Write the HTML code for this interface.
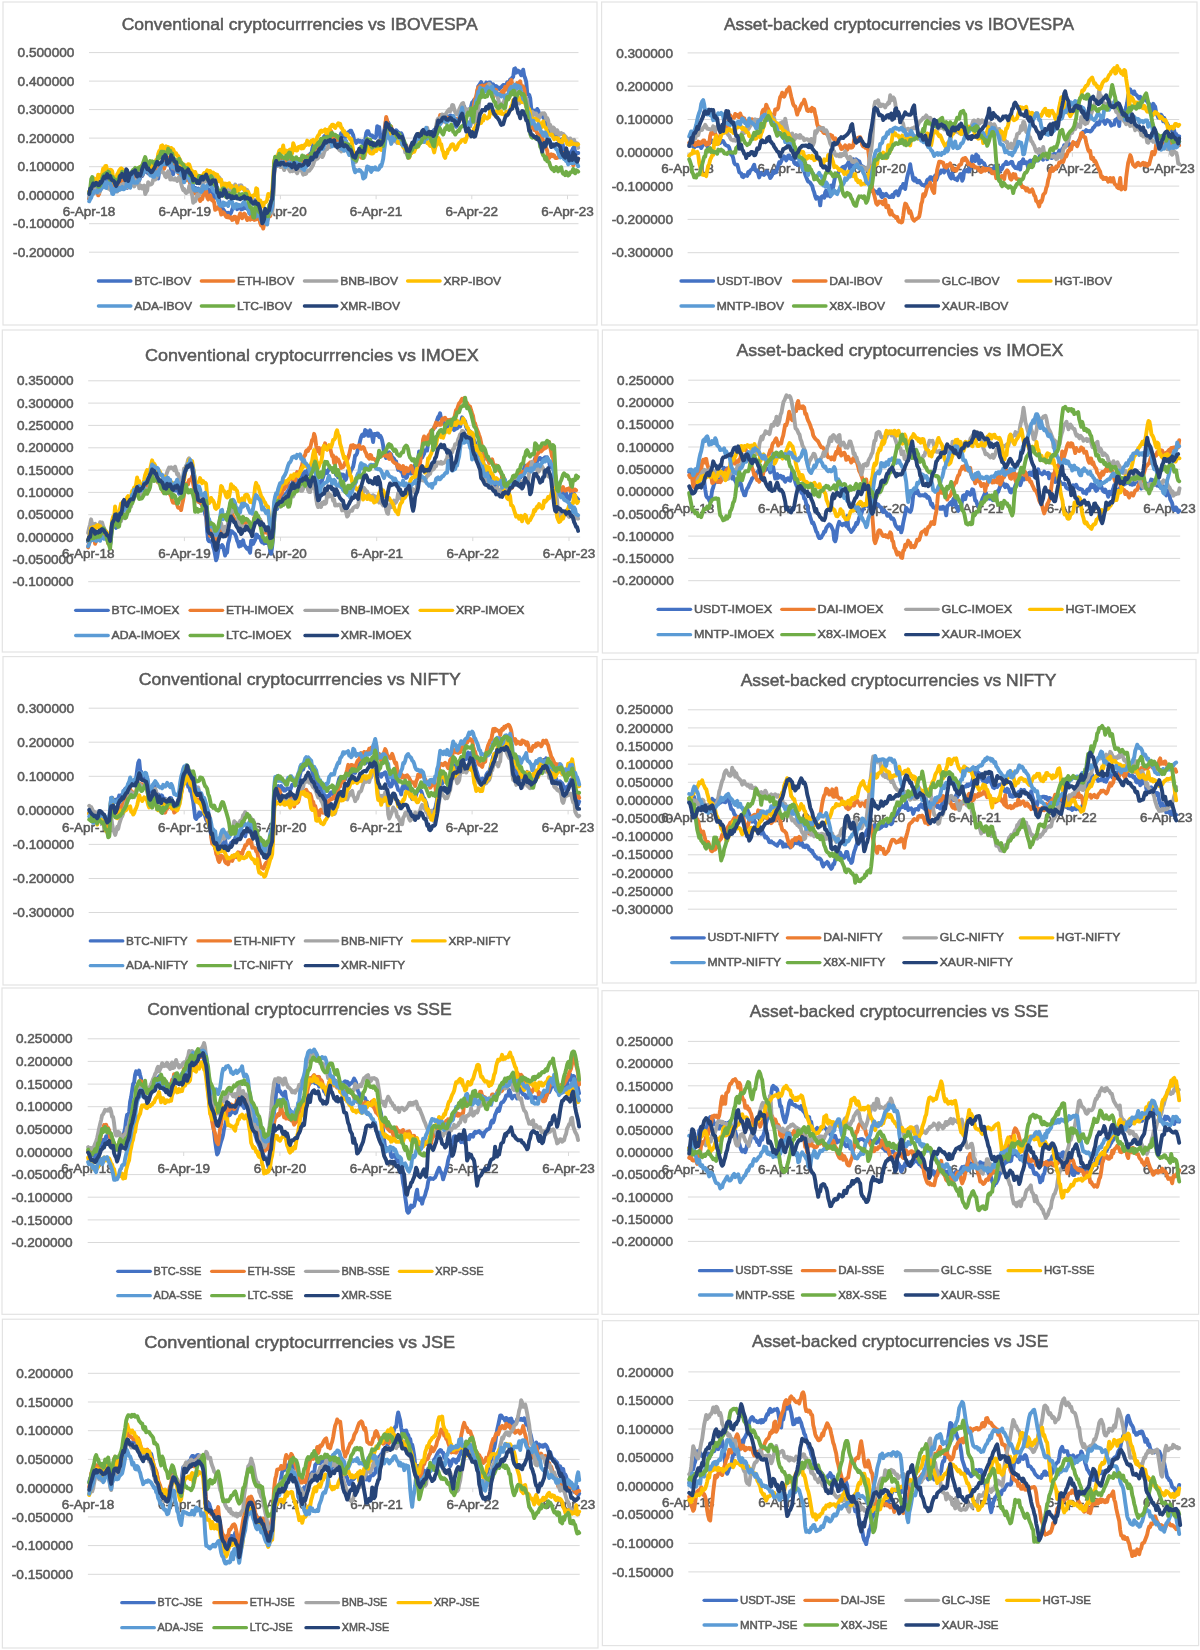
<!DOCTYPE html><html><head><meta charset="utf-8"><style>html,body{margin:0;padding:0;background:#fff;}svg{display:block;filter:blur(0.45px);}text{font-family:"Liberation Sans",sans-serif;fill:#595959;stroke:#595959;stroke-width:0.5px;}</style></head><body>
<svg width="1200" height="1650" viewBox="0 0 1200 1650">
<rect x="0" y="0" width="1200" height="1650" fill="#fff"/>
<g><rect x="3.0" y="2.0" width="594.0" height="323.0" fill="#fff" stroke="#e3e3e3" stroke-width="1.2"/><text x="121.7" y="30.0" font-size="17.0" textLength="356.0" lengthAdjust="spacingAndGlyphs">Conventional cryptocurrrencies vs IBOVESPA</text><line x1="89.0" y1="52.6" x2="578.5" y2="52.6" stroke="#d9d9d9" stroke-width="1"/><text x="74.4" y="57.2" font-size="12.8" text-anchor="end" textLength="56.8" lengthAdjust="spacingAndGlyphs">0.500000</text><line x1="89.0" y1="81.1" x2="578.5" y2="81.1" stroke="#d9d9d9" stroke-width="1"/><text x="74.4" y="85.7" font-size="12.8" text-anchor="end" textLength="56.8" lengthAdjust="spacingAndGlyphs">0.400000</text><line x1="89.0" y1="109.6" x2="578.5" y2="109.6" stroke="#d9d9d9" stroke-width="1"/><text x="74.4" y="114.2" font-size="12.8" text-anchor="end" textLength="56.8" lengthAdjust="spacingAndGlyphs">0.300000</text><line x1="89.0" y1="138.1" x2="578.5" y2="138.1" stroke="#d9d9d9" stroke-width="1"/><text x="74.4" y="142.8" font-size="12.8" text-anchor="end" textLength="56.8" lengthAdjust="spacingAndGlyphs">0.200000</text><line x1="89.0" y1="166.7" x2="578.5" y2="166.7" stroke="#d9d9d9" stroke-width="1"/><text x="74.4" y="171.3" font-size="12.8" text-anchor="end" textLength="56.8" lengthAdjust="spacingAndGlyphs">0.100000</text><line x1="89.0" y1="195.2" x2="578.5" y2="195.2" stroke="#d9d9d9" stroke-width="1"/><text x="74.4" y="199.8" font-size="12.8" text-anchor="end" textLength="56.8" lengthAdjust="spacingAndGlyphs">0.000000</text><line x1="89.0" y1="223.7" x2="578.5" y2="223.7" stroke="#d9d9d9" stroke-width="1"/><text x="74.4" y="228.3" font-size="12.8" text-anchor="end" textLength="61.3" lengthAdjust="spacingAndGlyphs">-0.100000</text><line x1="89.0" y1="252.2" x2="578.5" y2="252.2" stroke="#d9d9d9" stroke-width="1"/><text x="74.4" y="256.8" font-size="12.8" text-anchor="end" textLength="61.3" lengthAdjust="spacingAndGlyphs">-0.200000</text><line x1="89.0" y1="195.2" x2="89.0" y2="199.2" stroke="#d9d9d9" stroke-width="1"/><line x1="184.7" y1="195.2" x2="184.7" y2="199.2" stroke="#d9d9d9" stroke-width="1"/><line x1="280.4" y1="195.2" x2="280.4" y2="199.2" stroke="#d9d9d9" stroke-width="1"/><line x1="376.1" y1="195.2" x2="376.1" y2="199.2" stroke="#d9d9d9" stroke-width="1"/><line x1="471.8" y1="195.2" x2="471.8" y2="199.2" stroke="#d9d9d9" stroke-width="1"/><line x1="567.5" y1="195.2" x2="567.5" y2="199.2" stroke="#d9d9d9" stroke-width="1"/><text x="89.0" y="215.5" font-size="12.8" text-anchor="middle" textLength="52.5" lengthAdjust="spacingAndGlyphs">6-Apr-18</text><text x="184.7" y="215.5" font-size="12.8" text-anchor="middle" textLength="52.5" lengthAdjust="spacingAndGlyphs">6-Apr-19</text><text x="280.4" y="215.5" font-size="12.8" text-anchor="middle" textLength="52.5" lengthAdjust="spacingAndGlyphs">6-Apr-20</text><text x="376.1" y="215.5" font-size="12.8" text-anchor="middle" textLength="52.5" lengthAdjust="spacingAndGlyphs">6-Apr-21</text><text x="471.8" y="215.5" font-size="12.8" text-anchor="middle" textLength="52.5" lengthAdjust="spacingAndGlyphs">6-Apr-22</text><text x="567.5" y="215.5" font-size="12.8" text-anchor="middle" textLength="52.5" lengthAdjust="spacingAndGlyphs">6-Apr-23</text><path d="M89.2 198.9 l1 -5.7 1 -3.8 1 -1.8 1 -2 1 1.4 1 -0.2 1 3.2 1 3.1 1 -4.9 1 -1.4 1 2.5 1 -3.2 1 -2.7 1 1 1 -5.4 1 0 1 2.7 1 -2.6 1 -1.2 1 0.6 1 0.7 1 6.7 1 -2 1 0.5 1 1.5 1 1.9 1 0.4 1 -3.9 1 -0.9 1 -1.9 1 -1.1 1 -1.5 1 1.8 1 1.3 1 2.8 1 2.1 1 0.8 1 0.3 1 -5.7 1 -2.9 1 1.6 1 1 1 -4.9 1 -1.7 1 0 1 0.3 1 1.1 1 0.4 1 3.1 1 0.3 1 -3 1 -3.4 1 1.8 1 -2.3 1 -2.2 1 -4.9 1 2.3 1 3.5 1 1.1 1 0.1 1 -1.1 1 -0.3 1 -1.6 1 2.7 1 0.1 1 0 1 -0.4 1 -2.4 1 7.9 1 -7.1 1 -1 1 -3 1 -1.4 1 -1.6 1 0.4 1 0.3 1 -1.1 1 -3.4 1 0.8 1 1.4 1 1.3 1 5.7 1 3.5 1 1 1 -6.1 1 -0.1 1 -1.7 1 -0.5 1 2 1 0.8 1 3 1 1.8 1 3.2 1 2.4 1 -8.5 1 -2.4 1 0 1 5.1 1 1.9 1 1.6 1 1.8 1 3.1 1 1.2 1 3.3 1 3.6 1 -2.1 1 0.9 1 0.7 1 -0.8 1 2.7 1 -0.1 1 -0.3 1 0.5 1 0.1 1 -1.5 1 4.6 1 -2.2 1 0.1 1 0.8 1 -3.4 1 0.5 1 0.2 1 2 1 1.1 1 4.6 1 -0.8 1 -1 1 0.4 1 3.5 1 -0.3 1 5.1 1 1.5 1 2.3 1 0.4 1 1.5 1 1.8 1 0.2 1 1.9 1 -2 1 2.7 1 -1.6 1 -1.3 1 -3 1 -2.4 1 0 1 0.2 1 -2.5 1 4.4 1 -2.4 1 -1.6 1 0.8 1 3.5 1 -0.3 1 -1.3 1 0.3 1 -4.2 1 4.2 1 0.6 1 0.6 1 1.9 1 2.8 1 -0.3 1 1.2 1 -1.6 1 -0.1 1 0.8 1 -0.5 1 -1.9 1 0.8 1 1.5 1 0.1 1 1.7 1 1.2 1 3.8 1 -0.7 1 -1.9 1 1.1 1 -0.7 1 -0.5 1 -6.4 1 -1.4 1 -1.6 1 -2.5 1 -19 1 -18.9 1 -9.8 1 1.1 1 1 1 0 1 -0.8 1 -0.3 1 -0.7 1 4 1 1.5 1 -5.2 1 1 1 0.2 1 -0.2 1 2.7 1 -0.5 1 3.1 1 -1.9 1 0.3 1 -0.7 1 -1.6 1 2.8 1 0.2 1 -4.3 1 0.4 1 0.4 1 2.1 1 0.8 1 0.4 1 0.1 1 1.7 1 0.6 1 -1.5 1 -5.2 1 -4.6 1 2.9 1 -4.6 1 0.1 1 -4.5 1 -4.4 1 -4.1 1 9.5 1 -2.3 1 -3.5 1 0.5 1 -2.7 1 0 1 -3.2 1 0.1 1 1 1 -4 1 -0.8 1 3 1 -4.2 1 4.2 1 -0.2 1 -1.9 1 1.9 1 1.1 1 -0.5 1 -1.9 1 0 1 0.1 1 2.2 1 -2.5 1 0.9 1 -1.3 1 -3.1 1 1.8 1 1.5 1 -2.5 1 3.1 1 -2.3 1 -1.3 1 -1.3 1 0.4 1 -1.8 1 -0.1 1 2.5 1 2 1 5.4 1 0.3 1 2.1 1 -2.2 1 -0.6 1 1.6 1 -0.9 1 0.9 1 -0.7 1 2.8 1 0.3 1 -4.9 1 -6.1 1 -2 1 -0.1 1 3 1 1 1 0.5 1 -0.1 1 1.8 1 0 1 0.7 1 -1.9 1 -9.9 1 0.5 1 0.4 1 8.3 1 8.8 1 -2.9 1 -2.2 1 -8.6 1 -3.9 1 -8 1 3.5 1 0.2 1 2.2 1 5.8 1 -0.3 1 2.5 1 -2 1 0.5 1 1.4 1 -2.2 1 1.2 1 1 1 0.6 1 0.8 1 -0.6 1 1.9 1 6.2 1 3.9 1 -1.1 1 1.6 1 3.8 1 4.8 1 2.2 1 -2.3 1 -7.9 1 -1.3 1 0.3 1 -4.2 1 -1.2 1 -2.4 1 -1.1 1 0.3 1 -2.9 1 0.1 1 1.4 1 1.6 1 -3.9 1 2 1 0.6 1 0.9 1 0.7 1 -3.2 1 2.3 1 -0.8 1 0.6 1 0.4 1 -5.3 1 -1.3 1 2 1 -3.4 1 -4.9 1 -3.6 1 0.6 1 0.3 1 -1.2 1 -1 1 -3.6 1 0.2 1 1.8 1 0.8 1 -1.6 1 0.8 1 -0.2 1 -1.5 1 0.3 1 1.1 1 -0.2 1 4.8 1 3.7 1 1.7 1 -4.1 1 -0.1 1 -2.7 1 -2.1 1 -3.2 1 -4.4 1 -1.7 1 -2.1 1 4.5 1 0.7 1 -1.6 1 2.9 1 1 1 -2.8 1 -5 1 -3.8 1 -0.7 1 -1.9 1 0.8 1 -2.5 1 -5.4 1 -6.1 1 -1.4 1 -1.3 1 -1.7 1 2.7 1 0.3 1 2.8 1 -2.8 1 -2.5 1 0.8 1 1.5 1 -2.4 1 -0.1 1 2.5 1 1.7 1 -2.2 1 2.8 1 2.3 1 -3.4 1 0.8 1 1 1 1.1 1 -1.5 1 -0.3 1 -1.1 1 -1.1 1 -0.1 1 4.5 1 -2.8 1 -4.4 1 0.4 1 -0.7 1 -2.5 1 0.4 1 -2.1 1 -0.9 1 -7.8 1 -0.6 1 4.3 1 -2.5 1 0.6 1 0.3 1 2.3 1 1.8 1 -2.8 1 -2.7 1 6 1 2.6 1 3.5 1 10.9 1 1.8 1 0.3 1 3.4 1 9.9 1 6.1 1 -0.7 1 -3 1 1.7 1 0.7 1 -3.9 1 1.5 1 3.3 1 0.6 1 0.5 1 0 1 2.6 1 1.1 1 5 1 2 1 3.2 1 1 1 2.3 1 0.7 1 1.9 1 0.8 1 -0.4 1 -1 1 2.5 1 -1.2 1 3.3 1 0.7 1 3.3 1 -2.6 1 -0.7 1 2.7 1 4.7 1 4.1 1 1.2 1 0.6 1 -0.6 1 1.1 1 0 1 0.9 1 -2.4 1 -1.4 1 -2.2 1 -1.2 1 5.3 1 1.6 1 -1 1 0.2" fill="none" stroke="#4472C4" stroke-width="3.90" stroke-linejoin="round" stroke-linecap="round"/><path d="M89.2 198.5 l1 -1.1 1 -6 1 -2.8 1 -0.3 1 -0.2 1 -0.4 1 -0.5 1 0.3 1 7.9 1 -1.7 1 -7.4 1 -5.8 1 -0.7 1 -5.7 1 -0.7 1 -0.5 1 -0.9 1 4.7 1 -0.6 1 0.2 1 6.2 1 -2.3 1 -1.9 1 2.8 1 4.2 1 0.6 1 2.3 1 -2.9 1 -1.6 1 -2 1 -0.3 1 -1.4 1 1.2 1 2.6 1 -2 1 0.9 1 -1.7 1 -0.5 1 1 1 -0.8 1 -2.3 1 0.4 1 1 1 -2.9 1 -2.6 1 3.1 1 -1.4 1 0 1 1.8 1 -1.4 1 0.3 1 -2.5 1 0.7 1 -2.1 1 -4.2 1 -2.3 1 1.6 1 1.7 1 0.9 1 2.8 1 -0.8 1 -1.6 1 1.3 1 0.5 1 -0.2 1 -1.1 1 1.9 1 -2.7 1 -1.7 1 -1.3 1 -0.7 1 -0.4 1 3.2 1 -1.6 1 0.5 1 -4 1 -3.9 1 1.8 1 -1.2 1 -3.6 1 -0.9 1 2.2 1 4.5 1 4.8 1 -1.2 1 -1.3 1 4.5 1 -0.9 1 3.7 1 -3.3 1 0.6 1 1.5 1 -1.1 1 6.3 1 1.7 1 0.5 1 0.8 1 -1.6 1 0.6 1 1.6 1 2.9 1 3.2 1 1.3 1 5.6 1 -2.5 1 1.5 1 0.4 1 2.3 1 1.4 1 1.5 1 2.7 1 -2.4 1 0.6 1 -4.2 1 -1.9 1 0 1 -2 1 6.3 1 2.1 1 -3 1 -1.3 1 3.5 1 1.7 1 -0.2 1 2.5 1 7.2 1 -2.2 1 0.9 1 -1.5 1 1.6 1 1.3 1 4.6 1 -0.5 1 -1.8 1 1 1 1.7 1 1.9 1 0.4 1 -1.5 1 1.8 1 0.3 1 -0.5 1 2.6 1 -0.3 1 -2.9 1 0 1 0.9 1 5 1 -3.7 1 -2.8 1 -2.8 1 2.3 1 2.5 1 -3.4 1 -1.2 1 0.8 1 3.2 1 2.5 1 -2.1 1 0.9 1 0.7 1 -2.6 1 2 1 -1 1 1.9 1 -0.3 1 -0.2 1 -2 1 -2.9 1 3.9 1 4.6 1 2.6 1 -1.1 1 4.1 1 -4.3 1 -1.8 1 -1 1 -0.5 1 -3.7 1 -1.7 1 0.5 1 -4.1 1 -1.5 1 -16.4 1 -20.5 1 -9 1 -1.2 1 2.5 1 -4.3 1 -2.2 1 3.4 1 3.7 1 -4.1 1 -1.6 1 2.7 1 -2 1 2.1 1 0.5 1 -1.1 1 -1.3 1 -1 1 1.1 1 1.5 1 0.9 1 4.9 1 0.2 1 -2.4 1 -4.4 1 0.4 1 -0.4 1 -3.6 1 0.2 1 3.2 1 -1 1 0 1 0 1 -1 1 -3.9 1 -0.8 1 0.1 1 2.6 1 -2.6 1 -2.9 1 0.8 1 -2.8 1 0.6 1 -1.3 1 0.7 1 -4.7 1 -0.6 1 0.5 1 0 1 -0.3 1 -1.2 1 -4.4 1 0.8 1 -1.2 1 0.5 1 0 1 -6.4 1 -0.5 1 -2.3 1 10.6 1 -1.2 1 -2.2 1 1 1 2.8 1 0.7 1 -4.1 1 0 1 4 1 1.8 1 -1 1 -1.3 1 -0.8 1 3 1 4.6 1 1.9 1 -2.1 1 -2.3 1 2.1 1 -0.2 1 1.8 1 1.2 1 2.2 1 6.4 1 0.2 1 -2.6 1 -1.8 1 -1.7 1 -2.6 1 6.3 1 0.3 1 -4.5 1 -0.7 1 -1.7 1 -5.9 1 -5.1 1 2.4 1 1 1 0.7 1 0.5 1 -0.3 1 1.1 1 1.1 1 2.2 1 -0.2 1 -4.5 1 -0.3 1 -0.7 1 -2.2 1 2 1 3.3 1 0.4 1 -7.7 1 -13.3 1 -8.7 1 4.3 1 9 1 -0.5 1 -2.2 1 -0.9 1 5.3 1 0.5 1 0.8 1 3.4 1 2.6 1 0 1 2.7 1 0.4 1 0.6 1 -0.2 1 2.3 1 0.1 1 -1.4 1 2.1 1 -0.4 1 4.5 1 3.7 1 1.1 1 -2.3 1 -6.6 1 -1.7 1 -0.6 1 -1.5 1 -0.3 1 -0.8 1 -2.1 1 0.6 1 -4.6 1 1.6 1 -1.4 1 -0.8 1 1.4 1 -0.2 1 -5.2 1 4.3 1 -0.6 1 -1.1 1 1 1 -0.3 1 3.5 1 -1.5 1 1 1 -0.7 1 -1.8 1 -7.1 1 -2.2 1 -2.1 1 -2.4 1 -5.3 1 0.9 1 -0.5 1 1.1 1 5.2 1 -5.1 1 5.1 1 -3.9 1 0.5 1 0.1 1 -0.1 1 1.7 1 0 1 -0.4 1 0.1 1 -0.7 1 2.5 1 -2.3 1 1.9 1 0.4 1 -2 1 -7.1 1 -2.2 1 2.3 1 6.6 1 1.9 1 2.6 1 -0.7 1 0.1 1 0.8 1 2.6 1 -5.1 1 -6.3 1 -3.9 1 -7.9 1 -4.6 1 -2.2 1 -5.8 1 -3 1 1.4 1 -2.9 1 0.4 1 -0.8 1 3.5 1 -0.9 1 -2.8 1 4.1 1 -5.1 1 2.7 1 2.5 1 2.2 1 0.1 1 4.8 1 0.6 1 -6.8 1 -0.8 1 0.3 1 5.6 1 0.1 1 -1.1 1 -1.2 1 -0.8 1 -1.6 1 2.8 1 -3.4 1 -3.5 1 -0.2 1 3 1 -6.5 1 1.2 1 -2.5 1 -1.9 1 3.5 1 3.6 1 -0.3 1 3.3 1 -4.6 1 -2.5 1 0.9 1 -1.3 1 -1.3 1 5.1 1 -0.5 1 0.6 1 2.3 1 7.8 1 7 1 7.1 1 8.3 1 6.3 1 0.7 1 2.1 1 -1.1 1 -0.9 1 3.8 1 -0.3 1 1.3 1 2.2 1 1.4 1 0.2 1 1.2 1 -0.7 1 2.8 1 3 1 0.3 1 4.4 1 2.6 1 2.3 1 7.8 1 -0.2 1 -2.8 1 -1.2 1 1.9 1 -1.3 1 0.7 1 2.3 1 0.3 1 -0.3 1 -0.4 1 -0.4 1 -4.6 1 2.2 1 1.5 1 -3.3 1 1.8 1 2.9 1 1.6 1 -2.2 1 0.2 1 -0.1 1 2.3 1 0 1 2.2 1 3.8 1 -2 1 0 1 -1.3 1 0 1 -3.3" fill="none" stroke="#ED7D31" stroke-width="3.90" stroke-linejoin="round" stroke-linecap="round"/><path d="M89.2 197.0 l1 -2.2 1 -2.2 1 -0.7 1 0.5 1 1 1 -5.4 1 2 1 -2.1 1 3.9 1 0.9 1 -2.1 1 -2.7 1 -1.4 1 -1.1 1 -3 1 1.1 1 2.9 1 0.2 1 1.9 1 -0.6 1 2 1 -0.9 1 1.1 1 -1.3 1 0.1 1 2.5 1 -1.6 1 1.8 1 -2.3 1 -0.9 1 0.8 1 -4.3 1 0.2 1 -1.4 1 2.8 1 -1.1 1 -0.9 1 2.9 1 -1.9 1 -3.3 1 4 1 -0.8 1 -1.5 1 -0.5 1 3.1 1 -1.8 1 -5.1 1 -0.1 1 -0.5 1 9.3 1 -1.9 1 -0.7 1 2.9 1 -1.8 1 -1.2 1 8.5 1 -2.2 1 -1.3 1 -8.5 1 2.9 1 -0.5 1 -0.2 1 -1 1 -3.9 1 -1 1 1.1 1 -1.4 1 -2.3 1 -1.4 1 -5.2 1 1.7 1 -1.1 1 2.2 1 0.9 1 0.1 1 3.4 1 0.9 1 -4.1 1 -1.8 1 1.4 1 6.7 1 -2.3 1 2.3 1 -0.3 1 0.5 1 -1.3 1 0.8 1 1.8 1 -2.4 1 -1.8 1 -0.9 1 7.9 1 3.6 1 2.8 1 -1.2 1 3 1 1 1 -1.8 1 0.6 1 -5.8 1 2.1 1 3.5 1 3.7 1 7.4 1 -1.1 1 -0.2 1 -2.7 1 -4 1 1.5 1 -1.2 1 -3.2 1 -3 1 -2.5 1 -3.8 1 -0.8 1 -2.8 1 2.2 1 -2.2 1 -1.1 1 0.6 1 -3.3 1 1.1 1 -0.3 1 -1.5 1 3.5 1 0.2 1 2.3 1 0.9 1 0 1 -3.9 1 1.7 1 2 1 1.8 1 0.8 1 1.5 1 5 1 -4.6 1 4.7 1 3.4 1 -2.9 1 2 1 -4 1 0.1 1 -0.5 1 -1.9 1 -2 1 3.3 1 -1.1 1 0.7 1 -1.8 1 3.3 1 -3.6 1 1.8 1 1.6 1 1.4 1 -1.2 1 0.9 1 0.1 1 3.6 1 3.2 1 -0.6 1 3.7 1 -0.1 1 1.1 1 2 1 -3.1 1 3.4 1 1.4 1 0.8 1 -1 1 5 1 2.4 1 2.7 1 2.1 1 0 1 0 1 -0.5 1 -0.1 1 -0.4 1 -0.6 1 -1.7 1 -1 1 0.4 1 -17.2 1 -23.7 1 -8.2 1 2.1 1 -1.4 1 -1.2 1 1.4 1 2.5 1 -1.6 1 -2 1 4 1 2.8 1 -3 1 -0.9 1 -0.8 1 2.6 1 2 1 1.5 1 -1 1 0.8 1 -0.3 1 -3.3 1 2.4 1 1.8 1 1.3 1 -2.7 1 -0.6 1 0.1 1 -1.1 1 3 1 2.8 1 -1.5 1 0.9 1 -0.6 1 -2.4 1 -0.5 1 0.2 1 -1.4 1 -1.1 1 -1.8 1 -1.8 1 -3.2 1 -1.9 1 -1.2 1 0.3 1 -0.9 1 -2.9 1 0.1 1 -0.5 1 2.6 1 -1.5 1 -3.4 1 -2 1 -1 1 -0.2 1 -2.7 1 -4.9 1 5.7 1 -1.3 1 -0.6 1 -1.1 1 0 1 2.2 1 -1.2 1 1.6 1 0.5 1 2.7 1 -3.6 1 5.2 1 -3.5 1 -0.5 1 1.8 1 0.3 1 0.4 1 -1.2 1 1.9 1 2.1 1 1 1 -2.2 1 3.8 1 3 1 4.1 1 -0.1 1 -0.9 1 -4.2 1 -3.1 1 -3.9 1 1.7 1 3 1 -1.1 1 1.3 1 2.3 1 -3.2 1 -7.3 1 -3.6 1 4.6 1 -0.5 1 -4 1 3.8 1 3 1 -0.5 1 -1.6 1 -3.5 1 2.5 1 0.5 1 -1.2 1 0.1 1 2.4 1 -1.1 1 1.8 1 -2.9 1 -6.8 1 -5.5 1 -7.4 1 2.8 1 1.4 1 5.6 1 -1.4 1 0.9 1 2 1 3.3 1 -2.3 1 1.3 1 0.5 1 1.7 1 -2 1 1.4 1 -2.1 1 -0.5 1 0.1 1 0.4 1 4.8 1 7.4 1 0.2 1 2.8 1 2.7 1 -0.5 1 -3.1 1 -2.5 1 0.3 1 -2.3 1 -5.3 1 -1.2 1 -0.5 1 -1.4 1 0.6 1 -2.2 1 0.1 1 -4.2 1 -1.9 1 -1.2 1 -0.1 1 0 1 -2.9 1 -2.1 1 4.8 1 2.4 1 0.2 1 -0.7 1 -0.3 1 0.1 1 0.9 1 -4 1 -4.9 1 -5.9 1 -1.7 1 -0.4 1 0.6 1 -0.9 1 -3.5 1 5.9 1 -2.1 1 -2.2 1 -2.7 1 -1.5 1 -1.3 1 -1.1 1 1.9 1 -1.9 1 -4.4 1 0.1 1 4.1 1 2.8 1 2.1 1 0.6 1 -1.4 1 -3.9 1 -2.1 1 -2.1 1 -1.7 1 -0.5 1 5.3 1 3.7 1 -2.8 1 3 1 0.7 1 -3.8 1 0.7 1 2.8 1 0.5 1 3 1 -0.2 1 7.3 1 -2 1 -3.2 1 -8.8 1 -7.8 1 -6.6 1 -0.2 1 -0.4 1 -0.5 1 -3.7 1 0.3 1 -1.1 1 -0.3 1 -2.8 1 -2.3 1 1.3 1 2.6 1 4 1 -0.6 1 3.6 1 -1.9 1 -0.5 1 3.4 1 3.2 1 4.3 1 3.3 1 0.4 1 -2 1 -2.3 1 -1.5 1 -5.4 1 1 1 0.9 1 -2.8 1 -0.2 1 -2.2 1 -1.3 1 -2.2 1 -0.6 1 -3.6 1 2.4 1 6.3 1 4.2 1 3.7 1 2.2 1 -2.5 1 -2.5 1 1.4 1 0.1 1 0.1 1 0 1 -2.1 1 2.8 1 7.1 1 6.2 1 -1 1 -0.6 1 -0.8 1 3.6 1 -2.2 1 0.3 1 0.1 1 3.2 1 -1.1 1 2.4 1 -2.7 1 -1.1 1 -1 1 0.4 1 -0.4 1 1.6 1 4.4 1 -1.2 1 2.3 1 7.3 1 -2.8 1 5.1 1 2.3 1 -4.7 1 1 1 2.2 1 2.8 1 -3.3 1 2.3 1 2.5 1 -1.6 1 -0.4 1 1.2 1 -0.3 1 1.5 1 0.9 1 1.1 1 1.2 1 1.2 1 0.9 1 -2.3 1 1.4 1 0.5 1 1.1 1 -1.5 1 3.6 1 -0.5 1 0.4 1 4.5" fill="none" stroke="#A5A5A5" stroke-width="3.90" stroke-linejoin="round" stroke-linecap="round"/><path d="M89.2 191.4 l1 -1 1 -5.3 1 -3.5 1 1.2 1 -4.3 1 0.9 1 1.1 1 1 1 -6.9 1 1.7 1 -1.2 1 2.9 1 -4.7 1 -4.8 1 1.4 1 -3.7 1 -0.3 1 4 1 1.1 1 1.4 1 -2.6 1 0.1 1 1.3 1 6.8 1 4.9 1 -6 1 3.6 1 -6.1 1 -1.5 1 -2.5 1 -1.3 1 -0.8 1 0.8 1 1.8 1 0.5 1 4.2 1 0.8 1 -1.7 1 -1 1 1.9 1 1.2 1 -2.4 1 -2.1 1 0.3 1 -1.2 1 0.5 1 -2.1 1 1.6 1 -2.7 1 0.7 1 -2.4 1 1 1 -2.2 1 -2.7 1 2 1 -3.4 1 2 1 -0.9 1 1.7 1 -0.5 1 2.1 1 1.1 1 -1.1 1 -2.3 1 -1.5 1 0.2 1 -2.5 1 0.4 1 -6.4 1 -2.9 1 0.3 1 -5.5 1 -0.6 1 1.3 1 4.5 1 -2.9 1 -1.8 1 1.9 1 -1.3 1 1.6 1 1.8 1 -2.5 1 2.8 1 -1.3 1 2.6 1 2 1 -0.6 1 2.4 1 0.2 1 2.6 1 1.1 1 6.5 1 -0.6 1 2.2 1 -3.3 1 1.5 1 1 1 -0.5 1 -2.4 1 0.2 1 3.1 1 3.1 1 0.6 1 0.4 1 4.5 1 -4.1 1 3.2 1 0 1 3.6 1 -2.5 1 -0.3 1 0.1 1 1 1 -2.2 1 -1.8 1 0.1 1 -0.7 1 -2.2 1 3 1 -2.3 1 0 1 1.7 1 1.3 1 -1.3 1 1.3 1 0.1 1 2.2 1 -1.5 1 2.8 1 3.8 1 0.2 1 -1.7 1 7.4 1 -2.4 1 1.6 1 -2.9 1 3.4 1 -3.1 1 1 1 -1.6 1 3.8 1 -1.5 1 1.7 1 1.9 1 1.1 1 -0.9 1 -3.3 1 5.2 1 -2.9 1 1.6 1 -1.5 1 -1.3 1 1 1 0.2 1 0 1 3.8 1 1.8 1 1.7 1 -3.7 1 2.5 1 1.1 1 2.1 1 -0.5 1 -1.5 1 -0.7 1 0.3 1 -6.9 1 0.6 1 13 1 -1.9 1 0.3 1 2.7 1 1.2 1 2.4 1 -3.9 1 -0.3 1 -0.6 1 -2.4 1 -5.4 1 0.9 1 1.4 1 -2.2 1 -3.2 1 -13.3 1 -16.6 1 -3.4 1 -1.1 1 0.7 1 -2.7 1 -3.7 1 -1.1 1 2.5 1 -0.9 1 -5.8 1 7.5 1 -2.7 1 0.3 1 0.7 1 2.6 1 -3.8 1 -0.6 1 5.3 1 -1.8 1 -9.7 1 2.7 1 4.1 1 0.4 1 0 1 -3.4 1 -0.2 1 -0.5 1 2 1 -2.6 1 2.5 1 -1.8 1 -2.3 1 0.7 1 -4.3 1 2.9 1 1.3 1 -1.7 1 -2.2 1 -0.4 1 -0.8 1 2.8 1 1.3 1 -2.8 1 -3.8 1 -1.8 1 -0.9 1 -3.2 1 -0.7 1 1.2 1 -1.2 1 -0.1 1 -1.1 1 3.9 1 -3.4 1 -0.2 1 3.2 1 -5.9 1 -0.8 1 -1.6 1 0 1 2.3 1 1.1 1 -2.2 1 -1 1 -1.6 1 2.2 1 -1.5 1 4 1 0.4 1 3.4 1 -0.6 1 3.4 1 0.6 1 -1 1 2.1 1 1.3 1 1.8 1 -0.4 1 5.8 1 6.4 1 4.1 1 1.5 1 -0.5 1 -1.9 1 -2 1 -1.9 1 0.9 1 1.1 1 1.2 1 1.7 1 0.3 1 -2.2 1 -2.5 1 -6.5 1 4.8 1 1.8 1 2.1 1 0.4 1 0 1 -0.2 1 -2.5 1 0.4 1 -0.1 1 -2 1 -1.6 1 -0.6 1 1.4 1 1.6 1 0.1 1 -0.3 1 -6.2 1 -6.5 1 -6.7 1 4.9 1 -1.8 1 -0.1 1 3.1 1 4.1 1 -0.7 1 -2.1 1 1.3 1 -4.3 1 3.4 1 1.1 1 3.5 1 0.4 1 0 1 0.9 1 -0.4 1 3.5 1 1.2 1 0 1 1.5 1 2 1 0.9 1 4.8 1 -3.5 1 -0.6 1 -3.5 1 1.9 1 0.1 1 -2.5 1 -2.8 1 0.2 1 -0.1 1 -3.2 1 -10 1 7.8 1 0.1 1 0.3 1 0 1 -1.5 1 -1.3 1 4.1 1 -1 1 2.8 1 1.1 1 -1.3 1 1.3 1 2.8 1 3.7 1 -4.9 1 -2.2 1 -2.3 1 -5.1 1 1.8 1 5 1 -0.5 1 5.5 1 2 1 4.6 1 1.6 1 -5.3 1 0.9 1 -4 1 0 1 -2.1 1 -2.4 1 -0.8 1 0.2 1 2.6 1 2.8 1 -0.8 1 -1.5 1 -2.9 1 -1.5 1 -0.5 1 -1.7 1 -1 1 0.4 1 -0.9 1 2.6 1 -2.7 1 -4.2 1 -0.6 1 -0.4 1 -0.4 1 0.7 1 1.3 1 -5.1 1 -2.1 1 -1.4 1 -1.7 1 -1.2 1 -0.3 1 -0.1 1 -1.2 1 0.3 1 -4 1 1.6 1 -5.1 1 2.1 1 0 1 1 1 -1.3 1 0.1 1 -6.7 1 1 1 1.2 1 -0.3 1 2.1 1 -2.2 1 -1.1 1 2 1 -1.9 1 -0.1 1 2.1 1 -2.1 1 2.7 1 -0.4 1 0.6 1 1.1 1 -3.6 1 0.6 1 0.1 1 -1.6 1 -0.6 1 -3.9 1 -1.4 1 -4.7 1 -0.7 1 1.1 1 -1.9 1 0 1 1.1 1 -1.7 1 -0.1 1 2.6 1 1.6 1 -7.3 1 0.8 1 8 1 2.8 1 -0.1 1 4 1 -1.4 1 4.8 1 6.4 1 1.1 1 -2.6 1 1.1 1 -1.2 1 0.6 1 0.8 1 0.6 1 2.3 1 1.8 1 3.1 1 -3.4 1 -3 1 5.2 1 0.6 1 1.6 1 3 1 2.8 1 -0.2 1 0.5 1 -0.4 1 0.1 1 2.8 1 1.8 1 -0.4 1 -1 1 0.8 1 -0.2 1 3.6 1 0.1 1 -1.4 1 1.6 1 -3.5 1 -2.8 1 4.4 1 0.2 1 3.5 1 -0.3 1 0.9 1 -0.1 1 -3 1 2.3 1 -0.4 1 0.3 1 0.4 1 0 1 0.6 1 -0.5" fill="none" stroke="#FFC000" stroke-width="3.90" stroke-linejoin="round" stroke-linecap="round"/><path d="M89.2 201.3 l1 -2.1 1 -1.6 1 -3 1 -1.3 1 -2.1 1 0.2 1 0.2 1 0.8 1 -3.9 1 -0.6 1 2.5 1 -1.5 1 -3.4 1 -3.6 1 5.5 1 -0.7 1 1.2 1 -5.8 1 0.6 1 0.1 1 0.6 1 2.8 1 7.5 1 0.4 1 -5.5 1 0.3 1 2.4 1 -1.3 1 0.3 1 -2.6 1 1.9 1 -1.7 1 -1 1 2.3 1 0 1 -1.4 1 -1.6 1 -8.1 1 -0.7 1 9.2 1 1.1 1 -10.1 1 -3 1 6.9 1 1.3 1 -0.1 1 -0.7 1 0.7 1 -2.2 1 -1.1 1 -3.2 1 -2.4 1 1 1 -1.3 1 -2.3 1 -1.3 1 -0.2 1 1.4 1 0 1 1.5 1 2.8 1 -0.4 1 1.2 1 0.6 1 0.1 1 -3.7 1 -1.2 1 2.1 1 0.8 1 -5.4 1 -0.5 1 -3.3 1 -1.2 1 -1.7 1 1.6 1 -0.1 1 -0.3 1 -0.5 1 1.3 1 0.4 1 -1 1 -0.7 1 4.2 1 -0.5 1 0 1 1.7 1 0.6 1 2.2 1 0.3 1 -4 1 2.3 1 4.5 1 0.9 1 0.2 1 6.5 1 -6.6 1 -0.3 1 1.1 1 0.4 1 2.1 1 2.3 1 -3.3 1 3.8 1 6.6 1 1.7 1 0.6 1 -1.7 1 1.4 1 -0.3 1 -1 1 2 1 0.7 1 -1.2 1 -5.2 1 2.3 1 0.8 1 -0.2 1 -3.2 1 0.9 1 -1.9 1 1 1 1.1 1 1 1 3.5 1 0.5 1 0.9 1 0.2 1 3.9 1 4.9 1 2.9 1 1.5 1 -1 1 1.2 1 -3.4 1 3.1 1 -2.3 1 0.7 1 0.8 1 1.3 1 -4.2 1 0.6 1 -1.1 1 0.5 1 5 1 1.3 1 -3 1 -1.1 1 2.6 1 -1.9 1 1.2 1 -0.4 1 0.1 1 -0.9 1 -1.9 1 -1.1 1 3 1 -0.5 1 2.5 1 2.1 1 4.2 1 -1.8 1 1 1 1.8 1 -0.1 1 -3.2 1 0.4 1 5.4 1 -3.4 1 2 1 -0.5 1 2.8 1 3 1 1.3 1 -0.4 1 -1.6 1 -0.4 1 4.6 1 0.6 1 -8.8 1 -2.3 1 -1.8 1 -1.5 1 -2.9 1 -12.4 1 -21.8 1 -10.3 1 -0.2 1 3.1 1 -5.8 1 3 1 -0.3 1 -0.4 1 0.1 1 -0.4 1 3.2 1 1.9 1 -0.5 1 -1.6 1 -1.3 1 -1.2 1 3.8 1 1.5 1 -2.7 1 -4.9 1 0.3 1 -0.4 1 3 1 -2.3 1 -0.1 1 3.5 1 -0.1 1 3.5 1 1.2 1 -2.4 1 3.8 1 -4.9 1 1.9 1 -1.9 1 -1.8 1 -3 1 -1.7 1 -1.5 1 1.8 1 -0.6 1 -1.9 1 -0.2 1 -1.4 1 0.2 1 -4.1 1 2.1 1 -4.8 1 0.9 1 0.1 1 -0.8 1 -3.1 1 -2.6 1 0.4 1 -2.9 1 0.3 1 1.4 1 0 1 0.1 1 4.3 1 -1 1 -0.2 1 -0.2 1 -0.9 1 -0.2 1 -0.3 1 0.9 1 1.3 1 3.1 1 -0.4 1 1 1 1.4 1 -10.5 1 0.8 1 8.2 1 3.3 1 2.3 1 -0.9 1 1.4 1 1.1 1 7.8 1 5.2 1 2.8 1 -2.2 1 0.6 1 0.1 1 -1 1 0.6 1 1.5 1 0.9 1 5.7 1 -0.6 1 -0.8 1 -5.3 1 -5.4 1 1.6 1 -0.8 1 2.8 1 1.9 1 -4.1 1 1.9 1 -1.5 1 -1 1 2.4 1 -0.3 1 0.4 1 -1.1 1 -3 1 0.8 1 -3.4 1 -4.3 1 -8.7 1 -7.3 1 -11.9 1 3.1 1 2.9 1 1.9 1 0.8 1 4.4 1 -7.5 1 3.6 1 0.2 1 -1.7 1 -0.9 1 -1.1 1 -1 1 2.6 1 -1.4 1 2.4 1 5.6 1 1.1 1 -0.8 1 1.3 1 1 1 1.7 1 6.7 1 -4.1 1 1.1 1 -3.8 1 -2.7 1 1 1 -3.5 1 -0.9 1 -2.6 1 -1.3 1 0.3 1 -0.8 1 -0.7 1 -3.5 1 -0.6 1 2.5 1 6 1 -11.6 1 -2.7 1 10.9 1 -1.5 1 -1.4 1 1.2 1 -0.1 1 1.9 1 -0.5 1 1.5 1 -2.2 1 -7 1 -2.9 1 4.2 1 -7.4 1 -0.3 1 -1.6 1 -1.3 1 -1.3 1 -1.6 1 2.9 1 1.3 1 -0.6 1 -1.7 1 0.3 1 -1.8 1 0.9 1 -0.1 1 -3.6 1 2.3 1 0.9 1 1.9 1 2.4 1 0.3 1 -3.1 1 -5.6 1 -3.2 1 -4.3 1 7.5 1 6 1 4.1 1 -2.7 1 1.8 1 -2 1 3 1 0.7 1 -5.5 1 -7.4 1 -3.5 1 0.2 1 -3.5 1 -6.4 1 -2.5 1 -5.7 1 -0.3 1 -3.8 1 1.2 1 3.9 1 -3.8 1 1.4 1 1.1 1 -3 1 -1.6 1 4.3 1 0.2 1 -1.3 1 -2.7 1 -0.7 1 2.9 1 2.6 1 0.5 1 -0.4 1 2.4 1 -0.2 1 -0.1 1 0.6 1 1.6 1 -0.7 1 -0.2 1 0.3 1 2.3 1 -2.9 1 0 1 -0.4 1 -4.5 1 -2.2 1 -1.4 1 2.9 1 -2.9 1 0.8 1 -2.9 1 0.9 1 2.7 1 -2.5 1 0.7 1 0.5 1 4.4 1 3.7 1 4 1 0.7 1 1.9 1 2.9 1 5.1 1 2.8 1 1.9 1 7 1 2.4 1 -3 1 -0.1 1 3.1 1 2.1 1 3 1 -0.1 1 -4.7 1 2.6 1 2.8 1 3 1 -0.5 1 3.5 1 0.3 1 -3.2 1 1.9 1 2.8 1 4.7 1 -3 1 4.6 1 2.7 1 -2 1 0 1 2.6 1 0.4 1 1.8 1 0.7 1 2.9 1 2.8 1 2 1 -0.9 1 -0.7 1 1.7 1 1.5 1 0.4 1 1.7 1 0.2 1 3 1 -2.8 1 1.4 1 0.2 1 -1.2 1 1.1 1 -2.6 1 1.8 1 0.8 1 0.7 1 2.5" fill="none" stroke="#5B9BD5" stroke-width="3.90" stroke-linejoin="round" stroke-linecap="round"/><path d="M89.2 193.2 l1 -4.1 1 -10 1 -2 1 8.1 1 -0.3 1 0.4 1 -0.3 1 0.2 1 1.6 1 -0.2 1 -1.5 1 -3.2 1 -3.7 1 -2.7 1 -1.2 1 1.2 1 -2.6 1 1.7 1 -3 1 0.9 1 7.4 1 -1.6 1 -1.7 1 1.3 1 2.3 1 -0.4 1 1.4 1 0.6 1 -2.3 1 -2.8 1 0.1 1 -1.9 1 -3.2 1 1.2 1 4.5 1 0.8 1 -1 1 -0.2 1 -2.9 1 0.5 1 -1.4 1 -0.3 1 -1.6 1 -1.6 1 -0.4 1 -1.5 1 2.4 1 0.2 1 -2.5 1 -0.6 1 1.4 1 -1.1 1 -2.2 1 -2.5 1 -3.2 1 -2.7 1 3.4 1 3 1 2.7 1 -1.6 1 -3.5 1 0.9 1 -0.6 1 0.6 1 1.9 1 -1.8 1 0 1 -1.3 1 -3.9 1 1.2 1 -3.4 1 -2.9 1 0.1 1 2.1 1 -2 1 3.5 1 0.1 1 -2.1 1 -4.8 1 2.4 1 -0.2 1 3.8 1 -1.1 1 3.9 1 4.1 1 -2.1 1 1.3 1 2.2 1 -2.2 1 -1.9 1 3.3 1 0.3 1 1.3 1 0.9 1 2.4 1 0.6 1 0.6 1 -0.2 1 1.5 1 2.5 1 3.4 1 -1.3 1 3.9 1 4.1 1 -0.5 1 -1 1 2.1 1 0 1 -1.6 1 -5.1 1 1.6 1 -0.1 1 1 1 -2.1 1 -0.1 1 -0.8 1 3.2 1 -1.4 1 1 1 1.8 1 -2.6 1 -1.5 1 2 1 2.6 1 3.9 1 -0.7 1 3.1 1 0.4 1 3.1 1 0.4 1 2.8 1 1.8 1 -6.1 1 -1.1 1 0.4 1 7.1 1 1.3 1 0.3 1 -1.3 1 -2.9 1 1.2 1 1.8 1 0.3 1 -5.7 1 -1.1 1 7.1 1 1.5 1 0 1 -1.4 1 -2.7 1 2 1 -0.9 1 -1.2 1 1.1 1 -0.7 1 -0.6 1 0 1 4.5 1 2.3 1 3.2 1 3.5 1 0.2 1 2.8 1 7.1 1 0.3 1 -10 1 -5.2 1 4.4 1 1.2 1 4.3 1 0.1 1 2.6 1 0.8 1 4.3 1 -7.2 1 -3 1 1.4 1 4.8 1 0.1 1 -11.1 1 -1.3 1 -2.4 1 -2 1 -14.9 1 -21.4 1 -6.6 1 3.3 1 -0.7 1 1 1 -6.5 1 2.8 1 -0.9 1 1.8 1 -0.1 1 1 1 -0.3 1 -2.3 1 3.2 1 -4.9 1 -1.5 1 0.4 1 5.4 1 -1.3 1 3.2 1 -1.6 1 0 1 -1.4 1 1.6 1 0.1 1 0.9 1 0.6 1 -0.4 1 -4.5 1 1.5 1 -0.7 1 1.5 1 -1 1 1.3 1 1.7 1 -0.9 1 -3.2 1 -1.8 1 -1.4 1 -1.6 1 -4.1 1 1 1 -2.5 1 -1 1 -1.6 1 2.4 1 -4.2 1 -2.1 1 0 1 3 1 -3.9 1 -0.1 1 0 1 -1.1 1 1.2 1 -0.9 1 0.1 1 -3.9 1 -0.2 1 1.8 1 0.2 1 -0.3 1 1.5 1 -0.2 1 2 1 -0.6 1 1.8 1 2.4 1 1.1 1 0.4 1 1.8 1 -1.7 1 2.6 1 0 1 -1.6 1 2.8 1 -0.3 1 2.5 1 6 1 3.3 1 -0.6 1 2 1 0.7 1 -4.4 1 -3.2 1 -1.2 1 -2.6 1 -2.6 1 5.9 1 5.6 1 -5.2 1 -2.8 1 -4.8 1 -6.7 1 2.5 1 1.7 1 -3.2 1 6.8 1 1.1 1 -3.2 1 -1.3 1 1.2 1 1.9 1 -1.1 1 0.6 1 0 1 -4.6 1 2.5 1 -1.2 1 3.7 1 -9.7 1 -4.4 1 -3.9 1 -0.8 1 0.3 1 -2 1 0.2 1 4.1 1 2.2 1 -0.7 1 0.7 1 0.6 1 2.4 1 2.1 1 -1.7 1 -1.6 1 1.8 1 3.2 1 1.2 1 -0.9 1 2.2 1 2.8 1 4.6 1 3.9 1 5 1 -0.8 1 -4.6 1 -1.3 1 -0.8 1 -3.7 1 0.2 1 -1 1 1.7 1 -1.9 1 0.9 1 -2.3 1 -0.7 1 -0.9 1 -3.4 1 -2 1 -2.8 1 3.6 1 -1.6 1 -2.1 1 2.2 1 -0.5 1 0 1 5.2 1 1.5 1 2.9 1 1 1 -7.6 1 -2.9 1 -2.3 1 -3.3 1 -2.8 1 1.4 1 2.1 1 2.2 1 1.3 1 -2.9 1 -3.4 1 0.8 1 -3.4 1 1.8 1 2.7 1 -1.8 1 -3.9 1 2.8 1 4.7 1 0.3 1 2.4 1 -1.6 1 -1.3 1 -1.2 1 0.5 1 -3.2 1 -0.7 1 -1.2 1 0.1 1 -1.3 1 -1.3 1 -4.6 1 -3.7 1 -2.6 1 2.2 1 0.3 1 -6.9 1 1.6 1 12.2 1 -10.2 1 -4.9 1 1.5 1 -5.8 1 0.2 1 -4.1 1 -2.7 1 1.4 1 -7 1 4.7 1 1.8 1 0.2 1 -1.4 1 0.6 1 -3 1 -2 1 1.3 1 0.1 1 4.4 1 2.2 1 2.5 1 0.3 1 4.2 1 1.2 1 1.1 1 -0.7 1 -2.5 1 -0.7 1 1.1 1 0.4 1 2.3 1 -0.7 1 -5.9 1 -4.8 1 2.5 1 -1.8 1 -2.3 1 -2.9 1 1.8 1 -3.6 1 0.1 1 5.1 1 2.2 1 -3 1 -1.6 1 -1.7 1 0.6 1 2.1 1 -0.2 1 -0.4 1 1.7 1 4.1 1 5.1 1 6.9 1 8.7 1 8.4 1 5.1 1 2.8 1 0.9 1 -1.4 1 0.6 1 1.3 1 0.7 1 -1.5 1 0.6 1 1.7 1 7.2 1 1 1 4.7 1 2.9 1 0.6 1 3.4 1 -2 1 3.9 1 0.2 1 0.8 1 3.4 1 2.3 1 1.4 1 -1.3 1 3.1 1 -1.9 1 -2.3 1 2.8 1 1.6 1 -3.1 1 -0.6 1 -0.5 1 4.6 1 2 1 -0.2 1 1.6 1 -3.4 1 2.7 1 1 1 -0.8 1 -2.3 1 -0.1 1 -0.9 1 -2.5 1 3.6 1 0.8 1 -3.1 1 0.5 1 1" fill="none" stroke="#70AD47" stroke-width="3.90" stroke-linejoin="round" stroke-linecap="round"/><path d="M89.2 194.0 l1 -5.5 1 0.3 1 -3 1 -2.4 1 2 1 -0.7 1 -1.9 1 0.9 1 1.5 1 -0.2 1 -2.9 1 0.8 1 -1.8 1 -2.7 1 -1.9 1 1.4 1 -1.5 1 -2.4 1 3.6 1 -1 1 -0.6 1 3.1 1 1.1 1 0.4 1 0.8 1 2.8 1 1.9 1 -2.6 1 -1.3 1 -1.5 1 -5.2 1 1.6 1 -3.3 1 2.8 1 0.5 1 3.1 1 -11 1 1.3 1 10.6 1 -3.6 1 -3.7 1 0.4 1 -2.2 1 -0.4 1 0.9 1 -2.3 1 4.5 1 1.8 1 -3 1 1.1 1 1.2 1 -3.3 1 -3.8 1 -2.3 1 -2.7 1 0 1 2.5 1 3 1 -1 1 1.9 1 0.7 1 1.5 1 -0.7 1 -1.8 1 -1.6 1 -1.7 1 -3 1 -1.6 1 2.7 1 -1.1 1 -0.4 1 -0.5 1 -1.4 1 -4.3 1 0.6 1 -2.5 1 2 1 6.9 1 -1.5 1 0.1 1 -2.3 1 -5.1 1 3.7 1 -0.6 1 2.9 1 0.8 1 0.3 1 8.1 1 0.2 1 -2.8 1 0.9 1 0.1 1 0.6 1 3.2 1 5.7 1 -6.4 1 -0.7 1 0.3 1 -2 1 3.5 1 -0.2 1 2.1 1 1.5 1 4.2 1 -1.7 1 1.1 1 0.3 1 2.8 1 -1.7 1 2 1 -2.9 1 -3.1 1 -0.6 1 3 1 -2 1 -1.2 1 -2 1 3 1 2.7 1 2 1 1.7 1 -0.3 1 -3.3 1 -0.2 1 0.9 1 -0.4 1 3.8 1 8 1 0.8 1 3.8 1 -3.8 1 0.9 1 1.8 1 -1.6 1 -4.7 1 0.9 1 2.2 1 4.8 1 -1.8 1 -0.5 1 0.9 1 2.5 1 -2.3 1 1.5 1 0.2 1 -0.9 1 -0.8 1 2 1 0.3 1 0.2 1 0.4 1 -1.3 1 0.3 1 -1.1 1 -0.9 1 2.6 1 -0.8 1 -0.4 1 0.6 1 0.9 1 -0.6 1 3.3 1 0.6 1 1.4 1 -1 1 -1.6 1 2.6 1 0.4 1 -0.4 1 2.4 1 3.3 1 3.9 1 10 1 -1.6 1 -3 1 -10 1 4.1 1 0.1 1 -2 1 -0.8 1 -4.9 1 -4.2 1 -2.1 1 -12.4 1 -16.3 1 -6.7 1 -2.7 1 3.7 1 0 1 -1.3 1 1.3 1 -1.9 1 0.6 1 -0.6 1 1.8 1 -0.1 1 0.3 1 -0.5 1 0 1 1.1 1 -0.9 1 1.6 1 1.3 1 -1.2 1 -3.1 1 3.2 1 2.9 1 -0.9 1 -1.5 1 -2 1 0.4 1 0.7 1 -0.7 1 -0.1 1 -1.5 1 -2.5 1 -0.2 1 0.2 1 3.9 1 -1.5 1 -3.7 1 -2.2 1 2.1 1 -2.2 1 -0.5 1 -3.5 1 3.2 1 -4.2 1 -0.2 1 -2.8 1 -1.1 1 0.2 1 -1.9 1 -1.6 1 -2.3 1 -1.6 1 1.6 1 -1.2 1 -0.9 1 0.7 1 -1.5 1 1.1 1 0.7 1 -0.7 1 -0.7 1 5.3 1 0.6 1 1.3 1 -2.7 1 1.3 1 -0.2 1 -7.9 1 6.1 1 2 1 0.4 1 -1.3 1 0.6 1 0.6 1 1.9 1 1.4 1 0.1 1 1.3 1 2.8 1 3.1 1 0 1 0.8 1 -3.1 1 -2.5 1 0 1 -3.4 1 1.6 1 1.6 1 -0.7 1 1.2 1 -1.3 1 -5.3 1 -3.7 1 -1.8 1 2.1 1 -0.3 1 2 1 -0.3 1 -1.3 1 3 1 -1.5 1 1.4 1 -0.6 1 -1.7 1 -1.9 1 0.3 1 3.4 1 -0.6 1 -1.8 1 -1.9 1 -6.6 1 -5.2 1 -6 1 1.2 1 0.3 1 3.6 1 1.9 1 -1.1 1 1 1 3.5 1 -1.2 1 -0.4 1 0.9 1 2 1 0.8 1 1.7 1 0.1 1 0.5 1 -0.8 1 2.7 1 4.8 1 0.7 1 2.6 1 3.2 1 0.1 1 0.3 1 -2.3 1 -3 1 -3.1 1 1.6 1 -2.7 1 -3.9 1 -2.3 1 -1.6 1 0.1 1 2.6 1 -2.4 1 0.8 1 -4.2 1 -1 1 2 1 1.7 1 -0.1 1 0.9 1 -2 1 -0.6 1 2.7 1 -2.5 1 1.7 1 2.5 1 -1.1 1 -3.7 1 -3.6 1 -2.2 1 -5.1 1 1.8 1 -1.5 1 0.2 1 -2.4 1 -1.1 1 0 1 0.1 1 2 1 0.3 1 0 1 -1.2 1 -0.8 1 0.5 1 1.7 1 -0.1 1 0.6 1 0.8 1 3.2 1 0.5 1 -1.9 1 -2.4 1 -3.1 1 -2.3 1 -1.7 1 4.6 1 4.6 1 4.4 1 4.4 1 -2.2 1 -1 1 2 1 4.5 1 1.5 1 -4.5 1 2.3 1 2.5 1 -0.5 1 -4.1 1 -3.4 1 -4.9 1 -5.8 1 -4.6 1 -0.8 1 -2.5 1 0.3 1 -0.6 1 0.6 1 -3.6 1 -0.2 1 1.9 1 -4.1 1 0 1 0.2 1 3.6 1 3.3 1 2.5 1 0.9 1 2.1 1 0.4 1 1.4 1 1.5 1 2.6 1 2 1 -0.4 1 -0.2 1 -3.6 1 -3.2 1 -2.3 1 0 1 -0.9 1 -2.3 1 -2 1 -0.7 1 -0.5 1 -4 1 -4.9 1 -1.4 1 7.5 1 2.8 1 4.5 1 1.3 1 3.7 1 -5.7 1 -1.6 1 0.4 1 2.9 1 1.9 1 4 1 0.3 1 4.3 1 6.2 1 -0.1 1 3.7 1 0.2 1 0.9 1 1.4 1 0.3 1 -0.5 1 2.4 1 -0.9 1 2.5 1 1.8 1 2.7 1 6.2 1 -6.8 1 -1.8 1 3.6 1 -2.4 1 -4.6 1 1.7 1 -1 1 2.1 1 4.7 1 -0.6 1 -1.7 1 1 1 -1.2 1 -0.7 1 0.7 1 0.3 1 0.6 1 1.6 1 4.6 1 1.9 1 2 1 1 1 1.2 1 -9.7 1 4.1 1 0.6 1 7.8 1 -2.4 1 -1.8 1 3.6 1 -7.5 1 3.1 1 -0.5 1 5.7 1 0.9 1 -3" fill="none" stroke="#264478" stroke-width="3.90" stroke-linejoin="round" stroke-linecap="round"/><line x1="98.4" y1="281.0" x2="130.9" y2="281.0" stroke="#4472C4" stroke-width="3.3" stroke-linecap="round"/><text x="134.2" y="284.6" font-size="11.4" textLength="57.1" lengthAdjust="spacingAndGlyphs">BTC-IBOV</text><line x1="201.3" y1="281.0" x2="233.8" y2="281.0" stroke="#ED7D31" stroke-width="3.3" stroke-linecap="round"/><text x="237.1" y="284.6" font-size="11.4" textLength="57.1" lengthAdjust="spacingAndGlyphs">ETH-IBOV</text><line x1="304.4" y1="281.0" x2="336.9" y2="281.0" stroke="#A5A5A5" stroke-width="3.3" stroke-linecap="round"/><text x="340.2" y="284.6" font-size="11.4" textLength="57.8" lengthAdjust="spacingAndGlyphs">BNB-IBOV</text><line x1="407.6" y1="281.0" x2="440.1" y2="281.0" stroke="#FFC000" stroke-width="3.3" stroke-linecap="round"/><text x="443.4" y="284.6" font-size="11.4" textLength="57.8" lengthAdjust="spacingAndGlyphs">XRP-IBOV</text><line x1="98.4" y1="306.0" x2="130.9" y2="306.0" stroke="#5B9BD5" stroke-width="3.3" stroke-linecap="round"/><text x="134.2" y="309.6" font-size="11.4" textLength="57.8" lengthAdjust="spacingAndGlyphs">ADA-IBOV</text><line x1="201.3" y1="306.0" x2="233.8" y2="306.0" stroke="#70AD47" stroke-width="3.3" stroke-linecap="round"/><text x="237.1" y="309.6" font-size="11.4" textLength="54.9" lengthAdjust="spacingAndGlyphs">LTC-IBOV</text><line x1="304.4" y1="306.0" x2="336.9" y2="306.0" stroke="#264478" stroke-width="3.3" stroke-linecap="round"/><text x="340.2" y="309.6" font-size="11.4" textLength="59.8" lengthAdjust="spacingAndGlyphs">XMR-IBOV</text></g>
<g><rect x="601.6" y="2.0" width="595.4" height="323.0" fill="#fff" stroke="#e3e3e3" stroke-width="1.2"/><text x="724.0" y="30.0" font-size="17.0" textLength="350.0" lengthAdjust="spacingAndGlyphs">Asset-backed cryptocurrencies vs IBOVESPA</text><line x1="687.6" y1="52.9" x2="1179.2" y2="52.9" stroke="#d9d9d9" stroke-width="1"/><text x="673.0" y="57.5" font-size="12.8" text-anchor="end" textLength="56.8" lengthAdjust="spacingAndGlyphs">0.300000</text><line x1="687.6" y1="86.2" x2="1179.2" y2="86.2" stroke="#d9d9d9" stroke-width="1"/><text x="673.0" y="90.8" font-size="12.8" text-anchor="end" textLength="56.8" lengthAdjust="spacingAndGlyphs">0.200000</text><line x1="687.6" y1="119.5" x2="1179.2" y2="119.5" stroke="#d9d9d9" stroke-width="1"/><text x="673.0" y="124.1" font-size="12.8" text-anchor="end" textLength="56.8" lengthAdjust="spacingAndGlyphs">0.100000</text><line x1="687.6" y1="152.8" x2="1179.2" y2="152.8" stroke="#d9d9d9" stroke-width="1"/><text x="673.0" y="157.4" font-size="12.8" text-anchor="end" textLength="56.8" lengthAdjust="spacingAndGlyphs">0.000000</text><line x1="687.6" y1="186.1" x2="1179.2" y2="186.1" stroke="#d9d9d9" stroke-width="1"/><text x="673.0" y="190.7" font-size="12.8" text-anchor="end" textLength="61.3" lengthAdjust="spacingAndGlyphs">-0.100000</text><line x1="687.6" y1="219.4" x2="1179.2" y2="219.4" stroke="#d9d9d9" stroke-width="1"/><text x="673.0" y="224.0" font-size="12.8" text-anchor="end" textLength="61.3" lengthAdjust="spacingAndGlyphs">-0.200000</text><line x1="687.6" y1="252.7" x2="1179.2" y2="252.7" stroke="#d9d9d9" stroke-width="1"/><text x="673.0" y="257.3" font-size="12.8" text-anchor="end" textLength="61.3" lengthAdjust="spacingAndGlyphs">-0.300000</text><line x1="687.5" y1="152.8" x2="687.5" y2="156.8" stroke="#d9d9d9" stroke-width="1"/><line x1="783.7" y1="152.8" x2="783.7" y2="156.8" stroke="#d9d9d9" stroke-width="1"/><line x1="879.9" y1="152.8" x2="879.9" y2="156.8" stroke="#d9d9d9" stroke-width="1"/><line x1="976.2" y1="152.8" x2="976.2" y2="156.8" stroke="#d9d9d9" stroke-width="1"/><line x1="1072.4" y1="152.8" x2="1072.4" y2="156.8" stroke="#d9d9d9" stroke-width="1"/><line x1="1168.6" y1="152.8" x2="1168.6" y2="156.8" stroke="#d9d9d9" stroke-width="1"/><text x="687.5" y="173.3" font-size="12.8" text-anchor="middle" textLength="52.5" lengthAdjust="spacingAndGlyphs">6-Apr-18</text><text x="783.7" y="173.3" font-size="12.8" text-anchor="middle" textLength="52.5" lengthAdjust="spacingAndGlyphs">6-Apr-19</text><text x="879.9" y="173.3" font-size="12.8" text-anchor="middle" textLength="52.5" lengthAdjust="spacingAndGlyphs">6-Apr-20</text><text x="976.2" y="173.3" font-size="12.8" text-anchor="middle" textLength="52.5" lengthAdjust="spacingAndGlyphs">6-Apr-21</text><text x="1072.4" y="173.3" font-size="12.8" text-anchor="middle" textLength="52.5" lengthAdjust="spacingAndGlyphs">6-Apr-22</text><text x="1168.6" y="173.3" font-size="12.8" text-anchor="middle" textLength="52.5" lengthAdjust="spacingAndGlyphs">6-Apr-23</text><path d="M689.2 144.8 l1 0.9 1 -0.9 1 -2.1 1 3.8 1 1 1 -1.2 1 -3.1 1 2.7 1 -0.5 1 0.4 1 -0.3 1 2.6 1 -2 1 -2.5 1 0.8 1 -1.1 1 0.5 1 2.3 1 -3.3 1 0.9 1 -3.9 1 0.3 1 2 1 -0.8 1 0 1 1.4 1 -1.5 1 2.2 1 0.4 1 -0.6 1 -0.2 1 -2.3 1 0.2 1 0.3 1 1.7 1 1.8 1 0.6 1 0.6 1 0.3 1 1.5 1 3.6 1 3.5 1 0.1 1 3.2 1 4.8 1 1.4 1 0.3 1 0 1 3.3 1 4.2 1 0.7 1 0.6 1 3.2 1 0.6 1 -2.2 1 0.8 1 -0.5 1 0.7 1 -3.9 1 1.3 1 -2.8 1 -0.9 1 -0.4 1 -2.7 1 -1.9 1 5.4 1 0.9 1 -0.6 1 3.3 1 3.7 1 -3.3 1 -1.2 1 1.2 1 0.3 1 0.5 1 -1.3 1 -2.1 1 0 1 2.6 1 1.2 1 2.7 1 -1.3 1 -1.7 1 -3.7 1 1.7 1 -0.6 1 -0.1 1 -3.6 1 -3.2 1 -3.3 1 1.2 1 -2 1 -2.5 1 -0.4 1 -2.1 1 1.5 1 2.5 1 -1.8 1 -2.9 1 -0.3 1 3.1 1 0.4 1 -1.1 1 0.8 1 4.2 1 1.1 1 0.4 1 -1.3 1 2.1 1 -0.6 1 -0.8 1 -1.2 1 2.5 1 5.3 1 0.8 1 3.4 1 2.6 1 2.5 1 2.1 1 0.2 1 0.9 1 1.6 1 1.4 1 4.1 1 2.5 1 3.8 1 2.6 1 -1.8 1 1.1 1 0.2 1 7.1 1 -8.4 1 -0.7 1 -0.1 1 1.6 1 -5.4 1 -1.9 1 5.2 1 -0.9 1 0.2 1 1.4 1 -11 1 5.5 1 -3.8 1 -5.9 1 -4.5 1 -2.5 1 1.6 1 -3.1 1 -2 1 -1.2 1 0.3 1 -2.3 1 -0.8 1 3.4 1 -3.1 1 -1.6 1 -0.6 1 -1.7 1 -2.3 1 12.7 1 -1.2 1 -0.9 1 -12.2 1 2.3 1 -0.4 1 -1.7 1 0.8 1 2.3 1 -1.3 1 2.9 1 1.8 1 0.3 1 1 1 0 1 1.1 1 1.3 1 -0.9 1 0.9 1 4.6 1 5.4 1 5.4 1 6.1 1 -1.2 1 1.5 1 -0.1 1 0.6 1 0.7 1 0.9 1 -4.1 1 2 1 5 1 0.9 1 -3.2 1 1.7 1 -0.8 1 -1.1 1 1.8 1 0.4 1 1 1 -0.3 1 0.2 1 -2 1 1.9 1 -3 1 -1.9 1 -0.7 1 0.1 1 3.9 1 -2.3 1 -4.3 1 -1.8 1 0.9 1 -3.8 1 1.3 1 3.7 1 -6.5 1 -5.4 1 -4.1 1 -2.9 1 -5.9 1 6.4 1 3.4 1 5.7 1 1 1 -2.5 1 1.6 1 2.5 1 -0.1 1 -1.3 1 1.6 1 1.4 1 1.2 1 -0.1 1 0.7 1 -0.5 1 -1.8 1 -3.2 1 -1 1 0.6 1 -2.5 1 -0.1 1 1.4 1 1.4 1 -2.1 1 -2.4 1 4.4 1 -2.4 1 -3 1 -0.9 1 -0.2 1 -2.9 1 1 1 -1.3 1 2.2 1 -4.1 1 0.8 1 -0.2 1 2.4 1 3.4 1 2.4 1 1.3 1 -4.9 1 3.1 1 1.8 1 0.8 1 -0.2 1 1.2 1 -3.1 1 -0.4 1 -2.6 1 -0.1 1 6.8 1 -2.4 1 -7.6 1 0 1 0.5 1 -1.5 1 1.8 1 -0.4 1 -3 1 -3.7 1 -8.2 1 3.7 1 -2.4 1 3.5 1 -6.7 1 2.6 1 -0.6 1 7.1 1 -1.3 1 -1.6 1 1.7 1 0.4 1 0.8 1 2.5 1 2.7 1 -1 1 1.7 1 -0.1 1 -0.5 1 3.6 1 -3.4 1 0 1 -0.5 1 -2.4 1 4.2 1 1.3 1 2.2 1 -2.5 1 -3.5 1 2 1 -1.3 1 -3.4 1 -0.4 1 -1.4 1 -1.5 1 2.3 1 -0.3 1 -0.2 1 -0.8 1 -1 1 0.2 1 3.6 1 0.9 1 1.4 1 -0.4 1 0.9 1 -2.5 1 -2.8 1 6.5 1 -7.8 1 -0.1 1 -2.4 1 3.9 1 -1.2 1 0.1 1 1.9 1 3.9 1 -6.3 1 -1.1 1 2.1 1 0 1 -2.5 1 2.3 1 -2.3 1 0.5 1 -0.8 1 0.7 1 -3 1 -2.6 1 3.3 1 0.6 1 0.9 1 -2.9 1 0.7 1 -2.2 1 3.9 1 -3.8 1 0.9 1 -1.7 1 3.4 1 0 1 -2.2 1 -2.2 1 0.6 1 -0.1 1 0 1 -0.9 1 -2.6 1 3.3 1 -0.6 1 -4.3 1 -0.6 1 -3.2 1 0.3 1 0.4 1 -0.6 1 0 1 -1.4 1 0.9 1 1.5 1 -2.1 1 -0.9 1 0.6 1 0.3 1 -0.1 1 -0.5 1 -2.1 1 -1.2 1 -2.3 1 -1.4 1 -1.8 1 -3.1 1 0.6 1 -0.6 1 -1.6 1 1 1 0 1 -0.1 1 0.6 1 -0.7 1 -1.1 1 -2.2 1 -0.4 1 -1.9 1 -1 1 -1.8 1 2.1 1 -0.4 1 -3.4 1 -1.2 1 -3.4 1 4.7 1 1.3 1 1.7 1 -2.7 1 -1.1 1 0.8 1 0.4 1 1.3 1 3.1 1 -0.6 1 -0.7 1 0.1 1 -4.6 1 0.3 1 -1.8 1 -0.1 1 7.8 1 -11.7 1 -0.6 1 -0.8 1 -1.7 1 -0.6 1 0 1 -3.6 1 -4.6 1 -7.2 1 -3.2 1 -2.8 1 2.2 1 0.3 1 2 1 -2.4 1 2.9 1 0.5 1 1 1 1.5 1 1.4 1 -2 1 2.4 1 -0.3 1 0.5 1 -0.3 1 0.9 1 0.9 1 0.2 1 1.7 1 1.3 1 3.9 1 6.5 1 -8.3 1 -2.3 1 1.6 1 1.3 1 6.4 1 2 1 2.5 1 -0.7 1 -2.1 1 0 1 1.5 1 5.1 1 -3.5 1 3.1 1 2.4 1 0.1 1 2.2 1 1.4 1 1.8 1 1.2 1 -0.9 1 -1.3 1 2.7 1 4.1 1 -0.6 1 1.8 1 0.1 1 0.3" fill="none" stroke="#4472C4" stroke-width="3.90" stroke-linejoin="round" stroke-linecap="round"/><path d="M689.2 142.8 l1 -0.4 1 -2.3 1 1.6 1 -0.4 1 2.9 1 1 1 -2.3 1 1.2 1 -2.5 1 2.5 1 -1.9 1 1 1 -1.1 1 -1.7 1 0 1 2.7 1 1.6 1 -2 1 1.5 1 -0.7 1 -7.7 1 -3.1 1 -0.5 1 1.6 1 -3.2 1 2.6 1 3.3 1 0.7 1 2 1 -0.5 1 -2.1 1 -5.6 1 0.2 1 -3 1 -1.9 1 0.5 1 -1.7 1 2 1 -2.1 1 -8.3 1 -1.4 1 1.7 1 0.6 1 -0.4 1 0.5 1 -3.8 1 0.9 1 0.2 1 1.9 1 0.4 1 -3.9 1 3.1 1 0.6 1 3.2 1 -2.1 1 4.3 1 -1.5 1 0.3 1 0.1 1 0.7 1 0.6 1 -1.2 1 -2.2 1 1.6 1 2.2 1 -1 1 1 1 2 1 -2.2 1 -2.8 1 0.4 1 -1.1 1 -7.1 1 -2.6 1 -0.4 1 1.7 1 -6.4 1 2.4 1 2 1 2.6 1 2.1 1 0.7 1 1.5 1 0 1 -0.8 1 -5.7 1 -0.1 1 0.2 1 -1.6 1 -5.9 1 -5.1 1 -1.2 1 -3 1 3.5 1 0.5 1 -2.4 1 -2.3 1 -2.5 1 -0.1 1 -2.1 1 4.6 1 4.5 1 3.8 1 4.1 1 1.7 1 0.3 1 4.1 1 4.2 1 -3.5 1 -1 1 -2.7 1 -2.5 1 -1.8 1 0.1 1 -3.5 1 2.7 1 4.1 1 4 1 0.5 1 -1 1 -0.8 1 2 1 -3.4 1 2.3 1 -1 1 5.1 1 3.9 1 6.1 1 2.6 1 1.8 1 -1.3 1 2.8 1 -1.4 1 3.7 1 0.7 1 -0.6 1 0.1 1 2 1 1.2 1 0.5 1 -1.6 1 1.4 1 -0.3 1 2.9 1 0.5 1 -1 1 2.3 1 1.1 1 0.1 1 2.8 1 1 1 3.6 1 -0.2 1 -1.6 1 -0.5 1 -1.4 1 2.1 1 2.3 1 -1.7 1 -2.9 1 0.3 1 2.2 1 -0.3 1 -1.5 1 -6.1 1 0.9 1 -2.3 1 0.4 1 -1 1 -0.5 1 -0.2 1 2.5 1 5.2 1 1.5 1 -0.2 1 1.6 1 -0.9 1 1.9 1 1 1 8.6 1 14.3 1 7.9 1 7.6 1 4 1 2.8 1 4 1 4.4 1 1.3 1 -1 1 -2 1 0.3 1 -0.1 1 1.6 1 0.8 1 -3.2 1 -1.3 1 7.5 1 -1 1 -0.4 1 6.3 1 2.3 1 -3.8 1 3.7 1 0.8 1 1 1 0.5 1 1.4 1 -1 1 3.9 1 0.9 1 -0.6 1 1.2 1 -0.5 1 -5.8 1 -7.7 1 -4.8 1 0.6 1 2.5 1 1.6 1 4.4 1 -1.7 1 2.6 1 4.1 1 1.9 1 1.1 1 -1 1 -0.6 1 -0.9 1 -0.4 1 -1.3 1 -4.8 1 -7.5 1 -2.9 1 -7.1 1 2.3 1 -1.7 1 -4 1 -3.9 1 -1.1 1 -0.2 1 -2.9 1 3.3 1 3.5 1 2.1 1 1.4 1 -15.2 1 -0.1 1 -8.1 1 -4 1 -3.9 1 0 1 0.2 1 0.6 1 0.2 1 3.7 1 0.7 1 0.6 1 -2.6 1 1 1 -1.5 1 -1.2 1 2.5 1 1 1 3 1 0.1 1 -0.8 1 1.5 1 -1.8 1 -1.3 1 -2.5 1 -0.3 1 -0.7 1 -4.5 1 -1 1 1.6 1 -2.3 1 1.3 1 1.8 1 3.1 1 -0.8 1 1.3 1 1.2 1 0.2 1 -1.3 1 1.8 1 1 1 -0.2 1 0.3 1 0.1 1 2.9 1 -0.8 1 2.2 1 -0.7 1 -3.2 1 1.4 1 1.1 1 -1.8 1 1.1 1 -1.1 1 0.8 1 -0.2 1 2 1 1.9 1 0.1 1 -1.4 1 0.1 1 6.1 1 -0.3 1 -0.1 1 -1.1 1 1.3 1 -1.7 1 -0.4 1 1.3 1 2 1 -6.4 1 -1.3 1 -1.3 1 1.5 1 2.2 1 4.7 1 1 1 -1.4 1 -4.2 1 2.9 1 -2.5 1 4.5 1 0.1 1 0.2 1 0.2 1 4.3 1 1 1 2.4 1 -0.4 1 1.1 1 0.2 1 2.4 1 -2 1 1.5 1 1.8 1 0.1 1 -1.3 1 -1.1 1 2.6 1 3.3 1 1 1 4.7 1 0.7 1 2 1 2.8 1 -5.2 1 0.8 1 -2.2 1 -4.9 1 -1.4 1 -0.9 1 -4.6 1 -2.4 1 -5.8 1 -2.9 1 -6.4 1 -1.3 1 -1.7 1 3.3 1 -1.9 1 0.1 1 -2.7 1 0.7 1 -1 1 -3.6 1 0 1 -0.5 1 -2.1 1 2 1 -3.1 1 -4.1 1 1.9 1 -2.7 1 -3.1 1 0.2 1 -3.3 1 1.6 1 -4.7 1 -2.6 1 2.1 1 -1.1 1 1.5 1 1.7 1 -2.9 1 -3.1 1 -2.3 1 -4.6 1 -0.4 1 2.4 1 1.9 1 0 1 5.2 1 3.8 1 3.9 1 1.5 1 -0.9 1 7.7 1 0.7 1 -1.3 1 3.8 1 -0.7 1 2 1 2.6 1 2.4 1 2.2 1 1.7 1 5.1 1 -0.3 1 2.3 1 -1.1 1 1.2 1 -1.3 1 1.4 1 2.6 1 -1.7 1 -1.9 1 3.5 1 -3.3 1 -0.2 1 4.7 1 1.9 1 0.3 1 2.3 1 0.8 1 -3.3 1 -6.8 1 11.5 1 -1.3 1 -0.9 1 -0.4 1 2.3 1 -12 1 -7.6 1 -7.1 1 -3.1 1 -4.3 1 2.3 1 4.6 1 2.9 1 0.9 1 1 1 -0.9 1 -2.6 1 -0.5 1 2 1 0.7 1 -0.8 1 -1.4 1 -0.6 1 2.4 1 -1.9 1 1.9 1 0.7 1 -2 1 0.6 1 -4.1 1 -3.4 1 -4.9 1 1.5 1 0.8 1 -2.6 1 -7.8 1 0.2 1 2.7 1 -2.3 1 2.8 1 -2 1 -2.2 1 1.6 1 -1.1 1 -0.4 1 -0.6 1 2.1 1 -6.4 1 0.8 1 2.4 1 3.7 1 -1.7 1 0.2 1 -0.5 1 -2.3 1 -1.5 1 4.7 1 1.2 1 0" fill="none" stroke="#ED7D31" stroke-width="3.90" stroke-linejoin="round" stroke-linecap="round"/><path d="M689.2 145.0 l1 0 1 -3.5 1 -2.4 1 0.9 1 -1.3 1 0 1 -4.1 1 0.7 1 0 1 -4.2 1 -0.7 1 -0.3 1 -0.3 1 -2.4 1 -0.3 1 -2.2 1 1.4 1 2.3 1 0.4 1 0 1 0.4 1 0.2 1 -0.9 1 -2.5 1 2.7 1 2.3 1 -2.3 1 -2.6 1 -1 1 3 1 -0.6 1 -0.1 1 0.3 1 -0.9 1 1.9 1 3.6 1 -1.9 1 2.2 1 2.2 1 0.5 1 2.5 1 1.6 1 0.3 1 0.5 1 -0.8 1 1.1 1 -1 1 -0.1 1 -3 1 -0.5 1 3.3 1 -3.4 1 -3.6 1 0.6 1 0.1 1 -4.6 1 1.9 1 -0.3 1 -0.7 1 -1.5 1 -1.8 1 -1.3 1 -2.5 1 0 1 -1.2 1 -1.7 1 1.8 1 -1.4 1 1.7 1 -1.2 1 0.5 1 -1.6 1 -3 1 2.2 1 -0.1 1 -1.7 1 0.3 1 -1.3 1 -4 1 2.2 1 0.7 1 0.5 1 2.4 1 -0.1 1 1 1 4.8 1 2 1 2.6 1 -1.2 1 -0.3 1 -3.1 1 -0.2 1 -0.8 1 7.3 1 2.4 1 -13.2 1 5.3 1 4.6 1 4.2 1 1 1 0.6 1 0.8 1 -1.6 1 3.8 1 2.8 1 -1.7 1 -3.4 1 2.2 1 -1.5 1 2 1 -2.7 1 2.7 1 -0.3 1 0.4 1 2.4 1 -0.5 1 -0.5 1 -0.1 1 0.7 1 1.3 1 0.5 1 -2.7 1 7.3 1 -1.6 1 -2.7 1 -10.8 1 2.1 1 -1.9 1 -2.6 1 -0.9 1 1 1 -0.1 1 -0.8 1 0 1 3.3 1 -0.8 1 -0.1 1 1.8 1 4.4 1 2.8 1 4.1 1 1.5 1 2.8 1 2.7 1 1.2 1 3 1 1.1 1 -1 1 0.6 1 1 1 -2.2 1 2.1 1 -2.3 1 1.1 1 -0.2 1 -3.5 1 4.2 1 1.7 1 1.9 1 -0.2 1 -2 1 2.3 1 2.6 1 0.4 1 -0.8 1 -1.2 1 1.5 1 2.1 1 1.7 1 1.9 1 0.9 1 -1.8 1 0.1 1 0.9 1 1.8 1 -1 1 1.1 1 -1.8 1 2.7 1 -8.6 1 -7.7 1 -3.4 1 -9 1 -15.1 1 -20.3 1 -4.5 1 -0.1 1 1 1 -2.3 1 5.7 1 -2 1 2.1 1 -1.5 1 0.1 1 1.3 1 1.5 1 -2.6 1 -0.2 1 -2.2 1 0.7 1 -7.9 1 5 1 -0.6 1 -2.3 1 1.3 1 4.4 1 7.9 1 0.4 1 1.6 1 3.3 1 3.8 1 -1 1 2.7 1 2.1 1 5.5 1 0.8 1 -0.5 1 -0.8 1 -0.1 1 1.2 1 1.4 1 -2.7 1 -0.5 1 0.1 1 -1 1 0.9 1 -0.7 1 -0.9 1 -2.3 1 -2.1 1 -0.9 1 -0.9 1 -1.1 1 -1.5 1 0.1 1 -0.7 1 -1.8 1 1.5 1 1.7 1 1.8 1 -2.6 1 1.6 1 2.9 1 1.4 1 -0.6 1 2.7 1 0.9 1 0.8 1 1.5 1 -1.8 1 0.7 1 -0.1 1 -0.9 1 1.1 1 1.5 1 -1.5 1 0.5 1 0.3 1 0.2 1 -2.1 1 0.7 1 -0.3 1 5.6 1 -2.2 1 -0.3 1 0.8 1 0.5 1 0.3 1 -0.7 1 1.9 1 -0.5 1 0 1 1.1 1 0.3 1 -0.7 1 -0.8 1 0.4 1 1.4 1 -2.9 1 -2 1 -1.5 1 -1.2 1 -3 1 -3 1 -0.4 1 1.7 1 1 1 -0.3 1 -3 1 4.1 1 -1 1 -2.4 1 -0.3 1 1.1 1 1.8 1 1 1 -1.4 1 0.2 1 2 1 -1.2 1 -0.6 1 1.6 1 1.8 1 -1.6 1 -0.7 1 1.9 1 3.1 1 0 1 2.4 1 -2.7 1 4.3 1 3.8 1 1.4 1 1.5 1 0.6 1 0.2 1 1.5 1 -0.2 1 6.1 1 -1.3 1 0.7 1 -3.9 1 4.7 1 -2.6 1 0.3 1 -6.4 1 -1 1 -4.6 1 -0.4 1 -0.6 1 -2 1 -5 1 3.9 1 -8 1 0.3 1 4 1 5.7 1 0.9 1 -0.3 1 5.1 1 -0.2 1 3.9 1 0.4 1 2.5 1 1.4 1 3.4 1 2.5 1 -1.6 1 3.1 1 -4 1 0.7 1 0.9 1 4.1 1 -7.8 1 6.4 1 4.2 1 -2.4 1 0.4 1 0.2 1 1.5 1 -0.9 1 -0.6 1 0.9 1 0.3 1 -0.9 1 0.9 1 2.3 1 -0.4 1 -4.4 1 2.3 1 -2.1 1 3 1 -1.9 1 -5.7 1 -2.8 1 0.1 1 -2.6 1 -4.5 1 0.7 1 -3.9 1 -4.7 1 1 1 -0.4 1 -4.2 1 -1 1 1.5 1 -6.1 1 3.5 1 -0.4 1 -1.3 1 2.4 1 -10.3 1 0.2 1 -2.3 1 8 1 1.2 1 -0.7 1 -0.3 1 -2.3 1 -1.6 1 -1.6 1 -3.8 1 -3 1 -1.9 1 -4.1 1 -1.9 1 -2.1 1 0.4 1 -3.9 1 -7 1 6.4 1 -0.6 1 2.1 1 4.6 1 1.4 1 -0.5 1 0.1 1 2.9 1 -1 1 0.3 1 -2.4 1 -1.1 1 2.2 1 0.9 1 2.8 1 0 1 3.6 1 -1 1 2.7 1 3.9 1 1.1 1 -0.7 1 -0.5 1 2 1 1.8 1 1.1 1 1.9 1 -4.4 1 1.2 1 2 1 2.9 1 -1 1 0.5 1 -1 1 1.9 1 3.9 1 -3.3 1 0 1 2.5 1 0.7 1 0.2 1 4.6 1 -1 1 2.6 1 -1.5 1 -4.1 1 5.7 1 5.6 1 0.5 1 -2.5 1 0 1 -0.9 1 0.9 1 1.6 1 0 1 -0.6 1 0.2 1 1.7 1 -0.3 1 0.5 1 3.5 1 1.8 1 0.4 1 -2.7 1 0.9 1 -2.1 1 1.4 1 2.6 1 0.2 1 -0.3 1 -1.4 1 6.2 1 0.9 1 -4.9 1 1.6 1 1.3 1 0 1 3.2 1 7.6 1 0.5" fill="none" stroke="#A5A5A5" stroke-width="3.90" stroke-linejoin="round" stroke-linecap="round"/><path d="M689.2 155.9 l1 -1.4 1 -0.7 1 -0.1 1 -3.4 1 2.5 1 0 1 -0.4 1 -0.6 1 2.7 1 8.3 1 4.3 1 4.6 1 2.9 1 0.3 1 0.2 1 -0.8 1 1.9 1 -5.7 1 -4.5 1 -2.2 1 -4.1 1 -2 1 -2.4 1 -0.3 1 -13.4 1 -2.8 1 -2.9 1 8.3 1 -0.4 1 -2.5 1 -2.7 1 -3.5 1 -1.4 1 -2.1 1 1.1 1 -2.1 1 1.4 1 -2.1 1 0.1 1 -1.4 1 2.2 1 0.5 1 -1 1 2.6 1 -1 1 -0.9 1 -4.6 1 -0.4 1 1.2 1 -2.2 1 1.9 1 -0.2 1 2.4 1 -1.2 1 1.7 1 -1.2 1 3.4 1 0.5 1 0.4 1 3.5 1 0.3 1 0.1 1 0 1 1 1 0.9 1 0.3 1 -0.2 1 -2.6 1 -2.8 1 0.8 1 3.5 1 -4.2 1 -2 1 -3.7 1 -2.2 1 -5.4 1 -0.8 1 0 1 -3.8 1 -3.8 1 2 1 4.2 1 2.5 1 -0.6 1 1.3 1 2.8 1 -0.6 1 0 1 1.8 1 0.1 1 2.7 1 -0.8 1 1.7 1 2.2 1 1.3 1 -0.9 1 4.9 1 -3.4 1 0.8 1 2.2 1 2 1 4.1 1 0.7 1 3.7 1 0.4 1 1.4 1 2.5 1 0.5 1 1.6 1 0.6 1 -0.4 1 -1.6 1 1.4 1 -0.7 1 4.5 1 -0.2 1 2.5 1 -0.2 1 -2.4 1 -0.2 1 1.5 1 0.6 1 -2.2 1 0.8 1 3.5 1 -0.5 1 -1 1 -1.3 1 0.1 1 2 1 1.3 1 0.8 1 1.4 1 1.1 1 -4.8 1 1.3 1 -0.5 1 -0.1 1 -5 1 0.1 1 3.1 1 -2.7 1 3.9 1 2.9 1 4.9 1 -0.5 1 -0.3 1 1.2 1 0.9 1 1.8 1 -0.5 1 0.5 1 0.8 1 0.6 1 2.3 1 -1.8 1 1.1 1 1.1 1 -2.9 1 2.2 1 -1.6 1 0.6 1 1.7 1 1.9 1 -1.6 1 -0.6 1 5.9 1 -0.5 1 2.9 1 0 1 -1.3 1 3.6 1 -0.6 1 -0.5 1 0.3 1 0 1 -1.5 1 -4.9 1 -3.4 1 0.5 1 -4.1 1 -0.4 1 -3.6 1 -0.2 1 -3.1 1 2.2 1 -3 1 1.4 1 -7.6 1 -1.2 1 1.5 1 -2.6 1 0.1 1 -1.4 1 2 1 1.9 1 1.6 1 -3.2 1 -9.7 1 7 1 -0.9 1 -7 1 -6.4 1 -6.4 1 1.7 1 0 1 2.3 1 -0.3 1 0.4 1 1.9 1 0.9 1 -0.7 1 -2.2 1 2.8 1 2.2 1 1 1 -3.3 1 2.2 1 -2.4 1 6 1 1.4 1 -8.6 1 -1.6 1 0.8 1 1 1 0.9 1 -1 1 -0.3 1 2.1 1 -0.5 1 -0.7 1 1.3 1 1.2 1 -1.1 1 -0.7 1 0 1 -2.4 1 -2.4 1 0.6 1 0.9 1 9.9 1 0.4 1 -5.2 1 -8.8 1 1 1 -1.1 1 1.5 1 -0.4 1 2.4 1 1.7 1 -0.9 1 2.1 1 2.8 1 2 1 2.1 1 2 1 -1.7 1 -1 1 -1.4 1 -0.3 1 -3.3 1 -1.9 1 -4.9 1 1.9 1 -1.7 1 -3.3 1 0.7 1 0.7 1 -0.6 1 0.5 1 2.5 1 1.6 1 -1.2 1 -4.7 1 1.4 1 0.6 1 0.3 1 -2.2 1 1.2 1 -3 1 0.4 1 0 1 0.5 1 1.1 1 2.8 1 5 1 0.8 1 0.4 1 1.1 1 -0.3 1 -1.7 1 1 1 -1.6 1 7 1 -2.5 1 -3.8 1 -3.9 1 -1.8 1 -4.2 1 3.5 1 -0.2 1 2.9 1 -1.9 1 -0.7 1 4.2 1 -2.8 1 0.5 1 0.2 1 1.4 1 -1.2 1 -1.4 1 -0.3 1 1.4 1 2 1 4.4 1 -4.8 1 -5.8 1 -0.2 1 -3.4 1 -5.3 1 -1.6 1 -2.8 1 1.6 1 3 1 0.7 1 -0.8 1 -0.5 1 -1.4 1 -3.2 1 -4.4 1 -2.9 1 1.6 1 -1.2 1 1 1 -0.2 1 -0.6 1 -0.9 1 6.3 1 -1.4 1 1.1 1 0.5 1 2.8 1 -3.3 1 1.8 1 -0.2 1 1.8 1 -2.8 1 1 1 1.5 1 -0.2 1 -0.4 1 0.6 1 -2 1 -2.6 1 -1.2 1 -1.4 1 3.9 1 2.3 1 -3.9 1 4.8 1 -4.7 1 0.3 1 -0.7 1 2.3 1 1.4 1 3.9 1 1.6 1 0.2 1 -6.2 1 -6.8 1 -4.3 1 -5.2 1 -0.5 1 1.1 1 4.2 1 7.3 1 1.4 1 0.3 1 1.5 1 0.8 1 2.5 1 -1.7 1 -1.5 1 -1.6 1 -3.3 1 -2.1 1 0.1 1 0.1 1 -2.2 1 -3.4 1 -2.1 1 -2.2 1 -5.8 1 0 1 -1 1 -2.4 1 -1.5 1 -0.1 1 -1.7 1 -3.1 1 -1 1 -1.3 1 -0.9 1 3.1 1 3.1 1 -0.4 1 1.9 1 1.9 1 -0.6 1 2.6 1 0.1 1 -2 1 -3.5 1 -1.8 1 -1 1 -1.3 1 0.9 1 -1.1 1 -2.5 1 -2.1 1 -0.5 1 -2.5 1 -0.8 1 -1.6 1 -1.3 1 5.4 1 -0.6 1 -6.9 1 3.5 1 -0.3 1 1.7 1 2.2 1 -1.2 1 3 1 -4.9 1 1 1 8.1 1 6.4 1 7.1 1 16.4 1 -12.5 1 2.2 1 -0.9 1 2 1 2.4 1 2.5 1 -2.3 1 0 1 2.1 1 0.1 1 -1.5 1 4 1 0.7 1 0.4 1 -2.5 1 1.6 1 2.5 1 1.9 1 -0.2 1 -0.9 1 2.1 1 1.4 1 1.6 1 -0.9 1 -1.1 1 -1.7 1 0.3 1 1.5 1 0.3 1 2.2 1 2 1 -1.4 1 1.2 1 1.3 1 1 1 -0.4 1 1.6 1 3.6 1 4.8 1 -1.1 1 -1.9 1 0 1 -0.3 1 1.8 1 -1.6 1 -3 1 0 1 1.5 1 0.5 1 -1.2" fill="none" stroke="#FFC000" stroke-width="3.90" stroke-linejoin="round" stroke-linecap="round"/><path d="M689.2 136.4 l1 -2.7 1 -2.3 1 5.5 1 -2.2 1 -3.8 1 -2.4 1 -3.7 1 -4.6 1 -4.4 1 -3.1 1 -2.4 1 -6.3 1 -2.5 1 -1.4 1 4.3 1 8.2 1 -1.7 1 3.7 1 -4.9 1 2.6 1 2.9 1 -1.2 1 2.3 1 3.9 1 -0.5 1 0.2 1 -3.4 1 -1.5 1 -1.7 1 0.8 1 -0.1 1 -1.1 1 0.9 1 2.7 1 5.6 1 0.9 1 -0.3 1 0.7 1 0.9 1 -2.1 1 2.9 1 -1.7 1 0 1 -0.5 1 0.6 1 2 1 -2.2 1 -0.9 1 -0.7 1 2.1 1 0.6 1 -2.9 1 -3.1 1 0.7 1 1.8 1 2.3 1 -0.7 1 3.5 1 -0.3 1 -7.3 1 4.1 1 -0.5 1 1.3 1 0.5 1 0.9 1 1.5 1 2.4 1 -0.2 1 -7.3 1 3.6 1 -4.8 1 -0.9 1 -2.5 1 -0.2 1 -1.5 1 0 1 3.2 1 2.1 1 -2.6 1 1.8 1 0.8 1 1.1 1 1.1 1 0.4 1 3.1 1 -0.9 1 1.4 1 3 1 4 1 -0.7 1 0.3 1 2.6 1 1.3 1 1 1 -0.2 1 4.5 1 -0.7 1 0.5 1 3.4 1 -1.6 1 -0.3 1 2.9 1 0.6 1 2.1 1 1.7 1 2.3 1 4.6 1 0.2 1 0.3 1 1.8 1 2.2 1 0.9 1 5 1 2 1 -0.2 1 -3.2 1 0.4 1 1.1 1 7 1 -6.3 1 1.1 1 2 1 0.6 1 1.2 1 3 1 1.6 1 -1 1 -1.1 1 -1.8 1 -1.5 1 2.2 1 0.7 1 2.1 1 7.6 1 -0.7 1 1.8 1 -4.3 1 1.5 1 2.1 1 3.8 1 1.8 1 3.9 1 -1.3 1 -1.3 1 -2.5 1 1 1 2.1 1 0.7 1 -2.8 1 -1.3 1 -3.1 1 -1.3 1 -0.6 1 -0.8 1 -2.1 1 -3.8 1 1.8 1 -1.1 1 -1.5 1 -2.2 1 1.2 1 -4.4 1 -2.4 1 0.3 1 -3.1 1 -0.5 1 -0.9 1 -1.3 1 3.1 1 1.4 1 -1.1 1 0 1 1.8 1 3.4 1 1.6 1 3 1 4.4 1 1.3 1 0.4 1 1.7 1 0.2 1 -6.7 1 -7.7 1 -5.5 1 -8.6 1 -3.7 1 -2.5 1 -0.6 1 -0.2 1 0.6 1 -6.6 1 -0.2 1 -1.1 1 -4.6 1 -0.8 1 0.7 1 -2.2 1 -3.1 1 1.4 1 -2.8 1 -1.1 1 0.4 1 0.9 1 -2.8 1 -0.4 1 -0.7 1 1.3 1 -0.5 1 0.6 1 0.9 1 -0.4 1 -1.7 1 0.3 1 3 1 -1.3 1 2.8 1 2.8 1 -1.3 1 0.9 1 -0.6 1 0.1 1 -3.6 1 2.3 1 2.2 1 0.3 1 1 1 1.2 1 0.7 1 -1.9 1 -0.9 1 -0.5 1 5.4 1 -2.1 1 3.6 1 0.3 1 -1.1 1 0.6 1 2.4 1 2.7 1 -0.2 1 1.7 1 2 1 0.5 1 2.5 1 2.5 1 -1.9 1 -0.6 1 -0.4 1 1.8 1 -1.6 1 0.3 1 1.3 1 -2.2 1 0.4 1 0.2 1 -3 1 -1.6 1 2.8 1 -1.7 1 -8.2 1 -4.2 1 4.9 1 2.9 1 2.7 1 -4.2 1 -2.1 1 4.9 1 1.7 1 -0.1 1 -0.6 1 -1.8 1 -2.3 1 -0.1 1 -1.5 1 -3.4 1 -2.7 1 -1.9 1 -1.9 1 -2.3 1 1.7 1 -1.9 1 -0.7 1 -2.1 1 -1.2 1 -0.9 1 0.1 1 0.8 1 0.8 1 2.1 1 2.9 1 3.5 1 -2 1 2.6 1 -2.5 1 2.1 1 2.5 1 0.2 1 1.3 1 -0.4 1 -3.1 1 -5.6 1 0.6 1 -2.7 1 0.9 1 -0.4 1 2.9 1 -0.1 1 1.3 1 3.2 1 3.6 1 4.8 1 0.6 1 0 1 1 1 2.9 1 3.9 1 -1.7 1 1.6 1 0.1 1 1.6 1 0.1 1 -1.2 1 2.6 1 -2.9 1 -0.2 1 -2.2 1 -2.6 1 -1 1 -4.8 1 0.2 1 1.3 1 -0.5 1 4.8 1 6.9 1 -0.5 1 -5.4 1 -5.5 1 -3.9 1 -6 1 -4 1 -4.4 1 -4.4 1 1.4 1 -1.7 1 -2.1 1 -2.7 1 -2 1 -0.1 1 3.5 1 3.6 1 -0.2 1 6.1 1 2.7 1 -0.4 1 1.1 1 2.2 1 2.5 1 -1.3 1 2 1 -1 1 -2.4 1 -1.5 1 0.9 1 0.5 1 -1 1 -1.6 1 -3.1 1 -0.5 1 -4.4 1 -4.3 1 1 1 1.4 1 -1 1 -4.1 1 -1.9 1 -1.2 1 1.5 1 -3 1 -4.9 1 -2.1 1 -0.1 1 0.2 1 2.4 1 -1 1 -0.9 1 -1.8 1 0.8 1 -0.3 1 2.9 1 2 1 0.3 1 -0.1 1 1 1 0.2 1 2.3 1 3.9 1 3.7 1 -2.1 1 -0.8 1 2.1 1 -1.4 1 1.5 1 2 1 0 1 1.2 1 -1.5 1 -1.4 1 -2.2 1 -2.7 1 2.7 1 0.3 1 3.1 1 -1.3 1 -0.2 1 -7.6 1 -1.4 1 1.5 1 -2.2 1 -0.7 1 3.2 1 -3.5 1 0.4 1 -0.1 1 0.1 1 -4.5 1 -2.3 1 1.8 1 0.7 1 2 1 1.1 1 0.6 1 2.5 1 4 1 1.3 1 0.9 1 5 1 -2.9 1 0.4 1 -1.8 1 1.8 1 -3 1 5 1 -3.2 1 -0.1 1 0.8 1 1.4 1 0.6 1 0 1 0.2 1 3.4 1 -2 1 1.2 1 -0.5 1 1.3 1 -0.8 1 -1.2 1 0 1 0.1 1 6.2 1 -3.3 1 1.7 1 -2.4 1 4.6 1 6.3 1 0.4 1 3.3 1 1.3 1 2.3 1 4.7 1 2.9 1 -1.4 1 2.6 1 -2.5 1 0.4 1 1 1 -2.4 1 -3.2 1 -2.8 1 1.1 1 7.5 1 -0.8 1 -0.8 1 -0.9 1 1.7 1 -3.1 1 0.2 1 2.4 1 -0.7 1 -2.3 1 -2.8" fill="none" stroke="#5B9BD5" stroke-width="3.90" stroke-linejoin="round" stroke-linecap="round"/><path d="M689.2 159.3 l1 2.7 1 3.2 1 7 1 1.9 1 3.2 1 -0.8 1 1 1 -3 1 0.2 1 -0.1 1 -3.3 1 -4 1 -3 1 -3.8 1 -3.8 1 0 1 -6.1 1 -1.1 1 2 1 -2.1 1 -1.4 1 3.9 1 -1.1 1 1.1 1 0.5 1 -0.3 1 -0.3 1 2 1 -4.2 1 0.8 1 0.3 1 -1.1 1 0.9 1 0.6 1 2.2 1 0.2 1 -0.1 1 0.6 1 -1.5 1 -0.1 1 -0.3 1 0.1 1 0.5 1 0 1 -0.7 1 0.8 1 -4.8 1 -0.9 1 -1.4 1 -1.1 1 -5.6 1 -4.3 1 1.1 1 3.1 1 2.1 1 2.2 1 0.4 1 1.5 1 -0.8 1 -0.3 1 -2 1 -2.4 1 -0.3 1 -3.9 1 -2.7 1 2.6 1 -2.5 1 -1.3 1 1.5 1 -0.4 1 -0.9 1 -7.9 1 1.3 1 2.2 1 -4.9 1 -1.7 1 -1.5 1 -1.9 1 -1.5 1 1.7 1 2 1 3.6 1 2.2 1 0 1 -0.3 1 5.3 1 2.5 1 3 1 -2 1 -1 1 0.5 1 1.1 1 0.6 1 3 1 -4.1 1 2.2 1 1.3 1 3 1 -2.3 1 -0.1 1 1.5 1 -0.4 1 0.9 1 1.1 1 4.2 1 1.9 1 4.1 1 2 1 1.6 1 2 1 0.1 1 0.6 1 0.8 1 1.4 1 0.3 1 2.9 1 6.7 1 -1.3 1 1.6 1 -3.7 1 2.6 1 0.9 1 2.8 1 2 1 4.8 1 -0.2 1 -2.9 1 2.6 1 1.2 1 1 1 1.7 1 0.9 1 0.3 1 -3.6 1 -1 1 -4.3 1 -2.7 1 0.3 1 -1 1 0.8 1 -0.4 1 1.4 1 1.1 1 1.9 1 -0.4 1 -2.8 1 2.6 1 -1.1 1 0.6 1 0.9 1 3.5 1 3.7 1 7 1 3.2 1 1.9 1 0.8 1 -2.4 1 -1.3 1 1.9 1 -0.7 1 1.2 1 3.1 1 1.3 1 3 1 2.2 1 1.1 1 0 1 -4.4 1 -2.9 1 -2.1 1 0.5 1 -0.6 1 0.9 1 1 1 -2 1 3.5 1 3.1 1 -1.7 1 -3.5 1 -5.4 1 -5.4 1 0.4 1 -3.5 1 -7.3 1 -13.4 1 -3.1 1 0 1 -0.4 1 -1.7 1 -3 1 -0.9 1 3.1 1 1 1 -1.7 1 1.6 1 -1.6 1 -1.7 1 3 1 -3.6 1 -0.6 1 -3.7 1 -0.2 1 -2.3 1 -2.5 1 0.4 1 -1.7 1 -0.4 1 0.8 1 0.2 1 -0.7 1 -2.9 1 2.5 1 -3.2 1 2.5 1 2.4 1 -3.4 1 4.1 1 -1.7 1 0.8 1 -1.4 1 -3.1 1 0.9 1 -1.4 1 0.3 1 -0.2 1 -1.4 1 0.3 1 -1.4 1 -2.1 1 -1.3 1 0 1 -0.4 1 -0.5 1 -4 1 2.4 1 -6.4 1 -3 1 -0.8 1 2.5 1 -0.8 1 1.3 1 0.2 1 1.4 1 -0.3 1 -1.3 1 2.3 1 0.3 1 -2 1 -3.7 1 0.7 1 -2.2 1 -0.8 1 -0.8 1 6 1 4.1 1 -5.3 1 -0.5 1 1.5 1 4.5 1 -2.4 1 -3.4 1 1.9 1 0.4 1 -0.4 1 1.3 1 -2.4 1 -2.2 1 -3.1 1 0.7 1 0.4 1 -5.6 1 -1.6 1 -0.1 1 -0.8 1 3.1 1 0.3 1 13.9 1 5.4 1 -4.6 1 -0.2 1 -0.7 1 1 1 0.6 1 0.4 1 -2.1 1 3.1 1 -4.7 1 0.3 1 2 1 5.8 1 1.9 1 -0.6 1 2 1 0.4 1 1.2 1 3.3 1 -2.2 1 5.6 1 -2.6 1 -3 1 -4 1 -0.4 1 -4 1 0.3 1 3.4 1 11.5 1 13.7 1 7.7 1 10.4 1 2.1 1 -0.6 1 4.5 1 1.3 1 -3.5 1 0.7 1 1.4 1 1.4 1 0 1 1.6 1 -1.3 1 -0.2 1 1.2 1 0.3 1 5.3 1 -4.6 1 -1.1 1 -2.3 1 -1.5 1 0.1 1 -3.2 1 3.2 1 -4.3 1 0.2 1 -1.3 1 -3.8 1 -1.6 1 -0.4 1 -1.4 1 -2.6 1 -2.9 1 -0.7 1 2.2 1 0.1 1 -1.4 1 -6.4 1 -2.6 1 1.6 1 2.1 1 -1.5 1 -0.5 1 0 1 -2 1 -1.3 1 -1.1 1 1.5 1 -0.8 1 -1.3 1 0.8 1 3.4 1 -4.7 1 -3.6 1 -0.9 1 -0.1 1 1.9 1 -3.1 1 0.6 1 0 1 -3 1 -3 1 -6.2 1 -4.6 1 0.3 1 -1.5 1 4.1 1 3.3 1 2.2 1 -0.3 1 -1.7 1 -3 1 -1.4 1 -1.5 1 -0.9 1 -0.8 1 -1.6 1 -2 1 -4.5 1 -3.8 1 -8.8 1 -3.1 1 -4.5 1 -3.7 1 -0.6 1 -2 1 0.6 1 2.4 1 -1.7 1 2.2 1 -4.3 1 0.1 1 2.9 1 8.4 1 3.5 1 -0.9 1 -2 1 1.4 1 -0.5 1 2.4 1 1.2 1 0.2 1 -2.1 1 -0.1 1 -0.9 1 0.1 1 -2.2 1 1.9 1 -1 1 2 1 1 1 -2.5 1 -8.2 1 -2.7 1 -5.8 1 -5.7 1 4.4 1 4.6 1 3.3 1 8 1 1 1 2 1 0.2 1 2.7 1 0.7 1 0.3 1 0 1 3.9 1 -2.6 1 0.4 1 -0.6 1 -2.9 1 -2.4 1 3.5 1 -1.8 1 -3.4 1 0.7 1 0.6 1 -0.6 1 1.9 1 -1.7 1 -3.4 1 3.7 1 -0.7 1 -5.5 1 1.1 1 -4 1 -1.4 1 -2.1 1 -1.5 1 4.4 1 4.3 1 6.1 1 3.5 1 4.6 1 5.2 1 4.1 1 4.1 1 2 1 1.2 1 1.8 1 0.5 1 3.3 1 0.4 1 -2.7 1 -0.4 1 1.5 1 0.3 1 1.3 1 2 1 -3 1 -2.7 1 0.2 1 1.5 1 1.7 1 2.1 1 1.6 1 -1.6 1 0.7 1 -0.3 1 -1.6 1 1.8 1 0.3" fill="none" stroke="#70AD47" stroke-width="3.90" stroke-linejoin="round" stroke-linecap="round"/><path d="M689.2 146.1 l1 -3.5 1 -4.5 1 4.5 1 -7 1 -2.7 1 0 1 -2.3 1 -3.5 1 2 1 -3.4 1 -2.7 1 -2.2 1 -2.4 1 -2.3 1 -4.1 1 -0.8 1 2.5 1 -0.9 1 0.6 1 -3.7 1 0.8 1 -0.8 1 0.8 1 -0.4 1 6.9 1 -1.3 1 2.8 1 0 1 7 1 4.1 1 2.5 1 -1.8 1 -5.5 1 6.2 1 -10 1 -3.3 1 -6.7 1 1.2 1 -0.9 1 9.1 1 -1.7 1 3.4 1 0.8 1 -0.5 1 4 1 5.9 1 3.8 1 -0.4 1 2.2 1 10.8 1 -1.4 1 -2.5 1 5.1 1 1 1 2.9 1 0.3 1 4 1 -2.7 1 -1.6 1 1.2 1 -1.1 1 -1.9 1 0 1 0.5 1 2.9 1 -0.2 1 -2.9 1 -4 1 1 1 -0.8 1 -4.6 1 -2.9 1 -0.8 1 2 1 -0.7 1 0.8 1 -0.6 1 -3.6 1 -0.4 1 -1 1 4.8 1 0.4 1 1.5 1 0.8 1 2.5 1 1.4 1 1.4 1 2 1 0.1 1 2 1 3 1 -3.9 1 -0.7 1 -3.1 1 0 1 -0.9 1 -0.1 1 -1.5 1 -0.3 1 0.3 1 1.6 1 2.4 1 0 1 3.1 1 2.5 1 1.8 1 -4.3 1 -0.5 1 -1.1 1 -2.7 1 -1.5 1 -0.7 1 -1.4 1 0.1 1 -0.1 1 0.2 1 -0.4 1 0.9 1 0.8 1 -2.3 1 2.5 1 -1.5 1 2.6 1 1.4 1 1.2 1 1.3 1 0.5 1 5.3 1 0.6 1 -1.1 1 1.9 1 5.8 1 0.5 1 1.8 1 -0.4 1 -0.9 1 2 1 1.8 1 0.3 1 -2.2 1 -12.9 1 -5.4 1 -0.6 1 -5.8 1 -0.6 1 1.5 1 -0.4 1 -0.6 1 -1.8 1 -2.8 1 -0.3 1 -1.4 1 0.6 1 0.4 1 -1.5 1 -0.3 1 -1.1 1 -0.8 1 -1.1 1 -1.6 1 -2.6 1 -3.9 1 -1.1 1 7 1 5.4 1 5.1 1 1.2 1 -2.3 1 0.9 1 -0.7 1 -2.7 1 2.2 1 1.1 1 1.8 1 1.9 1 -0.2 1 1.2 1 0.2 1 0.3 1 -4.1 1 -8.2 1 -4.7 1 -6 1 -6.7 1 -7.6 1 -1.3 1 1.9 1 -0.5 1 3.2 1 2.7 1 -0.6 1 1 1 0.1 1 4.4 1 -2.7 1 0.8 1 -1.6 1 -1.3 1 -0.3 1 2.6 1 -0.3 1 -3.9 1 6.5 1 -1.8 1 0.3 1 -9 1 -1.1 1 7.1 1 -3.5 1 2.3 1 8.2 1 -3.3 1 -0.9 1 -1.8 1 -1.6 1 -2.5 1 1.6 1 0.5 1 0.3 1 0 1 0.2 1 -0.8 1 -4.5 1 -2.6 1 -1.6 1 10.1 1 6.2 1 6.6 1 6.3 1 1.1 1 0.1 1 -0.9 1 1.9 1 3 1 -0.8 1 -3.5 1 3.9 1 5.2 1 -2.3 1 2.4 1 -6 1 -4 1 -6 1 -4.7 1 -4.3 1 1.8 1 -0.5 1 4.4 1 2.2 1 -1.3 1 -1.4 1 -0.6 1 0.5 1 1.8 1 -0.9 1 1.5 1 1.8 1 1.5 1 3.4 1 -1 1 2.7 1 -4.9 1 -2.5 1 -1 1 3.4 1 0 1 -2.8 1 -0.8 1 1.9 1 -3.7 1 1.5 1 -3.1 1 2.7 1 0.8 1 0.5 1 4.2 1 3.4 1 1.7 1 1.7 1 -1.7 1 -0.3 1 2.5 1 -3.2 1 1.3 1 -0.6 1 0.2 1 -1 1 1.1 1 -1.6 1 -3.5 1 -1.4 1 -0.8 1 -0.5 1 -2 1 -1 1 -0.7 1 -5.3 1 -2.6 1 -2.7 1 -6.4 1 8.1 1 2.6 1 -0.7 1 -5.5 1 1.6 1 0.8 1 1.6 1 0.1 1 0.9 1 1.8 1 0.8 1 -0.9 1 -0.5 1 -2.6 1 0.5 1 -0.7 1 -0.2 1 2.1 1 2.1 1 -3 1 -2.3 1 -1.2 1 -4.8 1 -0.5 1 -4.8 1 -1.2 1 1.9 1 1.4 1 2.7 1 1.1 1 3.9 1 1 1 -0.1 1 0.4 1 1.1 1 -0.8 1 -4.2 1 6.3 1 1.7 1 2 1 -3.6 1 2.5 1 1.5 1 4 1 1.2 1 0.7 1 2.4 1 2.1 1 0.5 1 2.8 1 3.5 1 -1.7 1 -5.1 1 2 1 -0.6 1 -4.1 1 1.2 1 -0.7 1 -1.4 1 -2.4 1 -1.3 1 10 1 -2.3 1 -8.6 1 -0.2 1 0.5 1 -1.3 1 6 1 -2.9 1 -7.8 1 -1.1 1 -7 1 -4.3 1 -4.8 1 -7 1 -2.2 1 4.4 1 3 1 1.9 1 6 1 4.5 1 -0.8 1 0.4 1 0.2 1 -3.1 1 -1.6 1 -0.8 1 0.1 1 2.4 1 -1.5 1 0.4 1 3.9 1 1.8 1 -1.2 1 3.5 1 2.2 1 -2.5 1 4.7 1 -6.9 1 -5 1 -7.3 1 -1.8 1 -0.9 1 -0.8 1 3 1 0.2 1 0.7 1 2.7 1 0.9 1 -0.4 1 -2.4 1 0.9 1 -2.7 1 -0.7 1 -1.5 1 -0.2 1 -1.9 1 3.3 1 1.1 1 3.1 1 2.9 1 0.8 1 0.7 1 -1 1 1 1 -0.9 1 -1.9 1 -0.1 1 -0.9 1 0.5 1 2.9 1 3.2 1 2.6 1 2.3 1 -1.5 1 2.6 1 -0.5 1 4.5 1 0.5 1 -1.5 1 2.1 1 1.1 1 -7.8 1 2.9 1 4.5 1 3.1 1 0.4 1 1.3 1 0.2 1 -0.4 1 2.2 1 1.4 1 -1 1 -1.5 1 4.6 1 -0.6 1 3.9 1 0.5 1 0.1 1 0.2 1 1.7 1 -1.4 1 -3.5 1 -0.6 1 -4.1 1 1.7 1 4.3 1 6.1 1 2.9 1 5.4 1 -1.4 1 -3.6 1 -3.6 1 -1.6 1 -4 1 -1.8 1 -0.9 1 -0.2 1 1.5 1 3.4 1 -0.3 1 1.3 1 -3.8 1 2.8 1 0.7 1 0.9 1 1.6 1 0.5 1 3.4 1 -5.1" fill="none" stroke="#264478" stroke-width="3.90" stroke-linejoin="round" stroke-linecap="round"/><line x1="681.0" y1="281.0" x2="713.5" y2="281.0" stroke="#4472C4" stroke-width="3.3" stroke-linecap="round"/><text x="716.8" y="284.6" font-size="11.4" textLength="65.2" lengthAdjust="spacingAndGlyphs">USDT-IBOV</text><line x1="793.5" y1="281.0" x2="826.0" y2="281.0" stroke="#ED7D31" stroke-width="3.3" stroke-linecap="round"/><text x="829.3" y="284.6" font-size="11.4" textLength="53.1" lengthAdjust="spacingAndGlyphs">DAI-IBOV</text><line x1="906.0" y1="281.0" x2="938.5" y2="281.0" stroke="#A5A5A5" stroke-width="3.3" stroke-linecap="round"/><text x="941.8" y="284.6" font-size="11.4" textLength="57.8" lengthAdjust="spacingAndGlyphs">GLC-IBOV</text><line x1="1018.5" y1="281.0" x2="1051.0" y2="281.0" stroke="#FFC000" stroke-width="3.3" stroke-linecap="round"/><text x="1054.3" y="284.6" font-size="11.4" textLength="57.8" lengthAdjust="spacingAndGlyphs">HGT-IBOV</text><line x1="681.0" y1="306.0" x2="713.5" y2="306.0" stroke="#5B9BD5" stroke-width="3.3" stroke-linecap="round"/><text x="716.8" y="309.6" font-size="11.4" textLength="67.2" lengthAdjust="spacingAndGlyphs">MNTP-IBOV</text><line x1="793.5" y1="306.0" x2="826.0" y2="306.0" stroke="#70AD47" stroke-width="3.3" stroke-linecap="round"/><text x="829.3" y="309.6" font-size="11.4" textLength="55.8" lengthAdjust="spacingAndGlyphs">X8X-IBOV</text><line x1="906.0" y1="306.0" x2="938.5" y2="306.0" stroke="#264478" stroke-width="3.3" stroke-linecap="round"/><text x="941.8" y="309.6" font-size="11.4" textLength="66.6" lengthAdjust="spacingAndGlyphs">XAUR-IBOV</text></g>
<g><rect x="2.3" y="330.0" width="595.7" height="322.0" fill="#fff" stroke="#e3e3e3" stroke-width="1.2"/><text x="145.1" y="361.3" font-size="17.0" textLength="333.7" lengthAdjust="spacingAndGlyphs">Conventional cryptocurrrencies vs IMOEX</text><line x1="88.2" y1="380.8" x2="580.2" y2="380.8" stroke="#d9d9d9" stroke-width="1"/><text x="73.7" y="385.4" font-size="12.8" text-anchor="end" textLength="56.8" lengthAdjust="spacingAndGlyphs">0.350000</text><line x1="88.2" y1="403.1" x2="580.2" y2="403.1" stroke="#d9d9d9" stroke-width="1"/><text x="73.7" y="407.7" font-size="12.8" text-anchor="end" textLength="56.8" lengthAdjust="spacingAndGlyphs">0.300000</text><line x1="88.2" y1="425.4" x2="580.2" y2="425.4" stroke="#d9d9d9" stroke-width="1"/><text x="73.7" y="430.1" font-size="12.8" text-anchor="end" textLength="56.8" lengthAdjust="spacingAndGlyphs">0.250000</text><line x1="88.2" y1="447.8" x2="580.2" y2="447.8" stroke="#d9d9d9" stroke-width="1"/><text x="73.7" y="452.4" font-size="12.8" text-anchor="end" textLength="56.8" lengthAdjust="spacingAndGlyphs">0.200000</text><line x1="88.2" y1="470.1" x2="580.2" y2="470.1" stroke="#d9d9d9" stroke-width="1"/><text x="73.7" y="474.7" font-size="12.8" text-anchor="end" textLength="56.8" lengthAdjust="spacingAndGlyphs">0.150000</text><line x1="88.2" y1="492.4" x2="580.2" y2="492.4" stroke="#d9d9d9" stroke-width="1"/><text x="73.7" y="497.0" font-size="12.8" text-anchor="end" textLength="56.8" lengthAdjust="spacingAndGlyphs">0.100000</text><line x1="88.2" y1="514.7" x2="580.2" y2="514.7" stroke="#d9d9d9" stroke-width="1"/><text x="73.7" y="519.3" font-size="12.8" text-anchor="end" textLength="56.8" lengthAdjust="spacingAndGlyphs">0.050000</text><line x1="88.2" y1="537.1" x2="580.2" y2="537.1" stroke="#d9d9d9" stroke-width="1"/><text x="73.7" y="541.7" font-size="12.8" text-anchor="end" textLength="56.8" lengthAdjust="spacingAndGlyphs">0.000000</text><line x1="88.2" y1="559.4" x2="580.2" y2="559.4" stroke="#d9d9d9" stroke-width="1"/><text x="73.7" y="564.0" font-size="12.8" text-anchor="end" textLength="61.3" lengthAdjust="spacingAndGlyphs">-0.050000</text><line x1="88.2" y1="581.7" x2="580.2" y2="581.7" stroke="#d9d9d9" stroke-width="1"/><text x="73.7" y="586.3" font-size="12.8" text-anchor="end" textLength="61.3" lengthAdjust="spacingAndGlyphs">-0.100000</text><line x1="88.2" y1="537.1" x2="88.2" y2="541.1" stroke="#d9d9d9" stroke-width="1"/><line x1="184.4" y1="537.1" x2="184.4" y2="541.1" stroke="#d9d9d9" stroke-width="1"/><line x1="280.5" y1="537.1" x2="280.5" y2="541.1" stroke="#d9d9d9" stroke-width="1"/><line x1="376.7" y1="537.1" x2="376.7" y2="541.1" stroke="#d9d9d9" stroke-width="1"/><line x1="472.8" y1="537.1" x2="472.8" y2="541.1" stroke="#d9d9d9" stroke-width="1"/><line x1="569.0" y1="537.1" x2="569.0" y2="541.1" stroke="#d9d9d9" stroke-width="1"/><text x="88.2" y="558.2" font-size="12.8" text-anchor="middle" textLength="52.5" lengthAdjust="spacingAndGlyphs">6-Apr-18</text><text x="184.4" y="558.2" font-size="12.8" text-anchor="middle" textLength="52.5" lengthAdjust="spacingAndGlyphs">6-Apr-19</text><text x="280.5" y="558.2" font-size="12.8" text-anchor="middle" textLength="52.5" lengthAdjust="spacingAndGlyphs">6-Apr-20</text><text x="376.7" y="558.2" font-size="12.8" text-anchor="middle" textLength="52.5" lengthAdjust="spacingAndGlyphs">6-Apr-21</text><text x="472.8" y="558.2" font-size="12.8" text-anchor="middle" textLength="52.5" lengthAdjust="spacingAndGlyphs">6-Apr-22</text><text x="569.0" y="558.2" font-size="12.8" text-anchor="middle" textLength="52.5" lengthAdjust="spacingAndGlyphs">6-Apr-23</text><path d="M88.1 541.8 l1 -2.7 1 -4.3 1 -3.9 1 -0.5 1 0.4 1 2 1 0.6 1 -0.8 1 0.6 1 3.6 1 -2.5 1 -4.9 1 0.8 1 1.8 1 -2.3 1 0.6 1 3.4 1 2.9 1 -0.5 1 -2.3 1 6.3 1 4.6 1 -8.6 1 -12.8 1 2.1 1 0.9 1 0 1 1.6 1 -1.5 1 -1.1 1 -4 1 -4 1 -3.4 1 -1.6 1 -3.1 1 -2.7 1 0.4 1 -1.7 1 -0.4 1 -3.8 1 2.5 1 -1.5 1 -1.5 1 -3.1 1 0.9 1 -4.6 1 -2.2 1 -0.5 1 -3.2 1 -3.4 1 -0.9 1 1.6 1 4.9 1 6.4 1 -8.8 1 -3.9 1 -1.3 1 1.5 1 -3.2 1 2.1 1 -2 1 -2 1 -5.4 1 -0.6 1 -0.5 1 0.8 1 2.7 1 -0.9 1 5.9 1 -0.6 1 -0.1 1 1.6 1 2.5 1 1 1 0.2 1 -1.6 1 -1.4 1 -0.7 1 3.7 1 -0.9 1 -1 1 2.8 1 3 1 -0.9 1 2 1 -5.2 1 5.3 1 -4.1 1 2 1 2.9 1 2.5 1 -3.5 1 -1.8 1 -0.8 1 -6.2 1 -5.9 1 -5.5 1 -3.9 1 0.8 1 -4.1 1 -2.5 1 2.3 1 -0.6 1 1.9 1 9.6 1 6.1 1 0.3 1 13.2 1 1 1 2.6 1 4.8 1 1.3 1 -0.1 1 2.8 1 1.6 1 2.2 1 4.7 1 2.8 1 13.9 1 9.1 1 1.4 1 0 1 0.7 1 -1.4 1 5.9 1 3.2 1 5.2 1 5.4 1 -2.7 1 -6.3 1 -5.4 1 0.5 1 0.6 1 -1.9 1 1.5 1 4.5 1 4.4 1 -3.7 1 0.8 1 -9.3 1 -3.1 1 -5.9 1 -3.2 1 0.3 1 1.2 1 0.7 1 1 1 2.4 1 3.9 1 2.1 1 3.9 1 -4.8 1 4 1 -2.3 1 -3.2 1 4.6 1 1.1 1 1.5 1 1.3 1 -1 1 2.6 1 2.2 1 -11.9 1 -0.1 1 3.4 1 -2.2 1 -2 1 -5.3 1 0.1 1 2.7 1 -0.5 1 0.3 1 3.7 1 1.5 1 -1.2 1 2.4 1 -1.9 1 1.5 1 -0.2 1 -2 1 3 1 6.9 1 2.9 1 -6.6 1 -9.9 1 -15.2 1 -11 1 -2.3 1 0.3 1 -9 1 -0.7 1 2.7 1 -3.5 1 -1.8 1 2.1 1 -2.5 1 -1.9 1 0.9 1 -3.2 1 -1.3 1 -2.1 1 -3 1 -0.7 1 -1 1 -2.5 1 0.6 1 -2 1 -0.9 1 3.6 1 0.3 1 -0.5 1 -3 1 -3.2 1 -0.1 1 -2.9 1 -1 1 -0.8 1 2.7 1 -2.4 1 -2.7 1 5 1 -0.8 1 -3 1 -2.1 1 -3.8 1 -4.5 1 6.6 1 4.4 1 7.6 1 8.8 1 -0.4 1 -5.2 1 2.7 1 -4.5 1 -2.8 1 -3.2 1 -3.5 1 0.7 1 1.9 1 -2.6 1 -2 1 -0.9 1 2 1 -0.4 1 2.6 1 -1.3 1 1 1 3.5 1 -0.1 1 2.4 1 -1.5 1 -0.3 1 -1.2 1 1.5 1 -1.3 1 2.4 1 3.3 1 -1.1 1 -4.2 1 -4.5 1 1.8 1 1.1 1 -3.1 1 -1.6 1 -1.8 1 -4.8 1 -6.5 1 -0.4 1 -1.9 1 -5.6 1 -2 1 -4.8 1 -3.8 1 -2.2 1 -0.6 1 1.7 1 -5.9 1 0.9 1 0.4 1 4.4 1 0 1 -5.4 1 2.9 1 2.9 1 5.9 1 -8.1 1 0.1 1 1 1 -1.6 1 0.3 1 3.2 1 -1.4 1 1.7 1 3.2 1 4.9 1 9.2 1 0.6 1 2.9 1 -4.9 1 -0.4 1 -0.4 1 1.4 1 0.5 1 3.3 1 0.3 1 1 1 3.3 1 -0.7 1 4.2 1 4.3 1 -0.8 1 -0.8 1 3.5 1 -0.1 1 4.5 1 -0.4 1 0.7 1 1.5 1 -1.1 1 -4.6 1 -0.7 1 -0.6 1 2.6 1 -0.4 1 -1.4 1 -5.8 1 -0.8 1 -0.1 1 -4.1 1 -1.5 1 -8.1 1 6.4 1 0.3 1 -0.5 1 -2 1 -1.8 1 -3.6 1 0.2 1 0.2 1 -7.8 1 -5.2 1 -2.7 1 0.5 1 -5.3 1 -0.3 1 -2.3 1 -0.2 1 -3.4 1 -3.9 1 -2.9 1 -1.2 1 -2.6 1 5.9 1 1.8 1 0.9 1 0.8 1 2.5 1 2.8 1 3.2 1 -4.8 1 -0.2 1 -1.6 1 -1 1 3 1 1.5 1 2 1 -3.3 1 2 1 -0.5 1 -3 1 -0.5 1 1.8 1 -5.2 1 -4.1 1 1.6 1 1.3 1 0.9 1 5.7 1 2.4 1 0.8 1 2.2 1 -0.8 1 2.3 1 2 1 1.7 1 3.3 1 2 1 2.9 1 3 1 1.5 1 4.2 1 -0.2 1 2.1 1 -0.8 1 6 1 6.5 1 -1.7 1 0.2 1 6 1 2.6 1 1 1 1.8 1 2.5 1 3.8 1 -3.2 1 -0.1 1 4.2 1 2.1 1 -1.7 1 -1.6 1 0 1 -1.8 1 1.7 1 -7.1 1 6.8 1 8 1 -2 1 -1.2 1 -2.2 1 -1.7 1 1.4 1 -1.7 1 -1 1 -3.4 1 -0.4 1 1.9 1 -2.7 1 0.3 1 2.1 1 -3.8 1 -1 1 1.9 1 -1.4 1 -2.9 1 -1.7 1 -3.3 1 -3.1 1 2.1 1 0 1 -1.5 1 0 1 0.3 1 -0.1 1 -3.7 1 0.2 1 -0.6 1 -3.6 1 1.5 1 1.6 1 -2.1 1 -1.4 1 -0.2 1 1.6 1 -0.6 1 2.4 1 -3.2 1 -0.9 1 0.1 1 -0.1 1 2.7 1 1.7 1 5.3 1 -2.1 1 0 1 3.7 1 3.2 1 2.8 1 6.7 1 6.7 1 1.8 1 1.9 1 0.5 1 -0.3 1 1 1 1.8 1 1.8 1 -5.6 1 2.6 1 3.9 1 3 1 -0.9 1 -2.7 1 -3.4 1 -2.1 1 2.8 1 -0.4 1 3.7 1 -0.3 1 1.1 1 1.1" fill="none" stroke="#4472C4" stroke-width="3.90" stroke-linejoin="round" stroke-linecap="round"/><path d="M88.1 547.4 l1 -4.5 1 -1.5 1 -4.6 1 -1.1 1 -3 1 3.8 1 7.3 1 -2.8 1 -4.7 1 -0.2 1 -0.7 1 -3.6 1 2.3 1 -0.7 1 0.6 1 -0.9 1 0.8 1 4 1 -0.1 1 5.5 1 -1.4 1 1.3 1 -9.8 1 -8.2 1 1.6 1 -3.3 1 -6.6 1 2.4 1 -1.1 1 4.3 1 -4.3 1 -3 1 -5.1 1 -0.1 1 -2.1 1 -3.9 1 2.9 1 -0.6 1 -2 1 -1.1 1 1.7 1 -5.7 1 -1.7 1 -1 1 -0.5 1 -4 1 -1.2 1 -1.2 1 -3.5 1 -1.5 1 1.5 1 2.4 1 1.6 1 -0.7 1 0.7 1 -0.5 1 0.6 1 0 1 -4.5 1 -1.7 1 -1.8 1 -2.9 1 -3.8 1 -3.4 1 1.8 1 3.7 1 1.7 1 -1.4 1 2.8 1 1.8 1 -0.4 1 1.7 1 4.1 1 0.9 1 3.1 1 -1.2 1 -0.9 1 0.8 1 2.4 1 -4.2 1 1.9 1 3.9 1 1.5 1 4.3 1 2.2 1 0.2 1 -0.1 1 -0.2 1 2.3 1 2.8 1 0.4 1 -0.2 1 2.3 1 -5.5 1 -4.3 1 -6.3 1 -5.5 1 -4.8 1 -0.4 1 1 1 -4.3 1 -0.4 1 0.6 1 -3.8 1 7.3 1 5 1 -3 1 10.9 1 2.7 1 2.5 1 0.1 1 0.6 1 -1 1 3.3 1 1.9 1 -2.3 1 -1.4 1 8.8 1 12.3 1 3.8 1 0.4 1 7.6 1 0.2 1 -7.9 1 5.2 1 3.1 1 2.4 1 3.4 1 -3 1 -5.4 1 -3.3 1 -2.9 1 1 1 3.6 1 -1 1 0.5 1 2 1 1.8 1 -6.9 1 -4.1 1 -5.9 1 -4.8 1 -1.3 1 1.4 1 2.5 1 1.6 1 2.8 1 0.2 1 1.1 1 2.2 1 2.5 1 1.8 1 -1 1 -2.3 1 -3.5 1 -1.6 1 0.9 1 2 1 1.9 1 -2.2 1 3.2 1 0 1 4.1 1 0.6 1 -5.6 1 -6.8 1 -3.2 1 -1.2 1 4.1 1 3.1 1 0.8 1 -2.5 1 3.1 1 2.3 1 2.3 1 5.3 1 -3.1 1 3.2 1 -1.4 1 1 1 6 1 2.5 1 -0.1 1 2.3 1 -12.9 1 -17.5 1 -9 1 -1.5 1 -3.2 1 -1.1 1 -0.1 1 -2.2 1 -1.1 1 -1.7 1 -4.6 1 1.4 1 -2.7 1 0.2 1 -3.7 1 -0.5 1 -3.4 1 -0.9 1 -0.3 1 0.7 1 0.3 1 2 1 -0.5 1 -5.6 1 -2.9 1 1.8 1 -0.5 1 -2 1 -3.5 1 -2.8 1 -5.6 1 -3.5 1 -0.8 1 -4.3 1 -0.8 1 0.9 1 -3.1 1 0.2 1 -4 1 -4.1 1 -0.5 1 -5.7 1 3.3 1 8.2 1 6.1 1 -1.8 1 -1.6 1 5.8 1 -4.1 1 1.2 1 -3.4 1 -0.7 1 -3.5 1 5.2 1 0.9 1 -3.1 1 -0.2 1 1.9 1 4.1 1 3.9 1 -0.5 1 7.4 1 1.2 1 -6.6 1 3.3 1 -1.6 1 2.3 1 2.4 1 4 1 -0.4 1 -0.5 1 -1.8 1 -2.9 1 -0.9 1 -1.5 1 -2.1 1 -3.2 1 -4.5 1 -4.7 1 0.6 1 -0.9 1 2.8 1 -1.9 1 1 1 -0.5 1 -0.5 1 -0.7 1 2.7 1 0.9 1 -1 1 -0.9 1 1.3 1 3.2 1 1.6 1 3.4 1 0.2 1 2 1 -3.8 1 0.4 1 3.6 1 -0.2 1 0.2 1 0.8 1 1.5 1 0 1 -3.6 1 -0.4 1 -1.6 1 -1.5 1 1.8 1 -1.8 1 0.6 1 0.9 1 -1 1 2.1 1 0.3 1 2 1 -5.1 1 3.7 1 2.1 1 1.9 1 0.9 1 0.8 1 0.1 1 1.7 1 2.8 1 -2.6 1 2.3 1 1.4 1 -0.6 1 -2.3 1 7.4 1 -1.4 1 -4.4 1 1 1 2.4 1 -2.6 1 -0.1 1 -2.5 1 2.1 1 3.9 1 1.2 1 2.1 1 3.9 1 0.2 1 -6.8 1 -5.5 1 -3.9 1 -8.5 1 -6.2 1 -9 1 -3 1 4.5 1 1.4 1 0.2 1 -6.3 1 -1.6 1 -0.9 1 -3 1 -0.5 1 -1 1 -1.2 1 -2.8 1 -2.7 1 2.7 1 -0.7 1 -1.1 1 1.5 1 -0.3 1 -5.3 1 -1.1 1 1.4 1 -1.9 1 2.4 1 0.1 1 -0.2 1 0.5 1 -0.7 1 -0.1 1 0.8 1 0.5 1 -2.4 1 -4.2 1 -4.4 1 -0.7 1 -3.1 1 -2.9 1 -0.8 1 -2 1 -1.6 1 1.7 1 -2.2 1 2.4 1 2.8 1 -0.6 1 2.4 1 0.6 1 0.7 1 3.5 1 3.2 1 2.8 1 6 1 1.3 1 3.8 1 2.4 1 2.5 1 3 1 2.7 1 4.8 1 4.9 1 4 1 0 1 5 1 -0.4 1 3.4 1 -0.1 1 3.6 1 -1.1 1 -1.8 1 -0.9 1 3.6 1 3.5 1 2.5 1 -3.5 1 0.4 1 0.5 1 4.4 1 0.7 1 1.8 1 3 1 3.8 1 -2 1 7 1 -0.1 1 1.1 1 3.9 1 0.2 1 -1.2 1 -2.1 1 1.1 1 -4.6 1 -2.4 1 -3.9 1 0.8 1 -0.9 1 -2.4 1 -0.8 1 -0.8 1 -1.3 1 1.2 1 -1.1 1 1.2 1 -2.1 1 -2.5 1 -2.4 1 -1.5 1 0.9 1 -2.9 1 0.5 1 -0.9 1 0.7 1 -1.4 1 -0.8 1 -3.7 1 -2.3 1 -1.1 1 -4.3 1 0.3 1 2.1 1 -1.1 1 -2 1 0.4 1 -3.1 1 2 1 -2.6 1 -1.1 1 -2.1 1 4.9 1 4.8 1 4.9 1 2 1 6.6 1 8.7 1 8 1 8.3 1 3.4 1 -2.3 1 -0.3 1 -0.3 1 -2.1 1 -1.4 1 2.5 1 1.1 1 -0.4 1 -1.4 1 -0.1 1 -0.6 1 2.7 1 -2.9 1 0.9 1 1.9 1 -1.2 1 -0.2 1 0.8" fill="none" stroke="#ED7D31" stroke-width="3.90" stroke-linejoin="round" stroke-linecap="round"/><path d="M88.1 533.0 l1 -5 1 -3.6 1 -5.1 1 4.7 1 1.8 1 -1.7 1 -0.3 1 1.8 1 1.3 1 -0.4 1 -0.7 1 -3.6 1 7.3 1 -7.1 1 3.6 1 2.3 1 1.9 1 2.8 1 2.3 1 2 1 6.7 1 0.5 1 -9.6 1 -12.1 1 0.1 1 -1.2 1 0.1 1 0.3 1 0.2 1 -3.4 1 2.9 1 -0.8 1 0 1 -4.7 1 0.2 1 -1.3 1 3.1 1 -2.2 1 -4.6 1 -3 1 -2.5 1 -0.8 1 1.2 1 -6.5 1 0 1 -3.9 1 -2.2 1 -1.5 1 -1.3 1 -1 1 3.1 1 1 1 0 1 1.2 1 0 1 -4.2 1 0.3 1 -2.6 1 2.8 1 -1.9 1 -0.2 1 -6.6 1 -5.8 1 -3.7 1 1.4 1 1 1 3.4 1 -0.4 1 -1.8 1 3.1 1 2.8 1 0.9 1 -3.3 1 0.6 1 -0.1 1 0.2 1 -0.2 1 -5.8 1 -2.9 1 -2.5 1 -2.3 1 0.7 1 -0.9 1 0.9 1 -0.1 1 2.1 1 -3.5 1 3.5 1 4.2 1 -0.8 1 3.6 1 3.7 1 1.2 1 -0.8 1 -4.9 1 -7.9 1 1 1 -3.6 1 -2 1 -4.3 1 -1.3 1 2.5 1 3.6 1 0.7 1 3.7 1 5.7 1 6.9 1 2.3 1 4.7 1 2.1 1 5 1 0.9 1 0.3 1 4.5 1 -4.8 1 0.8 1 -0.8 1 6 1 13 1 9 1 1.7 1 0.4 1 -3.2 1 1.5 1 3.7 1 3.4 1 1.2 1 2.3 1 -3.7 1 -3 1 -3.7 1 -2.9 1 1.2 1 4.4 1 1.7 1 2.2 1 -4.8 1 1.5 1 -0.5 1 -5.3 1 -2.6 1 -7.6 1 0.7 1 -2 1 -2.2 1 -0.5 1 3.6 1 -0.7 1 2.8 1 7 1 6.3 1 -0.2 1 -1.2 1 2.1 1 -1.8 1 3.6 1 -1.7 1 -1.7 1 0.8 1 -1.7 1 3.3 1 1.6 1 1.6 1 0.1 1 -5.2 1 -6.6 1 -3.6 1 0.8 1 -2.2 1 4.3 1 -0.9 1 0.8 1 3.3 1 0.1 1 2.2 1 5.1 1 -1.2 1 -0.5 1 0.6 1 -1.2 1 3.5 1 6.1 1 1.3 1 -3.1 1 -9.1 1 -11 1 -9.8 1 -2.7 1 2.8 1 -0.7 1 -0.8 1 2.3 1 -2.1 1 -3.2 1 0 1 3.2 1 -7.3 1 1.1 1 -2.8 1 2.2 1 -3.1 1 -2.7 1 -1.3 1 5.4 1 0.4 1 -2.7 1 -2.6 1 -0.1 1 -1.4 1 0.4 1 -0.1 1 -1.5 1 2.4 1 0 1 -2.1 1 -3 1 0.3 1 -0.3 1 -1.3 1 5.8 1 1.6 1 0.1 1 -4.6 1 0.4 1 -1.6 1 -2.3 1 6 1 8.5 1 6 1 2.7 1 -1.5 1 -1.4 1 2.8 1 -4.3 1 1.4 1 -2.3 1 1.9 1 -0.9 1 -8.2 1 -2.1 1 4.1 1 -1.8 1 0.8 1 0.6 1 4.5 1 -1.2 1 6 1 -1.2 1 1.2 1 -0.5 1 -0.5 1 0.5 1 1.7 1 3.7 1 -0.9 1 0.9 1 -2.3 1 4.1 1 4.4 1 -1.1 1 -3.5 1 -0.8 1 -0.9 1 0.5 1 -2.7 1 -0.8 1 -0.7 1 -0.5 1 1 1 -2.1 1 -5.7 1 -3.6 1 -1.9 1 -1.2 1 0 1 -4.6 1 1.5 1 1.5 1 0.3 1 2.8 1 3.9 1 -2.4 1 1.9 1 -1.6 1 -0.7 1 2.6 1 -1.4 1 3.1 1 -2.2 1 3.3 1 2 1 -2.8 1 1.4 1 2.8 1 1.5 1 -1.7 1 -1.1 1 6.8 1 3.6 1 0.7 1 -7.2 1 -2.4 1 3 1 -0.2 1 -3 1 -3.4 1 2.6 1 -1 1 -2.3 1 -6.6 1 2.6 1 1.5 1 1.5 1 0.9 1 -1.9 1 -3.1 1 -1 1 -1 1 -3 1 -0.2 1 1.3 1 0 1 -2.5 1 0.2 1 0.8 1 2.6 1 -1.1 1 0.2 1 -5.9 1 -1.9 1 -5.9 1 0.2 1 -1.8 1 4.5 1 0 1 0.5 1 -1.6 1 -1 1 -2.5 1 -0.1 1 -2.3 1 0.5 1 -4 1 -2 1 1.7 1 -0.9 1 -3.7 1 1.3 1 -3.6 1 -0.2 1 0.3 1 0.8 1 -1.6 1 1.8 1 -0.4 1 -0.5 1 -1.1 1 -1.6 1 -2.5 1 -3.9 1 1 1 -0.8 1 -2.8 1 1.4 1 -3.5 1 -0.6 1 -4.2 1 -0.1 1 -0.4 1 -4 1 -2.6 1 -2.8 1 -0.5 1 -2.9 1 0.2 1 1.4 1 2.1 1 0.3 1 2.5 1 -0.2 1 3.5 1 2.2 1 1.1 1 -3.1 1 3.8 1 7.1 1 2.7 1 -1 1 2.8 1 2.5 1 0.8 1 2.4 1 2.2 1 2.1 1 5.2 1 2.3 1 4.9 1 0.7 1 1.6 1 0.5 1 2.8 1 1.6 1 -1.2 1 3.7 1 -0.9 1 2.3 1 0.4 1 -1.9 1 -0.4 1 0.8 1 3 1 0.2 1 -2.2 1 1.1 1 0.5 1 0.2 1 0.7 1 -2.3 1 -1.6 1 -3.3 1 3.4 1 0.6 1 -3 1 -1 1 0 1 -2.4 1 -1.4 1 -1.2 1 2 1 -4.3 1 2.2 1 1.6 1 2 1 4 1 -1.9 1 -5.5 1 -0.8 1 3.1 1 0.3 1 -1.8 1 -7.8 1 -3.5 1 -3.9 1 -4 1 4.6 1 1.9 1 -0.4 1 -0.7 1 3.3 1 1.5 1 -0.7 1 -6.5 1 1.4 1 0.5 1 1.6 1 4.2 1 -0.6 1 -0.1 1 1.4 1 3.2 1 0.5 1 0.1 1 -1.6 1 2.3 1 0.3 1 8.4 1 -0.5 1 7 1 7.7 1 13 1 1.4 1 3.2 1 -6.8 1 1.2 1 3.6 1 -3 1 1.9 1 -0.3 1 0.1 1 0.9 1 1.2 1 -2.5 1 1 1 1 1 2.1 1 3.1 1 -5.7 1 0.7 1 -1.3 1 3.4" fill="none" stroke="#A5A5A5" stroke-width="3.90" stroke-linejoin="round" stroke-linecap="round"/><path d="M88.1 539.5 l1 -2.1 1 -3.6 1 -5.9 1 -0.2 1 -0.6 1 1.4 1 1.3 1 -3.9 1 -0.6 1 -0.1 1 2.3 1 -1.4 1 2.3 1 1.3 1 0.4 1 0.7 1 1.1 1 -0.6 1 1.5 1 2 1 4.3 1 -0.9 1 -8.3 1 -9.4 1 -3.7 1 1.6 1 -12 1 8.6 1 3.5 1 -2.2 1 -3.6 1 -4.7 1 -4.5 1 3.8 1 -5.6 1 0 1 0.2 1 -2.2 1 -2.2 1 -1.4 1 3.1 1 -2 1 -0.1 1 -6.1 1 0.1 1 -3.5 1 -0.2 1 -3 1 -6.9 1 5.1 1 -1.6 1 4.4 1 1.8 1 -1.2 1 -1.5 1 -4.4 1 -4.9 1 -2.9 1 -2.2 1 3.1 1 -1.5 1 -2.3 1 -4.5 1 -4.6 1 4 1 -0.7 1 1.9 1 6.7 1 -2.1 1 0 1 0.4 1 1.8 1 3 1 0.8 1 1.8 1 1.9 1 -3.1 1 0.9 1 2.2 1 0 1 7.2 1 -0.6 1 -4.2 1 0.3 1 3.6 1 -1.6 1 3.4 1 -1.9 1 -0.3 1 1.2 1 1.3 1 0.6 1 -0.6 1 -3 1 -3.4 1 -1.8 1 -7 1 -4.8 1 -2.4 1 -1.9 1 -4.3 1 1.8 1 0.4 1 -0.7 1 6.4 1 6.4 1 6.8 1 2.3 1 -0.7 1 -0.3 1 -0.4 1 -3.5 1 2.9 1 2.3 1 -2.3 1 1.6 1 0 1 1.2 1 11.3 1 8.1 1 -0.2 1 -1.3 1 -3.7 1 1.7 1 1 1 2.1 1 5.1 1 1 1 -3.4 1 1.8 1 -5.6 1 -6.9 1 -8.8 1 1.1 1 3.5 1 0.4 1 2 1 3.3 1 1.2 1 -5.7 1 4.9 1 -5.1 1 -7.5 1 3.4 1 -1.2 1 2.4 1 -0.7 1 1.8 1 1 1 6.5 1 4.2 1 0.3 1 -2.4 1 -1 1 4.2 1 -1.1 1 -6.3 1 -0.5 1 0 1 1.5 1 3.3 1 2.4 1 -0.6 1 1.2 1 -3 1 -2.8 1 -9.5 1 -4.4 1 3 1 0.3 1 3.6 1 3.1 1 3.1 1 1.7 1 1.7 1 2.3 1 1 1 2.6 1 0.9 1 0.7 1 12 1 6.2 1 3.5 1 3.5 1 -11.7 1 -14.4 1 -7.8 1 -0.6 1 -3.4 1 -1.4 1 -0.6 1 -2.5 1 -2.8 1 -3.7 1 1.2 1 -3 1 0 1 1.5 1 -2.2 1 -0.4 1 -1.3 1 -1 1 -2.4 1 1.5 1 1 1 -3.8 1 1.7 1 -0.7 1 -0.9 1 1.9 1 -1.7 1 -3 1 -0.9 1 -2.7 1 -0.9 1 -4.5 1 1.9 1 1.2 1 1.4 1 0.5 1 0.1 1 -0.6 1 -3.3 1 -2.9 1 -6.3 1 -4.4 1 3.6 1 5.5 1 3.7 1 5.1 1 -2.1 1 -3.2 1 -0.4 1 -5.4 1 -8.2 1 -3 1 3 1 -0.7 1 1.7 1 -3.1 1 -1.5 1 1.6 1 0.5 1 -2.9 1 -4.4 1 -0.3 1 -1.5 1 -5.5 1 -2.4 1 4.4 1 1.3 1 7.8 1 3.1 1 4.3 1 3.5 1 3.8 1 -1.5 1 2.6 1 2.4 1 4.2 1 3.8 1 5.6 1 0.9 1 5.5 1 2.5 1 -2.2 1 5.4 1 0.9 1 1.2 1 -1.1 1 2 1 -3.9 1 4.9 1 2.8 1 5.1 1 -4.1 1 1.1 1 0 1 2.6 1 -2.5 1 -1.3 1 4.3 1 0.1 1 -2.6 1 3.1 1 2.3 1 -0.6 1 -0.3 1 -1.7 1 -2.5 1 -4 1 -2.4 1 -1.9 1 2.7 1 -1.4 1 2.1 1 3.7 1 -0.1 1 3.1 1 -1.7 1 0.3 1 2.3 1 0.8 1 2 1 1.3 1 3.3 1 2.6 1 1.7 1 -0.3 1 2.8 1 -5.3 1 -4.2 1 -1.7 1 -1.2 1 -3.6 1 -0.1 1 -0.9 1 -2 1 -1.5 1 -0.3 1 -5.4 1 -6.4 1 -2.7 1 -1.2 1 -0.6 1 0.2 1 -0.4 1 -4.2 1 -4.2 1 1.1 1 -0.3 1 -0.1 1 -2 1 -0.8 1 1.1 1 -0.1 1 5.2 1 -2.8 1 -3.3 1 -8.3 1 0.2 1 -2.7 1 -1.9 1 -3.1 1 -2.5 1 -3 1 1.7 1 -2.4 1 -5.4 1 -4.9 1 -0.9 1 1.3 1 2.5 1 -0.5 1 1.1 1 -3.4 1 -1.8 1 -1.1 1 0.1 1 -1.6 1 2.6 1 -2.3 1 -4.1 1 -1.5 1 0 1 0.3 1 -2.1 1 2.1 1 -4.4 1 2.4 1 -0.3 1 -0.1 1 0.8 1 -1.4 1 -3.5 1 1.4 1 3 1 1.8 1 2.8 1 0.7 1 4.9 1 0.7 1 -1.7 1 0.6 1 1.5 1 12.2 1 5 1 -5.5 1 2 1 2.3 1 1.9 1 2.3 1 0.9 1 3.5 1 3.4 1 3.3 1 4.5 1 0.5 1 -4.1 1 2.1 1 -1.2 1 3.2 1 3 1 -0.2 1 2.4 1 4.2 1 -1.2 1 -0.7 1 0.8 1 5.1 1 -0.8 1 -2.9 1 5.2 1 0.6 1 2.6 1 1.5 1 3 1 2.2 1 2.9 1 1 1 -5.5 1 2.5 1 9 1 0.3 1 1.4 1 3.3 1 3.1 1 3.4 1 -1.2 1 0.3 1 3 1 -0.2 1 -2.8 1 5.5 1 -3.5 1 -1 1 -1.9 1 1.2 1 5.2 1 1.4 1 -2.2 1 -0.3 1 -2.2 1 -1.9 1 -1.5 1 -4.7 1 1.2 1 -2.4 1 -2.1 1 0.8 1 -3.3 1 1.6 1 0.9 1 1.8 1 -1.2 1 -6.4 1 1.2 1 -0.9 1 -1.3 1 -2.7 1 1.2 1 -2.1 1 -1.4 1 -4.5 1 -2.8 1 5.8 1 9.6 1 6.8 1 7.3 1 2.7 1 2.2 1 -0.4 1 -1.8 1 -2.8 1 1.7 1 -3.1 1 -2.2 1 -2.2 1 -1.1 1 -1.4 1 -3 1 -0.3 1 -1.7 1 -0.1 1 -0.2 1 -8.4 1 0.4 1 5.8 1 2 1 -1.4" fill="none" stroke="#FFC000" stroke-width="3.90" stroke-linejoin="round" stroke-linecap="round"/><path d="M88.1 546.2 l1 -2.2 1 -4.3 1 -2 1 0.5 1 1.9 1 -1.6 1 -1.2 1 3.7 1 -0.7 1 -2.4 1 0.2 1 2.7 1 -5.5 1 1.2 1 1.3 1 1 1 -0.1 1 0.1 1 0 1 2.8 1 1.5 1 1.4 1 -10.7 1 -11.2 1 2.9 1 -1.1 1 -3.7 1 4.6 1 0.4 1 -2.8 1 -6.2 1 -3.5 1 0.1 1 -0.1 1 -2.1 1 -1.1 1 -2.7 1 0.6 1 -3.9 1 -0.4 1 -1.9 1 0 1 -0.1 1 -6.9 1 0.5 1 -5.5 1 1 1 -1.7 1 0.5 1 -1.9 1 -1.5 1 4.8 1 -0.4 1 -1.5 1 1 1 -7.3 1 0.7 1 -0.4 1 -2.5 1 -2.1 1 -1.5 1 -2.1 1 -5.1 1 -5.2 1 1.6 1 0.1 1 2.6 1 -0.9 1 -0.2 1 0.9 1 3.9 1 1.5 1 1.3 1 -0.6 1 3.8 1 1.3 1 3.1 1 -4.3 1 -1.1 1 0.4 1 4.7 1 -3 1 4.5 1 0.2 1 2.2 1 -0.5 1 -3.2 1 -0.4 1 -2.7 1 3.3 1 0.5 1 2.7 1 -0.6 1 -2.3 1 -4.1 1 -5.5 1 -3.3 1 -0.2 1 -4.3 1 -2.1 1 2.8 1 -6.9 1 3.4 1 3.1 1 2.6 1 6.5 1 10.3 1 0 1 0.3 1 1.4 1 -0.7 1 3 1 5.3 1 -0.6 1 1.9 1 -2.3 1 -1.2 1 6.7 1 11.2 1 7.5 1 0.9 1 4.8 1 2.8 1 -1.9 1 1 1 2.1 1 4.6 1 2.5 1 -0.2 1 -4.4 1 -3.2 1 -9.9 1 -6.7 1 -0.6 1 9.3 1 -1.1 1 -0.4 1 0 1 -1.5 1 -4.2 1 -2.1 1 -3.3 1 -4.6 1 0 1 -2.3 1 1.2 1 2.4 1 5.2 1 -0.5 1 2 1 3 1 -0.6 1 -5.9 1 -2.7 1 2.9 1 -3.2 1 0.6 1 1 1 0.4 1 2.8 1 2.2 1 2.3 1 -0.5 1 1.3 1 -5.1 1 -5.8 1 -4.8 1 -2.9 1 1.2 1 1.9 1 1 1 1.2 1 3.3 1 6 1 -2.2 1 1.8 1 1.9 1 2.1 1 -1.9 1 -0.6 1 8.4 1 7.4 1 -0.2 1 3.1 1 -12.7 1 -14.4 1 -5.6 1 -3.5 1 0.9 1 -4.9 1 -3 1 -3.1 1 -0.3 1 -0.7 1 -4.5 1 -1.3 1 -1.7 1 -2.5 1 -3.3 1 -3.4 1 -2.4 1 -0.8 1 -1.8 1 -3.1 1 -0.4 1 -0.6 1 0.9 1 0.9 1 -3.3 1 0.9 1 0.3 1 -1.6 1 4.4 1 -0.6 1 3.4 1 -1.6 1 3 1 0.5 1 1.5 1 0.8 1 3 1 4 1 0 1 -3.7 1 -0.5 1 -3.9 1 3.6 1 6.9 1 3.2 1 8.2 1 2.6 1 3.5 1 -6 1 -1 1 -1.2 1 -1 1 -0.6 1 -0.6 1 -0.4 1 -3.8 1 -2.4 1 4.5 1 -0.7 1 4.5 1 -3.3 1 -0.8 1 1.2 1 3.9 1 0.6 1 0.2 1 0.1 1 -3.4 1 4.8 1 -2.3 1 5.2 1 0.6 1 1.3 1 0 1 1.9 1 1.1 1 -3.1 1 5.4 1 -5.1 1 -0.6 1 -4.2 1 -2.9 1 -1 1 -1.6 1 -6.3 1 -2.6 1 0 1 -7.1 1 -2.8 1 5.2 1 -3.9 1 2.8 1 -2 1 1.4 1 0.7 1 1.7 1 0.7 1 -4.8 1 -0.3 1 0.2 1 0.9 1 -1 1 0.6 1 3.2 1 0.2 1 0.6 1 -0.4 1 0.5 1 1.4 1 2.1 1 3.1 1 2 1 -3.7 1 -0.6 1 -2.1 1 2.3 1 1.9 1 0.5 1 0.9 1 0.2 1 2.1 1 2 1 -3 1 2.7 1 0.9 1 1.9 1 -0.9 1 1.7 1 -1.2 1 1 1 -4.3 1 5.2 1 -1.5 1 -0.6 1 2.3 1 0.9 1 -2.4 1 3.5 1 -2.6 1 -0.8 1 -0.7 1 -1.3 1 -1.4 1 2.1 1 -3.2 1 1 1 -2.3 1 -1.5 1 0.1 1 -0.6 1 0.9 1 0.4 1 1.4 1 2.8 1 1.6 1 0.7 1 1.3 1 -1.1 1 -0.5 1 3.7 1 -4.1 1 0.2 1 -0.2 1 -4.7 1 -1 1 -0.7 1 2 1 -0.1 1 -1.2 1 -1.9 1 0.1 1 -1.3 1 -1.5 1 -0.9 1 0.3 1 -11.1 1 -1 1 7.1 1 0.8 1 2 1 -0.3 1 -0.8 1 -0.3 1 -3.2 1 -0.3 1 -5.5 1 -3.6 1 -8.5 1 -6.7 1 -3.7 1 0.1 1 5 1 -0.5 1 -1.3 1 -0.1 1 1.3 1 1.1 1 4.3 1 1.6 1 10.3 1 -7 1 0.6 1 0.6 1 1.8 1 2.1 1 3 1 2.7 1 0.5 1 2.9 1 -0.5 1 3.5 1 3.8 1 2.8 1 -2.1 1 -0.7 1 3.6 1 4.4 1 -1.2 1 2.7 1 -1.5 1 0.9 1 0.6 1 -0.2 1 -0.5 1 1 1 -0.6 1 1.4 1 -1.4 1 -1.9 1 6.9 1 -7.4 1 -1.4 1 0.8 1 7 1 -0.8 1 -1 1 -1.6 1 1.5 1 -1.3 1 -0.4 1 0.6 1 0.3 1 0.5 1 -2.5 1 -0.2 1 -1 1 -3.7 1 -0.5 1 -0.9 1 -0.2 1 -0.2 1 -1 1 -1.8 1 -3.2 1 -0.4 1 1.3 1 0.3 1 -1.9 1 3 1 -3.3 1 1.6 1 -2.1 1 -2.8 1 0.2 1 0.5 1 -1.4 1 0.3 1 1.8 1 -2.6 1 -0.6 1 -2.8 1 -0.8 1 1.9 1 -2.8 1 -1 1 1.4 1 2.1 1 -0.1 1 3.3 1 0.3 1 2.4 1 8.7 1 2.2 1 1.6 1 4.8 1 3.7 1 4.6 1 3.2 1 1.3 1 -1.1 1 1.2 1 2.5 1 0.6 1 0.3 1 0.8 1 0.6 1 1 1 3.9 1 -1.2 1 1.4 1 5.1 1 -5 1 1.9 1 5.1 1 0.1 1 0.8" fill="none" stroke="#5B9BD5" stroke-width="3.90" stroke-linejoin="round" stroke-linecap="round"/><path d="M88.1 540.3 l1 -0.5 1 -1.8 1 -3.8 1 2.8 1 1.5 1 -0.9 1 -0.8 1 0.8 1 -0.8 1 -0.9 1 0.9 1 -0.5 1 -2.5 1 -1.8 1 -3.8 1 0.7 1 3.7 1 2.5 1 4.6 1 2.8 1 2.4 1 3.7 1 -10.5 1 -10.6 1 -0.4 1 -5.2 1 -2.1 1 4.9 1 -1 1 3.3 1 -0.6 1 -7.1 1 -0.7 1 -1.9 1 -2.7 1 1.5 1 2.5 1 -0.6 1 -3.4 1 -2.9 1 -0.1 1 -5.6 1 -1.4 1 -0.5 1 -2.4 1 -3.7 1 -2.2 1 -3.2 1 -1.4 1 5.1 1 3.3 1 -0.1 1 -0.2 1 -0.5 1 -1.9 1 -1.8 1 -2.7 1 -1.2 1 3.2 1 -2.1 1 -1.8 1 -3 1 -7.8 1 -3.3 1 2.9 1 2.2 1 -0.7 1 -0.1 1 0.6 1 0.8 1 -0.6 1 3.9 1 4.1 1 1 1 -0.5 1 3.9 1 -1.2 1 1.3 1 -1.2 1 0.7 1 -5.6 1 2.6 1 0.3 1 7.1 1 -1.4 1 -0.8 1 1 1 3.9 1 3.6 1 -0.4 1 -3.3 1 -2.2 1 0.6 1 -2.3 1 0.6 1 -3.8 1 -5.3 1 -2.7 1 6.6 1 1.1 1 -2.2 1 2 1 -2.3 1 0.6 1 4.7 1 4 1 12.6 1 -1 1 -2.2 1 3.1 1 -1.9 1 0 1 0.9 1 -1.8 1 -4.2 1 -3.1 1 -0.9 1 0 1 9.3 1 13.5 1 0.1 1 0.4 1 -1.2 1 0.8 1 0.5 1 1.5 1 5.2 1 -0.5 1 -1.7 1 -1.6 1 -4.8 1 -4.5 1 -2 1 -0.5 1 0.5 1 0.2 1 -0.9 1 3.5 1 1.6 1 -6.2 1 -5 1 -6 1 -2.8 1 4.9 1 2 1 -1.9 1 3 1 4.2 1 2.1 1 0.4 1 2.9 1 1.2 1 -1.5 1 4.9 1 -5.6 1 3.5 1 -1.2 1 -0.3 1 0.4 1 1.4 1 1 1 2.1 1 3.9 1 3.5 1 -6.7 1 -5.6 1 -1.7 1 -4.5 1 2.6 1 0.7 1 3.2 1 5.3 1 4.8 1 4.8 1 3.7 1 0.3 1 3.1 1 0.2 1 -3.3 1 2.7 1 3.1 1 3.9 1 -0.1 1 -3 1 -11.1 1 -16.2 1 -7.8 1 -2.3 1 -2.2 1 -4.2 1 0 1 1.3 1 4.3 1 -3.8 1 2.3 1 -0.8 1 -3.6 1 -3.8 1 3.9 1 6.1 1 -0.1 1 -3.3 1 -9.1 1 1.1 1 -2 1 0.3 1 -2.2 1 -2.5 1 2.4 1 -4.8 1 0.1 1 -1.2 1 -2.9 1 -2.2 1 3.5 1 -2.2 1 4.2 1 -4.7 1 -3 1 1 1 3.2 1 -1.2 1 -6.7 1 -2.2 1 -2 1 -4.9 1 -3.7 1 3.3 1 3.9 1 6.6 1 1.8 1 -2.1 1 -2.9 1 4.8 1 -3 1 -9 1 -3.2 1 0.2 1 0 1 2.8 1 0.7 1 2.4 1 1.2 1 -1 1 4 1 -0.9 1 -5.5 1 7.4 1 2.2 1 -5.3 1 3.9 1 4.2 1 3.8 1 3.6 1 -3.8 1 4.6 1 5.2 1 1.1 1 -4.3 1 -2.6 1 -0.1 1 2.8 1 -3 1 0.9 1 -2.8 1 -0.3 1 -1.3 1 -3.7 1 0 1 -0.6 1 -2.1 1 1.9 1 -0.7 1 -1.2 1 -1.7 1 -1.4 1 -4 1 0.2 1 0.4 1 0.8 1 -0.2 1 -0.3 1 -3.2 1 -0.2 1 0.5 1 -0.1 1 -0.5 1 -0.7 1 -3.7 1 -2.2 1 -8.6 1 6.5 1 -2.9 1 -0.4 1 -1.4 1 0 1 -0.2 1 -2.3 1 -2.2 1 -2.4 1 -1.3 1 2.7 1 -1.6 1 2.7 1 1.5 1 1.6 1 -1.4 1 1.3 1 3.3 1 0.8 1 0.9 1 0 1 -2.3 1 -1.2 1 0.1 1 -4.3 1 -1.5 1 -1.1 1 1 1 2.7 1 5.6 1 2.8 1 0.9 1 1.9 1 -1 1 -0.2 1 3.6 1 2.3 1 -4.6 1 -3.1 1 -2.6 1 0.4 1 -2.7 1 -3.5 1 -5.5 1 -0.3 1 0.6 1 -1 1 0.2 1 1.8 1 -2.5 1 0.3 1 -1.7 1 -10.8 1 20 1 -2 1 -4.1 1 -7.1 1 -0.7 1 -2.8 1 -1.6 1 -1.4 1 -0.6 1 0.6 1 2.4 1 -0.3 1 -7.5 1 -0.2 1 -1.7 1 -1.6 1 -0.2 1 1.2 1 2.8 1 -5.9 1 0.3 1 -1.9 1 1 1 -3 1 -3.4 1 -0.4 1 0.3 1 -3.4 1 -2 1 -0.6 1 -1 1 0.4 1 -8 1 5.1 1 5.5 1 -1.2 1 1.7 1 2.4 1 2.9 1 3.9 1 4 1 4.2 1 1.2 1 1.7 1 7.2 1 1.1 1 4.9 1 4.1 1 2.9 1 1 1 -3.7 1 1.3 1 1.8 1 4 1 3.1 1 0 1 2.9 1 1.1 1 0.2 1 2.3 1 2 1 1.4 1 4.6 1 -4.9 1 0.5 1 -0.8 1 1.5 1 3 1 1.4 1 2.8 1 0.6 1 8.9 1 1.5 1 -1.6 1 1.6 1 -2.8 1 -0.9 1 -0.6 1 -0.8 1 -1.3 1 -3.5 1 -0.5 1 1.3 1 -1.3 1 -2.5 1 -2.7 1 0.4 1 -2.5 1 -3.5 1 -1.1 1 0.1 1 -6.4 1 -1.2 1 -4.8 1 -1.1 1 1.9 1 3.5 1 1 1 -1.8 1 -0.8 1 0.6 1 -0.6 1 -10.7 1 1 1 2.1 1 3.2 1 -3 1 0.9 1 -1.4 1 -2.6 1 -0.1 1 -0.2 1 0.7 1 -1.5 1 -1.6 1 1.7 1 -0.1 1 3.3 1 2.3 1 0.9 1 -3.7 1 1.1 1 19 1 15.9 1 8.6 1 1.6 1 -3.7 1 -5.1 1 -2 1 -2.9 1 -3 1 -1.3 1 1 1 1.8 1 -0.8 1 0.9 1 3.3 1 0.1 1 6.1 1 1.1 1 -7.2 1 1 1 -0.6 1 -4.6 1 3 1 -1.5" fill="none" stroke="#70AD47" stroke-width="3.90" stroke-linejoin="round" stroke-linecap="round"/><path d="M88.1 540.0 l1 -3.1 1 0.1 1 -6.4 1 -1.9 1 1.1 1 0.8 1 3.2 1 -2 1 0.6 1 0.3 1 -1.9 1 1.1 1 -2.4 1 -0.4 1 0.6 1 1 1 1.7 1 0.9 1 2.2 1 -0.1 1 1.8 1 3.8 1 -9.5 1 -8 1 -2.1 1 -2.4 1 -4.4 1 -0.4 1 5 1 1.2 1 -2.8 1 -4 1 0.5 1 -4.2 1 -8.2 1 -1.8 1 4.3 1 -0.6 1 2.3 1 -3.1 1 -1.2 1 -1.9 1 -0.5 1 0.1 1 0.1 1 -2.9 1 -3.3 1 -2.3 1 -3.9 1 1.5 1 2.4 1 -0.4 1 -1.7 1 -0.3 1 -1.8 1 -2.6 1 -0.2 1 -0.8 1 -0.9 1 -2.9 1 -2.4 1 -2.3 1 -1.6 1 -3.5 1 2.3 1 -1 1 2.9 1 -0.3 1 3.5 1 1.5 1 2.7 1 -0.9 1 1.5 1 0.7 1 2.2 1 3.3 1 -1.3 1 2.2 1 -5.1 1 0.9 1 1.5 1 -1.8 1 1.8 1 3.1 1 0.7 1 -2.4 1 -1.3 1 1.6 1 -2.4 1 1.5 1 1.8 1 3.8 1 0.5 1 -7.1 1 -4.4 1 -5.6 1 -4.3 1 -2.8 1 -2.6 1 0.9 1 -1.8 1 -0.1 1 -1.6 1 3.5 1 7.5 1 6 1 7.6 1 3.5 1 1.6 1 6.8 1 0.5 1 0.2 1 0.3 1 -1 1 -0.7 1 4.2 1 2.1 1 1.3 1 13.1 1 11.4 1 1.5 1 0.8 1 -0.1 1 1.7 1 5.3 1 1.2 1 5.1 1 2.9 1 -1.6 1 -6.5 1 -3.3 1 -2.7 1 -2.1 1 1.1 1 1.7 1 -0.2 1 0.1 1 -2 1 0.2 1 -4.3 1 -5.5 1 -4.5 1 -3.8 1 2 1 1.3 1 2.3 1 0 1 3.4 1 1.6 1 1.5 1 2.8 1 -2.8 1 5.5 1 -1.3 1 -2.3 1 -1 1 0.7 1 -3.6 1 0.5 1 2.2 1 1.1 1 0.8 1 1.8 1 3.2 1 -6.6 1 -3.1 1 -3.6 1 -0.5 1 0 1 -2 1 2.6 1 2 1 -2.8 1 1.8 1 -0.1 1 2.3 1 1.1 1 3.1 1 -3.1 1 0 1 4.4 1 6.5 1 -0.3 1 -0.6 1 -8 1 -14.2 1 -5.6 1 -3.4 1 -2.2 1 0.4 1 -2 1 -0.4 1 0.2 1 -0.5 1 -2.4 1 -0.6 1 -0.4 1 -1.1 1 -0.9 1 0.4 1 -3.6 1 -2.4 1 -1.4 1 -4.7 1 -1.1 1 4.6 1 -0.1 1 -2.5 1 1 1 0.4 1 -4 1 -2.6 1 0.3 1 0.3 1 -2.3 1 0.4 1 0.5 1 -3 1 3.6 1 0.1 1 4.4 1 1.9 1 -4.3 1 -2.5 1 -2.3 1 0.3 1 4.2 1 4.8 1 8.6 1 5.2 1 -0.5 1 -4.4 1 0.2 1 -1 1 -1.3 1 0.3 1 -5.1 1 1.8 1 -0.4 1 -3.7 1 1.1 1 -0.9 1 0.7 1 2.1 1 -0.5 1 2 1 4.3 1 -5.9 1 1.7 1 2.6 1 2.5 1 2.3 1 0.9 1 1.5 1 0.1 1 5.3 1 2 1 -1.6 1 1.6 1 -2.6 1 -1.6 1 -2.3 1 -1.4 1 -2.6 1 0.7 1 -0.8 1 -2.9 1 2.2 1 0 1 2.1 1 -7 1 -1.8 1 -3.1 1 -3.8 1 -3.5 1 -3.3 1 -0.8 1 -0.4 1 2.4 1 3.8 1 0.9 1 -1.8 1 0.7 1 2 1 0.5 1 -0.9 1 -4.9 1 1.5 1 5 1 -7.5 1 3 1 2.8 1 9.3 1 5.5 1 4.7 1 1.9 1 1.8 1 -2.1 1 -7.5 1 -5.2 1 -4.7 1 -3 1 1.9 1 -0.7 1 -0.1 1 -0.8 1 0.8 1 -0.8 1 2.7 1 1 1 3 1 -1 1 3.6 1 1.9 1 0.2 1 -2.6 1 1 1 -4.3 1 -0.4 1 -0.6 1 -2.5 1 5.4 1 8 1 7.5 1 4.2 1 -4.6 1 -9.2 1 -3.2 1 -1.7 1 -4.2 1 -7.4 1 -9.1 1 -4 1 -1.3 1 2.8 1 2.6 1 -1.8 1 0.2 1 0.7 1 -1.1 1 0.9 1 -2.2 1 -2.4 1 -2.5 1 -1.1 1 -0.2 1 -3.9 1 -1.2 1 -4.6 1 -3.7 1 -1 1 -1.5 1 -1.5 1 2.7 1 -1.1 1 -1.2 1 4 1 0.3 1 3.4 1 -2.3 1 1 1 1.3 1 4 1 13.5 1 -3 1 -3.4 1 -0.8 1 -2.2 1 -5.4 1 -4.8 1 -3.3 1 -5.9 1 -1.4 1 -5.5 1 -0.3 1 -0.6 1 2.1 1 1.9 1 -0.8 1 0.7 1 0.2 1 1 1 0.3 1 6.8 1 5.3 1 3.2 1 1.5 1 4.1 1 2.2 1 2.3 1 3 1 2.5 1 8.1 1 1 1 1.6 1 2.2 1 1.9 1 0 1 0.7 1 0.3 1 2 1 0.2 1 -0.6 1 1.3 1 1.7 1 1 1 -0.2 1 3.3 1 -0.3 1 0.6 1 0.2 1 1.6 1 -0.3 1 0.7 1 -4 1 0.8 1 -1.7 1 0.5 1 0.3 1 0.8 1 -3 1 -2.7 1 -0.1 1 -0.4 1 -1.8 1 -2.6 1 -1.1 1 2.7 1 -1.5 1 2.3 1 0.4 1 0.9 1 -2.8 1 4.6 1 -1.8 1 -3.8 1 -5 1 2.9 1 0.8 1 1.1 1 3.9 1 7.7 1 -1.8 1 -6.1 1 -7 1 -5.4 1 0.6 1 -0.7 1 2.4 1 1.1 1 2.2 1 3.1 1 -1.4 1 0.1 1 -4.4 1 0 1 -6.4 1 -0.6 1 1.5 1 -3.3 1 4.1 1 2.5 1 4.7 1 8.8 1 7.3 1 9.2 1 5.9 1 0.9 1 -4.7 1 0.8 1 1.4 1 -0.3 1 1.5 1 1 1 -0.2 1 0.3 1 0 1 2.5 1 -1.2 1 -0.1 1 -0.9 1 2.6 1 2 1 -0.3 1 2 1 4.1 1 1.9 1 2.8 1 0.1 1 4" fill="none" stroke="#264478" stroke-width="3.90" stroke-linejoin="round" stroke-linecap="round"/><line x1="75.7" y1="610.3" x2="108.2" y2="610.3" stroke="#4472C4" stroke-width="3.3" stroke-linecap="round"/><text x="111.5" y="613.9" font-size="11.4" textLength="67.8" lengthAdjust="spacingAndGlyphs">BTC-IMOEX</text><line x1="190.1" y1="610.3" x2="222.6" y2="610.3" stroke="#ED7D31" stroke-width="3.3" stroke-linecap="round"/><text x="225.9" y="613.9" font-size="11.4" textLength="67.8" lengthAdjust="spacingAndGlyphs">ETH-IMOEX</text><line x1="305.0" y1="610.3" x2="337.5" y2="610.3" stroke="#A5A5A5" stroke-width="3.3" stroke-linecap="round"/><text x="340.8" y="613.9" font-size="11.4" textLength="68.5" lengthAdjust="spacingAndGlyphs">BNB-IMOEX</text><line x1="420.1" y1="610.3" x2="452.6" y2="610.3" stroke="#FFC000" stroke-width="3.3" stroke-linecap="round"/><text x="455.9" y="613.9" font-size="11.4" textLength="68.5" lengthAdjust="spacingAndGlyphs">XRP-IMOEX</text><line x1="75.7" y1="635.5" x2="108.2" y2="635.5" stroke="#5B9BD5" stroke-width="3.3" stroke-linecap="round"/><text x="111.5" y="639.1" font-size="11.4" textLength="68.5" lengthAdjust="spacingAndGlyphs">ADA-IMOEX</text><line x1="190.1" y1="635.5" x2="222.6" y2="635.5" stroke="#70AD47" stroke-width="3.3" stroke-linecap="round"/><text x="225.9" y="639.1" font-size="11.4" textLength="65.6" lengthAdjust="spacingAndGlyphs">LTC-IMOEX</text><line x1="305.0" y1="635.5" x2="337.5" y2="635.5" stroke="#264478" stroke-width="3.3" stroke-linecap="round"/><text x="340.8" y="639.1" font-size="11.4" textLength="70.5" lengthAdjust="spacingAndGlyphs">XMR-IMOEX</text></g>
<g><rect x="602.4" y="330.0" width="595.6" height="323.0" fill="#fff" stroke="#e3e3e3" stroke-width="1.2"/><text x="736.5" y="356.1" font-size="17.0" textLength="326.9" lengthAdjust="spacingAndGlyphs">Asset-backed cryptocurrencies vs IMOEX</text><line x1="688.2" y1="380.2" x2="1180.2" y2="380.2" stroke="#d9d9d9" stroke-width="1"/><text x="673.9" y="384.8" font-size="12.8" text-anchor="end" textLength="56.8" lengthAdjust="spacingAndGlyphs">0.250000</text><line x1="688.2" y1="402.5" x2="1180.2" y2="402.5" stroke="#d9d9d9" stroke-width="1"/><text x="673.9" y="407.1" font-size="12.8" text-anchor="end" textLength="56.8" lengthAdjust="spacingAndGlyphs">0.200000</text><line x1="688.2" y1="424.8" x2="1180.2" y2="424.8" stroke="#d9d9d9" stroke-width="1"/><text x="673.9" y="429.4" font-size="12.8" text-anchor="end" textLength="56.8" lengthAdjust="spacingAndGlyphs">0.150000</text><line x1="688.2" y1="447.0" x2="1180.2" y2="447.0" stroke="#d9d9d9" stroke-width="1"/><text x="673.9" y="451.6" font-size="12.8" text-anchor="end" textLength="56.8" lengthAdjust="spacingAndGlyphs">0.100000</text><line x1="688.2" y1="469.3" x2="1180.2" y2="469.3" stroke="#d9d9d9" stroke-width="1"/><text x="673.9" y="473.9" font-size="12.8" text-anchor="end" textLength="56.8" lengthAdjust="spacingAndGlyphs">0.050000</text><line x1="688.2" y1="491.6" x2="1180.2" y2="491.6" stroke="#d9d9d9" stroke-width="1"/><text x="673.9" y="496.2" font-size="12.8" text-anchor="end" textLength="56.8" lengthAdjust="spacingAndGlyphs">0.000000</text><line x1="688.2" y1="513.9" x2="1180.2" y2="513.9" stroke="#d9d9d9" stroke-width="1"/><text x="673.9" y="518.5" font-size="12.8" text-anchor="end" textLength="61.3" lengthAdjust="spacingAndGlyphs">-0.050000</text><line x1="688.2" y1="536.1" x2="1180.2" y2="536.1" stroke="#d9d9d9" stroke-width="1"/><text x="673.9" y="540.8" font-size="12.8" text-anchor="end" textLength="61.3" lengthAdjust="spacingAndGlyphs">-0.100000</text><line x1="688.2" y1="558.4" x2="1180.2" y2="558.4" stroke="#d9d9d9" stroke-width="1"/><text x="673.9" y="563.0" font-size="12.8" text-anchor="end" textLength="61.3" lengthAdjust="spacingAndGlyphs">-0.150000</text><line x1="688.2" y1="580.7" x2="1180.2" y2="580.7" stroke="#d9d9d9" stroke-width="1"/><text x="673.9" y="585.3" font-size="12.8" text-anchor="end" textLength="61.3" lengthAdjust="spacingAndGlyphs">-0.200000</text><line x1="688.0" y1="491.6" x2="688.0" y2="495.6" stroke="#d9d9d9" stroke-width="1"/><line x1="784.3" y1="491.6" x2="784.3" y2="495.6" stroke="#d9d9d9" stroke-width="1"/><line x1="880.6" y1="491.6" x2="880.6" y2="495.6" stroke="#d9d9d9" stroke-width="1"/><line x1="976.8" y1="491.6" x2="976.8" y2="495.6" stroke="#d9d9d9" stroke-width="1"/><line x1="1073.1" y1="491.6" x2="1073.1" y2="495.6" stroke="#d9d9d9" stroke-width="1"/><line x1="1169.4" y1="491.6" x2="1169.4" y2="495.6" stroke="#d9d9d9" stroke-width="1"/><text x="688.0" y="513.2" font-size="12.8" text-anchor="middle" textLength="52.5" lengthAdjust="spacingAndGlyphs">6-Apr-18</text><text x="784.3" y="513.2" font-size="12.8" text-anchor="middle" textLength="52.5" lengthAdjust="spacingAndGlyphs">6-Apr-19</text><text x="880.6" y="513.2" font-size="12.8" text-anchor="middle" textLength="52.5" lengthAdjust="spacingAndGlyphs">6-Apr-20</text><text x="976.8" y="513.2" font-size="12.8" text-anchor="middle" textLength="52.5" lengthAdjust="spacingAndGlyphs">6-Apr-21</text><text x="1073.1" y="513.2" font-size="12.8" text-anchor="middle" textLength="52.5" lengthAdjust="spacingAndGlyphs">6-Apr-22</text><text x="1169.4" y="513.2" font-size="12.8" text-anchor="middle" textLength="52.5" lengthAdjust="spacingAndGlyphs">6-Apr-23</text><path d="M689.2 472.0 l1 -2.3 1 3.4 1 2.2 1 1.8 1 -1.5 1 -0.9 1 -5.2 1 8 1 3.8 1 1.9 1 -6 1 -1.7 1 -5.6 1 9.2 1 2.2 1 8 1 6.5 1 1.9 1 0.1 1 2.6 1 1.4 1 -4.8 1 -6.8 1 -2.7 1 -4 1 -1 1 -2 1 0.9 1 0.6 1 -1.8 1 -2.7 1 -3.7 1 -2.1 1 -2.1 1 -1.7 1 3.8 1 -2 1 -1.4 1 2.5 1 3.1 1 0.3 1 0.3 1 4.1 1 -2.3 1 3 1 1.4 1 2.1 1 3.1 1 -1.7 1 -1.1 1 -0.7 1 2.4 1 5.1 1 1.8 1 3.6 1 0.1 1 -4.3 1 -2.7 1 -1.2 1 -2.6 1 -1.9 1 -2.1 1 -2.3 1 -0.7 1 -1 1 -1.1 1 -1.4 1 -2.2 1 0.3 1 -3 1 1.5 1 -0.1 1 1 1 -1.8 1 0.2 1 0.3 1 -1.9 1 0.1 1 0.3 1 0.5 1 3.2 1 -2.3 1 -2.8 1 -0.7 1 6 1 5.9 1 -3.9 1 -0.7 1 3.9 1 -1.3 1 -0.9 1 0.3 1 2.6 1 -1.8 1 3.4 1 1.6 1 -2.3 1 -1 1 -0.3 1 2.1 1 0.4 1 -3.3 1 -6.7 1 4 1 0.7 1 6.4 1 3.1 1 2.1 1 2.9 1 -2.9 1 0 1 5.2 1 1.2 1 0.5 1 4.7 1 0.6 1 4.5 1 1.6 1 6.2 1 1.9 1 3.5 1 3.1 1 3.1 1 -0.6 1 2.7 1 2.9 1 3.4 1 1.1 1 3.6 1 1.8 1 0.2 1 -0.6 1 -2.2 1 -1.2 1 -2.8 1 0.3 1 -3.5 1 -1.5 1 -1.3 1 -1.2 1 0.8 1 1.3 1 2.2 1 2.3 1 9.1 1 1.4 1 -3.2 1 -8.9 1 -4.4 1 -3 1 1.9 1 0.4 1 1.1 1 -1.3 1 -0.1 1 0.1 1 1.8 1 -9.7 1 11 1 2.1 1 1.2 1 1.7 1 -1.3 1 -1.1 1 -2.2 1 -1 1 -3.3 1 1 1 -2.6 1 -4 1 -1.5 1 -1.9 1 -3 1 -2.5 1 -1.7 1 -1 1 -2 1 0.4 1 2.1 1 -3.6 1 -3.4 1 2.1 1 -6.7 1 2 1 -0.7 1 7.5 1 -0.1 1 1 1 -0.1 1 1.7 1 0.9 1 0.3 1 4.1 1 0.6 1 -1.8 1 1.9 1 0.4 1 3.2 1 0.1 1 -1.4 1 1.1 1 3.3 1 -0.8 1 0.7 1 1.8 1 3.9 1 2.1 1 0.9 1 1.6 1 -1.8 1 -0.1 1 5.2 1 -3.1 1 -6.4 1 -4.6 1 -4.4 1 -6 1 1.3 1 1.3 1 0.9 1 0.6 1 -1.7 1 -5.3 1 -9.3 1 -4 1 1.4 1 0.2 1 -3.2 1 2.6 1 2.7 1 0.3 1 -0.3 1 -0.2 1 0.3 1 0.4 1 -1.4 1 0.7 1 2.6 1 -1 1 1.2 1 3.4 1 3.4 1 -1 1 3.6 1 0.3 1 0.6 1 -0.4 1 -0.7 1 -0.2 1 0.5 1 1.4 1 -1.4 1 1.4 1 -2 1 1.4 1 1.4 1 5.7 1 -9.1 1 -0.9 1 -1.1 1 -1.5 1 -0.8 1 3.2 1 -5.5 1 -1.7 1 2.1 1 6.5 1 1.9 1 2.5 1 -4.2 1 0.2 1 -0.4 1 -6.3 1 -4.7 1 -0.3 1 4 1 -3.9 1 -3.3 1 0.3 1 1.6 1 1 1 -1.2 1 -4.4 1 0.4 1 5.1 1 5.9 1 0.2 1 3.3 1 1.9 1 -0.4 1 -0.1 1 -3.5 1 -2.7 1 -2.3 1 -2 1 -2.6 1 1 1 2.9 1 1.3 1 1 1 -2.3 1 -0.6 1 4 1 0.5 1 -0.8 1 -3 1 0.4 1 -5.6 1 0.5 1 -2.9 1 -2.7 1 -1.5 1 -2.8 1 1.7 1 2.1 1 1.4 1 -2.5 1 0.6 1 1.8 1 1.8 1 3.1 1 0.5 1 -3.1 1 1.2 1 -1.2 1 -3.6 1 -2.3 1 -2 1 -1.6 1 2.1 1 3.3 1 -2.7 1 -5.1 1 0.8 1 1.2 1 -2.9 1 0.4 1 -3 1 1.1 1 -2.4 1 -0.2 1 2.6 1 0.1 1 -3.4 1 4.7 1 0.6 1 1.1 1 -6.7 1 -2.2 1 3.7 1 0 1 0.5 1 1 1 -0.7 1 -2.1 1 1.1 1 0.8 1 0.6 1 -1.4 1 5.6 1 -4.2 1 1.2 1 0.8 1 3 1 2 1 0.8 1 -2.1 1 -8.1 1 8.1 1 2.8 1 -0.8 1 1.6 1 0.6 1 0.1 1 -0.5 1 1.2 1 2.9 1 0.6 1 0.7 1 -0.4 1 0.2 1 -1.8 1 0.4 1 -2.2 1 0.5 1 1 1 -1.9 1 2.3 1 1.2 1 0.7 1 -0.2 1 0.6 1 0.3 1 3 1 0.1 1 -1.1 1 2 1 -4 1 -0.6 1 1.3 1 -3.5 1 -2.5 1 2.7 1 -2.2 1 0 1 4.5 1 1.5 1 -0.9 1 -3.8 1 1.4 1 -6.3 1 4.7 1 3.1 1 2.1 1 0.7 1 -2.3 1 2.2 1 1.5 1 3.5 1 -5.1 1 0.3 1 2.3 1 -3 1 -2.6 1 -3.5 1 2.3 1 2.5 1 3.7 1 -3.2 1 -1.1 1 -1.6 1 -3 1 -1.2 1 0.4 1 0.5 1 -1.8 1 0.7 1 -0.7 1 -0.3 1 -0.3 1 2.2 1 -1.5 1 2 1 -1 1 0.5 1 -6 1 -1.6 1 1.3 1 4.7 1 2.5 1 0.7 1 2.7 1 -1.8 1 -0.4 1 -0.1 1 -1.3 1 -1.6 1 3.6 1 -0.1 1 -0.5 1 -3.7 1 -3.2 1 0.4 1 5.4 1 -0.2 1 -0.8 1 -0.1 1 1.4 1 -0.3 1 1.1 1 -1.3 1 3.2 1 -1.2 1 -0.7 1 4 1 2.5 1 2.5 1 -4.4 1 -0.6 1 2.9 1 6 1 1.8 1 2.2 1 5.5 1 1.3 1 -0.1 1 -2.5 1 2.3 1 2.1 1 -1" fill="none" stroke="#4472C4" stroke-width="3.90" stroke-linejoin="round" stroke-linecap="round"/><path d="M689.2 475.3 l1 2 1 -0.4 1 1.6 1 7.6 1 1.3 1 -11 1 -1.1 1 -1.4 1 -2.2 1 0 1 -4.7 1 3.5 1 -8.7 1 -2 1 2.8 1 -3.4 1 -0.3 1 5.5 1 3 1 0.4 1 5.2 1 2.1 1 8 1 -0.5 1 -3.5 1 0.3 1 1.2 1 1.2 1 -1.1 1 1.2 1 0.3 1 -1.3 1 -6 1 1.4 1 -2.3 1 -0.7 1 -2.8 1 -1.4 1 -0.2 1 -1.3 1 1.5 1 -2.7 1 -7.6 1 0.5 1 -1.8 1 6.3 1 -2.3 1 -0.1 1 0.5 1 -2.5 1 0.3 1 -7.5 1 -3.2 1 -1.7 1 1.2 1 -0.2 1 2.5 1 1.1 1 2.8 1 1 1 5.3 1 3.5 1 3.9 1 2.5 1 4.1 1 -0.8 1 3.4 1 2.6 1 0.2 1 1.3 1 -2.3 1 -0.2 1 -0.6 1 -5.5 1 -3.2 1 -4.8 1 -2.7 1 -1.9 1 -4.4 1 -2.6 1 -3.5 1 1.8 1 -6.6 1 -2.4 1 -0.6 1 -2.3 1 -1.6 1 3 1 4.3 1 -2.5 1 0.1 1 0.4 1 -5 1 -2.9 1 -5.5 1 -5.6 1 0.9 1 -3 1 -5.2 1 -5.7 1 3.9 1 3.3 1 1.3 1 -1.7 1 -7.5 1 -0.3 1 0.4 1 -7.6 1 -2.4 1 7.3 1 -1.2 1 -0.5 1 1.4 1 -1.6 1 1.2 1 6.3 1 -0.1 1 4.2 1 2.8 1 1.8 1 2.6 1 3.2 1 1.9 1 5.1 1 1.8 1 1.4 1 1 1 0.9 1 1 1 2.1 1 2 1 1.6 1 -0.1 1 0.8 1 1.4 1 2.3 1 -1.1 1 5 1 1.8 1 0.1 1 0.2 1 1.8 1 -2 1 0.8 1 1.4 1 -4.9 1 -2.9 1 1.8 1 -5.2 1 -2.7 1 7 1 2.9 1 -0.8 1 -1.7 1 -0.4 1 2 1 5.2 1 -2.2 1 -0.8 1 2.3 1 0.5 1 2.9 1 -2.1 1 -2.2 1 2.4 1 -0.9 1 1.2 1 2.3 1 3.6 1 4.1 1 1.6 1 2.7 1 2.6 1 3.6 1 0.3 1 0.9 1 -3.3 1 6.5 1 4.2 1 1.6 1 2 1 8.4 1 12.1 1 12.6 1 13.4 1 3 1 -3 1 -3.1 1 -5.6 1 -1.3 1 0.4 1 2 1 2.1 1 1.4 1 -0.1 1 -0.9 1 1.7 1 -1.3 1 1.9 1 -2 1 -3.1 1 1.3 1 7.1 1 0.8 1 6.2 1 0.8 1 3.3 1 2.9 1 -2.2 1 0.4 1 1.7 1 3 1 0.3 1 -7.2 1 -0.6 1 -5.5 1 2.1 1 -2.2 1 -3.9 1 2.4 1 -0.2 1 4.4 1 -0.8 1 -0.4 1 1.3 1 -1.3 1 -3.1 1 -3.2 1 0.8 1 -0.6 1 -3.2 1 -3.7 1 -1.1 1 -0.6 1 0.1 1 -1.8 1 4.7 1 -4 1 -3.3 1 0 1 -1.9 1 -2.8 1 1.5 1 -1.9 1 2.1 1 -7.5 1 -3.9 1 -9.1 1 -11.9 1 -4.8 1 3.8 1 2.1 1 -0.5 1 1.1 1 -3.7 1 1.4 1 3.7 1 4.9 1 -2.7 1 -0.3 1 -1 1 -2 1 -3.3 1 -3.6 1 -2.2 1 -2.1 1 0.1 1 -4.3 1 -2.7 1 -0.6 1 -4.5 1 -0.8 1 -2.8 1 -0.1 1 -0.6 1 3.7 1 -1.6 1 0.4 1 2.1 1 0.1 1 -3 1 6.6 1 2.7 1 1.7 1 0.6 1 3.9 1 -1.9 1 -3.6 1 2.7 1 1 1 1 1 3.6 1 -1 1 -1.2 1 0.3 1 6.8 1 -5.2 1 -0.7 1 -5 1 -1.3 1 0.2 1 1.1 1 2.5 1 -1.5 1 1.2 1 -2.1 1 1.6 1 0.6 1 -8.4 1 1.3 1 9.3 1 -2.6 1 -1.7 1 -3.7 1 0.4 1 -5.7 1 -1.3 1 2.2 1 1 1 1.8 1 3.3 1 0.5 1 -6.4 1 -1.2 1 1.3 1 7.3 1 2.2 1 -7.5 1 2 1 -2.8 1 1.4 1 -2.4 1 -0.3 1 -2 1 4.5 1 -3.1 1 3.1 1 4.5 1 -0.1 1 -0.7 1 3.4 1 -0.2 1 3 1 2 1 2.4 1 1.5 1 0.1 1 3 1 2.7 1 4 1 2.3 1 0.1 1 2.9 1 4.3 1 3.4 1 -3 1 -2 1 -4.3 1 -1.5 1 -2.4 1 -3.2 1 -8.9 1 -7.2 1 -7 1 1.2 1 -5.8 1 -3.3 1 1.8 1 -1.6 1 -2.5 1 -0.5 1 -1.2 1 -10.7 1 6.8 1 -1.7 1 -3.6 1 -3.7 1 -3.7 1 -2.2 1 1.3 1 1.9 1 -3.3 1 0.4 1 3.7 1 1.3 1 4.4 1 -5 1 2 1 0.5 1 0.7 1 -0.7 1 -3.1 1 1 1 0.3 1 4 1 -0.6 1 -0.3 1 4.4 1 4.3 1 2.2 1 -4.3 1 0.1 1 5.5 1 -1.8 1 3.6 1 1.6 1 1.1 1 4.2 1 0.8 1 2.2 1 2.3 1 -3 1 -3.1 1 2.8 1 -2.9 1 -1.2 1 -1.7 1 2.1 1 -3.6 1 -1.1 1 4.4 1 -0.6 1 0.9 1 2.7 1 5 1 3 1 -0.5 1 -3.5 1 2.7 1 2.6 1 0.5 1 3.7 1 1.4 1 1.2 1 0.1 1 4.1 1 -2.5 1 1.1 1 3.1 1 1.9 1 -3.6 1 -0.7 1 1.2 1 1 1 -2.5 1 -2.4 1 -0.5 1 -0.4 1 -3.7 1 -2 1 -1.7 1 -1 1 -3.2 1 -2.6 1 -3.3 1 -3.8 1 -2.3 1 -0.4 1 -1.9 1 -0.3 1 -4.2 1 -2.6 1 0.7 1 0.8 1 -2.6 1 -0.5 1 0.5 1 -3.4 1 -0.7 1 -0.3 1 -0.6 1 -0.4 1 0.4 1 3.3 1 -0.4 1 1.7 1 -2.5 1 0.6 1 -2.3 1 -1.2 1 2.1 1 -4 1 0.4 1 -0.8 1 1.2 1 -1.4 1 0.2 1 -0.9 1 0.8 1 -7.1" fill="none" stroke="#ED7D31" stroke-width="3.90" stroke-linejoin="round" stroke-linecap="round"/><path d="M697.5 479.9 l1 -2.2 1 -1.2 1 -0.9 1 -1.2 1 -2.7 1 -0.9 1 -1 1 1.6 1 -1.1 1 1.7 1 -0.8 1 -0.6 1 -2.2 1 1.7 1 0.6 1 0.9 1 2.1 1 -2.5 1 2.7 1 2.3 1 -0.1 1 -2.3 1 0 1 -0.8 1 1.9 1 1.9 1 2.6 1 -2 1 -2.7 1 4.3 1 -0.4 1 -3.2 1 -2.1 1 -0.3 1 -0.8 1 -2.4 1 2 1 -1.4 1 -1.1 1 -3.3 1 0.1 1 -0.8 1 1.9 1 -1.2 1 -6 1 -4.1 1 -1.1 1 0.3 1 1.6 1 -0.3 1 -1.3 1 0 1 -3.2 1 1.1 1 -0.3 1 -1.5 1 0.3 1 -1 1 3.6 1 -1.4 1 -1.5 1 -7.4 1 -4.1 1 -3 1 2.7 1 -4.2 1 -0.7 1 -3.3 1 0.9 1 0.9 1 -1 1 2.1 1 -4.5 1 -4.8 1 -0.3 1 1.2 1 -4 1 0.8 1 -5.9 1 8.4 1 -1.2 1 -3.6 1 -5.4 1 -2.2 1 -5.7 1 -5.1 1 -1.6 1 -2.6 1 -2.4 1 1.6 1 0 1 -0.8 1 1.4 1 3.7 1 5.6 1 5.1 1 8.5 1 8 1 0.7 1 1.8 1 2.4 1 1.3 1 4.8 1 2.2 1 4.2 1 1.6 1 2.2 1 4 1 6.7 1 2.1 1 2.6 1 -3.9 1 -1.3 1 -2.3 1 -1 1 -2.6 1 0.1 1 3 1 3.9 1 0.9 1 -1.1 1 0.2 1 -1.8 1 -1.5 1 -1.5 1 -3.5 1 3.4 1 -4.2 1 -0.7 1 -4.4 1 -1.6 1 -5.3 1 -2.3 1 3.6 1 -5.1 1 -0.9 1 1.4 1 1.7 1 2.4 1 1.2 1 -6.1 1 -0.6 1 10.5 1 -1 1 0 1 -1.9 1 2.3 1 2.6 1 -0.9 1 1.2 1 -2.7 1 -3.7 1 0.1 1 3.8 1 2.7 1 6 1 -0.7 1 3.4 1 0.6 1 4 1 1.5 1 2.5 1 5.4 1 3.9 1 -4.6 1 -5.4 1 0.2 1 -0.9 1 1.7 1 -0.7 1 -4.5 1 -1.8 1 -1.6 1 -2.8 1 -1.5 1 -6.5 1 -5.5 1 -0.1 1 -7.1 1 -1 1 -0.7 1 0.4 1 3.4 1 2 1 -0.5 1 0 1 0.3 1 1.1 1 -1.7 1 -2.7 1 -1.6 1 0.6 1 -1 1 3.3 1 -2.1 1 0.8 1 2.7 1 3.1 1 3 1 4.2 1 -0.9 1 2.1 1 -0.1 1 6 1 -0.9 1 -1.8 1 7.3 1 0.7 1 -1.2 1 -0.3 1 -4.1 1 -3 1 -0.1 1 1.7 1 2.4 1 0.6 1 2.5 1 1.3 1 0.4 1 -0.7 1 1.9 1 -2.4 1 -0.1 1 0.9 1 -1.5 1 -2.1 1 -0.2 1 -3.9 1 -0.9 1 -4.7 1 -1.4 1 -3.9 1 0.2 1 0.2 1 -0.4 1 3.3 1 3.3 1 2.9 1 1.5 1 -0.1 1 0.5 1 -1.4 1 0.5 1 3.2 1 -1 1 -0.6 1 0.4 1 -3.5 1 0 1 1.7 1 -1 1 0.7 1 -0.3 1 0.5 1 -9.5 1 2 1 4.1 1 -1.5 1 -1.6 1 4.1 1 -1.1 1 -0.4 1 -1.9 1 0.7 1 1.4 1 -1.4 1 -3.3 1 0.1 1 3.3 1 -1.8 1 -0.7 1 -1.6 1 -3.7 1 -1 1 -1.7 1 -1.6 1 -1.6 1 -0.7 1 1.1 1 -0.6 1 1.9 1 2.8 1 -1.1 1 3.3 1 5.3 1 4.1 1 2 1 3.6 1 -0.8 1 0.8 1 1.1 1 1.2 1 0.9 1 -0.7 1 -2.1 1 3.3 1 -1.9 1 -2.6 1 -4.1 1 1 1 -1.2 1 -0.1 1 -1.2 1 -2.8 1 1.7 1 -0.2 1 -0.6 1 0 1 -1.4 1 1.8 1 -1.2 1 -4.5 1 0 1 -2.4 1 -2 1 -0.8 1 -0.1 1 -3.3 1 2.9 1 1.7 1 -1.6 1 -4.8 1 -6.1 1 -3.6 1 -4.9 1 -8 1 7 1 7.8 1 3.3 1 3.9 1 3.4 1 -5.9 1 -0.2 1 3.3 1 2.5 1 6.2 1 0.5 1 -4.2 1 -4.8 1 -8.5 1 -4.4 1 0.7 1 1.6 1 -0.7 1 -1.2 1 -1.5 1 0.1 1 -0.9 1 3.6 1 5.4 1 4 1 1.8 1 1.9 1 3 1 2.1 1 10.1 1 -7.3 1 1.2 1 0.5 1 4 1 -3 1 1.5 1 -5.8 1 -4.6 1 -3 1 -4.9 1 -1.5 1 -1.3 1 -1.7 1 3.7 1 3.9 1 -2.5 1 -2.2 1 1.3 1 2 1 1.2 1 -0.1 1 4.2 1 2.5 1 -0.9 1 1.8 1 1.8 1 -2.6 1 1.3 1 0.8 1 2.9 1 -1.2 1 0.2 1 -1 1 2.3 1 -1.7 1 0.4 1 -0.5 1 4.5 1 3.5 1 -0.7 1 -2.5 1 2.1 1 -3.4 1 -1.1 1 7.2 1 2.4 1 -2.8 1 2.3 1 4.2 1 0.1 1 -1.7 1 1.3 1 0.6 1 1.7 1 3.8 1 1.4 1 3.4 1 -1.5 1 0.2 1 -3.1 1 4.8 1 2 1 -4.1 1 -1.7 1 2.5 1 1.3 1 2.1 1 2 1 -0.9 1 4.1 1 -2 1 -0.4 1 3.7 1 0.9 1 4 1 1.4 1 -0.3 1 -2.8 1 -0.5 1 1.1 1 0.7 1 0.9 1 -5.6 1 3.4 1 1 1 0.7 1 3.6 1 1.9 1 1.7 1 1.1 1 -1.5 1 0.6 1 -0.6 1 -1.3 1 0.7 1 -0.9 1 -1.1 1 1.7 1 -1.1 1 0.7 1 -1.3 1 -1.7 1 0.7 1 -1.2 1 0.8 1 -0.2 1 3 1 -0.6 1 -2.8 1 -1.3 1 0.8 1 -0.1 1 1.6 1 1.6 1 2.2 1 0.9 1 2.4 1 3 1 -1.5 1 4.4 1 -2.1 1 0.6 1 -0.1 1 -0.8 1 0.3 1 -5.3" fill="none" stroke="#A5A5A5" stroke-width="3.90" stroke-linejoin="round" stroke-linecap="round"/><path d="M697.5 482.0 l1 -0.8 1 -0.2 1 -1.7 1 -2.9 1 2 1 -2.6 1 0.1 1 -0.7 1 2.1 1 -0.5 1 -0.8 1 0.1 1 1.1 1 -1.4 1 -2.9 1 0.8 1 4.2 1 1.7 1 -2.5 1 -0.8 1 -3.7 1 -1.6 1 2 1 -1.1 1 1.4 1 2.1 1 -2.5 1 7.4 1 -2.5 1 -3 1 -3.3 1 -1.1 1 -7.6 1 -1.7 1 -0.4 1 -1.2 1 -2.8 1 -0.5 1 -3.7 1 0.1 1 -1.9 1 -1.5 1 -3.1 1 -0.1 1 3.2 1 1 1 -4.2 1 0.2 1 0.4 1 -1.5 1 1.6 1 -1 1 2.2 1 -2.3 1 1.5 1 -0.8 1 -2.2 1 2.8 1 1.7 1 0.7 1 4.1 1 0.3 1 7.4 1 -4.7 1 -1.1 1 -1 1 2.3 1 3.5 1 -0.8 1 1.8 1 -1.6 1 -1.8 1 -0.2 1 1.2 1 -0.5 1 1.1 1 4.4 1 -1.6 1 -2.4 1 -3.4 1 0.6 1 -0.5 1 -1.9 1 2.4 1 1.7 1 -3.3 1 -1.7 1 0.4 1 -3.7 1 -2.3 1 -2.8 1 -2.2 1 1 1 1.8 1 0.5 1 4.2 1 3.3 1 8.1 1 4.4 1 4.4 1 0.8 1 5 1 2.6 1 -4.1 1 0.2 1 3.3 1 3.9 1 -0.3 1 -0.3 1 1.1 1 1.6 1 2.6 1 -3.5 1 3.5 1 -3.3 1 1.3 1 -2.2 1 1.9 1 1.1 1 0.4 1 0.9 1 -3 1 3.2 1 0.6 1 0.9 1 1.5 1 2.1 1 1.2 1 6.3 1 2.3 1 2.7 1 3.9 1 0.3 1 0.6 1 -1.6 1 1.4 1 0.5 1 3.4 1 2.7 1 0.2 1 -2.2 1 -0.2 1 -4.8 1 1.9 1 0.1 1 4.9 1 1.1 1 2 1 -0.8 1 0.9 1 -0.9 1 -3.7 1 -2.9 1 -1.2 1 -2.6 1 2.7 1 -1.6 1 -2 1 -1.6 1 3.4 1 -5.3 1 -1.2 1 -0.7 1 0.9 1 3.1 1 -1.2 1 -0.5 1 1.2 1 -0.5 1 -10.8 1 -6.3 1 2.2 1 -6.1 1 -3.2 1 -4.2 1 -8.5 1 -4.2 1 1.3 1 -1.9 1 -8.8 1 -2.6 1 -3 1 1.4 1 -5.7 1 -3.3 1 3.2 1 -2 1 -8.2 1 -3.2 1 1.5 1 1 1 -2 1 1.9 1 -1.9 1 1.8 1 0.5 1 -2.9 1 3.1 1 1.9 1 -4.2 1 -0.8 1 3.8 1 2.5 1 4.6 1 2.1 1 -4.7 1 -4.5 1 1.9 1 7.7 1 -0.8 1 0.4 1 -2.3 1 -2 1 -2 1 -0.4 1 -2.9 1 1.1 1 2 1 1.4 1 -0.3 1 2.7 1 -1.9 1 3.7 1 -0.5 1 -3.3 1 0.1 1 4.6 1 4.1 1 1.5 1 0.7 1 0.5 1 5 1 -1 1 2 1 -4.9 1 0.3 1 -4.5 1 0.2 1 -2.3 1 -5.1 1 -2.3 1 2.9 1 1.7 1 1.5 1 2.4 1 7.3 1 4.8 1 2.8 1 1.9 1 -0.7 1 2 1 -1 1 -1 1 -3.9 1 -2.8 1 -4.9 1 -3.5 1 -7.2 1 -0.3 1 -0.2 1 3.5 1 0.4 1 -1.7 1 5.4 1 -1.4 1 5 1 -3.2 1 -6 1 2.3 1 -1.5 1 0.1 1 -0.9 1 1.9 1 1.9 1 0.8 1 -5.8 1 0.2 1 -1 1 3.3 1 3 1 0.1 1 -1.1 1 0.2 1 -2.3 1 2.2 1 -0.2 1 1 1 -1.8 1 -3.2 1 -4.4 1 -0.5 1 -1.5 1 0.3 1 3.8 1 -2.4 1 -1.3 1 -0.2 1 3 1 -0.1 1 0.3 1 1 1 -1 1 2.2 1 3.9 1 5.4 1 6.3 1 3.7 1 -5.6 1 1.4 1 -9.6 1 -3.7 1 -5.6 1 -1.8 1 4 1 1.7 1 2.6 1 1.5 1 -3 1 -1.9 1 -1.2 1 -1.7 1 -1.9 1 -0.1 1 -5.2 1 5.8 1 5.4 1 4.3 1 -2.8 1 -1 1 3.5 1 2.3 1 2.8 1 1.3 1 0.4 1 -4.7 1 2.4 1 -1 1 1 1 -7.1 1 6.6 1 1.5 1 5.3 1 1.2 1 -0.8 1 3.3 1 1 1 0.9 1 0.7 1 -6.6 1 -1.8 1 0.6 1 0.3 1 3.4 1 5.3 1 -4.2 1 1.6 1 5.1 1 2.4 1 2.1 1 2.5 1 6.8 1 5.5 1 7.2 1 5.6 1 3.2 1 9.3 1 4.5 1 -0.8 1 1.6 1 3.3 1 0.4 1 -0.7 1 -3.6 1 -0.5 1 -1.2 1 -2.4 1 -7.8 1 -0.7 1 2.8 1 -3.6 1 -3.9 1 0.6 1 2.1 1 9.1 1 5.7 1 3.2 1 4.7 1 0.8 1 -1.1 1 2 1 1.8 1 0.5 1 1.3 1 0.9 1 -2.8 1 -1.6 1 0.1 1 -1.2 1 -3.7 1 -0.7 1 -1.5 1 -2.1 1 -2.5 1 -3 1 1.7 1 -0.9 1 0.6 1 -1.4 1 -0.3 1 -0.5 1 -0.9 1 -2.1 1 -0.3 1 -2.2 1 -1.7 1 -1.5 1 0.1 1 -0.7 1 0.3 1 -4.4 1 -5 1 0.2 1 1.5 1 -3.7 1 -5.5 1 -1.9 1 -1 1 -4 1 2 1 -0.1 1 -3.3 1 -4.8 1 0.6 1 -3.8 1 -3.8 1 -4.9 1 -2.8 1 -0.5 1 -3.4 1 -1.3 1 -2.3 1 -0.8 1 -2 1 -1 1 -2.3 1 2.2 1 -3.1 1 -2.5 1 -6.4 1 -6.5 1 -4.6 1 0.9 1 5.5 1 7.2 1 1.1 1 2.2 1 3.2 1 4 1 2.4 1 -4.8 1 1.3 1 10.3 1 -0.3 1 2.6 1 1 1 1.3 1 -3.2 1 -0.9 1 1.7 1 -2.3 1 3.1 1 3.2 1 -4.4 1 -0.6 1 0.9 1 -1.8 1 1.7 1 5.5 1 -2.5 1 -2.8 1 1.9 1 0.1" fill="none" stroke="#FFC000" stroke-width="3.90" stroke-linejoin="round" stroke-linecap="round"/><path d="M689.2 470.3 l1 0.3 1 -1 1 1.2 1 4.4 1 -1.6 1 -4.4 1 0.7 1 0.8 1 -6 1 -5.7 1 -4.7 1 -3.2 1 -5 1 -5.5 1 -1.2 1 1.6 1 -3.9 1 -0.9 1 3 1 5.6 1 -0.5 1 0.1 1 -3.4 1 1.4 1 0.9 1 -5.2 1 2 1 5.3 1 0.8 1 0.9 1 3 1 -0.7 1 0.2 1 0.3 1 -1.6 1 5 1 -2.1 1 2.8 1 2 1 -1.1 1 5.6 1 6.1 1 2 1 2.9 1 1.3 1 -0.6 1 1.5 1 0.3 1 -2.3 1 -0.6 1 -3.1 1 -0.1 1 -1.2 1 -2.8 1 -3.4 1 -1 1 2.3 1 -7.7 1 -2.1 1 2.1 1 2.2 1 -0.7 1 -3.4 1 -2.9 1 1.6 1 -2.6 1 1.4 1 0.2 1 1.2 1 1.3 1 2.3 1 0.8 1 2.7 1 0.4 1 -3.1 1 1.9 1 2.5 1 1.6 1 2.6 1 0.1 1 5.2 1 -10.3 1 -0.7 1 -4.4 1 0.8 1 0.6 1 1 1 0 1 -1.7 1 1.7 1 -3.2 1 0.9 1 0.8 1 0.5 1 -1 1 -0.4 1 0.5 1 1.9 1 -0.2 1 -4 1 0.4 1 0.3 1 1.7 1 3.1 1 -0.8 1 1.3 1 1.5 1 0.5 1 0.4 1 -2.6 1 -0.7 1 -1.1 1 -3.4 1 -2.5 1 1.1 1 -0.2 1 7 1 5.3 1 3.8 1 3.3 1 1.4 1 1 1 -2.5 1 -1.7 1 -3.2 1 1.6 1 -2.2 1 -3.4 1 -1.2 1 -0.2 1 -0.2 1 1.8 1 1.4 1 3 1 1 1 -0.6 1 2.4 1 1.5 1 0.8 1 -1.3 1 0 1 1.5 1 -0.8 1 -1.7 1 -1.9 1 2.2 1 10.4 1 1.1 1 -1.6 1 1.9 1 1.7 1 7 1 2 1 2.7 1 3.6 1 -0.5 1 1.2 1 2.2 1 0.2 1 1.4 1 2 1 -0.8 1 -0.2 1 0.2 1 1.9 1 2 1 0.6 1 1.1 1 -2 1 6.8 1 -1 1 4.2 1 0.4 1 2.9 1 1 1 2.2 1 3.3 1 -2.1 1 -6.4 1 -2.6 1 -2.7 1 -10.3 1 -7.2 1 -7.6 1 -7.4 1 -5.4 1 -2.2 1 -0.2 1 -1.5 1 1.9 1 -2.6 1 -8 1 2.2 1 -1.5 1 3 1 -0.2 1 -4.2 1 1 1 1.6 1 -5.1 1 0.8 1 -0.7 1 -1.4 1 1 1 0.8 1 2.1 1 0.7 1 -2.6 1 1.8 1 -1.6 1 2.9 1 1.3 1 2.1 1 0.6 1 2.7 1 5.9 1 5.7 1 11.4 1 8.9 1 -5.2 1 -5.9 1 1.7 1 -1.8 1 -1.1 1 -1.5 1 0.6 1 -1.2 1 -4.9 1 0.8 1 -1.5 1 -1.1 1 -4.4 1 -2.2 1 0.6 1 2.8 1 -0.3 1 -1.5 1 1.9 1 3.3 1 -0.8 1 -1 1 1.1 1 3.3 1 6.5 1 0.5 1 1.1 1 -1.5 1 -0.2 1 -3.2 1 -1.7 1 -2.1 1 -4.4 1 -1.6 1 -3.9 1 -5.8 1 0.2 1 -5.4 1 -1.2 1 -3.1 1 -4.1 1 -1.8 1 -1.1 1 0 1 -0.6 1 -3.3 1 -0.9 1 0.2 1 0.3 1 4.2 1 3.8 1 -2 1 -0.8 1 2 1 6.2 1 0.5 1 -0.2 1 3.1 1 2.9 1 3.7 1 -2.1 1 3.9 1 2.5 1 3 1 1.7 1 -3.5 1 -1.6 1 2.9 1 -4 1 -0.3 1 2 1 3.6 1 -1 1 0 1 1.3 1 -0.1 1 -0.3 1 -1.4 1 -0.1 1 2.8 1 2.4 1 -3.3 1 -1.8 1 -0.3 1 0 1 0.6 1 -2.1 1 -2 1 1 1 -1.8 1 0 1 1.3 1 -1.8 1 1 1 -4 1 6 1 0.5 1 -1.8 1 -1.2 1 0.2 1 -0.3 1 -2.9 1 1.8 1 -0.8 1 -1.1 1 1 1 -2.1 1 -2.2 1 0.4 1 -4.6 1 -0.4 1 -1.9 1 -8.1 1 -0.8 1 -4.1 1 -1.9 1 -1.9 1 -1.2 1 -1.6 1 -4.4 1 -2.4 1 -3.7 1 -5.2 1 -1.3 1 -2.3 1 2.5 1 -5.5 1 -3.1 1 0 1 2.4 1 8.9 1 2.6 1 -6.8 1 4.6 1 2.2 1 2.1 1 -0.9 1 1.9 1 1.9 1 2.9 1 0.3 1 -1.7 1 3.2 1 2.2 1 1.8 1 3.6 1 8.1 1 -0.1 1 3.4 1 1 1 4.2 1 0.3 1 1.8 1 -0.6 1 -0.7 1 -3.1 1 0.5 1 3.1 1 -2 1 0.1 1 3.4 1 1.7 1 -0.6 1 4.7 1 -3.8 1 -1.2 1 3.8 1 -1.6 1 0.6 1 0.6 1 4.6 1 1.6 1 0.1 1 -5.3 1 1 1 -2.7 1 2.4 1 0.1 1 1.2 1 1.7 1 -0.4 1 -1.6 1 3.6 1 0.2 1 2.1 1 0.8 1 3.7 1 -0.1 1 -1.5 1 3.6 1 1.4 1 0 1 -2.4 1 -0.2 1 0.2 1 -0.5 1 -1.1 1 -0.1 1 -1.4 1 -0.8 1 0.2 1 -1.2 1 -2 1 -1.7 1 -1.1 1 2.7 1 -1.2 1 -0.2 1 -3.7 1 -0.8 1 0.8 1 1 1 0.6 1 -0.7 1 -3.9 1 -1.4 1 -1 1 -2.2 1 2.1 1 -2.1 1 -3.5 1 0.3 1 -3.6 1 2.5 1 -5.5 1 -0.4 1 -0.1 1 0 1 -2.2 1 1.8 1 2.3 1 -1.1 1 -0.7 1 1.6 1 -1.8 1 0.8 1 -1.7 1 -1.3 1 4.4 1 -3.6 1 -2.7 1 -2.5 1 2.1 1 14.2 1 2.7 1 3.8 1 -4.3 1 4.3 1 4.6 1 7.6 1 2.6 1 1.8 1 2.3 1 -1 1 5.5 1 1.1 1 -3.3 1 -4.2 1 -5.9 1 -3.3 1 -4.2 1 -4 1 -3 1 -6.4 1 -5.3 1 -3 1 1.5 1 -2.6 1 -7.6 1 4.3 1 -0.4" fill="none" stroke="#5B9BD5" stroke-width="3.90" stroke-linejoin="round" stroke-linecap="round"/><path d="M689.2 492.9 l1 6.1 1 4.9 1 5.9 1 0.7 1 -0.1 1 3.1 1 -0.9 1 0.1 1 3.5 1 -0.3 1 -0.2 1 1.5 1 -3.3 1 -3 1 -2 1 -0.5 1 0.5 1 -2.3 1 1.4 1 -0.2 1 -4.4 1 -2.1 1 -1.6 1 -0.4 1 -0.8 1 0.3 1 -0.6 1 0.9 1 -0.4 1 9.9 1 6.6 1 1.1 1 1.9 1 2.1 1 -1.5 1 0.7 1 -3.3 1 2.4 1 -1.4 1 -0.6 1 -5.5 1 -1.1 1 -3 1 -4.6 1 -1.2 1 -4.9 1 -8.5 1 -9.5 1 2 1 -8.1 1 1.8 1 5.8 1 0.4 1 -3.4 1 -3.7 1 -1.5 1 -0.5 1 0.1 1 0.1 1 -2.5 1 -5.4 1 2.4 1 -3.2 1 -3 1 -3.8 1 2.3 1 2.9 1 -0.4 1 -0.2 1 5.5 1 -0.8 1 2.7 1 3.4 1 -0.7 1 -2.5 1 -2.3 1 -0.9 1 -2.5 1 -0.6 1 -1.8 1 0.1 1 -2.2 1 -0.4 1 0.1 1 -3.9 1 0.5 1 -1.5 1 0.5 1 1.5 1 1.6 1 0.4 1 -4.7 1 2.1 1 2.2 1 0.6 1 0.5 1 1.4 1 -2.2 1 0.4 1 5.8 1 3.8 1 0.5 1 3 1 1.1 1 1.5 1 6.6 1 -0.7 1 0.9 1 3.6 1 0.7 1 2.3 1 0.3 1 -2.8 1 1 1 3.9 1 -3 1 0.6 1 -0.1 1 1.7 1 -1.8 1 -0.1 1 -1.6 1 1.4 1 8.1 1 1.2 1 -5.3 1 2.8 1 2.1 1 1.8 1 0.4 1 -5.5 1 -0.4 1 0.2 1 -0.7 1 -2.8 1 0.2 1 -1.8 1 1.5 1 -1 1 2.6 1 0.4 1 -0.8 1 -0.5 1 -1 1 -1.7 1 3.6 1 0.9 1 -4 1 -3.7 1 -0.6 1 2.8 1 0 1 0.7 1 -0.6 1 -0.5 1 0.6 1 3 1 2.5 1 1.3 1 -3.9 1 -1.2 1 3.7 1 -2.1 1 1.2 1 0.2 1 -3.3 1 -2.1 1 2.1 1 3.4 1 -0.2 1 -5.1 1 1.1 1 0.9 1 -1.9 1 -4 1 7.1 1 -0.5 1 -0.6 1 -0.3 1 3.9 1 -0.2 1 2.6 1 -0.1 1 3.3 1 2 1 -1.5 1 1.6 1 -2.1 1 -2.4 1 -1.1 1 0.3 1 -1.8 1 -3.3 1 -2.5 1 -3.1 1 2 1 -1.2 1 -3 1 -2.4 1 -3.7 1 -0.4 1 -2.3 1 -3.5 1 -2 1 -3.6 1 -5.9 1 -4.5 1 -4.9 1 1.2 1 -3.5 1 -1.6 1 -6.5 1 -1.1 1 5 1 1.5 1 -1.2 1 4.6 1 5 1 2.8 1 3.8 1 0.8 1 0.2 1 1 1 -0.4 1 -7.6 1 1.6 1 -1.9 1 2.7 1 1.8 1 6 1 1.7 1 -3 1 0.8 1 0.9 1 4.2 1 2.1 1 0.5 1 3 1 0.9 1 1 1 -0.5 1 0 1 2.4 1 0.3 1 0.7 1 0.5 1 0.6 1 -0.3 1 0.8 1 3 1 5.2 1 0.8 1 2.7 1 0.5 1 3 1 5.5 1 -8.4 1 -2.2 1 1.9 1 -2.7 1 -0.6 1 -3.5 1 4.5 1 2.6 1 3 1 5.1 1 0.6 1 -1.8 1 3 1 1.8 1 1.9 1 1.6 1 6.1 1 0.6 1 2.4 1 5 1 5.2 1 0.6 1 0.4 1 -1.3 1 -0.5 1 1.5 1 -0.4 1 -10 1 1.7 1 -1.1 1 -2.7 1 0.2 1 -0.4 1 -3.1 1 -3 1 -3.1 1 1.7 1 -2.2 1 0 1 -4.5 1 2.3 1 -3.1 1 -0.2 1 -0.8 1 1.2 1 -1.1 1 -0.3 1 4.1 1 0.7 1 -8.3 1 3.3 1 6.7 1 3.1 1 -0.7 1 -0.4 1 -1.2 1 5.6 1 -4.5 1 -3 1 1.4 1 1.6 1 -0.4 1 3 1 -0.3 1 4.5 1 2.5 1 2.4 1 -3.5 1 -14.4 1 -9.3 1 -1.8 1 -5.7 1 -1 1 -2.3 1 -6 1 -3.8 1 4.3 1 0.4 1 -5.7 1 -4.8 1 -4 1 -2 1 -1.3 1 -1.9 1 1.5 1 -3.8 1 -3.3 1 0.9 1 3.5 1 2.2 1 0.5 1 1.2 1 0.2 1 -1.5 1 6.2 1 -1.2 1 0.8 1 0.5 1 -1.2 1 0.6 1 2.7 1 -1.7 1 1.1 1 0.6 1 -2.3 1 -3.1 1 -1.4 1 -0.9 1 0.9 1 -0.6 1 -3.1 1 -0.4 1 -2.6 1 -4.6 1 -9.2 1 -11.8 1 -8.4 1 -7.1 1 -0.1 1 -1.1 1 1.9 1 0.4 1 1.9 1 -1.9 1 0.3 1 -0.3 1 2.6 1 -1.8 1 4.3 1 -1 1 0.5 1 -0.7 1 -0.8 1 7.1 1 3.5 1 4.1 1 -5 1 3.8 1 4.5 1 -0.1 1 -0.9 1 2.3 1 -1.1 1 1.2 1 3.2 1 1.2 1 5.6 1 2.6 1 2 1 4.4 1 5.1 1 -0.7 1 0.3 1 4.1 1 1.7 1 0.3 1 -1.3 1 0.7 1 3.2 1 -1.2 1 2.7 1 0.8 1 -1.4 1 -0.8 1 3 1 2.8 1 -3 1 0.6 1 -0.1 1 -0.6 1 2.6 1 3.1 1 0.2 1 3.2 1 3.6 1 1 1 -2.4 1 0.5 1 0.6 1 2.5 1 -2.2 1 2.8 1 0.3 1 -0.6 1 -3 1 -0.3 1 0 1 0.5 1 -2 1 2.1 1 -1.1 1 0 1 -2.3 1 2.7 1 -0.7 1 0.6 1 -0.4 1 -3.2 1 3.9 1 6.3 1 3.7 1 0.5 1 0.9 1 3.3 1 -3.4 1 -1 1 -4.4 1 -0.8 1 -0.1 1 -2.7 1 -3.3 1 -3.2 1 0.7 1 -3.9 1 -1.8 1 -0.2 1 0.6 1 -1.5 1 -0.5 1 -1.3 1 4.6 1 0.9 1 -4.6 1 -1.9 1 -0.9 1 0.3 1 0 1 1.1 1 5.6 1 -0.5 1 -1 1 6.9 1 3.4 1 0.8" fill="none" stroke="#70AD47" stroke-width="3.90" stroke-linejoin="round" stroke-linecap="round"/><path d="M689.2 486.2 l1 2.5 1 1.7 1 3.2 1 0 1 -0.8 1 -1.5 1 -2.9 1 -2.3 1 1.4 1 -1.8 1 1.1 1 0.8 1 -3.6 1 -0.4 1 -2.8 1 -3.7 1 -2 1 -1.9 1 -0.5 1 2.7 1 -3.7 1 -1.6 1 -2.9 1 -5.9 1 2.5 1 1.7 1 0.4 1 3 1 -0.1 1 -1.5 1 -2.2 1 0.7 1 -6.5 1 -1.8 1 -0.2 1 -0.5 1 0 1 -1.1 1 -0.1 1 -0.8 1 -0.7 1 1.3 1 -2.8 1 -2.8 1 -1.8 1 -0.6 1 0.4 1 4 1 -5.5 1 3 1 3.7 1 1 1 3.5 1 2.9 1 -0.5 1 -3.8 1 -1.3 1 -0.5 1 1.6 1 3.8 1 0.1 1 2.6 1 0.8 1 -3.7 1 1.8 1 -1.6 1 1.1 1 2.1 1 2.9 1 1.5 1 4.3 1 6.6 1 1 1 0.9 1 -2 1 3.6 1 2.5 1 2 1 1.2 1 1.8 1 -6.5 1 7.8 1 0.6 1 -0.9 1 0.2 1 -2.4 1 -3.1 1 -2.3 1 2.8 1 4.2 1 0.9 1 -0.7 1 1.5 1 1.7 1 4.3 1 4.3 1 7.6 1 -1.9 1 2.9 1 0.2 1 1.6 1 0.4 1 -4.1 1 1.3 1 -3.4 1 -5.9 1 -5.3 1 -4.3 1 -3.8 1 1.9 1 -2.9 1 1.1 1 1.7 1 1.7 1 0.1 1 2.1 1 0 1 -1.1 1 4.7 1 -2.3 1 0.9 1 4.1 1 2.1 1 2.5 1 3.9 1 4.1 1 -2.7 1 4.4 1 0.4 1 1.7 1 1.9 1 0.6 1 1.9 1 -0.1 1 0.6 1 -2.4 1 -6.4 1 -1.4 1 -0.6 1 0.6 1 0.4 1 -4 1 -9.8 1 -2.5 1 4.3 1 -2.9 1 -1.7 1 -1.2 1 2.2 1 -0.8 1 2.2 1 -4.1 1 -1.8 1 0.1 1 -1.1 1 -0.8 1 3.4 1 0.7 1 8.9 1 3.1 1 2.3 1 0.3 1 -1 1 -2.9 1 -2.6 1 -2.5 1 -0.6 1 -2.2 1 -3.8 1 0.2 1 1.5 1 1 1 -2.5 1 -4.8 1 -2.7 1 4.8 1 -1.1 1 -0.3 1 -2 1 9.7 1 7.2 1 9.3 1 1.8 1 -1.8 1 -3.8 1 -7 1 -6.7 1 -3.4 1 1.3 1 -3.6 1 -1.8 1 -5.3 1 -1.1 1 0.2 1 1.2 1 -1.2 1 -4.6 1 -2.6 1 -0.2 1 -2.8 1 -1.5 1 -0.3 1 -1.3 1 2.9 1 2.2 1 1.2 1 2.7 1 -2.6 1 1.2 1 -0.8 1 0.1 1 0.3 1 -1 1 -3.4 1 -0.4 1 -3.5 1 -2.2 1 -2.6 1 -1 1 -4.2 1 -6.1 1 -4.6 1 -4.3 1 6.8 1 5.2 1 4.9 1 1.8 1 5.8 1 1.7 1 2 1 6.1 1 1 1 4.1 1 4.3 1 -0.7 1 1.1 1 -1.6 1 0 1 2.5 1 -2.3 1 0.6 1 -3.7 1 -5.8 1 -2.3 1 -1.2 1 -4.2 1 -5.8 1 -1.2 1 -2.1 1 -1 1 -0.1 1 -4.4 1 -0.1 1 -0.4 1 1.1 1 -0.7 1 -6.1 1 -2.4 1 2 1 0.6 1 0.5 1 1.4 1 -0.8 1 3 1 1.8 1 -2.4 1 3.4 1 0.2 1 1.2 1 2.1 1 -4.3 1 -3.3 1 -1.4 1 0.1 1 -1.5 1 -3.4 1 -0.1 1 0.9 1 1.3 1 -2 1 -1.1 1 0.2 1 -2.9 1 -1.7 1 -6.6 1 4.6 1 -0.3 1 -3.2 1 4.8 1 2 1 -6.1 1 0.3 1 1.7 1 2.4 1 0.5 1 1.4 1 -1 1 0 1 1.2 1 4.5 1 2.6 1 -3.4 1 1.3 1 2.5 1 -2.1 1 -0.9 1 0.9 1 -1.9 1 3.1 1 4.3 1 6.1 1 1.9 1 3.5 1 0.6 1 1.5 1 3.2 1 -0.2 1 -2 1 -2.5 1 -2.6 1 -1.3 1 1.3 1 2.5 1 2.1 1 0.7 1 1.4 1 -2.3 1 0.3 1 -2.4 1 -1.4 1 -1.2 1 -7.2 1 0.4 1 -3 1 -7.3 1 -2.7 1 0.8 1 -2.5 1 4.6 1 3.8 1 9.3 1 3.7 1 3.3 1 2.2 1 2 1 10.4 1 -6.7 1 5.9 1 8.6 1 7.5 1 7.4 1 4 1 -3.1 1 -3.1 1 -8.1 1 -2.6 1 3.2 1 0.9 1 -0.2 1 0.1 1 3.5 1 3.2 1 -4 1 5.5 1 1.7 1 -0.1 1 -5.3 1 -5.7 1 -5.2 1 -7 1 -4.1 1 -5.3 1 -2.3 1 9.1 1 -0.4 1 4.1 1 -1.4 1 1.6 1 0.9 1 3.5 1 2.1 1 9.4 1 -7.5 1 1.3 1 3.4 1 5.3 1 0.5 1 1.1 1 4.1 1 -0.2 1 1.3 1 -0.1 1 -2.5 1 0.9 1 -2.4 1 1.8 1 1.9 1 -1 1 -0.4 1 2.9 1 2.1 1 6.5 1 -4.8 1 1.3 1 -7.1 1 -0.2 1 3.6 1 0.4 1 0.9 1 2.7 1 6.8 1 3.1 1 2.2 1 -3.4 1 -5.6 1 -3.7 1 -8 1 3 1 -1 1 0.2 1 -2.3 1 -0.6 1 1 1 -4.3 1 -5 1 -5.8 1 -4.4 1 -6.6 1 0.1 1 3.1 1 3.5 1 -1.7 1 0.4 1 1.9 1 -1.1 1 -4.8 1 1.5 1 -0.5 1 -1.4 1 -3.6 1 -1.9 1 -0.7 1 1.3 1 0.9 1 -3 1 -0.5 1 0.4 1 1.1 1 1.1 1 0.7 1 0.8 1 0.7 1 0.3 1 -4.1 1 -7.7 1 -11.6 1 -7.6 1 -6.5 1 5.2 1 1.9 1 2 1 3 1 3 1 3.7 1 3.4 1 4.9 1 1.9 1 3.2 1 3.7 1 3.8 1 -4.5 1 -3.7 1 -4.5 1 -1.7 1 -4.2 1 0.2 1 1.9 1 -1.1 1 -0.4 1 2.6 1 -3.4 1 0.3 1 -2.4 1 4.3 1 -0.9 1 -2.2 1 -1 1 -2.4 1 -0.2" fill="none" stroke="#264478" stroke-width="3.90" stroke-linejoin="round" stroke-linecap="round"/><line x1="658.1" y1="609.3" x2="690.6" y2="609.3" stroke="#4472C4" stroke-width="3.3" stroke-linecap="round"/><text x="693.9" y="612.9" font-size="11.4" textLength="78.2" lengthAdjust="spacingAndGlyphs">USDT-IMOEX</text><line x1="781.8" y1="609.3" x2="814.3" y2="609.3" stroke="#ED7D31" stroke-width="3.3" stroke-linecap="round"/><text x="817.6" y="612.9" font-size="11.4" textLength="65.7" lengthAdjust="spacingAndGlyphs">DAI-IMOEX</text><line x1="905.7" y1="609.3" x2="938.2" y2="609.3" stroke="#A5A5A5" stroke-width="3.3" stroke-linecap="round"/><text x="941.5" y="612.9" font-size="11.4" textLength="70.6" lengthAdjust="spacingAndGlyphs">GLC-IMOEX</text><line x1="1029.6" y1="609.3" x2="1062.1" y2="609.3" stroke="#FFC000" stroke-width="3.3" stroke-linecap="round"/><text x="1065.4" y="612.9" font-size="11.4" textLength="70.6" lengthAdjust="spacingAndGlyphs">HGT-IMOEX</text><line x1="658.1" y1="634.7" x2="690.6" y2="634.7" stroke="#5B9BD5" stroke-width="3.3" stroke-linecap="round"/><text x="693.9" y="638.3" font-size="11.4" textLength="80.3" lengthAdjust="spacingAndGlyphs">MNTP-IMOEX</text><line x1="781.8" y1="634.7" x2="814.3" y2="634.7" stroke="#70AD47" stroke-width="3.3" stroke-linecap="round"/><text x="817.6" y="638.3" font-size="11.4" textLength="68.5" lengthAdjust="spacingAndGlyphs">X8X-IMOEX</text><line x1="905.7" y1="634.7" x2="938.2" y2="634.7" stroke="#264478" stroke-width="3.3" stroke-linecap="round"/><text x="941.5" y="638.3" font-size="11.4" textLength="79.6" lengthAdjust="spacingAndGlyphs">XAUR-IMOEX</text></g>
<g><rect x="3.0" y="656.6" width="594.0" height="328.4" fill="#fff" stroke="#e3e3e3" stroke-width="1.2"/><text x="138.7" y="684.5" font-size="17.0" textLength="322.2" lengthAdjust="spacingAndGlyphs">Conventional cryptocurrrencies vs NIFTY</text><line x1="88.7" y1="708.2" x2="578.7" y2="708.2" stroke="#d9d9d9" stroke-width="1"/><text x="74.1" y="712.8" font-size="12.8" text-anchor="end" textLength="56.8" lengthAdjust="spacingAndGlyphs">0.300000</text><line x1="88.7" y1="742.2" x2="578.7" y2="742.2" stroke="#d9d9d9" stroke-width="1"/><text x="74.1" y="746.9" font-size="12.8" text-anchor="end" textLength="56.8" lengthAdjust="spacingAndGlyphs">0.200000</text><line x1="88.7" y1="776.3" x2="578.7" y2="776.3" stroke="#d9d9d9" stroke-width="1"/><text x="74.1" y="780.9" font-size="12.8" text-anchor="end" textLength="56.8" lengthAdjust="spacingAndGlyphs">0.100000</text><line x1="88.7" y1="810.4" x2="578.7" y2="810.4" stroke="#d9d9d9" stroke-width="1"/><text x="74.1" y="815.0" font-size="12.8" text-anchor="end" textLength="56.8" lengthAdjust="spacingAndGlyphs">0.000000</text><line x1="88.7" y1="844.4" x2="578.7" y2="844.4" stroke="#d9d9d9" stroke-width="1"/><text x="74.1" y="849.0" font-size="12.8" text-anchor="end" textLength="61.3" lengthAdjust="spacingAndGlyphs">-0.100000</text><line x1="88.7" y1="878.5" x2="578.7" y2="878.5" stroke="#d9d9d9" stroke-width="1"/><text x="74.1" y="883.1" font-size="12.8" text-anchor="end" textLength="61.3" lengthAdjust="spacingAndGlyphs">-0.200000</text><line x1="88.7" y1="912.5" x2="578.7" y2="912.5" stroke="#d9d9d9" stroke-width="1"/><text x="74.1" y="917.1" font-size="12.8" text-anchor="end" textLength="61.3" lengthAdjust="spacingAndGlyphs">-0.300000</text><line x1="88.2" y1="810.4" x2="88.2" y2="814.4" stroke="#d9d9d9" stroke-width="1"/><line x1="184.2" y1="810.4" x2="184.2" y2="814.4" stroke="#d9d9d9" stroke-width="1"/><line x1="280.2" y1="810.4" x2="280.2" y2="814.4" stroke="#d9d9d9" stroke-width="1"/><line x1="376.1" y1="810.4" x2="376.1" y2="814.4" stroke="#d9d9d9" stroke-width="1"/><line x1="472.1" y1="810.4" x2="472.1" y2="814.4" stroke="#d9d9d9" stroke-width="1"/><line x1="568.1" y1="810.4" x2="568.1" y2="814.4" stroke="#d9d9d9" stroke-width="1"/><text x="88.2" y="831.7" font-size="12.8" text-anchor="middle" textLength="52.5" lengthAdjust="spacingAndGlyphs">6-Apr-18</text><text x="184.2" y="831.7" font-size="12.8" text-anchor="middle" textLength="52.5" lengthAdjust="spacingAndGlyphs">6-Apr-19</text><text x="280.2" y="831.7" font-size="12.8" text-anchor="middle" textLength="52.5" lengthAdjust="spacingAndGlyphs">6-Apr-20</text><text x="376.1" y="831.7" font-size="12.8" text-anchor="middle" textLength="52.5" lengthAdjust="spacingAndGlyphs">6-Apr-21</text><text x="472.1" y="831.7" font-size="12.8" text-anchor="middle" textLength="52.5" lengthAdjust="spacingAndGlyphs">6-Apr-22</text><text x="568.1" y="831.7" font-size="12.8" text-anchor="middle" textLength="52.5" lengthAdjust="spacingAndGlyphs">6-Apr-23</text><path d="M89.2 812.8 l1 2.1 1 0.7 1 -1.5 1 -2.7 1 1.2 1 5.4 1 -2.4 1 2.3 1 -1.7 1 0.2 1 4.5 1 -1.2 1 -3.5 1 2.1 1 2.8 1 5.1 1 1.2 1 -4.6 1 3.4 1 -3.6 1 -14.2 1 -10.5 1 -0.1 1 2 1 0.2 1 0.3 1 -0.8 1 0.6 1 -0.9 1 -3.6 1 2.6 1 -3.1 1 0.1 1 -1.3 1 -3 1 -2.1 1 0.9 1 -1 1 -3.9 1 -2.5 1 -0.6 1 -0.6 1 1.3 1 0.7 1 1.4 1 -4.8 1 -2.2 1 -7.8 1 -6.8 1 -2.3 1 10.4 1 0.7 1 3.5 1 -0.7 1 3 1 1 1 -2 1 1 1 6.9 1 4.4 1 2.9 1 -1.9 1 -0.9 1 -4.3 1 0.4 1 5.1 1 3.5 1 0.5 1 0.3 1 1.8 1 -0.3 1 -0.6 1 0.5 1 2.8 1 0.6 1 -0.4 1 1.5 1 3.1 1 -0.4 1 -1.4 1 -3.7 1 0.2 1 4.6 1 2.6 1 -0.2 1 0.6 1 0.1 1 -2.8 1 -3.4 1 0.8 1 -5.7 1 -3.2 1 -7 1 -4.1 1 -0.1 1 -1.7 1 -0.6 1 0 1 8.7 1 -1.4 1 5.6 1 -0.5 1 6.2 1 5.1 1 7.8 1 8.2 1 1.2 1 -1.6 1 -0.5 1 -4.3 1 2.9 1 -1.6 1 -0.9 1 0.4 1 -0.2 1 3.3 1 3.4 1 1.8 1 0.1 1 5.8 1 2.6 1 4.8 1 5 1 1.9 1 2.3 1 4.3 1 0.6 1 1.6 1 3.1 1 -4.1 1 0 1 -2.3 1 -3.8 1 0 1 -1.2 1 -2.5 1 6.7 1 2.1 1 -1 1 -1.8 1 -1 1 -2.1 1 -0.1 1 -1.5 1 -0.8 1 -2.4 1 -1.9 1 1.1 1 -0.1 1 -1.8 1 -0.1 1 -0.4 1 -3.4 1 3.2 1 -1.9 1 3.7 1 -4.8 1 -3.6 1 -0.1 1 -1.5 1 0.6 1 2.6 1 1.9 1 -0.4 1 3.3 1 -1.3 1 3.4 1 3.7 1 2.3 1 1.2 1 5.4 1 1.5 1 -1.7 1 -1.5 1 3.2 1 0.3 1 7.4 1 -1.4 1 2.6 1 -13.6 1 -0.3 1 -1.9 1 -9.1 1 -18 1 -23.7 1 -7 1 2.4 1 1.8 1 -4.1 1 2.5 1 -0.2 1 -2.2 1 3.6 1 -1.5 1 2.6 1 -0.2 1 -1.2 1 -1.1 1 0.6 1 -0.2 1 1.5 1 -2.9 1 -2.4 1 0 1 -0.2 1 -4 1 4.2 1 -3.3 1 -4.7 1 1.3 1 -4.2 1 -3.9 1 -2.5 1 2.1 1 -3.7 1 -1.3 1 -3.2 1 1.7 1 -1.6 1 2.9 1 3.7 1 -0.4 1 3.3 1 4 1 1.7 1 2.8 1 3 1 -0.6 1 1.8 1 3.4 1 -0.5 1 2.5 1 2.1 1 1.9 1 2.2 1 4.4 1 -2.4 1 -1.3 1 0.5 1 -0.5 1 -3 1 -0.7 1 1.2 1 0.7 1 3.5 1 -3.3 1 -4.6 1 -3.3 1 -4.1 1 -3.8 1 -1.4 1 2.5 1 2.5 1 -1.7 1 -2.2 1 1.1 1 -3.3 1 -3.3 1 -2.5 1 1.6 1 -1.9 1 -0.9 1 3 1 0.1 1 -0.7 1 1.4 1 -7.2 1 1.3 1 -2.1 1 3.7 1 -2.8 1 -4.4 1 -0.7 1 -0.5 1 1.9 1 1.4 1 -2.2 1 -1.4 1 0.4 1 2.3 1 -0.8 1 2.9 1 1.3 1 -5.5 1 -1.2 1 -3.4 1 4.5 1 7.9 1 4.2 1 1.6 1 0.9 1 1.8 1 -2.9 1 0.3 1 -1.2 1 -0.8 1 2.4 1 3.7 1 4 1 1.6 1 2.8 1 -0.3 1 -2.4 1 -8.7 1 3.4 1 1.2 1 4.1 1 2.4 1 3.6 1 0.3 1 0.6 1 3.5 1 -6.5 1 -2 1 2.5 1 -3.5 1 -0.7 1 2.3 1 4.1 1 0 1 2 1 2.3 1 4.1 1 -0.8 1 -1.2 1 0.8 1 -3.4 1 -3.1 1 -2.1 1 -0.3 1 1.2 1 1.1 1 2.7 1 4 1 0.6 1 2.2 1 2.1 1 4.3 1 4 1 0.8 1 0.6 1 2.9 1 0.6 1 -1.1 1 -5.1 1 -1.5 1 -4 1 -5.6 1 -8 1 -3.8 1 -5 1 -0.8 1 2.6 1 -2.9 1 -0.2 1 0 1 1.5 1 -1.8 1 2 1 0.5 1 -6.1 1 -5.3 1 -4.6 1 -2.2 1 2.1 1 1.6 1 -2 1 -1.4 1 -0.1 1 -1 1 -0.6 1 -4 1 1.8 1 -1.8 1 -1 1 -3.7 1 4.6 1 -4.1 1 -2.5 1 2.4 1 0 1 -1.2 1 -1.8 1 2.8 1 7.4 1 4.1 1 3.8 1 3.1 1 3.4 1 3.3 1 -0.4 1 -0.2 1 -0.6 1 1.3 1 -0.9 1 0.7 1 -4.6 1 -1.9 1 -1.1 1 -0.2 1 -3.2 1 -4.4 1 -3.3 1 -4.4 1 -1.2 1 -2 1 -0.3 1 -3.1 1 -0.6 1 2.2 1 0 1 -0.7 1 -6 1 -1.8 1 0.4 1 -0.6 1 -2.4 1 3 1 0 1 3.5 1 1.3 1 7.1 1 7.4 1 4 1 0.9 1 1.2 1 1.4 1 6.5 1 0.2 1 -3.6 1 8 1 2 1 -1.3 1 -5 1 1.1 1 -2 1 -2.4 1 -1.9 1 3.5 1 4.1 1 3.9 1 -0.5 1 1.1 1 -6.8 1 -1.5 1 -3.5 1 -0.4 1 1.5 1 0.3 1 -2 1 -3.8 1 -6 1 2.6 1 -4.5 1 1.9 1 -1 1 -2.6 1 3.7 1 -1.2 1 0.2 1 2.6 1 4.5 1 3.6 1 4.4 1 -0.3 1 3.3 1 -0.3 1 4.4 1 -1.6 1 1.4 1 -1.6 1 2.7 1 -0.6 1 2.3 1 2.5 1 0.6 1 -1.4 1 -0.9 1 1.7 1 -4 1 -2 1 -2.8 1 0.7 1 3.4 1 6.5 1 3.8 1 8.2 1 1.4 1 1.1 1 -3" fill="none" stroke="#4472C4" stroke-width="3.90" stroke-linejoin="round" stroke-linecap="round"/><path d="M89.2 813.5 l1 1.7 1 1.8 1 -0.6 1 2.3 1 -1.6 1 1.4 1 0.8 1 1.1 1 -0.3 1 0.1 1 -2.5 1 -2.5 1 1 1 1.3 1 3.9 1 5 1 0.6 1 1.4 1 0 1 -2.9 1 -11.4 1 -9.9 1 3.2 1 3.8 1 -3 1 3.4 1 -2.5 1 3.1 1 -1.5 1 -1.2 1 -1.8 1 -0.5 1 -2.6 1 -1.6 1 -0.1 1 -3.1 1 -0.1 1 -4.5 1 -4.8 1 -3.4 1 2.3 1 2.3 1 0.4 1 0.6 1 1.7 1 -0.9 1 -1.9 1 -5.6 1 -1.1 1 -1.5 1 0.8 1 1 1 -0.9 1 2.6 1 0.9 1 -1.9 1 -2.9 1 5.2 1 8.8 1 7.2 1 1.4 1 -1.6 1 1.5 1 -2.7 1 -2.1 1 2.1 1 1.9 1 2.3 1 2.5 1 -5 1 4.9 1 0.4 1 1.9 1 0.5 1 -1.6 1 2.1 1 -3.6 1 -0.3 1 -2 1 -1.9 1 2 1 1 1 0.8 1 -0.1 1 4.1 1 -0.9 1 -2 1 -3.9 1 -0.4 1 -0.7 1 -5.9 1 -5.7 1 -5.1 1 -4.9 1 -1.9 1 -2 1 -1.2 1 -3.1 1 3.7 1 2.2 1 1.4 1 -0.6 1 1 1 2.3 1 7.3 1 5.9 1 2.6 1 -1.4 1 1.1 1 -1.2 1 0.8 1 3.7 1 3.3 1 2.2 1 1.1 1 -2 1 3.9 1 7.5 1 1.9 1 -6.4 1 6.7 1 15.2 1 6.7 1 -0.1 1 1.2 1 2.9 1 6 1 1.9 1 4.4 1 1.9 1 -2.3 1 -4 1 0.5 1 1.1 1 0.9 1 3.8 1 1.1 1 -0.9 1 2.1 1 -4.4 1 0.7 1 -0.4 1 0.7 1 -2.7 1 -2.9 1 0.9 1 1.1 1 -1.3 1 -3.7 1 0.5 1 1.1 1 -1 1 1.1 1 -4.1 1 -1.3 1 -3.4 1 0.1 1 -1.6 1 -3.1 1 -0.6 1 3.4 1 -3 1 7.3 1 -0.7 1 0.7 1 0.8 1 3 1 0.4 1 5.2 1 3.4 1 4.8 1 2 1 0.5 1 0.8 1 -1.5 1 -2.8 1 -1.6 1 1.1 1 -0.8 1 -7.1 1 -3.6 1 -2.9 1 -2.8 1 -18.7 1 -25.2 1 -9.6 1 2.5 1 0.6 1 -6.9 1 0.8 1 2.2 1 8.3 1 0.6 1 -1.1 1 3.5 1 -6.1 1 0.6 1 1.7 1 3.2 1 -3.8 1 -2.9 1 -1.4 1 4 1 2.1 1 5.5 1 -5.1 1 -0.4 1 1.8 1 -0.9 1 -3.7 1 -6.1 1 -0.3 1 -0.6 1 -0.7 1 1.3 1 -0.2 1 -1.8 1 1.9 1 1.1 1 1.1 1 0 1 2.8 1 5.2 1 -0.2 1 4.9 1 -0.6 1 3.9 1 1.8 1 3.7 1 0.2 1 -5.3 1 -0.8 1 0.8 1 2.5 1 -0.6 1 -5.5 1 -2.8 1 -0.5 1 0.1 1 -3.4 1 0 1 -1.4 1 0.3 1 -1.7 1 1 1 -1.9 1 -4.9 1 1.8 1 -3.1 1 -5.2 1 1.5 1 -5.5 1 0.7 1 0.7 1 -2.6 1 -3.9 1 -2.6 1 -3.9 1 -4.6 1 2.6 1 -0.7 1 -1.7 1 -0.1 1 0.8 1 3.4 1 -2.1 1 -2.9 1 -2.5 1 -1.5 1 -0.4 1 -3.4 1 -3.3 1 4.7 1 -3.4 1 -2.4 1 2.9 1 -2.1 1 -0.9 1 0.2 1 -3.2 1 1.4 1 -2.4 1 0.8 1 -0.9 1 -1.8 1 -3 1 2.6 1 6.9 1 4.7 1 -3.3 1 3.2 1 4.4 1 -3.2 1 -2.3 1 -3.8 1 -3 1 2.1 1 4.3 1 0.6 1 0.6 1 1.5 1 -0.1 1 -4.3 1 3 1 3.8 1 2.8 1 -0.5 1 6.5 1 3.6 1 3.8 1 0.1 1 -2.8 1 3.2 1 -1.8 1 2.2 1 -0.4 1 -1.5 1 -0.5 1 1.5 1 1.2 1 2.3 1 1.8 1 -0.1 1 0.3 1 1.5 1 2.2 1 -4.9 1 -1.9 1 -4.7 1 0.4 1 1.8 1 -1.7 1 -1.4 1 1 1 3.2 1 1.6 1 2.1 1 0.3 1 1.1 1 0.9 1 3.9 1 -1.3 1 -1.3 1 -1.7 1 0.5 1 1 1 9.1 1 -4.9 1 -6.5 1 -16.5 1 -1.4 1 -1 1 1.1 1 0.5 1 -1.6 1 -0.9 1 1 1 2.6 1 1.8 1 -3.5 1 -4.7 1 -1.5 1 -2.1 1 -7 1 1.8 1 0.1 1 1.1 1 -0.1 1 0.7 1 -0.8 1 -0.2 1 -4.8 1 1 1 1 1 -3.5 1 -3.1 1 -0.4 1 0.4 1 -3.5 1 -0.6 1 1.4 1 -0.4 1 1.3 1 5.6 1 3.7 1 1.9 1 4.2 1 0.7 1 5.8 1 2 1 0.3 1 0.9 1 1 1 -4.2 1 -0.4 1 -0.6 1 -8.9 1 -4.1 1 -3.6 1 -1.9 1 -2.9 1 -0.4 1 -4.9 1 -6 1 2.5 1 -2.7 1 0.7 1 0.9 1 0.5 1 -0.1 1 4.2 1 -4.6 1 -1.6 1 0.8 1 -2.8 1 1 1 -1.9 1 -0.3 1 -0.9 1 0.7 1 2 1 3.1 1 6.8 1 1.9 1 1.3 1 -1.4 1 4.7 1 -2.5 1 0.7 1 0.1 1 1.9 1 0.1 1 -3.7 1 1.6 1 -0.8 1 1.4 1 2.1 1 -2.5 1 2.7 1 5.8 1 -0.1 1 0.3 1 -2.3 1 -2.6 1 -0.1 1 0.9 1 -3.1 1 1.7 1 -2.2 1 1 1 0 1 2.1 1 -2 1 -3.6 1 1.6 1 0.5 1 -2.2 1 3 1 1.6 1 4.6 1 2.9 1 4 1 1.5 1 2 1 2.6 1 2.3 1 -1.1 1 1.9 1 -1.5 1 2.4 1 1.4 1 -1.6 1 3.3 1 1.1 1 3.6 1 -1.5 1 0.5 1 -0.2 1 0.7 1 0.6 1 -2.1 1 0.2 1 -1 1 5.5 1 4.1 1 4.5 1 8.3 1 2.8 1 -1.4 1 2.3" fill="none" stroke="#ED7D31" stroke-width="3.90" stroke-linejoin="round" stroke-linecap="round"/><path d="M89.2 805.8 l1 0.9 1 0.4 1 2 1 3 1 0.8 1 -0.6 1 3.1 1 -1 1 1.9 1 1.1 1 0.7 1 -0.2 1 0.6 1 3 1 6.3 1 1.2 1 1.4 1 1.2 1 3.6 1 1.4 1 -11.3 1 -8.2 1 7.2 1 5.6 1 2.1 1 2.9 1 -3.4 1 -4.7 1 2.1 1 -4.8 1 -3.2 1 -3.1 1 -1.6 1 -2.6 1 -4.8 1 -2.2 1 -4.4 1 -0.1 1 -3.4 1 -2.6 1 -4.4 1 0.7 1 0.6 1 3.7 1 0.6 1 -1.9 1 -3.6 1 -2.5 1 -5.4 1 0.1 1 0.8 1 1.5 1 2 1 -1.9 1 -0.6 1 -1.3 1 0.9 1 3.5 1 4.6 1 7.1 1 3.7 1 -4.8 1 -0.5 1 -1.1 1 -5.8 1 -3.4 1 3.2 1 4.7 1 7.6 1 -0.7 1 -0.4 1 1.9 1 8 1 -2.4 1 -1.8 1 -7.2 1 -2 1 1.3 1 2.8 1 -2.6 1 1.2 1 -1.9 1 2.6 1 4.5 1 -0.3 1 -1.1 1 0.3 1 -3.5 1 -2 1 0.7 1 -5.1 1 -4.1 1 -10.6 1 -1.8 1 -1 1 -2.6 1 -5 1 -5.6 1 4 1 1.3 1 -0.2 1 3 1 1.4 1 1.1 1 9.3 1 5.4 1 2.7 1 -0.9 1 -5.6 1 6.3 1 -0.3 1 2.3 1 2.1 1 2.1 1 2 1 2.4 1 3.7 1 3.4 1 5.4 1 5.4 1 4 1 4.7 1 2.5 1 0.9 1 2.9 1 5.3 1 3.4 1 -1.5 1 0.2 1 -1.8 1 -1.5 1 -2.5 1 -6.4 1 3.7 1 2.7 1 -1 1 -1.5 1 -0.9 1 -2.8 1 1.9 1 -0.5 1 -2.8 1 -2.6 1 -2.2 1 -5.1 1 1.3 1 0.4 1 0.5 1 1.6 1 -0.5 1 -3.8 1 -0.4 1 -0.8 1 -4.5 1 -0.7 1 -2.3 1 1.7 1 0.5 1 1.3 1 0.9 1 0.7 1 1.5 1 2.1 1 -0.6 1 2.9 1 2.5 1 6.2 1 4 1 2.1 1 4.5 1 0.7 1 1.7 1 3.6 1 0.1 1 5.8 1 -3.3 1 1.1 1 -3.4 1 -2.6 1 1.1 1 -2.2 1 -0.8 1 -2.7 1 -14.3 1 -22.6 1 -5.7 1 -0.4 1 -0.7 1 0.2 1 -0.2 1 1.5 1 2.9 1 -2.6 1 3.4 1 1.3 1 0.2 1 -4.8 1 -3.5 1 7.1 1 -1.2 1 -1.3 1 -0.6 1 0.3 1 -0.9 1 1.2 1 0.4 1 -0.1 1 -6.2 1 -1.8 1 -1.6 1 -1.1 1 -4.8 1 3.3 1 -1.8 1 -5.5 1 -0.3 1 0.6 1 -2.8 1 0 1 3.7 1 -3 1 3.5 1 2.2 1 2 1 -0.8 1 2.9 1 2.1 1 3.3 1 2.6 1 -1.4 1 1.3 1 3.5 1 1.5 1 3.4 1 2.9 1 3.5 1 -2.1 1 -1.3 1 -1.5 1 1.7 1 -1.2 1 1.1 1 2.8 1 2.3 1 0 1 -1 1 -5.8 1 -3.6 1 -1.2 1 -2.9 1 -0.8 1 -1.9 1 1.2 1 0.6 1 -0.6 1 0.6 1 0.6 1 0.3 1 -2.9 1 -1.1 1 -2.9 1 -0.8 1 -1 1 5.3 1 1.3 1 3.8 1 -2.6 1 0.1 1 -3.4 1 -3.2 1 -0.4 1 -0.9 1 -3.6 1 -2.8 1 -4.5 1 -2.3 1 4.3 1 -2.2 1 -1 1 3.4 1 -3.8 1 -1 1 -3.4 1 -3.7 1 -1 1 4 1 2.2 1 11 1 8.4 1 0.5 1 2.3 1 -1.5 1 -0.4 1 5.9 1 -2.7 1 -6.8 1 5.2 1 2.3 1 14.7 1 4.2 1 -2.1 1 -2.6 1 -2.8 1 -3.6 1 1.7 1 0.8 1 2.1 1 4.8 1 -0.1 1 3 1 1.2 1 3.2 1 0.1 1 -6.6 1 -1.3 1 -3.3 1 -0.6 1 0.4 1 3 1 3.2 1 1.6 1 -3.5 1 -0.3 1 1.7 1 1.1 1 -7.2 1 5.3 1 -0.1 1 -2.8 1 -2.5 1 -2.3 1 -3.3 1 -1.8 1 2.2 1 1.3 1 -0.6 1 4.3 1 0.7 1 4.2 1 -2.1 1 2.2 1 -6.5 1 2.3 1 3.5 1 5.3 1 -3.7 1 -1.2 1 -3.7 1 -4 1 -7.6 1 -8.2 1 -1.5 1 1.9 1 1.9 1 0.8 1 2 1 -1.2 1 1 1 -2.6 1 -3.2 1 -2.7 1 -6.9 1 -4.4 1 -5.1 1 -0.3 1 2.8 1 3.8 1 3.7 1 -1.1 1 -2.1 1 -6.5 1 -1.5 1 -0.7 1 0.6 1 -2.7 1 -0.2 1 3.5 1 -2 1 -1.7 1 -2.8 1 1.3 1 -2.9 1 1.5 1 1.2 1 3.1 1 4.3 1 2.5 1 2.3 1 2.8 1 0.5 1 1.6 1 0.8 1 -0.2 1 0.2 1 -1.1 1 -3 1 2.3 1 -1.6 1 -0.8 1 -1 1 -2.9 1 -5.7 1 -1.1 1 -4.2 1 -2 1 -0.7 1 0.6 1 -0.9 1 3.4 1 -3.5 1 -1.5 1 -12 1 -4.9 1 4.4 1 -0.4 1 1 1 2.2 1 2.2 1 2.2 1 2 1 -1.8 1 4.3 1 12.1 1 7.2 1 -1.5 1 2.4 1 4.1 1 -3.2 1 -1.2 1 -1.9 1 4.4 1 4 1 0.5 1 -2.4 1 -1.9 1 0 1 -0.1 1 2.7 1 -0.4 1 2.3 1 0.5 1 -4.3 1 2.5 1 -5.3 1 -2.4 1 0 1 -1.4 1 -1.8 1 -2.9 1 1.3 1 -3.2 1 -2.3 1 -1.8 1 4.8 1 0.1 1 0.2 1 -1.1 1 -1.7 1 1.3 1 7.7 1 -1.1 1 0.7 1 1.7 1 2.8 1 4.5 1 1.3 1 0.1 1 2.1 1 0.7 1 -1 1 1.9 1 2.9 1 6.8 1 1.6 1 -3.3 1 -6.2 1 2.7 1 -0.9 1 0 1 -0.3 1 -1.2 1 -0.1 1 5.2 1 3.8 1 -1.7 1 10.7 1 2.1 1 1.7 1 1.1 1 -0.8" fill="none" stroke="#A5A5A5" stroke-width="3.90" stroke-linejoin="round" stroke-linecap="round"/><path d="M89.2 813.3 l1 2.8 1 3.3 1 -0.5 1 2.8 1 -2.8 1 -1.1 1 3.3 1 3.5 1 -4.3 1 -0.7 1 -5.6 1 0.5 1 0.1 1 6 1 4.1 1 4.3 1 1.8 1 1.4 1 -0.8 1 -1.9 1 -21.7 1 -8.1 1 -0.6 1 9.9 1 4.3 1 2.7 1 1.8 1 0.4 1 -1.3 1 -2.4 1 -4 1 1.9 1 -1 1 1 1 -1.4 1 -0.3 1 -0.6 1 -2.4 1 0 1 -0.7 1 -0.6 1 5.4 1 0 1 2.7 1 -1.4 1 -3.5 1 -1.6 1 -3 1 -4.7 1 -5.2 1 3.3 1 0 1 2.7 1 -1.9 1 -1.9 1 1.1 1 0.6 1 1.9 1 4.1 1 2.5 1 -0.3 1 -4 1 -1.5 1 2.3 1 -2.9 1 2.1 1 2.4 1 3.8 1 0.9 1 -1.7 1 2 1 -1.2 1 -0.8 1 -3.3 1 -1 1 -0.9 1 -0.3 1 1.3 1 1.2 1 -0.4 1 -0.3 1 2.8 1 1.1 1 -2.2 1 1.5 1 -0.4 1 2 1 0.7 1 -2.2 1 -3 1 -4.3 1 -7 1 -5.6 1 -6 1 1.9 1 -2.8 1 -2.7 1 -1.9 1 2.6 1 1.3 1 3.1 1 1.7 1 -1.2 1 2.6 1 5.9 1 5.4 1 3.6 1 -0.1 1 -0.2 1 2 1 -1.1 1 3.5 1 2.3 1 0.5 1 3.9 1 1.8 1 -2.3 1 2.6 1 5.5 1 4.9 1 4.7 1 2.4 1 4.5 1 1.2 1 7.7 1 1.9 1 2.6 1 0.1 1 2.8 1 -4.7 1 -1.2 1 4.2 1 -2.3 1 0.8 1 1.8 1 1.5 1 2.8 1 2.2 1 -0.6 1 0.9 1 -0.8 1 0 1 -1.8 1 1 1 0 1 -1.8 1 0 1 -1.8 1 2.1 1 4.5 1 -1.4 1 -1.6 1 1.1 1 0.2 1 0.2 1 -1.4 1 0.3 1 -2.7 1 -1.9 1 0.1 1 3.5 1 1.5 1 1.3 1 0.1 1 1.8 1 2.3 1 -0.9 1 -3.1 1 9.1 1 4.3 1 -0.4 1 1.7 1 0.1 1 0.1 1 2.7 1 -0.8 1 -2.9 1 -3.6 1 -2.5 1 -3.8 1 -3.8 1 -1.7 1 -3.8 1 -17.8 1 -26 1 -8.8 1 0.8 1 1.3 1 -0.8 1 0.2 1 1.3 1 -2.2 1 0.7 1 -0.8 1 2.9 1 0 1 -2.1 1 1.4 1 0.7 1 -4 1 7.1 1 -6.3 1 1.9 1 1.2 1 -0.4 1 -2.6 1 1.6 1 -2.6 1 -0.3 1 -4.4 1 -2.4 1 -0.9 1 -0.4 1 1.8 1 -2.1 1 3.5 1 0.5 1 -2.2 1 3.3 1 -1.7 1 7.1 1 6 1 1.6 1 -1.3 1 0.2 1 3.4 1 8.2 1 0.4 1 -0.6 1 -1.4 1 2.7 1 1.7 1 0 1 1 1 -1.3 1 -2.7 1 -0.8 1 -2 1 -2.9 1 -1.3 1 -1.8 1 0.4 1 2.9 1 -0.8 1 -1.3 1 -1.3 1 -3.8 1 -0.4 1 -5.7 1 -3.6 1 -1.1 1 3.8 1 -0.4 1 0 1 -2.2 1 0.6 1 -5.5 1 -2.7 1 -1.8 1 -1.2 1 -3.1 1 -1.8 1 -1.9 1 2 1 -1.3 1 -0.3 1 0.5 1 1.6 1 -1.3 1 -0.8 1 -1.8 1 1.9 1 -3.9 1 -1.2 1 0.2 1 0.1 1 2.5 1 -2.5 1 1.2 1 -0.3 1 -2.3 1 -3.7 1 -0.8 1 0.3 1 0.2 1 1.7 1 6.9 1 13.9 1 6.6 1 0.3 1 -0.9 1 5.5 1 -4.6 1 -0.2 1 0.5 1 -2.9 1 2.8 1 -0.5 1 5.2 1 -0.5 1 -2.4 1 -4.8 1 -0.2 1 -0.5 1 -1.2 1 2.7 1 0.8 1 3.3 1 4 1 -4.4 1 2.4 1 1.7 1 -1.1 1 -5.3 1 -0.2 1 -3.9 1 -3.8 1 0.9 1 -0.1 1 -0.1 1 4 1 -2.2 1 2.4 1 2.5 1 -1.8 1 -0.8 1 4.4 1 1.4 1 -0.3 1 -2.5 1 -1.3 1 -2.9 1 1.9 1 2.7 1 -0.1 1 1.5 1 6.5 1 2.3 1 -0.9 1 5.1 1 1 1 4.2 1 0.3 1 -3.2 1 -2.5 1 -3.5 1 -0.8 1 -8.7 1 -6.6 1 -8 1 -10.1 1 -1.2 1 0.8 1 1.2 1 -0.7 1 3.7 1 2.2 1 -1.2 1 3.7 1 -3 1 -6.4 1 -1.4 1 -2.8 1 -3.8 1 5.5 1 2.8 1 -3.3 1 1.2 1 -1.9 1 -3.5 1 -2.4 1 1.1 1 -2.3 1 1.1 1 -0.1 1 0.9 1 -0.5 1 -0.1 1 1.2 1 1.5 1 0.4 1 0.8 1 -2.1 1 6.1 1 8.9 1 2.8 1 5.3 1 -2.4 1 -0.1 1 1.1 1 1.6 1 -2 1 1.8 1 -5.5 1 -2.2 1 -2.2 1 0.9 1 -5.1 1 2.2 1 -1.3 1 -6.1 1 -5.7 1 -5.4 1 -0.4 1 -6.3 1 3.7 1 -1.6 1 -6.6 1 -3.4 1 -0.1 1 -2.3 1 3.1 1 0.4 1 -1 1 -2.8 1 -3.5 1 3.3 1 0.2 1 5.8 1 -0.2 1 -4.3 1 1.6 1 8.5 1 6 1 0.7 1 -1.1 1 4.2 1 3.2 1 1.1 1 1.5 1 2.6 1 4.2 1 -0.4 1 -2.4 1 -0.3 1 0.5 1 1.2 1 -3.4 1 1 1 -0.6 1 2.5 1 0.4 1 -0.6 1 1 1 -4.5 1 1.4 1 -2.5 1 2.9 1 3.7 1 -10.4 1 -6.9 1 0.1 1 2.4 1 1 1 -1.5 1 0.4 1 3.6 1 2.1 1 4.3 1 -4.6 1 5.1 1 4.6 1 -4.9 1 -1.2 1 0.7 1 5.4 1 -2.5 1 -1.6 1 -1.5 1 -0.3 1 0.4 1 0.1 1 2.1 1 -2.3 1 -0.8 1 0.5 1 -1.8 1 -0.2 1 -5.6 1 1.9 1 -2.7 1 -0.4 1 -3.2 1 6.3 1 5.9 1 7.4 1 5.6 1 0.5 1 1.4 1 -0.3" fill="none" stroke="#FFC000" stroke-width="3.90" stroke-linejoin="round" stroke-linecap="round"/><path d="M89.2 816.5 l1 -2 1 -0.2 1 3.3 1 5.3 1 -0.1 1 -0.6 1 -5.7 1 0.6 1 -2.2 1 -1.6 1 2.9 1 -1.6 1 -0.2 1 0.5 1 2.6 1 0.9 1 -1.2 1 1.1 1 3.8 1 -2.9 1 -12.9 1 -8.5 1 1.7 1 1.5 1 0 1 1.3 1 -0.2 1 -1.2 1 -1.1 1 1.4 1 0.5 1 -2.7 1 0 1 -8.1 1 2.1 1 -2.3 1 -2.8 1 -1.2 1 -3.1 1 -1.9 1 -4.2 1 3.1 1 1.7 1 -1 1 -1.4 1 -1.1 1 -0.2 1 -1.2 1 -3.9 1 -1.2 1 1.7 1 -0.7 1 0.9 1 1 1 -1 1 -1.5 1 0.7 1 5 1 5.4 1 4.3 1 0.7 1 0.2 1 -2.8 1 -1.8 1 -1.5 1 -1.8 1 1.7 1 1.2 1 2.2 1 0.4 1 1 1 -0.6 1 1.3 1 -3.5 1 1.7 1 0.1 1 -1.5 1 -2.2 1 2.2 1 0.7 1 1.3 1 -3.2 1 1.8 1 3.9 1 4.4 1 0 1 1.1 1 0.3 1 -0.4 1 -3.7 1 -9 1 -5.8 1 -3.5 1 -4.1 1 -2.5 1 1.4 1 -2.5 1 0.1 1 4.4 1 2.4 1 -0.3 1 2.1 1 0.1 1 1.9 1 6 1 4.3 1 4 1 0.2 1 -0.9 1 3.3 1 -0.1 1 0.3 1 2.9 1 1.5 1 0.4 1 3.1 1 3.5 1 3.9 1 2.5 1 7.2 1 0.3 1 5 1 6.2 1 -0.4 1 1.6 1 0.4 1 8.6 1 2.2 1 0.6 1 -3.4 1 -2.9 1 -3.5 1 -2.5 1 -0.8 1 2.3 1 1 1 1.1 1 2.7 1 1.1 1 -0.5 1 -1.9 1 -1.9 1 -1.8 1 -1.5 1 1.8 1 -2.7 1 1 1 5.4 1 -0.5 1 -3.7 1 -1.7 1 -1 1 -3.5 1 0.6 1 -2.4 1 0.4 1 1.1 1 2.1 1 -2.2 1 -2.6 1 0.6 1 1.3 1 2 1 2.7 1 0.1 1 1.5 1 3.2 1 4.4 1 4.5 1 3.5 1 1.2 1 -3.3 1 4.8 1 2 1 0.9 1 -1.1 1 -7.1 1 1.3 1 -0.9 1 -3.6 1 -6.3 1 -4.2 1 -0.8 1 -17.5 1 -25.2 1 -9.3 1 0.2 1 -1 1 4.8 1 -0.2 1 0.2 1 0.1 1 0.5 1 -0.1 1 0.9 1 1.4 1 -1.5 1 -2 1 -2.4 1 0.3 1 1.3 1 -3.2 1 1.7 1 0.7 1 2.1 1 4.7 1 -3.1 1 -5.1 1 -3.6 1 -2.4 1 -4.5 1 -2 1 -0.4 1 -0.1 1 -2.2 1 -3.6 1 -1.3 1 0.8 1 -0.6 1 1.4 1 1 1 0.9 1 6.4 1 0.9 1 -1.1 1 1.9 1 1.8 1 4.9 1 1.6 1 3.6 1 -0.3 1 3 1 -0.4 1 2.3 1 3.5 1 2.9 1 -7.8 1 0.2 1 -1.8 1 -5.4 1 -1.1 1 -1.6 1 0.7 1 -1 1 0.4 1 -4.8 1 -1.7 1 -3.1 1 -2 1 0.4 1 -4.8 1 -1 1 -1.8 1 -3.2 1 1.6 1 -1.6 1 0.4 1 -0.7 1 -0.8 1 4.5 1 -0.8 1 2.4 1 -1.5 1 -6.9 1 0.7 1 3.5 1 2.9 1 -2 1 0.3 1 0.4 1 -1.1 1 2.1 1 2.4 1 -0.8 1 -0.7 1 -0.5 1 -2.7 1 0.5 1 1 1 -1.6 1 0.7 1 -0.9 1 -1 1 -6.6 1 -2.4 1 -4.1 1 4.9 1 8.4 1 5.9 1 -0.8 1 0 1 0.3 1 -3.2 1 -0.2 1 0 1 1.2 1 1.9 1 5.9 1 0.5 1 8 1 5.7 1 -1.4 1 -3.4 1 4.5 1 -3.8 1 0.6 1 4.4 1 -2.2 1 0.6 1 -0.3 1 -2.9 1 -2.9 1 -2 1 -5.6 1 0.4 1 -2.7 1 -4.3 1 -1.4 1 -1 1 2.2 1 0.8 1 1 1 2.6 1 0.8 1 2.3 1 3.7 1 2 1 0.7 1 -0.4 1 0.9 1 1.1 1 -1.3 1 1 1 1 1 4.3 1 10.5 1 -4.3 1 0.4 1 -1.4 1 2.9 1 -4.8 1 -0.1 1 -0.2 1 1.9 1 1.1 1 -6.5 1 -0.4 1 -7 1 -3 1 -7.7 1 -7.3 1 0.9 1 1 1 1.4 1 -2.7 1 0.2 1 2.7 1 -4.5 1 3.1 1 2.2 1 -0.1 1 -3 1 -5.6 1 -5 1 3.6 1 -0.7 1 2.7 1 3.5 1 -1.5 1 -3.7 1 -0.9 1 -3.2 1 1.4 1 1.2 1 -2 1 -2.5 1 -1 1 -0.2 1 -3.1 1 -2.4 1 1.5 1 -0.8 1 -1.7 1 1.7 1 4.1 1 1.1 1 2.8 1 1.8 1 2.9 1 3.9 1 0.5 1 4.2 1 -0.8 1 0.6 1 0.8 1 0.3 1 0 1 0.1 1 -0.2 1 -1.3 1 -2 1 -5.1 1 -1.1 1 -3.4 1 0.4 1 -3.5 1 0.1 1 -1.8 1 1.8 1 -1.2 1 0.9 1 2.3 1 2.4 1 -1.4 1 -5.1 1 -1.8 1 -0.4 1 1.5 1 -0.6 1 1.4 1 -3.7 1 6.1 1 7 1 9.7 1 0.3 1 1.1 1 0.1 1 -1.5 1 2.2 1 -1.6 1 3.5 1 2.2 1 -3 1 -1.2 1 -1.6 1 -1.5 1 -2.5 1 6.8 1 1.5 1 0.1 1 1.7 1 1.4 1 5.6 1 -1.3 1 -4.3 1 -0.8 1 -2.8 1 1.9 1 -2.6 1 -1.2 1 -0.4 1 2.1 1 0.1 1 1.1 1 -0.7 1 -0.6 1 2.6 1 3.3 1 -0.1 1 1.1 1 -2.2 1 -0.6 1 1.1 1 3.6 1 -0.2 1 0.7 1 -1.9 1 -0.1 1 1.2 1 -1.7 1 -3.4 1 1.1 1 4.5 1 3.6 1 -2.8 1 -1.3 1 0.3 1 1.1 1 -0.7 1 -1.5 1 -3.3 1 1.1 1 -1.3 1 6.4 1 1 1 0.4 1 3.8 1 1 1 3.1 1 3.9" fill="none" stroke="#5B9BD5" stroke-width="3.90" stroke-linejoin="round" stroke-linecap="round"/><path d="M89.2 819.6 l1 0.6 1 0.9 1 -6 1 6.2 1 -2.7 1 1.5 1 0.6 1 2.7 1 -4.2 1 0.4 1 1.3 1 1.1 1 1 1 -0.6 1 3.1 1 3.6 1 0.4 1 1.6 1 6.2 1 -1.3 1 -14.9 1 -9.4 1 1.5 1 0.6 1 1.2 1 2.2 1 0.1 1 0 1 -0.5 1 -1.4 1 0.4 1 -2 1 -0.3 1 -3.3 1 -0.8 1 -2.1 1 -1.6 1 -3.6 1 -3 1 -1 1 -1.3 1 -1.8 1 2.3 1 -0.3 1 -1.3 1 -0.4 1 -2.2 1 -5.5 1 -3.5 1 2 1 1.8 1 3.1 1 -0.2 1 -1.7 1 -1.9 1 -2.3 1 1.1 1 4.7 1 5.3 1 7.6 1 2.1 1 -3.5 1 5.5 1 -3.5 1 -8 1 3.2 1 2.8 1 7.2 1 -1.2 1 -1.4 1 2.6 1 2.9 1 0.6 1 -5.5 1 2.8 1 -2.2 1 0.1 1 -2.6 1 -1.6 1 -2.6 1 1 1 -2.3 1 4.2 1 0.5 1 1.9 1 -2.1 1 1.7 1 -3.1 1 2 1 -4.1 1 -7 1 -7.2 1 -4.2 1 -4.3 1 -3.4 1 -2.6 1 -4.6 1 -2.1 1 2.2 1 3.2 1 1.4 1 0 1 0.1 1 -1.3 1 4 1 6.2 1 -0.9 1 1 1 -0.3 1 -0.4 1 -3.4 1 0.2 1 0.4 1 2 1 3.7 1 2.6 1 0.8 1 1.9 1 5.2 1 2.2 1 4.6 1 5.1 1 0.3 1 1.5 1 -2.4 1 2.7 1 1.6 1 0.1 1 0.8 1 -0.8 1 -1.9 1 -3.9 1 -2.1 1 0.4 1 2.9 1 3.5 1 3.2 1 3.5 1 3.5 1 4.9 1 7.7 1 2.5 1 -5.9 1 -1.6 1 7.3 1 -0.4 1 -4.9 1 -4 1 0.8 1 0.5 1 -0.7 1 0 1 -3.4 1 0.1 1 -1.9 1 -2.4 1 -0.4 1 -3.3 1 1.6 1 0 1 5.1 1 0.4 1 -1 1 1.6 1 1.5 1 8.7 1 2.1 1 -3.5 1 10.6 1 -3.3 1 0.1 1 1.5 1 2 1 -0.6 1 4.2 1 0.3 1 -0.5 1 -3.1 1 0.9 1 -1.9 1 -4.4 1 -1.1 1 -2.6 1 -18.4 1 -21.7 1 -10.1 1 -4.2 1 -1.5 1 -0.7 1 2.6 1 -2 1 2.3 1 -0.3 1 2 1 0.7 1 0.9 1 2.7 1 -0.2 1 -4.8 1 -0.7 1 -2.6 1 2.6 1 1.2 1 0 1 0.9 1 4.2 1 -5.4 1 -2.3 1 -2.8 1 -1.8 1 -1.8 1 -3.9 1 0 1 -2.4 1 0.6 1 -1.9 1 1.6 1 -4.8 1 -0.2 1 2.4 1 1.2 1 1.4 1 1.2 1 3.5 1 -0.1 1 1.8 1 2.6 1 4.3 1 1.1 1 1.6 1 0 1 1.4 1 2.4 1 -0.7 1 3.6 1 -0.2 1 0.7 1 2.5 1 -2.5 1 -1.2 1 -0.7 1 0.4 1 -1.6 1 0.9 1 5.9 1 -3.5 1 -0.2 1 -1.6 1 -2.4 1 -3 1 -1.4 1 -3.3 1 0.2 1 1 1 -1.7 1 1.3 1 -4.2 1 0.5 1 0.3 1 1.4 1 -2.2 1 -1.7 1 -2.7 1 1.7 1 -1.5 1 1.6 1 0.1 1 -0.3 1 -1.3 1 -1.7 1 0.3 1 -3.7 1 -1.3 1 -2.4 1 3.2 1 -4.6 1 1.2 1 -1.9 1 0.9 1 1.4 1 3.3 1 -1.8 1 -4.7 1 0.5 1 -3 1 -4.6 1 3.3 1 12.3 1 5.1 1 -1.9 1 -1.2 1 -4.9 1 -0.4 1 0.5 1 -3.5 1 -1.9 1 3.7 1 2.8 1 4.9 1 0.7 1 4.2 1 -2.3 1 0.4 1 -2.2 1 -1.1 1 4 1 5 1 0.9 1 1.4 1 1.5 1 -0.8 1 0.7 1 1.3 1 -0.4 1 0.2 1 -2.1 1 2 1 0.6 1 1.5 1 -2.2 1 3.4 1 4.5 1 -1.6 1 2 1 0.5 1 2.3 1 -1.3 1 -1.3 1 -2.4 1 -1.1 1 -2.7 1 -2.6 1 4.8 1 -1.3 1 -0.3 1 1.5 1 1.7 1 2.7 1 2.5 1 2.5 1 -2.4 1 -1 1 1 1 1.4 1 -1.9 1 2.7 1 -0.8 1 -4.7 1 -3.8 1 -7.8 1 -6.6 1 -1.4 1 2.7 1 -2.2 1 1.6 1 0.4 1 3.8 1 6.3 1 2.5 1 -2.7 1 -11 1 -4.8 1 -4.4 1 -6.3 1 0.8 1 1.5 1 3.3 1 2 1 -1.3 1 -1.9 1 -2 1 -2.2 1 0.8 1 0.8 1 -7.4 1 -3.1 1 -2.3 1 1.8 1 -0.6 1 0.5 1 0.3 1 0.1 1 -2.5 1 6.2 1 5.5 1 -0.7 1 1.3 1 -0.6 1 1.1 1 0.1 1 2.5 1 -2.8 1 1.4 1 0.8 1 -0.9 1 -2.1 1 -4.4 1 1.1 1 -0.9 1 -1.3 1 -0.1 1 -2.2 1 -1.1 1 -3.8 1 0.6 1 -4.6 1 -1.8 1 1.7 1 4.4 1 3.6 1 -4.9 1 -1.4 1 -3.5 1 0.3 1 -2.1 1 0 1 -0.1 1 0.2 1 3.4 1 -2.1 1 1.1 1 4.7 1 7.6 1 5.3 1 -3 1 0.4 1 2.7 1 3.5 1 4.5 1 0.6 1 2.9 1 -1.5 1 4 1 0.7 1 0.9 1 1.5 1 1.7 1 2 1 0.4 1 -4.6 1 2.8 1 2 1 9.4 1 -0.1 1 -4.6 1 -2 1 -1.7 1 -3.7 1 -0.9 1 -1 1 -1.3 1 -1.1 1 1.7 1 -4.6 1 -2.4 1 -0.3 1 -0.8 1 -2.4 1 -4 1 3 1 0.2 1 1.7 1 1.8 1 0.8 1 2.9 1 -0.2 1 2.3 1 -3 1 0.5 1 -0.6 1 1.1 1 -1.8 1 1.6 1 2.8 1 3.2 1 2.2 1 3.4 1 -3 1 -4.7 1 1.8 1 -1.1 1 -1.3 1 -3.9 1 6.5 1 6.3 1 5.4 1 4.7 1 0.8 1 0.6 1 0" fill="none" stroke="#70AD47" stroke-width="3.90" stroke-linejoin="round" stroke-linecap="round"/><path d="M89.2 809.9 l1 2.2 1 1.2 1 1.1 1 0.5 1 1.3 1 -0.4 1 1.2 1 1.3 1 -1.7 1 -5.6 1 -0.1 1 0.9 1 1.1 1 1.3 1 0.4 1 2.9 1 2.5 1 2.5 1 -1.3 1 -0.4 1 -9.9 1 -4.7 1 1 1 -1.7 1 1.8 1 5.5 1 -1.8 1 -2.2 1 -5 1 -2 1 -1.8 1 0.1 1 -2.8 1 1.2 1 -1.7 1 -2.2 1 -1.5 1 -0.5 1 -2.7 1 -1.7 1 -1.7 1 -0.6 1 -1.8 1 1.2 1 0 1 0.2 1 -2.8 1 -1 1 -4.8 1 -3.7 1 1.9 1 4.3 1 0.6 1 0.2 1 0.4 1 0.9 1 0.2 1 4.1 1 6.6 1 6.1 1 1.3 1 -2.4 1 -1.3 1 -4.7 1 -0.3 1 2.9 1 0.2 1 3.3 1 4.5 1 -5.6 1 3.9 1 2.8 1 -3.4 1 -0.5 1 0.7 1 0.7 1 1.2 1 0 1 -1.4 1 -1.5 1 2.2 1 -0.5 1 -0.1 1 1.8 1 3.6 1 -1.7 1 0.7 1 -0.7 1 -3.6 1 -2 1 -6.8 1 -4.2 1 -6 1 -5.4 1 -2.7 1 -1.2 1 -2.2 1 -4.3 1 4.2 1 2.8 1 1.8 1 1.8 1 2.2 1 -0.4 1 7.2 1 5.8 1 2 1 1.9 1 -0.1 1 -1.2 1 -0.1 1 5.2 1 1.2 1 2.4 1 3.4 1 5.8 1 1.6 1 3.5 1 -3.6 1 3.6 1 13.3 1 3.9 1 -0.5 1 6.5 1 3.1 1 0.7 1 -0.8 1 2.6 1 3.8 1 -0.4 1 -2.6 1 0.2 1 -0.1 1 0.1 1 1.6 1 -2 1 0.9 1 2.8 1 0.4 1 -2.3 1 -1.8 1 0.7 1 -1.6 1 -4.3 1 1.1 1 -1.4 1 1.8 1 -2.7 1 -0.6 1 0.2 1 -0.1 1 -2.4 1 -2.9 1 -0.6 1 -2.4 1 0.1 1 0.4 1 -3.2 1 2.2 1 1 1 -0.2 1 1.8 1 3.3 1 2.2 1 -4.7 1 -1.8 1 4 1 2.7 1 6.2 1 3.8 1 1.8 1 1.2 1 2 1 0.3 1 3.2 1 -2.2 1 2.5 1 -1 1 -2.2 1 -0.5 1 -6.7 1 -2.7 1 -3.1 1 -18.7 1 -24.4 1 -7.4 1 -2.1 1 3.5 1 2.7 1 3.5 1 2.4 1 -1.5 1 -3.8 1 1.3 1 -0.7 1 0.2 1 1 1 -2.4 1 -0.7 1 1.4 1 -3.6 1 1.1 1 1.6 1 0 1 1.8 1 2 1 -1.5 1 -2.8 1 -4.4 1 -3.1 1 -2 1 -4.3 1 1.9 1 -2.1 1 -0.5 1 -1.2 1 -2.8 1 -0.9 1 -2.4 1 2.5 1 2 1 2.6 1 2.1 1 0.1 1 1.9 1 3.2 1 0.8 1 3.8 1 -0.5 1 2.5 1 1.9 1 -0.1 1 0.6 1 1.9 1 1.9 1 1.2 1 13.4 1 0 1 1.3 1 -10.1 1 0.5 1 -1.9 1 1.8 1 2.7 1 -1.9 1 -2.6 1 -2.7 1 -3.4 1 -2.9 1 -1.9 1 -0.2 1 -1.3 1 4.2 1 0.1 1 -7.6 1 -4.7 1 0.5 1 1.3 1 -1.3 1 -3.4 1 -1.8 1 -0.4 1 -2.6 1 1.3 1 0.2 1 2.2 1 0.4 1 -0.2 1 -1.3 1 -2.5 1 -2.7 1 0 1 -0.9 1 -1 1 -0.5 1 0 1 0.4 1 -1.8 1 -1.7 1 -0.9 1 -3.4 1 2.2 1 0.9 1 -2.8 1 -1.5 1 0.7 1 3.3 1 10.6 1 5.8 1 1.7 1 3.1 1 0.4 1 -0.4 1 0.3 1 -1.7 1 -1.8 1 4.8 1 0.3 1 4.7 1 3.6 1 5.7 1 -2.6 1 -5.5 1 -2 1 0.2 1 1.9 1 4.3 1 0.4 1 3.8 1 0.2 1 3.9 1 0.2 1 -1.2 1 -2.3 1 0.4 1 -0.4 1 0 1 0.7 1 3 1 2.4 1 0.9 1 2.8 1 1.6 1 -0.4 1 2.1 1 2 1 -3.5 1 0.8 1 0.6 1 -2.3 1 -3 1 0.4 1 0.7 1 3.1 1 2.1 1 -0.2 1 2.3 1 4.8 1 -1.5 1 5.5 1 0.6 1 -1.3 1 -2.7 1 -0.5 1 0.1 1 -1.3 1 -5.4 1 -5.4 1 -9.7 1 -5.3 1 -9.2 1 -1.9 1 0.9 1 1.2 1 -2.3 1 3.5 1 -2.4 1 4.2 1 -0.7 1 -1.8 1 -5.1 1 -5.8 1 -1.2 1 -4.4 1 -1.1 1 -0.4 1 0.8 1 -0.8 1 -1.7 1 -3.2 1 4.2 1 -9.6 1 -1.4 1 -0.6 1 4.5 1 4.2 1 -2.1 1 1.8 1 -3.3 1 -1.6 1 -5.5 1 0.4 1 0.4 1 3.6 1 5.3 1 3.4 1 4.5 1 2.3 1 1.8 1 1.6 1 2.1 1 1.3 1 -1.3 1 -0.9 1 0.1 1 -2.7 1 -1.3 1 -2.7 1 -1.6 1 0.2 1 -2.8 1 -3.3 1 -2.1 1 -3.2 1 -1.6 1 -3.6 1 -2.8 1 -5.1 1 1.1 1 0.4 1 -0.6 1 -2.2 1 0 1 -0.4 1 1.6 1 -0.5 1 -2.5 1 0.8 1 3 1 1.5 1 3.4 1 2.7 1 8.5 1 7.9 1 1.8 1 4.8 1 -0.4 1 1.7 1 -5.5 1 7.3 1 -0.7 1 4.5 1 -3.2 1 -1.2 1 -3.9 1 -3.7 1 1.5 1 4.4 1 -1.9 1 2.7 1 -1.2 1 3 1 -1 1 -0.7 1 -0.8 1 -0.8 1 -2.7 1 -2.4 1 -2.8 1 -1.8 1 0.7 1 -2.8 1 -1.1 1 -1.8 1 1.2 1 -2.2 1 0.5 1 1.6 1 3 1 1.7 1 2.3 1 3.1 1 5 1 -1.6 1 1.7 1 0 1 -0.5 1 1.2 1 -0.5 1 0 1 0.7 1 4 1 2.5 1 4.3 1 1.1 1 -1.3 1 -0.7 1 -2.5 1 -1.6 1 -3 1 -2.4 1 -0.6 1 -3.3 1 5 1 7.4 1 6.3 1 3 1 5.6 1 1.2 1 0" fill="none" stroke="#264478" stroke-width="3.90" stroke-linejoin="round" stroke-linecap="round"/><line x1="90.3" y1="940.9" x2="122.8" y2="940.9" stroke="#4472C4" stroke-width="3.3" stroke-linecap="round"/><text x="126.1" y="944.5" font-size="11.4" textLength="61.5" lengthAdjust="spacingAndGlyphs">BTC-NIFTY</text><line x1="198.0" y1="940.9" x2="230.5" y2="940.9" stroke="#ED7D31" stroke-width="3.3" stroke-linecap="round"/><text x="233.8" y="944.5" font-size="11.4" textLength="61.5" lengthAdjust="spacingAndGlyphs">ETH-NIFTY</text><line x1="305.3" y1="940.9" x2="337.8" y2="940.9" stroke="#A5A5A5" stroke-width="3.3" stroke-linecap="round"/><text x="341.1" y="944.5" font-size="11.4" textLength="62.1" lengthAdjust="spacingAndGlyphs">BNB-NIFTY</text><line x1="412.6" y1="940.9" x2="445.1" y2="940.9" stroke="#FFC000" stroke-width="3.3" stroke-linecap="round"/><text x="448.4" y="944.5" font-size="11.4" textLength="62.1" lengthAdjust="spacingAndGlyphs">XRP-NIFTY</text><line x1="90.3" y1="965.7" x2="122.8" y2="965.7" stroke="#5B9BD5" stroke-width="3.3" stroke-linecap="round"/><text x="126.1" y="969.3" font-size="11.4" textLength="62.1" lengthAdjust="spacingAndGlyphs">ADA-NIFTY</text><line x1="198.0" y1="965.7" x2="230.5" y2="965.7" stroke="#70AD47" stroke-width="3.3" stroke-linecap="round"/><text x="233.8" y="969.3" font-size="11.4" textLength="59.3" lengthAdjust="spacingAndGlyphs">LTC-NIFTY</text><line x1="305.3" y1="965.7" x2="337.8" y2="965.7" stroke="#264478" stroke-width="3.3" stroke-linecap="round"/><text x="341.1" y="969.3" font-size="11.4" textLength="64.1" lengthAdjust="spacingAndGlyphs">XMR-NIFTY</text></g>
<g><rect x="602.4" y="659.5" width="593.6" height="323.5" fill="#fff" stroke="#e3e3e3" stroke-width="1.2"/><text x="740.7" y="686.4" font-size="17.0" textLength="315.7" lengthAdjust="spacingAndGlyphs">Asset-backed cryptocurrencies vs NIFTY</text><line x1="687.9" y1="709.8" x2="1177.0" y2="709.8" stroke="#d9d9d9" stroke-width="1"/><text x="673.1" y="714.4" font-size="12.8" text-anchor="end" textLength="56.8" lengthAdjust="spacingAndGlyphs">0.250000</text><line x1="687.9" y1="727.9" x2="1177.0" y2="727.9" stroke="#d9d9d9" stroke-width="1"/><text x="673.1" y="732.5" font-size="12.8" text-anchor="end" textLength="56.8" lengthAdjust="spacingAndGlyphs">0.200000</text><line x1="687.9" y1="746.1" x2="1177.0" y2="746.1" stroke="#d9d9d9" stroke-width="1"/><text x="673.1" y="750.7" font-size="12.8" text-anchor="end" textLength="56.8" lengthAdjust="spacingAndGlyphs">0.150000</text><line x1="687.9" y1="764.2" x2="1177.0" y2="764.2" stroke="#d9d9d9" stroke-width="1"/><text x="673.1" y="768.8" font-size="12.8" text-anchor="end" textLength="56.8" lengthAdjust="spacingAndGlyphs">0.100000</text><line x1="687.9" y1="782.3" x2="1177.0" y2="782.3" stroke="#d9d9d9" stroke-width="1"/><text x="673.1" y="786.9" font-size="12.8" text-anchor="end" textLength="56.8" lengthAdjust="spacingAndGlyphs">0.050000</text><line x1="687.9" y1="800.4" x2="1177.0" y2="800.4" stroke="#d9d9d9" stroke-width="1"/><text x="673.1" y="805.0" font-size="12.8" text-anchor="end" textLength="56.8" lengthAdjust="spacingAndGlyphs">0.000000</text><line x1="687.9" y1="818.6" x2="1177.0" y2="818.6" stroke="#d9d9d9" stroke-width="1"/><text x="673.1" y="823.2" font-size="12.8" text-anchor="end" textLength="61.3" lengthAdjust="spacingAndGlyphs">-0.050000</text><line x1="687.9" y1="836.7" x2="1177.0" y2="836.7" stroke="#d9d9d9" stroke-width="1"/><text x="673.1" y="841.3" font-size="12.8" text-anchor="end" textLength="61.3" lengthAdjust="spacingAndGlyphs">-0.100000</text><line x1="687.9" y1="854.8" x2="1177.0" y2="854.8" stroke="#d9d9d9" stroke-width="1"/><text x="673.1" y="859.4" font-size="12.8" text-anchor="end" textLength="61.3" lengthAdjust="spacingAndGlyphs">-0.150000</text><line x1="687.9" y1="872.9" x2="1177.0" y2="872.9" stroke="#d9d9d9" stroke-width="1"/><text x="673.1" y="877.6" font-size="12.8" text-anchor="end" textLength="61.3" lengthAdjust="spacingAndGlyphs">-0.200000</text><line x1="687.9" y1="891.1" x2="1177.0" y2="891.1" stroke="#d9d9d9" stroke-width="1"/><text x="673.1" y="895.7" font-size="12.8" text-anchor="end" textLength="61.3" lengthAdjust="spacingAndGlyphs">-0.250000</text><line x1="687.9" y1="909.2" x2="1177.0" y2="909.2" stroke="#d9d9d9" stroke-width="1"/><text x="673.1" y="913.8" font-size="12.8" text-anchor="end" textLength="61.3" lengthAdjust="spacingAndGlyphs">-0.300000</text><line x1="687.5" y1="800.4" x2="687.5" y2="804.4" stroke="#d9d9d9" stroke-width="1"/><line x1="783.3" y1="800.4" x2="783.3" y2="804.4" stroke="#d9d9d9" stroke-width="1"/><line x1="879.0" y1="800.4" x2="879.0" y2="804.4" stroke="#d9d9d9" stroke-width="1"/><line x1="974.8" y1="800.4" x2="974.8" y2="804.4" stroke="#d9d9d9" stroke-width="1"/><line x1="1070.5" y1="800.4" x2="1070.5" y2="804.4" stroke="#d9d9d9" stroke-width="1"/><line x1="1166.3" y1="800.4" x2="1166.3" y2="804.4" stroke="#d9d9d9" stroke-width="1"/><text x="687.5" y="821.5" font-size="12.8" text-anchor="middle" textLength="52.5" lengthAdjust="spacingAndGlyphs">6-Apr-18</text><text x="783.3" y="821.5" font-size="12.8" text-anchor="middle" textLength="52.5" lengthAdjust="spacingAndGlyphs">6-Apr-19</text><text x="879.0" y="821.5" font-size="12.8" text-anchor="middle" textLength="52.5" lengthAdjust="spacingAndGlyphs">6-Apr-20</text><text x="974.8" y="821.5" font-size="12.8" text-anchor="middle" textLength="52.5" lengthAdjust="spacingAndGlyphs">6-Apr-21</text><text x="1070.5" y="821.5" font-size="12.8" text-anchor="middle" textLength="52.5" lengthAdjust="spacingAndGlyphs">6-Apr-22</text><text x="1166.3" y="821.5" font-size="12.8" text-anchor="middle" textLength="52.5" lengthAdjust="spacingAndGlyphs">6-Apr-23</text><path d="M689.2 802.1 l1 -3.8 1 1.5 1 -0.6 1 -3.9 1 2.1 1 6.7 1 -1.8 1 0.2 1 1.3 1 1.4 1 -1.1 1 1.9 1 0.6 1 2.2 1 0.3 1 1.6 1 -3.1 1 -0.3 1 -2.1 1 0.2 1 -2.2 1 -2.1 1 -2.2 1 2.2 1 -0.6 1 2.8 1 -2.6 1 -0.6 1 3.5 1 -2.2 1 1.3 1 -1.2 1 -1.2 1 1.3 1 -2.9 1 3.6 1 -2.1 1 -0.5 1 -0.8 1 2.5 1 3.7 1 3.9 1 0.7 1 0.8 1 3.4 1 1.2 1 1.3 1 2.8 1 -0.3 1 0.6 1 -2.8 1 -0.4 1 -1 1 0.2 1 -1.3 1 0.9 1 -4 1 -1.8 1 2.5 1 2.3 1 3.4 1 2.6 1 1.6 1 -2.1 1 0.6 1 2 1 1.5 1 2.2 1 -0.8 1 1.7 1 1.2 1 5.8 1 -2.9 1 2 1 1.9 1 2.7 1 -1 1 1.5 1 1.3 1 2.8 1 0.3 1 -1.1 1 1.3 1 0.2 1 0.9 1 0.8 1 0.5 1 0.8 1 -2.3 1 -0.2 1 -2.2 1 1.4 1 -0.2 1 4.4 1 -0.3 1 -2 1 1.8 1 -1.6 1 1.1 1 -0.5 1 2.3 1 -1.4 1 0 1 -1.8 1 -1.1 1 -0.2 1 -1.4 1 1.8 1 -3.2 1 2.1 1 2.5 1 -3.1 1 1.6 1 3.5 1 -1.3 1 1.8 1 -1.8 1 0.2 1 0.9 1 3 1 0 1 1.8 1 -0.7 1 3 1 1 1 2 1 0.2 1 1.7 1 0.3 1 -0.7 1 0.6 1 1.5 1 4 1 2.2 1 -2.9 1 0.4 1 -0.9 1 -1.2 1 1.2 1 2.8 1 1.2 1 1.8 1 -1.4 1 -3.6 1 0.2 1 -4.5 1 -1.1 1 -2.8 1 -1 1 3.9 1 -6.2 1 2.6 1 0.7 1 0.6 1 1.5 1 -1.8 1 -4.1 1 0.1 1 5.1 1 2.6 1 -0.2 1 3.4 1 -1.2 1 -6 1 -4.1 1 -2.7 1 -3.3 1 -2.8 1 1.4 1 -1.7 1 -1.6 1 -0.7 1 -2.3 1 -0.2 1 -2.1 1 -0.3 1 -3.2 1 -2.3 1 -1.3 1 -0.5 1 0.8 1 -1 1 5.1 1 -1.2 1 -6.6 1 1.5 1 0.7 1 -1.6 1 -1.1 1 4.2 1 -1 1 -0.2 1 -4.5 1 2.8 1 -0.5 1 0 1 0.6 1 -2.8 1 0 1 -0.6 1 1.1 1 0.6 1 -1.2 1 -6 1 -1.8 1 -0.5 1 -0.5 1 -0.5 1 -2.3 1 -1.4 1 -2.6 1 -3.1 1 2.7 1 -0.9 1 0.1 1 1.8 1 -6.1 1 4 1 4.1 1 -1.9 1 0.9 1 -0.7 1 1.4 1 4.1 1 -2.5 1 -2.3 1 0 1 -0.4 1 1.1 1 -3.9 1 0 1 -1.6 1 2.8 1 -0.3 1 1.9 1 -4 1 0.2 1 1.1 1 2 1 -4.4 1 -1.6 1 2.5 1 1.5 1 -0.5 1 -0.8 1 0.5 1 -0.8 1 2.6 1 -1.3 1 2 1 0.8 1 -2.2 1 -2.7 1 0.4 1 -2.4 1 -2.8 1 -0.3 1 -0.2 1 -1.6 1 2 1 0.1 1 -2.6 1 1.9 1 1.9 1 0.3 1 -2 1 -3.4 1 2.3 1 -2.5 1 -0.4 1 -2.7 1 -0.3 1 0.5 1 -3.9 1 -1 1 -0.6 1 0.3 1 -2 1 1.3 1 -1.7 1 0.8 1 -0.3 1 -3 1 -4.1 1 -2.7 1 -4.5 1 -2.5 1 3.3 1 2.4 1 -0.3 1 1.9 1 1.3 1 3.3 1 1 1 0.6 1 -1.2 1 1.9 1 -0.1 1 -4.1 1 -0.1 1 2.5 1 2.4 1 2.6 1 2.3 1 0.5 1 -2.6 1 0.9 1 0.5 1 -1.5 1 -0.6 1 -0.2 1 -0.3 1 0.9 1 2.8 1 2.6 1 1.1 1 0.6 1 -3.6 1 0.8 1 2.4 1 4.4 1 -1.3 1 1.8 1 -0.2 1 -1.5 1 1 1 -0.6 1 -0.4 1 -2.8 1 -0.7 1 1.9 1 -3.7 1 1.4 1 1.4 1 -2.7 1 2.4 1 1.6 1 -0.2 1 1.5 1 1.7 1 0.1 1 -5.9 1 4.7 1 3 1 4 1 1.7 1 2.8 1 -2.9 1 -3.8 1 -0.7 1 -2.2 1 -0.6 1 -0.1 1 -0.4 1 0.1 1 1.3 1 -1 1 2.6 1 0.5 1 -2.1 1 0.2 1 2.6 1 2.5 1 1 1 -5.3 1 1.8 1 3.5 1 -4.2 1 1.2 1 0.1 1 -1.4 1 2.2 1 -3.6 1 3.8 1 0.5 1 0 1 4 1 -0.7 1 2.2 1 -0.1 1 0.4 1 -1.1 1 2.3 1 -0.7 1 -1 1 -0.6 1 1.7 1 -1.1 1 0.1 1 0 1 2 1 -0.4 1 -3.9 1 -2 1 -3.3 1 -3.2 1 -3 1 -5.3 1 -5.5 1 -2.2 1 -2.3 1 -2.6 1 -1.7 1 2.1 1 1.5 1 -0.1 1 -0.9 1 0.2 1 3.2 1 -0.7 1 -0.4 1 0.2 1 -2.2 1 1.1 1 2.2 1 -1.6 1 2.2 1 -2.8 1 -1.6 1 -2.5 1 -1.3 1 1.4 1 2.2 1 -0.5 1 0.2 1 -1.9 1 -1.6 1 -1 1 2.6 1 -1.4 1 -1.7 1 -0.1 1 0.2 1 2.6 1 1.1 1 -2.7 1 -0.5 1 1.7 1 0.2 1 1.1 1 0.5 1 -0.5 1 0.1 1 1.9 1 -0.7 1 2 1 3.2 1 0.5 1 -0.8 1 -3.1 1 6.8 1 -2.8 1 1 1 -7.4 1 2.7 1 1.4 1 7.9 1 3.3 1 -2 1 0.1 1 -1 1 -1.2 1 1.8 1 1 1 2.2 1 0.5 1 2.3 1 -2.2 1 0.7 1 7.1 1 3.4 1 2.3 1 -3.1 1 2.2 1 2.7 1 -1.3 1 5.5 1 -0.7 1 -0.8 1 1.8 1 1 1 -2.3 1 3.1 1 0 1 -1.9 1 3 1 -0.9" fill="none" stroke="#4472C4" stroke-width="3.90" stroke-linejoin="round" stroke-linecap="round"/><path d="M689.2 798.6 l1 1.3 1 2.7 1 4.6 1 4.1 1 1.7 1 1.5 1 3.1 1 2.8 1 0.4 1 6.6 1 2.5 1 4.2 1 -1.6 1 -1 1 3.9 1 3.7 1 6.4 1 -0.7 1 -2.8 1 2.6 1 3.3 1 3.1 1 0.3 1 -1.6 1 0.2 1 -0.4 1 -4.6 1 2.2 1 -3.8 1 -2.6 1 -0.9 1 -1.3 1 -3.7 1 1.1 1 -2.1 1 -1.6 1 -1.5 1 -2.4 1 -1.8 1 -1.3 1 -2.4 1 0 1 -1.3 1 -1.5 1 -2 1 1.9 1 -0.5 1 -0.5 1 -2.1 1 1 1 0.7 1 1.4 1 0.4 1 -2.5 1 4 1 4.1 1 0 1 1.3 1 -2.1 1 -4.6 1 -1.9 1 0.8 1 -3 1 -0.9 1 -0.7 1 0.1 1 0.3 1 0.4 1 -5.3 1 1 1 -0.2 1 5.6 1 -0.7 1 -0.7 1 2.3 1 -3.8 1 1 1 3.7 1 0.3 1 0.6 1 2.2 1 1.6 1 -1.2 1 -1.4 1 -1.4 1 1.3 1 -3.8 1 -2.1 1 -0.9 1 4.8 1 0.4 1 6.8 1 3.8 1 1.1 1 0.3 1 1.1 1 1.3 1 4.3 1 3.7 1 2.9 1 -1.4 1 4.1 1 -6.6 1 0 1 -0.6 1 -1.6 1 2.2 1 -2.4 1 0.3 1 -1.3 1 0.8 1 2.1 1 -0.7 1 -1.6 1 -0.8 1 -4.6 1 0.4 1 -1.1 1 1.3 1 1.1 1 -3.8 1 0.2 1 -4.4 1 0.2 1 -1.7 1 -2.8 1 -1.9 1 -0.4 1 -1.7 1 -2.3 1 0.6 1 -6.1 1 -6.2 1 -4.9 1 -3.2 1 -1.3 1 -5.5 1 0.6 1 1.3 1 4.1 1 -0.8 1 0.8 1 -5.3 1 7.5 1 0 1 -2.1 1 -6.2 1 8.4 1 0.3 1 1.2 1 0.2 1 -0.1 1 4.1 1 1.4 1 -0.7 1 2.1 1 2.3 1 -0.8 1 2.3 1 -0.8 1 -1.2 1 -3.6 1 0.7 1 1.3 1 -0.1 1 -3.5 1 -1.3 1 -0.2 1 2.3 1 0.4 1 2.7 1 -2.3 1 -0.5 1 0.6 1 -0.1 1 2.8 1 -5.5 1 1.5 1 7 1 3.9 1 9.6 1 4.4 1 6.1 1 6.3 1 5.9 1 1.6 1 4.2 1 1.4 1 -6 1 0 1 0.1 1 2.5 1 0.2 1 -0.7 1 4.7 1 0.4 1 -0.9 1 -1.3 1 -0.9 1 -3.4 1 -2.5 1 -3.3 1 -1.8 1 -0.2 1 0.4 1 1.1 1 1.5 1 -0.8 1 0.2 1 -1.9 1 1.3 1 -3 1 1.7 1 -0.4 1 8 1 -7.7 1 -3.5 1 -3.5 1 -3.9 1 -4.7 1 -1.1 1 -0.8 1 -0.8 1 -1.6 1 -1.2 1 0.5 1 -0.2 1 0.8 1 -3.6 1 -0.5 1 0 1 0.8 1 -1.2 1 1.1 1 2.9 1 3.2 1 -1.2 1 0.4 1 2.2 1 -8.2 1 -7.3 1 -0.9 1 -1.6 1 1 1 -3.4 1 -1.5 1 -1.6 1 1.1 1 0.2 1 -0.7 1 -1.5 1 0.7 1 -2.2 1 -2.2 1 0.7 1 0.2 1 2.4 1 -3.5 1 2.4 1 2.4 1 1.2 1 2.3 1 2.6 1 1 1 -2.9 1 3.8 1 -0.2 1 -5.1 1 -1 1 -1.4 1 2.9 1 -0.6 1 0.2 1 0 1 -4 1 0.7 1 -1.5 1 0 1 -3.5 1 -1.5 1 4.2 1 4.5 1 -3.3 1 1 1 -1.3 1 -3.7 1 0.6 1 0.9 1 -2.5 1 1.7 1 -2.7 1 1.7 1 -1.6 1 0.5 1 -2.7 1 2.3 1 1.4 1 2.6 1 -1 1 -1.4 1 3.4 1 0.3 1 2 1 -1.3 1 1 1 1.9 1 -0.6 1 -1 1 -0.1 1 -2.6 1 -0.3 1 1.8 1 2.3 1 0.7 1 2.2 1 -9.4 1 11.3 1 0.4 1 0.5 1 -0.9 1 -0.8 1 2.5 1 -1.7 1 1.1 1 -1.3 1 -2.2 1 1.5 1 -0.2 1 -6 1 2.2 1 2.9 1 -1.6 1 -0.8 1 -0.8 1 1.7 1 2.9 1 -1.1 1 -1.5 1 1.4 1 2.1 1 0.2 1 2.1 1 -1.8 1 0.2 1 -0.6 1 0 1 5 1 -0.9 1 -2.4 1 0.2 1 1.8 1 0 1 -2.9 1 -0.2 1 2.8 1 -4.9 1 -1.3 1 0.4 1 4.7 1 -1.4 1 -5.9 1 0.5 1 -2.4 1 0 1 -2.1 1 -3.2 1 2.4 1 -0.4 1 -1.7 1 2.7 1 -2.1 1 3.8 1 0.8 1 -1.7 1 0.1 1 -2 1 1.5 1 -0.2 1 1.5 1 2.6 1 0 1 -1.6 1 0.6 1 -4.3 1 1.8 1 -1.6 1 0 1 -1 1 -3.7 1 5 1 -1.8 1 0.5 1 2.9 1 4.7 1 -2.8 1 -1.4 1 -0.5 1 -2.5 1 -1.2 1 0 1 -0.3 1 3 1 -1.5 1 -0.7 1 -0.7 1 2 1 -0.3 1 0.9 1 -2.8 1 -1.2 1 -0.9 1 -1.8 1 0.6 1 -0.8 1 0.6 1 1 1 1.2 1 -1.2 1 -2.6 1 -3.7 1 -2.7 1 2.6 1 -2.1 1 -1.1 1 -5.2 1 1 1 -1.3 1 -0.6 1 -0.7 1 0.5 1 -3.9 1 0 1 -0.1 1 1.6 1 2.2 1 2.2 1 -6.3 1 -2.8 1 1.9 1 -2.1 1 0.5 1 -4.3 1 5.1 1 -0.3 1 1.8 1 -2.2 1 -1.4 1 0.9 1 0.2 1 1.9 1 1.1 1 -4.4 1 1.7 1 -0.3 1 -0.5 1 -0.3 1 -0.1 1 0.3 1 -1.1 1 -2.7 1 -0.4 1 -0.2 1 3.2 1 -1.2 1 1.2 1 -1.9 1 3.4 1 -3.5 1 1.5 1 -6.7 1 -1.9 1 5.4 1 -0.8 1 0.6 1 -1.8 1 -0.4 1 3.2 1 0.2 1 1.1 1 -0.8 1 1.7 1 1 1 2.8 1 -0.9 1 0.2 1 -0.7 1 2.5" fill="none" stroke="#ED7D31" stroke-width="3.90" stroke-linejoin="round" stroke-linecap="round"/><path d="M689.2 800.1 l1 0.3 1 -0.1 1 -0.6 1 2.7 1 -2.1 1 3.6 1 -1 1 -2.7 1 4.1 1 -0.5 1 -1.6 1 -1.9 1 -0.7 1 0.6 1 4.2 1 2.6 1 -0.8 1 -1.3 1 1.8 1 -0.1 1 -1.8 1 2.5 1 -1.6 1 -1.4 1 6.4 1 -2.4 1 -5.1 1 -1.2 1 -3.9 1 -6.4 1 -3.2 1 -3.9 1 -3.8 1 -1.7 1 -5.1 1 -2.6 1 -1.2 1 2.4 1 1 1 1.9 1 0.4 1 -1 1 -7.1 1 3.1 1 0 1 5.8 1 -3.6 1 3.6 1 1.3 1 1 1 1 1 1.7 1 3 1 -3.4 1 -0.1 1 2.7 1 0.4 1 1.3 1 -0.8 1 1.3 1 1.6 1 -2.4 1 2.7 1 0.1 1 0.5 1 -1.1 1 1.4 1 2 1 1.2 1 2.2 1 -1.5 1 -0.8 1 1.2 1 1.1 1 1.7 1 -5.4 1 1.7 1 3.8 1 0.4 1 1 1 -2.1 1 -1 1 1.1 1 1.6 1 -1.9 1 -1 1 1.1 1 1.5 1 -1.6 1 0.6 1 1.2 1 0.2 1 2.5 1 4.9 1 -1.1 1 0.5 1 4.1 1 0.5 1 2.1 1 3.5 1 0 1 3.6 1 2.8 1 0 1 -0.8 1 3.2 1 -1.4 1 3.6 1 0.3 1 1.5 1 -2.3 1 5.5 1 2.4 1 0.8 1 5.8 1 -1 1 -8.4 1 1.7 1 0.5 1 -2.2 1 1.6 1 3.3 1 -2.7 1 2.9 1 1.5 1 -3.9 1 2.4 1 0.6 1 -1.5 1 0.4 1 0.4 1 -1 1 0 1 0.5 1 0.2 1 0.5 1 3.9 1 -0.5 1 -0.3 1 0.2 1 2.5 1 0.1 1 -7.5 1 5.1 1 -1.2 1 2.4 1 2.2 1 -3.8 1 -2 1 0 1 -2 1 -3.8 1 -1.4 1 0.9 1 -2.2 1 0.5 1 -1.4 1 -2.7 1 1.6 1 0.7 1 -0.3 1 0.9 1 -0.4 1 2.7 1 1.4 1 -6.6 1 -3.7 1 7.7 1 0.4 1 -1.5 1 1.4 1 0.1 1 -1.6 1 -2.9 1 -3.1 1 -0.1 1 0.7 1 -8.8 1 -9.3 1 -9.2 1 -11.1 1 -9.7 1 -9.5 1 -7.4 1 0.2 1 1.3 1 1.2 1 2.8 1 -2 1 1.1 1 -0.6 1 7.8 1 5.8 1 1.8 1 -1.2 1 2.5 1 -0.3 1 -2.1 1 3.8 1 -0.6 1 0.8 1 3.4 1 -2.3 1 2.4 1 2.7 1 2.3 1 1.3 1 1.3 1 0.5 1 2 1 0.8 1 -0.7 1 -0.8 1 -0.7 1 1.6 1 -0.5 1 0.1 1 2 1 0.5 1 2.7 1 2.5 1 -4.7 1 -0.4 1 -2.2 1 6.4 1 -0.1 1 -3.4 1 1.7 1 -1 1 0.1 1 0.6 1 0.4 1 1.9 1 0.3 1 -2.2 1 -2 1 0.9 1 0.1 1 -5.3 1 -0.5 1 -1.5 1 8.8 1 6 1 5.1 1 6.1 1 0.5 1 2 1 3.3 1 3.1 1 -0.8 1 -6.2 1 -1.2 1 -0.4 1 -1.6 1 -5.1 1 -2 1 -3.4 1 -0.1 1 -1.2 1 -3.8 1 -1.4 1 -0.8 1 0.9 1 1.9 1 0.9 1 -1.3 1 2.3 1 3.3 1 3.3 1 3.1 1 -2.5 1 -5.2 1 0.3 1 -1.4 1 -0.6 1 0.3 1 3.4 1 1 1 -1.8 1 -0.2 1 3.3 1 1.3 1 5.2 1 1.1 1 3.8 1 2.7 1 3.2 1 0.5 1 -0.3 1 1.7 1 3.7 1 3.9 1 -3.6 1 1.4 1 0.6 1 -1.9 1 0.9 1 1.4 1 2.3 1 0 1 0.5 1 0.9 1 -0.2 1 -3.9 1 0.3 1 6.8 1 6.7 1 -0.1 1 0.3 1 1.7 1 2.7 1 -1 1 1.3 1 -3.4 1 -1.4 1 -0.7 1 -0.5 1 2.7 1 -6.8 1 -3.3 1 -0.7 1 -1.8 1 0.4 1 -0.5 1 -2.4 1 -2.3 1 -0.2 1 -4.8 1 0.1 1 -2.6 1 -1.4 1 -1.1 1 0.9 1 6.3 1 -5.1 1 0.3 1 0.3 1 9.2 1 -5.4 1 2.6 1 3.5 1 1.6 1 1.7 1 -0.7 1 3.6 1 -1.6 1 0 1 1.4 1 -1.4 1 -1.8 1 1.4 1 -2.3 1 0 1 -1.7 1 -2.3 1 0.5 1 -3.6 1 0.3 1 -1 1 -0.8 1 0.9 1 -0.7 1 -4.9 1 -2.5 1 -0.9 1 -1.3 1 -1.8 1 -4.1 1 -6 1 -0.9 1 0.6 1 7.2 1 -1.9 1 -2.8 1 -1.8 1 -1.3 1 -2.2 1 -0.1 1 -0.2 1 -6.1 1 3 1 -2.5 1 -1.6 1 -0.7 1 1 1 -2.3 1 -3.1 1 1.5 1 -1.4 1 0.5 1 -3.2 1 -2.3 1 5.8 1 0.2 1 -2.6 1 -7.9 1 0.9 1 -0.9 1 -1.7 1 -3.4 1 -0.3 1 -0.5 1 -4.7 1 -3.8 1 -2.3 1 -0.6 1 -0.3 1 -1.6 1 -1 1 -1 1 0.2 1 -1.5 1 1.1 1 -2.5 1 0.6 1 -0.1 1 -1.5 1 4.9 1 -1.8 1 -0.1 1 -5.8 1 1.2 1 2.5 1 1.9 1 1 1 -1.2 1 0.4 1 0.5 1 -2.1 1 1.5 1 -4.6 1 -1.6 1 4.5 1 1.7 1 2.9 1 -0.5 1 1.8 1 2.9 1 -1 1 0.4 1 2.1 1 1.3 1 -3.7 1 0.2 1 4 1 -7.2 1 10.8 1 2.2 1 -0.9 1 -0.6 1 -0.1 1 0.4 1 -1.6 1 3 1 1.9 1 2 1 7.7 1 -2.1 1 4 1 0.8 1 2.4 1 1 1 0.2 1 2.1 1 2.7 1 4.8 1 2.9 1 3 1 1.5 1 2.2 1 -0.6 1 0.4 1 -1.7 1 1.4 1 -1.5 1 0.2 1 0.2 1 -0.5 1 -1.4 1 -1.2 1 -2.5 1 2.5 1 -3.7 1 -2.2 1 -4.1 1 -3.3 1 -6.2" fill="none" stroke="#A5A5A5" stroke-width="3.90" stroke-linejoin="round" stroke-linecap="round"/><path d="M689.2 798.7 l1 -0.2 1 -1.7 1 -1.9 1 -1 1 -1.5 1 -3.6 1 0.8 1 -2.2 1 -1.9 1 -3.2 1 1.1 1 -1 1 -2.1 1 3.7 1 2 1 2.3 1 0.7 1 4.3 1 3.4 1 4.7 1 0.6 1 2 1 -0.7 1 5.1 1 1.4 1 0.2 1 4.8 1 1.8 1 2.9 1 1.8 1 2.2 1 4.9 1 1.2 1 2.5 1 -0.8 1 2.5 1 6.4 1 0.5 1 -3.4 1 -1.8 1 -2.9 1 -3.6 1 -2.2 1 -4.9 1 3.5 1 0.3 1 0.1 1 2.6 1 -0.9 1 0.5 1 0.6 1 3 1 2.7 1 -1.9 1 -1.8 1 0.5 1 -0.9 1 1.1 1 0.9 1 0.5 1 -4.5 1 -0.5 1 3.1 1 -2.1 1 0.8 1 0.8 1 -0.1 1 -1.5 1 -1.3 1 -4.8 1 -0.6 1 -1.1 1 -3.9 1 -3.8 1 1 1 2.2 1 1.1 1 -3.9 1 -0.6 1 -1.2 1 1.6 1 1.8 1 -0.2 1 -0.7 1 -3.8 1 -1.9 1 -2 1 -0.6 1 -2 1 1.4 1 -5 1 -3.9 1 -4.1 1 0.1 1 -6.9 1 -2.8 1 -1.7 1 -2.9 1 0.8 1 3.4 1 6.9 1 6.8 1 1.2 1 1.7 1 0 1 4.4 1 2.1 1 1.8 1 2.3 1 0.4 1 -1.7 1 -4.4 1 2.5 1 -0.1 1 4.1 1 1 1 5.3 1 1.5 1 -0.2 1 -0.7 1 2.3 1 1.4 1 1.9 1 -0.1 1 -0.2 1 1 1 1.4 1 1.1 1 -0.9 1 1.1 1 -2 1 0.7 1 -2.1 1 -0.2 1 2.1 1 -1.6 1 -1 1 -2.5 1 -1.6 1 0 1 -2 1 -2.6 1 -4.2 1 -1.4 1 -0.4 1 -0.9 1 -2.7 1 1.5 1 -0.8 1 0.7 1 -0.6 1 -1.1 1 -2.3 1 2.1 1 -1.3 1 2.5 1 -1.3 1 -0.1 1 -2.6 1 0 1 3.9 1 -5.1 1 -1.4 1 0.1 1 1 1 -2.4 1 1.1 1 -0.7 1 -4.7 1 -4.8 1 -1.8 1 -2.7 1 -0.4 1 -1.6 1 4.2 1 1.4 1 2.1 1 -0.2 1 2.4 1 -5.3 1 -4.9 1 -2.2 1 -4.4 1 1.6 1 0.9 1 -2.4 1 3.5 1 -0.8 1 -3.6 1 -0.5 1 -0.8 1 -0.3 1 -3.8 1 -1.8 1 1.4 1 1.8 1 1.5 1 0.5 1 0.3 1 0.5 1 5.7 1 -2.3 1 1.3 1 -0.3 1 -1.3 1 0.1 1 0.2 1 -3.1 1 -4.3 1 -1.4 1 4.9 1 2.3 1 -0.8 1 0 1 -1.5 1 -1 1 0.3 1 0.4 1 -2 1 3.5 1 0.5 1 3.3 1 -0.8 1 3 1 -2.3 1 0.7 1 4.6 1 3 1 1.8 1 1.2 1 2 1 1.5 1 -0.7 1 0 1 0.1 1 1.9 1 -0.6 1 -0.8 1 -1.8 1 0 1 -0.7 1 -2.5 1 -3.6 1 -1.5 1 -2 1 -4.3 1 -2 1 -1.3 1 -3.4 1 -2.3 1 4 1 4.6 1 2.5 1 1.2 1 -2.1 1 -2.8 1 -4.6 1 -2.5 1 -6.9 1 -0.4 1 1 1 4.3 1 -3.2 1 -1 1 -1.4 1 0.7 1 -0.9 1 4.3 1 3.7 1 2.5 1 0 1 2.7 1 -1 1 -1.9 1 -2.3 1 0.9 1 1.6 1 -0.4 1 0.9 1 1.5 1 -1.1 1 1 1 3.6 1 2.5 1 3.4 1 2.6 1 2.8 1 -0.8 1 3.3 1 2 1 -1.5 1 -0.3 1 -0.8 1 -3 1 3.2 1 -2.5 1 4.1 1 0.3 1 3 1 4.5 1 -1.3 1 7.6 1 4.1 1 -7.9 1 -0.5 1 -0.1 1 1.5 1 -0.7 1 0.1 1 -2.4 1 -2.7 1 -4.9 1 -2.1 1 -2.7 1 -4.2 1 2.4 1 0 1 -6.4 1 0.5 1 -2.1 1 -2.1 1 -1.5 1 1.1 1 3.7 1 3.5 1 5.5 1 -2.2 1 -1.1 1 0.5 1 -3.3 1 -1 1 -0.6 1 1.1 1 0.1 1 1.8 1 -1.2 1 2 1 0.4 1 1.7 1 1.1 1 0.4 1 -2.7 1 -2.6 1 -2.1 1 -1.7 1 1.1 1 -1.8 1 -1.6 1 1.8 1 -2 1 5 1 1.7 1 -1.1 1 2 1 -5 1 2.9 1 -6 1 -0.3 1 2.2 1 -0.2 1 0.7 1 0.4 1 2.5 1 -3.2 1 2.3 1 -0.7 1 -0.8 1 -4.2 1 -3 1 -0.6 1 5.1 1 8.8 1 5.4 1 3.8 1 3.4 1 5.3 1 5.4 1 -2.1 1 0.4 1 1.5 1 -1.5 1 -1.7 1 -2.2 1 0.9 1 -0.9 1 2.4 1 3.2 1 0.7 1 0.9 1 0.3 1 1.5 1 2.9 1 -0.8 1 -0.1 1 -4.4 1 -3.4 1 -6.9 1 -5.7 1 -1.5 1 -1.2 1 -2.7 1 1.2 1 -2.7 1 -2.9 1 -2.7 1 -0.6 1 -1.6 1 0 1 -0.5 1 -0.8 1 -1.9 1 -2.1 1 -4 1 2 1 -4.7 1 -0.5 1 -2.9 1 -0.1 1 -2 1 1.1 1 -2.8 1 3.7 1 2 1 -1.4 1 -0.1 1 0.1 1 1.9 1 1.9 1 -0.7 1 2.3 1 -1.7 1 1.1 1 1.4 1 -1 1 -0.2 1 2.6 1 2 1 -0.5 1 -1.8 1 -3.1 1 3.1 1 -2 1 0.3 1 1.5 1 0.5 1 2.3 1 -0.6 1 1.7 1 2.3 1 3 1 0.5 1 -1.9 1 1 1 -1.9 1 3.3 1 0.6 1 0.4 1 -0.6 1 -6.8 1 5.8 1 2.3 1 0.5 1 -1.3 1 2.4 1 -1.6 1 0.6 1 1.2 1 -0.2 1 1.3 1 3.2 1 -1.4 1 0.1 1 0 1 -2.2 1 -0.9 1 -1.3 1 -0.2 1 -1.3 1 0.8 1 -0.9 1 0 1 -0.1 1 -1.6 1 2.2 1 6 1 8.8 1 6.2" fill="none" stroke="#FFC000" stroke-width="3.90" stroke-linejoin="round" stroke-linecap="round"/><path d="M689.2 794.0 l1 0.3 1 -0.3 1 -0.1 1 -4.6 1 -2.7 1 0.6 1 3 1 1.6 1 2.6 1 4.8 1 1 1 1.2 1 3.3 1 1.6 1 -0.5 1 2.3 1 3.6 1 -1.5 1 2.7 1 -1.6 1 -0.7 1 0 1 0.6 1 -4.5 1 3.8 1 -3.4 1 -0.8 1 -1.3 1 -0.7 1 -2.7 1 -0.5 1 -3.5 1 1 1 1.5 1 -2.4 1 0.5 1 -2.9 1 -0.5 1 -0.9 1 2.5 1 1.4 1 1 1 1.1 1 1.8 1 2.1 1 1.2 1 -3.3 1 -0.8 1 6 1 -2.5 1 -0.7 1 3.8 1 -0.1 1 2.6 1 1 1 0.5 1 2.1 1 3.3 1 0.9 1 1.9 1 -1.7 1 1.3 1 0.2 1 -2.4 1 0 1 -0.7 1 0.8 1 -0.3 1 -2.2 1 2.5 1 -2.6 1 -3.2 1 -0.1 1 0.2 1 1.4 1 -0.1 1 0.6 1 -1.9 1 -0.2 1 0.1 1 -1.3 1 -3.9 1 1.6 1 -0.3 1 -2 1 -0.6 1 0.7 1 1.2 1 -3.1 1 0.8 1 0 1 -0.5 1 0 1 2 1 0.5 1 3 1 -2.2 1 1 1 -1.7 1 0.6 1 3.1 1 0.5 1 2.9 1 0.3 1 -3.6 1 0.6 1 2.9 1 3.8 1 2.8 1 1.7 1 -1.1 1 -1.6 1 2.8 1 -1.5 1 4.6 1 -0.3 1 4 1 -0.4 1 -2.6 1 -3.5 1 0.2 1 3.3 1 -1.1 1 -3 1 -0.6 1 -0.7 1 0.2 1 -2.6 1 0.1 1 -3.9 1 -0.5 1 1.9 1 -0.3 1 0.8 1 -0.7 1 -0.3 1 -2.3 1 3.4 1 3.6 1 3.9 1 4.1 1 8.1 1 0.3 1 0 1 0.6 1 1.8 1 1.2 1 1.5 1 -2.7 1 2.1 1 2.7 1 -1.7 1 0.2 1 1 1 1.1 1 0.2 1 -3.7 1 0.9 1 -0.5 1 -1.3 1 -2.7 1 -0.4 1 -2.3 1 -0.2 1 -1.9 1 -1 1 3.6 1 -6.7 1 0.6 1 -1.6 1 -3.1 1 -1.5 1 -4.3 1 0.6 1 1.6 1 1.6 1 0.8 1 3.3 1 -0.4 1 -8.9 1 -5.5 1 -7 1 -7.2 1 -16 1 -17.8 1 -7.6 1 3.7 1 0.8 1 0.4 1 -0.7 1 -0.5 1 0.2 1 -0.5 1 -0.1 1 0.5 1 5.2 1 1 1 -5.8 1 0.1 1 -1.7 1 0.2 1 0.1 1 2.3 1 0.9 1 -1.7 1 2.8 1 7 1 3.6 1 -2 1 1.5 1 6.8 1 3 1 3.7 1 11 1 2 1 0.2 1 -3.9 1 -1.4 1 0.1 1 -2.3 1 1.8 1 3.5 1 -2.3 1 0.1 1 -2.1 1 1 1 -6.1 1 -0.8 1 -0.7 1 7.7 1 -0.2 1 1.2 1 4.5 1 -1.7 1 0.1 1 1.6 1 -0.4 1 4.2 1 2 1 0.3 1 1.8 1 -4.6 1 0.6 1 0.4 1 -1.3 1 -5.1 1 2.5 1 -3.3 1 0.1 1 -0.7 1 -1.5 1 -4.7 1 -4.4 1 1.5 1 0.7 1 -3.8 1 -1.6 1 0.6 1 0 1 -2.6 1 -2.4 1 0.4 1 2.2 1 -0.4 1 3.2 1 -2 1 2 1 3.9 1 0.8 1 -2.3 1 -4.9 1 -1.8 1 0.2 1 -8.7 1 4.9 1 -4.5 1 -0.4 1 -2 1 0.9 1 0 1 0.4 1 -1 1 -1.1 1 -1 1 2.1 1 -0.1 1 0.6 1 -0.5 1 -2.5 1 -0.6 1 -0.9 1 0.6 1 -0.8 1 -3.5 1 0.1 1 -2.6 1 1 1 -2.6 1 0.8 1 0.5 1 -0.2 1 2.2 1 -1.6 1 1.6 1 2.4 1 -1.1 1 4.4 1 1 1 1.6 1 2.3 1 0.9 1 1.4 1 1.7 1 0.7 1 0.5 1 1 1 -1.4 1 -0.8 1 -3 1 2.6 1 -4.1 1 6.6 1 0.2 1 -1.3 1 -2.8 1 -2.3 1 1.2 1 -1.2 1 -2.8 1 -3 1 0.7 1 1.4 1 -0.7 1 1.6 1 2.6 1 -0.3 1 2.2 1 1 1 1.4 1 4.3 1 3.4 1 1.7 1 2.9 1 0.8 1 0.7 1 2.3 1 0.2 1 -0.3 1 6.4 1 -1.2 1 2.8 1 2.8 1 0.1 1 1.2 1 1 1 1.9 1 1.7 1 0.2 1 -0.7 1 -1.1 1 -2.3 1 -1.4 1 2.3 1 -0.8 1 -1.5 1 -0.5 1 2 1 -0.4 1 -4.7 1 -1.6 1 -1.7 1 0.1 1 -2.2 1 1.7 1 -1.7 1 -1.4 1 -3.1 1 -2.2 1 -2.2 1 -4.2 1 -0.5 1 -0.2 1 -1.9 1 -0.8 1 0.9 1 -0.2 1 -1.2 1 -0.2 1 0.2 1 0.2 1 -0.3 1 -0.6 1 -3.1 1 -0.2 1 -0.3 1 -0.4 1 -0.4 1 -0.8 1 -3.9 1 1.7 1 -0.1 1 -3.2 1 1.8 1 -1.2 1 -0.4 1 -1.3 1 -1.8 1 -1.9 1 -2.8 1 -0.3 1 -3.5 1 -2.3 1 0.7 1 6.1 1 4 1 -1.6 1 1.1 1 2.3 1 -0.7 1 2.3 1 3.5 1 0.3 1 2.6 1 -1.2 1 -2.8 1 -1 1 -1.5 1 2.2 1 1.5 1 -1.3 1 2.8 1 1.7 1 -3 1 0.4 1 -0.6 1 0.8 1 -0.2 1 -3.3 1 -1 1 -0.4 1 -0.5 1 -2.2 1 -0.6 1 -2.5 1 -2.1 1 -6.7 1 -2.5 1 -3.5 1 1.7 1 1.7 1 -0.4 1 1.1 1 2.1 1 4.7 1 -1.4 1 0.4 1 2.6 1 2.2 1 -0.9 1 2.7 1 2.5 1 0.7 1 1.7 1 1.2 1 2.6 1 2.6 1 0.3 1 1.2 1 -0.5 1 0.6 1 -2.4 1 -1.3 1 2.1 1 -3.6 1 0.9 1 1 1 -0.5 1 -2.9 1 0.7 1 1.5 1 -1 1 -0.1 1 -2.7 1 0 1 -1.8 1 -0.9 1 -0.5" fill="none" stroke="#5B9BD5" stroke-width="3.90" stroke-linejoin="round" stroke-linecap="round"/><path d="M689.2 798.0 l1 3.3 1 -0.7 1 10.2 1 -0.6 1 -5.8 1 10.5 1 7.3 1 7.3 1 4.1 1 4.1 1 -2.4 1 5.3 1 1 1 1.8 1 -0.1 1 3.9 1 1.4 1 -3.6 1 -0.6 1 2.3 1 0.6 1 0.7 1 0.2 1 -2.2 1 -8.5 1 2.8 1 -2.8 1 6 1 -1.1 1 4.2 1 6.3 1 7.6 1 -3 1 -2.7 1 -6 1 -2.8 1 -3.6 1 -3.3 1 -1.9 1 -6.3 1 -3.6 1 5.9 1 -3.6 1 -4.7 1 -1.2 1 -3.2 1 3.4 1 0.2 1 -3.5 1 -0.8 1 -2.6 1 -0.9 1 -0.9 1 -1.9 1 -0.6 1 -3.2 1 -1.9 1 -1.1 1 -2.6 1 2.4 1 -0.8 1 -1.9 1 0 1 -3.8 1 -2.7 1 -6.4 1 -1.9 1 2.5 1 2.9 1 0.9 1 0.8 1 8.8 1 -6.8 1 -1.2 1 0.7 1 -1.2 1 2 1 0.3 1 -0.3 1 -1.9 1 4.9 1 -2.9 1 -0.2 1 -0.5 1 6.7 1 -1 1 -1.2 1 2.3 1 1.2 1 4.1 1 3.9 1 0.5 1 3.8 1 -2.5 1 -0.6 1 -1.9 1 0.4 1 3.1 1 -4 1 -4.6 1 -2 1 1.6 1 -2.7 1 -0.4 1 0.9 1 2.6 1 3.1 1 1.3 1 3 1 2.4 1 1 1 2.6 1 -2.9 1 0.6 1 3.1 1 1.7 1 -2.8 1 1.5 1 3.2 1 2.2 1 1.7 1 -1.3 1 -0.2 1 0.3 1 2.8 1 0.8 1 1.8 1 3.1 1 0 1 -1.1 1 3.4 1 -3.4 1 0.8 1 4.1 1 4.4 1 2.2 1 3.2 1 1.6 1 0.3 1 1.6 1 1.8 1 -2.1 1 -0.4 1 2.7 1 0.6 1 -0.7 1 -4.3 1 7.7 1 -2.2 1 1.3 1 1.7 1 -1.4 1 3.7 1 2.3 1 2.2 1 4.2 1 1.1 1 -2.8 1 -0.1 1 0.7 1 1 1 2 1 0 1 1.9 1 0.5 1 7.3 1 -7.3 1 2.5 1 2.7 1 0.5 1 0.2 1 -2.1 1 -0.7 1 -0.5 1 -0.5 1 -3.2 1 0.8 1 -3.8 1 -0.5 1 -0.8 1 2.5 1 -6.4 1 -9.6 1 -13.1 1 -9.1 1 -2.8 1 -1.9 1 -0.5 1 -4.3 1 -1 1 -1 1 -0.8 1 -0.8 1 1.3 1 -2.3 1 -0.6 1 -0.7 1 -0.5 1 3.5 1 -1 1 -0.1 1 -4.5 1 -2.7 1 1.6 1 -3.5 1 -4.3 1 -1.5 1 -3.6 1 0.1 1 3 1 -2 1 -1.1 1 -5.4 1 1.2 1 2.3 1 -4.6 1 1 1 -0.8 1 -5 1 5.2 1 -3.6 1 1 1 0.7 1 -5.3 1 0.6 1 -1.2 1 -1.8 1 -0.7 1 -4.9 1 -3.2 1 0.1 1 0.5 1 -7 1 4.7 1 6 1 5.6 1 3.7 1 2.7 1 0.1 1 1.5 1 -1.2 1 -7.7 1 0.4 1 -4.1 1 4.2 1 0 1 -0.9 1 -2.3 1 -2.5 1 -0.1 1 3.9 1 -3 1 -8.8 1 -1.7 1 2.7 1 1 1 -2.6 1 0.5 1 0.2 1 -1.8 1 0.6 1 2.7 1 -1 1 4.5 1 0 1 -0.5 1 2.3 1 1.7 1 0.2 1 4.3 1 2.8 1 1.5 1 0.5 1 1 1 2.4 1 6.4 1 -0.2 1 0.8 1 0.9 1 4.5 1 -1.5 1 0.4 1 -2.1 1 6.4 1 3.1 1 7.8 1 6.1 1 -0.6 1 -1.7 1 -1.3 1 -1.1 1 3.3 1 2.7 1 0.1 1 2.1 1 -4.7 1 -0.1 1 1 1 7.9 1 -0.3 1 -6.2 1 -2.1 1 0.3 1 6.1 1 3.9 1 1.1 1 4.7 1 -1.9 1 2.8 1 0 1 1.1 1 -1.6 1 5.3 1 1 1 1.8 1 -1.8 1 -1.1 1 -3.8 1 -2.6 1 -1.4 1 0.3 1 -2 1 -2.6 1 0.7 1 -2.4 1 -0.6 1 0.4 1 -0.4 1 -3.7 1 -0.5 1 -2.2 1 -0.3 1 -4 1 -3.8 1 4.2 1 4.1 1 3.9 1 4 1 3.3 1 3.2 1 5.2 1 -4.9 1 2 1 -2.9 1 -3.8 1 -0.8 1 -0.6 1 -3.6 1 -4.2 1 -3.8 1 -0.4 1 0.8 1 -0.4 1 1.8 1 0.5 1 -3.4 1 -3.6 1 -3.7 1 -2.1 1 -4.3 1 -3.2 1 2.4 1 -0.8 1 -0.5 1 -5.1 1 -2.9 1 -2.9 1 -0.7 1 -5.1 1 -3.2 1 -3.3 1 -1.8 1 0.4 1 -3.8 1 3.6 1 2.3 1 -7 1 -0.2 1 -2.1 1 3.9 1 -0.5 1 -1.7 1 -0.5 1 -1.3 1 0.9 1 1.2 1 0.4 1 -0.3 1 0.6 1 -1.8 1 2.6 1 2.9 1 -1.8 1 2.1 1 -4 1 -9.5 1 -0.4 1 -8 1 -7 1 -0.2 1 -0.8 1 -6.5 1 6.1 1 -3.7 1 -2.7 1 -4.3 1 -1.3 1 -7.1 1 -1 1 -4.3 1 0.4 1 -1.3 1 -1.2 1 2.3 1 0.4 1 6.2 1 -2.8 1 -1.8 1 -1.9 1 2.4 1 5.1 1 -2 1 0.5 1 6.4 1 4.6 1 3.7 1 -1 1 0.8 1 -0.4 1 2.3 1 1.1 1 -1 1 -1.1 1 1.7 1 1 1 1.4 1 -1.1 1 0.1 1 5.8 1 8.1 1 3.9 1 0.6 1 0.6 1 -4.7 1 -0.5 1 1.9 1 -1.4 1 0 1 -6 1 -0.6 1 -1.4 1 -2.2 1 2.2 1 5.6 1 1.3 1 -0.5 1 1.2 1 -1.4 1 -0.3 1 -2 1 -1.6 1 -0.5 1 3.9 1 -2 1 -1.2 1 2.5 1 -0.6 1 2.8 1 2.2 1 2 1 -0.7 1 2.4 1 1.9 1 -2.9 1 2.7 1 -2.8 1 -1.2 1 -1.4 1 -1 1 -3.2 1 3.1 1 -2.5 1 4.8 1 6.9 1 8.1 1 2.8 1 3" fill="none" stroke="#70AD47" stroke-width="3.90" stroke-linejoin="round" stroke-linecap="round"/><path d="M689.2 802.6 l1 1.7 1 4.1 1 5.2 1 3.9 1 -2.7 1 1.9 1 -2.3 1 -3.6 1 -2.6 1 1.7 1 -0.2 1 0.7 1 -3.5 1 2.5 1 0.5 1 -4.5 1 5.6 1 -3.3 1 0.1 1 -0.5 1 1.4 1 -2.6 1 -0.8 1 2.6 1 2.6 1 4.7 1 3.6 1 3 1 -1.3 1 1.8 1 -0.7 1 3.2 1 -0.3 1 1.5 1 5 1 3.5 1 2.8 1 0.6 1 -0.7 1 -3 1 -3.3 1 3.2 1 -0.2 1 -4 1 1.6 1 -3.4 1 -1 1 -3.2 1 -0.9 1 -1.7 1 -3.3 1 -3 1 4 1 2.7 1 4.3 1 4.6 1 2.7 1 3 1 -0.3 1 4.7 1 -1.5 1 -2.1 1 -5.1 1 -2.8 1 -1.8 1 1.6 1 0.6 1 1.4 1 2.4 1 -3.6 1 1.1 1 -3.4 1 1.9 1 -2.7 1 -1.3 1 -1.8 1 -0.3 1 -1 1 0.5 1 -1.2 1 -1.5 1 0.9 1 -0.4 1 -0.4 1 -4.2 1 -1.5 1 -3 1 -1.8 1 -1.3 1 -2.2 1 -5.7 1 -1.4 1 -1.3 1 -3.1 1 -4.6 1 -3.1 1 -2.9 1 -4 1 0 1 -1.1 1 0.6 1 1.6 1 1 1 6 1 -2.2 1 4.6 1 -1.7 1 -2.7 1 1.5 1 -4.7 1 -2.5 1 -2.3 1 1.7 1 3.4 1 -1.1 1 2 1 4 1 6 1 3.7 1 4.2 1 5.6 1 2.3 1 2.5 1 4.6 1 1.8 1 2.7 1 1.7 1 1.5 1 2.8 1 -1.6 1 0.4 1 -1.8 1 -2.2 1 0.2 1 2.5 1 4.5 1 0 1 2.4 1 2.4 1 -0.3 1 5.3 1 8.8 1 1 1 -0.5 1 -1.1 1 -0.7 1 3.7 1 0.8 1 -1.8 1 -3.1 1 -3.2 1 -0.1 1 -1.9 1 0.3 1 -12.1 1 -9.5 1 -3.2 1 -1.1 1 2 1 4.8 1 4.7 1 1.3 1 -1.1 1 -4.9 1 2.3 1 7.7 1 3.3 1 5.4 1 2.1 1 -2.1 1 -0.9 1 -5.7 1 -0.8 1 8.4 1 9.2 1 -2.9 1 -4.5 1 -1.9 1 -4.5 1 -7.7 1 -9.3 1 -11.7 1 -9.2 1 1.5 1 1.7 1 3.7 1 -1 1 1.7 1 1.3 1 -1.4 1 -1 1 -4.9 1 2.1 1 2.2 1 -1.8 1 -1.9 1 1.5 1 -1.5 1 -2.8 1 -2.8 1 -0.4 1 3 1 -1.2 1 0.8 1 -1.4 1 -0.4 1 -1.8 1 0 1 1 1 -0.6 1 -3.3 1 -2.4 1 0.4 1 -3.7 1 -5.5 1 -3.2 1 -2.3 1 0.8 1 3.8 1 0.4 1 2.8 1 -0.3 1 3.6 1 1.1 1 2.6 1 3.4 1 3.2 1 0.8 1 -1.9 1 -1 1 -1.5 1 1.7 1 -0.4 1 1.2 1 3.5 1 6.3 1 5.2 1 5.4 1 4.2 1 1.8 1 1.2 1 -2.4 1 -1 1 0.9 1 1.1 1 -2.5 1 -0.4 1 -0.2 1 -1.7 1 -2.6 1 -0.7 1 -0.1 1 0.3 1 -2.7 1 -4.7 1 2.3 1 -8.4 1 -7.2 1 -5.8 1 -9.7 1 2.5 1 3.4 1 -0.5 1 0.5 1 3.1 1 2.8 1 0.5 1 2.8 1 0.5 1 1.1 1 -3.7 1 -1.1 1 -3.2 1 5.7 1 3.6 1 3.5 1 2.1 1 -2.1 1 2 1 -1.7 1 0.1 1 -4.2 1 -4.2 1 -3.6 1 -6.7 1 -0.4 1 -0.6 1 3.9 1 -8.5 1 1.5 1 0 1 -1.5 1 -1.2 1 4.1 1 -1.1 1 -4.5 1 0.4 1 -0.6 1 1.2 1 -1.8 1 0.3 1 0.4 1 5.5 1 4 1 3.1 1 0 1 -5.1 1 -4.1 1 2.1 1 -0.5 1 0.3 1 0.5 1 1 1 1.8 1 3 1 -1.4 1 -2.6 1 1.4 1 0.5 1 0.1 1 0.5 1 1.7 1 3.3 1 1.6 1 3.5 1 1.2 1 1.7 1 0 1 -0.8 1 1.5 1 -0.3 1 -4.1 1 -0.4 1 0.5 1 -0.1 1 1.5 1 -0.6 1 0.4 1 0.9 1 2.9 1 -0.6 1 2.9 1 1.1 1 3.1 1 5.6 1 0.2 1 5.5 1 1 1 1.5 1 -1.4 1 -4.1 1 -2.2 1 -0.8 1 -0.5 1 0 1 0 1 0.2 1 1.5 1 0.2 1 1.6 1 -1.1 1 -0.5 1 1.1 1 4.1 1 -1 1 -5 1 0.9 1 1 1 0.6 1 1.2 1 0.4 1 0.5 1 -4.8 1 -5 1 -5.9 1 -6.1 1 -6.3 1 -3 1 2.4 1 2.1 1 -1.3 1 0 1 0.5 1 0.5 1 1.8 1 -1.3 1 -1.3 1 -1.1 1 -2.9 1 -1.6 1 -0.4 1 -5.7 1 2.4 1 3 1 -1.7 1 -1.4 1 -4.5 1 -5.5 1 -4.5 1 -8.2 1 -1.7 1 1.5 1 2.5 1 0.6 1 4 1 3.9 1 2.4 1 4.4 1 2 1 0 1 1 1 -0.8 1 -2.5 1 4.6 1 -2.1 1 0.2 1 0.7 1 0.3 1 -6.2 1 -4.4 1 1.7 1 -0.4 1 -0.1 1 5.5 1 1 1 2.9 1 -0.5 1 1.6 1 2.4 1 0.8 1 1.3 1 2 1 2 1 0.7 1 -4.2 1 -0.4 1 -1.4 1 2.1 1 1.7 1 -0.6 1 0.5 1 2.1 1 1.4 1 1 1 0.1 1 3.7 1 1 1 -0.7 1 4.4 1 4.6 1 -0.1 1 -0.8 1 -0.2 1 -0.1 1 -4.3 1 -2.8 1 2.1 1 -2 1 -0.3 1 0.1 1 -0.5 1 -0.7 1 -0.3 1 1 1 -2.8 1 -1.2 1 -2.6 1 -1.8 1 0.7 1 -4.1 1 3.1 1 3.6 1 4.9 1 7.9 1 -0.5 1 -2.2 1 5.6 1 2 1 0.2 1 -2.3 1 -0.6 1 2.7 1 -0.5 1 4.2 1 3.2 1 6.2 1 2.8" fill="none" stroke="#264478" stroke-width="3.90" stroke-linejoin="round" stroke-linecap="round"/><line x1="671.7" y1="937.8" x2="704.2" y2="937.8" stroke="#4472C4" stroke-width="3.3" stroke-linecap="round"/><text x="707.5" y="941.4" font-size="11.4" textLength="71.7" lengthAdjust="spacingAndGlyphs">USDT-NIFTY</text><line x1="787.4" y1="937.8" x2="819.9" y2="937.8" stroke="#ED7D31" stroke-width="3.3" stroke-linecap="round"/><text x="823.2" y="941.4" font-size="11.4" textLength="59.5" lengthAdjust="spacingAndGlyphs">DAI-NIFTY</text><line x1="903.9" y1="937.8" x2="936.4" y2="937.8" stroke="#A5A5A5" stroke-width="3.3" stroke-linecap="round"/><text x="939.7" y="941.4" font-size="11.4" textLength="64.3" lengthAdjust="spacingAndGlyphs">GLC-NIFTY</text><line x1="1020.3" y1="937.8" x2="1052.8" y2="937.8" stroke="#FFC000" stroke-width="3.3" stroke-linecap="round"/><text x="1056.1" y="941.4" font-size="11.4" textLength="64.3" lengthAdjust="spacingAndGlyphs">HGT-NIFTY</text><line x1="671.7" y1="962.6" x2="704.2" y2="962.6" stroke="#5B9BD5" stroke-width="3.3" stroke-linecap="round"/><text x="707.5" y="966.2" font-size="11.4" textLength="73.7" lengthAdjust="spacingAndGlyphs">MNTP-NIFTY</text><line x1="787.4" y1="962.6" x2="819.9" y2="962.6" stroke="#70AD47" stroke-width="3.3" stroke-linecap="round"/><text x="823.2" y="966.2" font-size="11.4" textLength="62.2" lengthAdjust="spacingAndGlyphs">X8X-NIFTY</text><line x1="903.9" y1="962.6" x2="936.4" y2="962.6" stroke="#264478" stroke-width="3.3" stroke-linecap="round"/><text x="939.7" y="966.2" font-size="11.4" textLength="73.1" lengthAdjust="spacingAndGlyphs">XAUR-NIFTY</text></g>
<g><rect x="2.0" y="988.0" width="596.0" height="326.3" fill="#fff" stroke="#e3e3e3" stroke-width="1.2"/><text x="147.2" y="1015.0" font-size="17.0" textLength="304.6" lengthAdjust="spacingAndGlyphs">Conventional cryptocurrrencies vs SSE</text><line x1="87.7" y1="1038.8" x2="579.7" y2="1038.8" stroke="#d9d9d9" stroke-width="1"/><text x="72.7" y="1043.4" font-size="12.8" text-anchor="end" textLength="56.8" lengthAdjust="spacingAndGlyphs">0.250000</text><line x1="87.7" y1="1061.4" x2="579.7" y2="1061.4" stroke="#d9d9d9" stroke-width="1"/><text x="72.7" y="1066.0" font-size="12.8" text-anchor="end" textLength="56.8" lengthAdjust="spacingAndGlyphs">0.200000</text><line x1="87.7" y1="1084.1" x2="579.7" y2="1084.1" stroke="#d9d9d9" stroke-width="1"/><text x="72.7" y="1088.7" font-size="12.8" text-anchor="end" textLength="56.8" lengthAdjust="spacingAndGlyphs">0.150000</text><line x1="87.7" y1="1106.7" x2="579.7" y2="1106.7" stroke="#d9d9d9" stroke-width="1"/><text x="72.7" y="1111.3" font-size="12.8" text-anchor="end" textLength="56.8" lengthAdjust="spacingAndGlyphs">0.100000</text><line x1="87.7" y1="1129.3" x2="579.7" y2="1129.3" stroke="#d9d9d9" stroke-width="1"/><text x="72.7" y="1133.9" font-size="12.8" text-anchor="end" textLength="56.8" lengthAdjust="spacingAndGlyphs">0.050000</text><line x1="87.7" y1="1152.0" x2="579.7" y2="1152.0" stroke="#d9d9d9" stroke-width="1"/><text x="72.7" y="1156.6" font-size="12.8" text-anchor="end" textLength="56.8" lengthAdjust="spacingAndGlyphs">0.000000</text><line x1="87.7" y1="1174.6" x2="579.7" y2="1174.6" stroke="#d9d9d9" stroke-width="1"/><text x="72.7" y="1179.2" font-size="12.8" text-anchor="end" textLength="61.3" lengthAdjust="spacingAndGlyphs">-0.050000</text><line x1="87.7" y1="1197.2" x2="579.7" y2="1197.2" stroke="#d9d9d9" stroke-width="1"/><text x="72.7" y="1201.8" font-size="12.8" text-anchor="end" textLength="61.3" lengthAdjust="spacingAndGlyphs">-0.100000</text><line x1="87.7" y1="1219.9" x2="579.7" y2="1219.9" stroke="#d9d9d9" stroke-width="1"/><text x="72.7" y="1224.5" font-size="12.8" text-anchor="end" textLength="61.3" lengthAdjust="spacingAndGlyphs">-0.150000</text><line x1="87.7" y1="1242.5" x2="579.7" y2="1242.5" stroke="#d9d9d9" stroke-width="1"/><text x="72.7" y="1247.1" font-size="12.8" text-anchor="end" textLength="61.3" lengthAdjust="spacingAndGlyphs">-0.200000</text><line x1="87.5" y1="1152.0" x2="87.5" y2="1156.0" stroke="#d9d9d9" stroke-width="1"/><line x1="183.7" y1="1152.0" x2="183.7" y2="1156.0" stroke="#d9d9d9" stroke-width="1"/><line x1="279.9" y1="1152.0" x2="279.9" y2="1156.0" stroke="#d9d9d9" stroke-width="1"/><line x1="376.1" y1="1152.0" x2="376.1" y2="1156.0" stroke="#d9d9d9" stroke-width="1"/><line x1="472.3" y1="1152.0" x2="472.3" y2="1156.0" stroke="#d9d9d9" stroke-width="1"/><line x1="568.5" y1="1152.0" x2="568.5" y2="1156.0" stroke="#d9d9d9" stroke-width="1"/><text x="87.5" y="1172.8" font-size="12.8" text-anchor="middle" textLength="52.5" lengthAdjust="spacingAndGlyphs">6-Apr-18</text><text x="183.7" y="1172.8" font-size="12.8" text-anchor="middle" textLength="52.5" lengthAdjust="spacingAndGlyphs">6-Apr-19</text><text x="279.9" y="1172.8" font-size="12.8" text-anchor="middle" textLength="52.5" lengthAdjust="spacingAndGlyphs">6-Apr-20</text><text x="376.1" y="1172.8" font-size="12.8" text-anchor="middle" textLength="52.5" lengthAdjust="spacingAndGlyphs">6-Apr-21</text><text x="472.3" y="1172.8" font-size="12.8" text-anchor="middle" textLength="52.5" lengthAdjust="spacingAndGlyphs">6-Apr-22</text><text x="568.5" y="1172.8" font-size="12.8" text-anchor="middle" textLength="52.5" lengthAdjust="spacingAndGlyphs">6-Apr-23</text><path d="M88.1 1151.7 l1 0.8 1 3 1 0.7 1 -4.4 1 -0.5 1 4.1 1 1.8 1 -1.3 1 -3 1 -4.3 1 -2.9 1 0.2 1 -2 1 0.2 1 -4.3 1 -0.3 1 1.5 1 -4.7 1 0.6 1 -1.5 1 -5.1 1 7.5 1 1.3 1 -0.5 1 2.8 1 3.4 1 2.1 1 2.9 1 0.1 1 -2.4 1 -2.9 1 -1.9 1 0.2 1 -3.4 1 -1.2 1 -5.6 1 -4.5 1 -8.2 1 -5.3 1 3.1 1 -5.8 1 -10.3 1 -4.4 1 -6.8 1 -6.4 1 -1.7 1 -7.6 1 -3.5 1 1.4 1 1.2 1 -3.3 1 4.3 1 3.9 1 10.9 1 -5.9 1 0.9 1 2.7 1 1.2 1 3.2 1 -0.3 1 -0.9 1 -0.7 1 -4.6 1 -0.1 1 0.2 1 -1.1 1 -1.8 1 -4 1 0.8 1 -1.2 1 -1.7 1 2.6 1 1.4 1 0.4 1 7.6 1 1.3 1 -4.6 1 0.1 1 0.5 1 2.4 1 2.9 1 -3.2 1 -2.4 1 -1.4 1 -4.7 1 -1.5 1 -2.6 1 3.5 1 1.1 1 0.4 1 0.3 1 -1 1 -3.2 1 -1.4 1 0.9 1 -3.8 1 -2.9 1 1.2 1 -2.3 1 -1.7 1 -1.3 1 -2.3 1 -3.9 1 -1.4 1 1.9 1 0.8 1 0.9 1 -2.8 1 0.9 1 0 1 -5 1 -1.7 1 -2.3 1 1.1 1 -1.3 1 14.1 1 -11.3 1 9.5 1 8.5 1 11.3 1 9.7 1 8.3 1 8.6 1 8.5 1 7.2 1 7.9 1 9 1 7 1 6.3 1 -1.5 1 -3.9 1 -3.8 1 -3.8 1 -2.8 1 -3.9 1 -6.3 1 -3 1 -4.6 1 -2.3 1 -4.3 1 -1.8 1 2.4 1 -4.1 1 1.5 1 -1.5 1 -1.2 1 3.7 1 -0.8 1 -3.8 1 -2.9 1 -2.1 1 -2.3 1 1.2 1 2.9 1 -1.3 1 3.8 1 -4.9 1 -0.7 1 -1.8 1 7 1 4.2 1 6.6 1 3.7 1 3 1 5.2 1 0.4 1 3.9 1 3 1 3.2 1 2.1 1 2.3 1 2.4 1 3.6 1 2.1 1 0.5 1 4.9 1 -1.7 1 2.2 1 1.7 1 5.1 1 -6 1 -10.9 1 -8.3 1 -9.6 1 -9.9 1 -9.6 1 -6 1 -13.1 1 -5.3 1 -4.5 1 8.6 1 -0.3 1 1.5 1 1.8 1 0.8 1 -0.8 1 -2.7 1 7.3 1 2.6 1 5.5 1 2.1 1 1.5 1 2.1 1 0.4 1 -0.6 1 0.4 1 1 1 -0.9 1 -1.3 1 -2.7 1 0.5 1 -2.4 1 -0.9 1 -3.4 1 -2.9 1 -2.3 1 -2.6 1 -6.7 1 0.6 1 -5.1 1 0.4 1 -1.1 1 -0.7 1 -0.7 1 -4.8 1 3.9 1 2.2 1 -1.2 1 1.9 1 -2.8 1 5.6 1 -1.8 1 0.8 1 -1.3 1 3 1 4.1 1 0.7 1 2.4 1 0.2 1 -6.8 1 -2.6 1 -3.9 1 -2.1 1 0.7 1 2.5 1 1 1 -3.1 1 2.3 1 2.5 1 -3 1 -0.9 1 2.1 1 -0.7 1 1 1 1.6 1 -3.1 1 -1 1 2 1 -1.5 1 1 1 2.4 1 -1 1 -1.1 1 -0.1 1 -2.1 1 -2.2 1 1.8 1 2.1 1 5.2 1 3.6 1 2 1 5.1 1 -1.4 1 -1.5 1 1.5 1 0.7 1 0.4 1 3.6 1 -0.3 1 1.4 1 0.3 1 0.6 1 -0.9 1 1.7 1 1.5 1 0.4 1 -3 1 2.2 1 3.1 1 -1.7 1 2.2 1 0.7 1 4.1 1 9.2 1 7.5 1 8.7 1 8.4 1 3.6 1 -3.4 1 1.5 1 0.6 1 -0.7 1 6.9 1 1 1 -1.8 1 -0.7 1 0.9 1 2.3 1 3.8 1 -0.4 1 -0.3 1 1.8 1 3.3 1 8.8 1 8.1 1 4.8 1 8.6 1 6.6 1 7.9 1 1.7 1 -0.9 1 -3.7 1 -2.5 1 1.8 1 -1.2 1 -0.3 1 -4.5 1 -7.5 1 -4.2 1 9 1 -0.3 1 1.8 1 -2 1 5.5 1 -4.1 1 -2.3 1 -2.2 1 -4.1 1 -2.7 1 -6.3 1 -3.5 1 -0.5 1 0.9 1 -0.2 1 0.3 1 -0.9 1 -0.6 1 -2.3 1 -2.9 1 -2.3 1 -2.2 1 2.7 1 2.1 1 1.7 1 5.1 1 -3.3 1 -2.9 1 -3.9 1 -3.2 1 -5.7 1 -3.7 1 -1.7 1 -6.7 1 -5.5 1 -2.8 1 -3.7 1 -0.2 1 0.7 1 1.4 1 0.8 1 -0.2 1 0.2 1 3.2 1 -0.7 1 -1.5 1 2.4 1 -3.3 1 -2.2 1 2.2 1 -1.6 1 1.7 1 -4.3 1 0.1 1 1.5 1 0.2 1 -3.7 1 -1.2 1 1.2 1 -0.7 1 -0.8 1 -0.4 1 1.8 1 -0.4 1 1.7 1 2.4 1 -2.8 1 -2.4 1 -0.5 1 -1.4 1 -0.2 1 -0.5 1 -1.6 1 -4.9 1 -1.7 1 1.9 1 -2.6 1 -5.1 1 -1.9 1 -2.7 1 -1.7 1 2.4 1 -3.9 1 -3.7 1 -1.2 1 0 1 -1.7 1 -1.5 1 -3.4 1 -0.1 1 0.2 1 -5.8 1 2.5 1 4.2 1 2 1 -2.1 1 -0.6 1 0 1 0.2 1 2.4 1 -3.3 1 -8.3 1 1 1 -1.4 1 6.1 1 1.8 1 0.6 1 -0.1 1 2.9 1 -1.2 1 1.4 1 -3.2 1 2.5 1 -1 1 2.9 1 -0.5 1 -1.4 1 0.3 1 0 1 1.1 1 -1 1 -0.1 1 -1 1 -1.8 1 1.8 1 0.9 1 -2.2 1 2.3 1 -0.1 1 -4.8 1 -4.5 1 4.2 1 -1.9 1 -2.8 1 -1.9 1 -3.4 1 -0.3 1 5 1 2.8 1 1.2 1 0.1 1 0.4 1 -3.2 1 -1.1 1 2.3 1 -2.7 1 0.6 1 -0.6 1 1.1 1 -2.6 1 -8.9 1 -0.7 1 -1.4 1 5.9 1 -2.5 1 -1.8 1 0.4 1 3 1 1.5 1 3.5 1 4.7 1 4.4" fill="none" stroke="#4472C4" stroke-width="3.90" stroke-linejoin="round" stroke-linecap="round"/><path d="M88.1 1151.2 l1 2.5 1 -0.4 1 -1.6 1 -1.5 1 2.2 1 -2.1 1 -2.5 1 -2.8 1 -2.4 1 1.8 1 -4.3 1 -0.4 1 -6 1 -2.8 1 -2.6 1 -3.3 1 1.6 1 -1.9 1 3.1 1 0.1 1 2.3 1 7.1 1 -1.9 1 4.8 1 3.2 1 1.8 1 -0.2 1 3 1 1.1 1 -0.1 1 -2.2 1 -0.3 1 1.1 1 -5.3 1 -2.8 1 -4.7 1 1.5 1 -1.5 1 -0.6 1 -0.2 1 -3.4 1 -7 1 -5.3 1 -5.6 1 -4.6 1 -4.1 1 -3.6 1 2.5 1 -6.1 1 -12.9 1 -1.4 1 -1.7 1 1 1 0 1 3 1 4.3 1 1.9 1 1.1 1 0.8 1 -0.5 1 -0.6 1 -2.8 1 0 1 -5.3 1 1 1 -1 1 -0.4 1 -3.6 1 0.4 1 -1.1 1 1 1 2.1 1 0.3 1 0.5 1 -1.9 1 3.1 1 -1.4 1 1.3 1 0.3 1 1 1 -1.1 1 6.2 1 -5.2 1 -5.4 1 1 1 -6.7 1 2.6 1 3.6 1 1.2 1 1.8 1 0 1 -2.4 1 -2.8 1 -1.2 1 -4.5 1 -3.8 1 0.5 1 -0.7 1 -0.3 1 0.1 1 -3.8 1 -1.5 1 -3.4 1 -0.8 1 3.8 1 3.3 1 0.8 1 -1 1 -4.2 1 -2 1 -5.4 1 1 1 2 1 -3 1 2.8 1 -0.3 1 1.8 1 14.2 1 7.8 1 8.2 1 12.3 1 8.8 1 6.1 1 5.5 1 5.7 1 3.6 1 2.8 1 6.9 1 2.5 1 1.6 1 -7.6 1 -7.6 1 -4.8 1 -7.4 1 -1.9 1 -0.5 1 -0.1 1 0.7 1 -9.5 1 -2.4 1 6.9 1 -1.3 1 -4.3 1 1.4 1 -0.3 1 3.6 1 -1.6 1 -3.6 1 -4.9 1 0 1 -0.1 1 -5.6 1 0.5 1 0.7 1 0.3 1 4.9 1 2.7 1 -2 1 2.8 1 0.9 1 3.2 1 6.5 1 3 1 0 1 0.1 1 1.2 1 6.4 1 1.6 1 3.4 1 1.8 1 1.4 1 4 1 1.9 1 3.5 1 0.8 1 6.7 1 0.9 1 -3 1 1.5 1 -1 1 -5.2 1 -2.3 1 -3.9 1 -1.8 1 -4.5 1 -7.7 1 -4.4 1 -0.9 1 -1.3 1 -2.1 1 1.1 1 -3 1 -6.8 1 6.2 1 1.9 1 3.9 1 -2.9 1 4.2 1 -1.9 1 -0.1 1 2.4 1 -1.1 1 2.5 1 -0.3 1 1.3 1 3.3 1 -1.7 1 -1 1 -2.9 1 -4.5 1 -2.7 1 -4.8 1 -2 1 -1.5 1 2.2 1 -2.9 1 -4.8 1 -2.6 1 -2.9 1 -5.4 1 -3.3 1 -6 1 0.6 1 0.4 1 -2.6 1 -1.2 1 3.3 1 -0.1 1 -1.4 1 5.1 1 -5.2 1 3.6 1 -0.4 1 1.6 1 5.7 1 0.3 1 2.2 1 0.9 1 1.4 1 -5.2 1 -4.6 1 -2 1 1.4 1 0.6 1 0.6 1 2.6 1 -0.3 1 0.9 1 1.4 1 -2 1 0.5 1 3.2 1 3.1 1 -0.6 1 1.7 1 -0.5 1 -2.8 1 0.7 1 1.5 1 -0.5 1 -1.4 1 1.3 1 0 1 0.8 1 2.5 1 2.4 1 1.2 1 1.5 1 1.8 1 -0.9 1 1.1 1 1.7 1 -2.2 1 4.7 1 -1 1 0.8 1 -3.9 1 1.6 1 0.9 1 -0.5 1 -0.7 1 -0.7 1 1.7 1 -3.1 1 5.3 1 1 1 2.2 1 2.8 1 -0.7 1 3 1 -1.1 1 4.7 1 0.5 1 3.4 1 2.2 1 -0.7 1 -1.1 1 3.9 1 0.5 1 1.8 1 1.1 1 1.1 1 -1.3 1 -0.4 1 5.1 1 2 1 -3.4 1 -5.9 1 2 1 2.1 1 -0.5 1 1.1 1 0.8 1 -2.3 1 -0.6 1 2.4 1 1 1 -0.3 1 -1.2 1 -0.3 1 -0.3 1 1.8 1 4 1 -1.1 1 2 1 -2.3 1 4.9 1 -2.8 1 3.7 1 1.1 1 2.4 1 1 1 -0.1 1 -2.8 1 0.7 1 -0.2 1 -1.9 1 2.2 1 -0.5 1 1 1 1 1 -1.1 1 -1 1 -5.5 1 -0.8 1 -3.6 1 -3.2 1 -2.7 1 2.9 1 -3.3 1 -1.5 1 -1.6 1 -2.2 1 1.1 1 3.8 1 -3.5 1 1 1 -3.2 1 1 1 -2.7 1 0.1 1 1.1 1 -2.4 1 -2.3 1 -1.2 1 -1.8 1 2.8 1 -1.4 1 -1 1 2.6 1 -1.8 1 1.7 1 -0.5 1 -1.7 1 -0.1 1 -9.1 1 -1.9 1 -0.8 1 1.3 1 -4.9 1 -1.5 1 0.5 1 1.5 1 1.1 1 0.6 1 0.6 1 -3.5 1 -2 1 1.1 1 -0.9 1 0.1 1 -3.9 1 0 1 3.8 1 1.1 1 0.3 1 0.6 1 2 1 2 1 1.3 1 -3.5 1 3.9 1 -3.9 1 -4.9 1 0.1 1 1.6 1 0.3 1 -0.8 1 -3.4 1 -2 1 0.3 1 0.4 1 0.4 1 -0.7 1 -2.1 1 -1.9 1 -3 1 3.4 1 -0.4 1 -4.7 1 -0.4 1 2.6 1 -0.3 1 0.6 1 0.3 1 -2.8 1 -1.5 1 -5.3 1 -2.4 1 1.5 1 2.5 1 -1.5 1 -0.4 1 1.4 1 1.9 1 1.4 1 0.9 1 4 1 0.9 1 1.5 1 2.7 1 1.1 1 0.4 1 0.9 1 -1.8 1 -3.6 1 1.8 1 1.1 1 1.1 1 0.8 1 4.2 1 -2.5 1 3.3 1 2.9 1 2.1 1 -0.1 1 -0.5 1 -4 1 -2.3 1 -3 1 -3.6 1 -3.3 1 0.1 1 -0.6 1 -0.4 1 -4.5 1 -0.2 1 3.2 1 2 1 3.5 1 0.4 1 2.3 1 -5.3 1 -0.4 1 -1 1 0.3 1 -2 1 -1.5 1 -2.8 1 -0.7 1 -4 1 -2.1 1 -2.4 1 -4.9 1 -3.7 1 -4.1 1 4.9 1 4.3 1 3.8 1 4.4 1 11.4" fill="none" stroke="#ED7D31" stroke-width="3.90" stroke-linejoin="round" stroke-linecap="round"/><path d="M88.1 1147.1 l1 1.8 1 -1 1 0 1 1.3 1 -1.5 1 -1.3 1 -2.6 1 -2.3 1 -3.6 1 -4.5 1 -4.9 1 -4.2 1 -4.2 1 -4.8 1 -1.1 1 -2.1 1 -2.3 1 0.7 1 0.2 1 -1.1 1 1 1 -2.1 1 2.9 1 5.5 1 0.1 1 6.4 1 8.6 1 3.5 1 0.1 1 -3.9 1 0.5 1 1.7 1 5.1 1 -1.2 1 0 1 -2.1 1 -1.5 1 -1.5 1 -5.2 1 0.6 1 -4.4 1 -5.3 1 -3 1 -2.5 1 -3.3 1 -4.2 1 -3.9 1 -4.6 1 -0.5 1 -6.8 1 -3.7 1 0.7 1 0 1 -0.6 1 2.9 1 0.8 1 -1.5 1 0.7 1 1.3 1 0.1 1 -3 1 3.4 1 -6.7 1 -2.2 1 -2.8 1 -1.9 1 -3.1 1 -1.4 1 -3.9 1 -2 1 4.6 1 -2.1 1 -2.1 1 -3.9 1 1 1 1.9 1 -1.4 1 1.1 1 -3 1 4 1 0.1 1 2.1 1 -4.9 1 -1.6 1 5.6 1 -0.5 1 -2.8 1 -4.9 1 3.8 1 1 1 2.9 1 -2.1 1 1.1 1 -1.8 1 -1.7 1 -0.9 1 0.1 1 0.2 1 -3.6 1 -2.3 1 -5.6 1 4.9 1 -2.5 1 -2.4 1 1.3 1 0.2 1 1.6 1 1.5 1 -2 1 -0.1 1 0.2 1 -4.4 1 0.2 1 -2 1 -1.6 1 -2.9 1 4.4 1 9.3 1 14.8 1 0.8 1 10.1 1 2.9 1 3.9 1 6 1 8 1 3.7 1 -0.3 1 3.1 1 1.7 1 2.1 1 -2.3 1 -1.9 1 -4.3 1 -2.9 1 -1.6 1 0.5 1 -3.5 1 2.8 1 -3.5 1 -4.9 1 0 1 1.2 1 -1.5 1 3 1 1.8 1 -0.2 1 -2.1 1 3.3 1 -3.4 1 -1.8 1 -7.1 1 9.1 1 0.1 1 2.4 1 -5.8 1 4.1 1 0 1 -0.5 1 2 1 2.5 1 2.9 1 5.6 1 6.9 1 4.6 1 0 1 5.5 1 0.8 1 4.6 1 -0.7 1 -2.1 1 1.7 1 2 1 7 1 2.6 1 3.1 1 3.7 1 -1.6 1 -3.4 1 -2.7 1 -1.1 1 -9.1 1 -8.6 1 -9.8 1 -13.5 1 -6.5 1 -8.3 1 -3.4 1 0.8 1 0.9 1 -2.7 1 4 1 -3.6 1 3.2 1 -0.3 1 3.1 1 -5.8 1 -0.4 1 4.5 1 1.8 1 2.6 1 0.3 1 1.2 1 0.9 1 2.7 1 -0.1 1 -1.2 1 1.7 1 -2.6 1 0 1 -1.4 1 -3.9 1 0.2 1 -0.7 1 -4.3 1 0.9 1 -4.3 1 -4.6 1 -6 1 -6.3 1 1.9 1 -0.3 1 -7.2 1 -0.1 1 -2.5 1 0.7 1 1.4 1 1.2 1 1.1 1 1.2 1 0.2 1 3.4 1 2.4 1 0.8 1 -0.3 1 0.1 1 4.9 1 2.3 1 0.5 1 0.9 1 5.7 1 -2 1 6 1 -2.3 1 1.7 1 -0.2 1 2.1 1 -2.2 1 1.1 1 -0.6 1 0.9 1 0.4 1 1.4 1 5.4 1 -0.7 1 -0.1 1 -2.1 1 -1 1 2.2 1 1.1 1 0.1 1 -0.5 1 1.3 1 0.3 1 1.2 1 -1.9 1 0.2 1 -5.9 1 1.3 1 2.3 1 -0.5 1 -1.2 1 -1 1 1.4 1 -2.8 1 -3 1 -2.6 1 0 1 -1.5 1 -0.7 1 -0.7 1 4 1 2.4 1 -0.6 1 -2.5 1 0.1 1 -0.5 1 1 1 0 1 1.4 1 5 1 6.1 1 7 1 3.9 1 -0.2 1 -0.4 1 3.8 1 0.7 1 -4.9 1 -1.8 1 -2.8 1 1.6 1 2 1 2.5 1 0.2 1 2.7 1 0 1 3.1 1 0.8 1 -0.8 1 -0.9 1 4.2 1 -3.3 1 -0.8 1 -0.3 1 0.6 1 1.9 1 -0.9 1 -0.3 1 -2 1 -1.2 1 -2.7 1 -0.4 1 2.1 1 -1.7 1 1.3 1 -1.9 1 0.2 1 -1.2 1 2.8 1 4.6 1 -0.8 1 2.1 1 2.7 1 2.3 1 2.8 1 2.8 1 2.1 1 2.8 1 2.5 1 1.7 1 0.8 1 -2.9 1 0.1 1 1.1 1 0.7 1 0.8 1 0.1 1 2.2 1 2.8 1 0.8 1 -1 1 -3.9 1 2.2 1 0.4 1 1.7 1 -2.8 1 0.1 1 -4.1 1 3 1 2.2 1 -1.7 1 -3.4 1 1.5 1 -2.4 1 -0.2 1 -3.2 1 2.7 1 -0.8 1 -1.3 1 -0.1 1 -2.7 1 0.1 1 -3.9 1 -1.6 1 -0.8 1 1.5 1 3.6 1 -5.1 1 -0.8 1 0.1 1 -1.8 1 0.4 1 -6.2 1 6.1 1 1.5 1 -1.1 1 -2.9 1 -0.3 1 1.2 1 -2.2 1 -4.9 1 0.5 1 -0.4 1 -1.4 1 -0.5 1 -5.1 1 1.3 1 1.7 1 1.3 1 -1.7 1 -3.2 1 -0.3 1 5.4 1 -4.1 1 -2.5 1 0.9 1 0.9 1 0.4 1 -5.7 1 -0.1 1 0.9 1 -3.7 1 -3.3 1 0.4 1 -0.3 1 -1 1 2.6 1 -2.3 1 1.6 1 -2 1 -5.9 1 0.1 1 -1.5 1 6.9 1 3.8 1 1 1 -4 1 3.4 1 0.9 1 5.8 1 2.3 1 0.8 1 -1 1 5.3 1 3.6 1 3.2 1 0.8 1 1.7 1 4.6 1 2.3 1 3.8 1 -1.6 1 1.9 1 -2.7 1 -1 1 7.6 1 -1.8 1 -1 1 1.4 1 1.2 1 -0.4 1 -0.2 1 4.2 1 1 1 -1 1 0 1 2.6 1 0.1 1 -4.8 1 3.5 1 -3.5 1 2.5 1 -1.5 1 -0.1 1 -0.8 1 1.6 1 5.5 1 2.3 1 4.7 1 -0.7 1 -2.3 1 -1.1 1 0.1 1 2.3 1 -0.8 1 -0.7 1 -4.1 1 -2.2 1 -5.5 1 -1.7 1 -2.4 1 -0.1 1 -5.5 1 -1 1 8.1 1 3.2 1 2.9 1 1.7 1 2.1 1 4.4" fill="none" stroke="#A5A5A5" stroke-width="3.90" stroke-linejoin="round" stroke-linecap="round"/><path d="M88.1 1157.7 l1 3.9 1 0.8 1 -0.1 1 1.4 1 5 1 -0.8 1 -1 1 0.4 1 -1.4 1 1.3 1 -3.5 1 -1.6 1 -1.7 1 -1.6 1 0.3 1 -1.7 1 0.2 1 2.9 1 -1.2 1 -1.2 1 0.3 1 2.1 1 3 1 0.9 1 3.9 1 0.8 1 5.4 1 1.7 1 0.5 1 -0.4 1 -1.6 1 -0.1 1 1.6 1 -2.6 1 5 1 -0.7 1 0.2 1 -7.9 1 -3.6 1 -3.8 1 -2.5 1 -8.4 1 -4 1 -5.7 1 -2.7 1 -6 1 -1.5 1 -7.1 1 -4 1 -3 1 -2.4 1 -1.7 1 -5.2 1 -3.2 1 1 1 -1.3 1 0.1 1 2.7 1 0.3 1 -2.1 1 -0.7 1 0.9 1 -1.7 1 0.1 1 -1.9 1 -0.5 1 -2.8 1 -1.6 1 -1.2 1 -1.8 1 -2.9 1 5.4 1 4.9 1 -4.2 1 0.1 1 1.6 1 3.3 1 -0.8 1 -2 1 0.4 1 0.8 1 -1.2 1 0.5 1 -5.6 1 -2.3 1 -6.2 1 0.3 1 3.9 1 1.6 1 -0.3 1 -3.2 1 2.5 1 -1 1 0.4 1 -4.3 1 -3.8 1 2.9 1 -3 1 -2.5 1 2.3 1 -0.9 1 -1.5 1 -11.1 1 -1.6 1 1.6 1 1.3 1 0.6 1 0.7 1 -4.5 1 1.4 1 0.2 1 -2.5 1 -4 1 0.2 1 1.8 1 5.3 1 1.3 1 7 1 8.5 1 8 1 8.5 1 11.2 1 -0.7 1 6.2 1 -1.1 1 -3.7 1 -0.6 1 -2.8 1 -4.2 1 -2.8 1 -0.5 1 -0.2 1 0.3 1 1.7 1 5 1 2.8 1 4.8 1 0.5 1 -0.3 1 6.9 1 0.1 1 -0.1 1 1.3 1 -0.2 1 0.4 1 2.5 1 1.3 1 -5.5 1 -0.8 1 -4.6 1 -0.1 1 -3.7 1 -0.1 1 -1.2 1 2.8 1 1.1 1 -0.2 1 -3 1 0.7 1 3.7 1 7.3 1 5.4 1 10.3 1 2.4 1 2.8 1 -0.8 1 1.4 1 3.4 1 -0.5 1 3.6 1 1.9 1 -3.9 1 1.7 1 9.2 1 2.8 1 6.9 1 -2.5 1 1.9 1 -2.2 1 1.1 1 -1.7 1 -3.2 1 -7.5 1 -3.7 1 -7.7 1 -10.2 1 -2.4 1 2.5 1 -2 1 3.8 1 -1.1 1 2.1 1 -2.5 1 -0.9 1 -1 1 -0.4 1 -0.6 1 4.5 1 5.4 1 2.1 1 3.7 1 1.6 1 -5 1 3.3 1 -2.2 1 -1.9 1 1.5 1 -6.2 1 -6.7 1 -3 1 -6.8 1 -6 1 -4.8 1 0.5 1 -5.2 1 -3 1 -9.6 1 -8.7 1 -3.1 1 -5.3 1 -1.2 1 0.2 1 0.2 1 1.7 1 -1 1 -4.1 1 2.5 1 3.1 1 -2.8 1 3.9 1 0.1 1 1.5 1 -1.2 1 4 1 -2.4 1 1.5 1 1.7 1 3.8 1 2.8 1 -2.9 1 -7.9 1 -4 1 1.2 1 -0.4 1 2.5 1 1.3 1 0.1 1 -0.4 1 2.5 1 0.4 1 1.1 1 3.6 1 -2 1 3.8 1 3.7 1 -0.5 1 2.2 1 -1.5 1 3.9 1 -0.9 1 3.6 1 1.2 1 0 1 4.1 1 1.5 1 -0.1 1 -0.4 1 2 1 -1.5 1 -0.8 1 0.7 1 1.2 1 0.6 1 0.1 1 -5.9 1 0.9 1 1.7 1 -5.1 1 2.8 1 -4.5 1 1.4 1 1.1 1 0.2 1 -0.6 1 -3.9 1 -1.2 1 3.1 1 1.9 1 1.2 1 4 1 4.1 1 4.3 1 4.6 1 8 1 5.8 1 -1 1 -1.4 1 2.8 1 -1.2 1 2 1 1 1 -1.6 1 4.4 1 -0.2 1 -3 1 0.3 1 1.2 1 1.8 1 -0.1 1 0.2 1 -0.1 1 -0.5 1 -0.8 1 -1.4 1 2.5 1 -3.7 1 -3.9 1 1.8 1 1 1 -2.4 1 -0.1 1 4.2 1 2.1 1 -4.2 1 3.3 1 2.4 1 -0.6 1 -1.6 1 -1.8 1 4.7 1 -1 1 1.4 1 -0.4 1 4 1 -0.2 1 -1.5 1 -2.5 1 -0.2 1 -0.2 1 -0.7 1 -1.5 1 -3.9 1 -3.4 1 -1.3 1 -3 1 -2.3 1 0.2 1 -0.5 1 -3.1 1 0.5 1 -6.3 1 2.5 1 -0.3 1 -1.2 1 -1 1 -2.8 1 0.5 1 -4.5 1 -1.1 1 -4.8 1 -2.8 1 -0.5 1 -3.2 1 -2.8 1 -1.8 1 -2.3 1 -4.7 1 -3.8 1 0.4 1 -1.6 1 -1.2 1 -1.1 1 3.6 1 -2.3 1 5.3 1 1.2 1 3.9 1 -1.1 1 -4.8 1 -2.7 1 2.2 1 0.7 1 -0.8 1 -3.9 1 -1.2 1 -3.5 1 -3.7 1 -2.1 1 -4.2 1 -0.7 1 1 1 6.5 1 4.6 1 -0.2 1 2.1 1 1.6 1 1.4 1 -0.6 1 0.3 1 2.1 1 2.6 1 -3.9 1 2.7 1 -1.7 1 -3.4 1 -5.2 1 -1.8 1 -6.5 1 -3.7 1 -2.9 1 0.9 1 -1.1 1 -1.5 1 -3.2 1 4.5 1 -2 1 1.5 1 -1.7 1 0.1 1 0.1 1 -2.8 1 -2 1 4.2 1 0.5 1 3.4 1 3.1 1 3.1 1 1.4 1 7.3 1 5.3 1 3.1 1 1.4 1 0 1 -0.8 1 3.8 1 1.8 1 -1.9 1 -4.3 1 0.1 1 -1.2 1 -1.8 1 2.8 1 -0.6 1 1.3 1 1.1 1 -0.9 1 -1.6 1 7.3 1 -2.6 1 0.3 1 -5.6 1 1 1 -0.9 1 3 1 0 1 -2 1 -0.3 1 -1.3 1 -0.4 1 -3.4 1 -0.9 1 0.8 1 0.1 1 1.9 1 -1.2 1 1.9 1 1.3 1 4 1 -0.1 1 -0.6 1 0.5 1 1.8 1 1 1 -1 1 1.5 1 1 1 1.6 1 -0.7 1 2 1 1.2 1 -3.2 1 0.7 1 -0.8 1 -0.1 1 -3.1 1 -1.5 1 -0.1 1 7 1 5 1 4" fill="none" stroke="#FFC000" stroke-width="3.90" stroke-linejoin="round" stroke-linecap="round"/><path d="M88.1 1162.0 l1 2.4 1 0 1 -0.2 1 1 1 3.3 1 -2.1 1 4.2 1 1.5 1 -6.1 1 -2.2 1 -2.1 1 -1.4 1 -1.3 1 5.4 1 -2 1 -5 1 1.4 1 -0.5 1 -1.2 1 3 1 2.4 1 1.6 1 3.1 1 3 1 4 1 5.7 1 0 1 -1.2 1 0.6 1 -2.1 1 -3.2 1 -4.3 1 -1 1 -3.3 1 -0.8 1 0.1 1 -5.7 1 -4.6 1 -3.9 1 -4.5 1 -3.1 1 -2.9 1 -6.3 1 -5.9 1 -4.4 1 -1.9 1 -3.9 1 -10.1 1 -5.6 1 -3 1 -2.1 1 -3 1 1.8 1 -6.2 1 6.8 1 -1 1 1.6 1 1.2 1 1.7 1 1.9 1 -2.3 1 -8.8 1 1.2 1 -2.9 1 -1.8 1 0.3 1 -3.3 1 1.6 1 -4.9 1 2.8 1 0.2 1 -1 1 1.1 1 -1.1 1 1 1 3.2 1 -2.1 1 0.7 1 -2.3 1 1.7 1 2.2 1 1.4 1 2 1 -4.5 1 -3.7 1 -5.4 1 -0.6 1 3 1 0.9 1 -0.7 1 0.3 1 0 1 -5 1 -1.6 1 1.9 1 -1.1 1 0 1 -4.2 1 -0.5 1 -4.4 1 -0.6 1 -6.4 1 -0.1 1 -3 1 -1.9 1 3.4 1 4.5 1 -0.2 1 -3.6 1 -2.2 1 -1.5 1 1.6 1 -3.9 1 1.6 1 -2 1 0.6 1 2.4 1 2.1 1 7.5 1 10.5 1 9 1 11.8 1 -1.7 1 -0.6 1 -1.6 1 0.6 1 -0.5 1 -1.5 1 1.9 1 3 1 -3.4 1 -2.9 1 -7.1 1 -7.4 1 -4.5 1 0.8 1 -0.7 1 -2.5 1 0.1 1 -0.7 1 1.4 1 1.1 1 4.3 1 -0.5 1 1.9 1 -1.3 1 -0.6 1 -1.5 1 2.4 1 -1.1 1 -0.8 1 -1.6 1 -0.7 1 -2.5 1 6.4 1 3.7 1 -0.2 1 -1.6 1 1.9 1 4.3 1 8.4 1 6.4 1 4.7 1 4.8 1 3.9 1 3.3 1 8.7 1 -0.9 1 -0.8 1 4.9 1 0.2 1 -2.4 1 7.7 1 3.3 1 5.7 1 1.9 1 0.8 1 0.3 1 -0.7 1 0.1 1 -4.8 1 -6.5 1 -4.8 1 -4 1 -5 1 -7.8 1 -1.4 1 0.1 1 -2.2 1 -1.9 1 -1 1 -2 1 1.4 1 0.4 1 -2.7 1 1 1 2.9 1 -1.1 1 0.7 1 6.8 1 3.7 1 1.4 1 -2.9 1 1.5 1 1 1 2.4 1 -4.1 1 -3.1 1 1.7 1 -7.8 1 -0.8 1 -10.3 1 -2.9 1 -1.2 1 -9.6 1 -3 1 -5.1 1 -10.9 1 -2.7 1 -4.2 1 -1.2 1 -0.5 1 1.3 1 -0.4 1 -0.3 1 -1.7 1 1.7 1 1.7 1 2.2 1 3.3 1 0.5 1 -1 1 0.7 1 -1.6 1 0.9 1 0.5 1 -0.9 1 2.9 1 4.2 1 4.3 1 0 1 6.3 1 0.5 1 1.7 1 -0.5 1 6.6 1 -0.2 1 -1.1 1 4.2 1 -0.5 1 2 1 -0.3 1 -5 1 1 1 9.6 1 1.3 1 -1.5 1 1.7 1 4.1 1 2.9 1 -2.8 1 4.3 1 0.1 1 0.9 1 -0.4 1 -3 1 -4.3 1 -0.1 1 5.1 1 0.3 1 0 1 6.2 1 2.4 1 2.3 1 -6.2 1 1.4 1 -1.2 1 6.4 1 0.8 1 -1.1 1 2.2 1 -0.2 1 2.4 1 1.7 1 0.3 1 4 1 -0.4 1 6.7 1 3.7 1 3.1 1 -3.9 1 4.4 1 0.3 1 5 1 3.1 1 2 1 4.3 1 -2 1 -1 1 1.8 1 0.3 1 -3.9 1 1.7 1 -0.7 1 0.1 1 2.7 1 -1.1 1 2.6 1 2.9 1 2 1 -0.5 1 1 1 1.1 1 9.4 1 -3.4 1 -0.5 1 -0.6 1 2.1 1 2.8 1 2.3 1 1 1 -2.7 1 -2.2 1 -8.3 1 -2.6 1 1.5 1 -1.6 1 -4.4 1 -2.8 1 -0.2 1 0 1 1.5 1 -0.9 1 -2.8 1 -7.5 1 -0.1 1 -0.1 1 -3.7 1 -1.7 1 -3.5 1 -2.4 1 -2.5 1 -3.2 1 -2.5 1 0.5 1 0.1 1 1.6 1 -1 1 0.3 1 1.6 1 4 1 -4.6 1 0.5 1 -0.2 1 6.4 1 1.9 1 -1.5 1 -4.2 1 0.9 1 0.5 1 0.3 1 -3.1 1 -1.9 1 -0.5 1 -1 1 -8.4 1 0.7 1 -4.7 1 -0.5 1 1.2 1 -4.3 1 -0.8 1 1.2 1 -3.4 1 2.9 1 -2.2 1 -1.7 1 -4.9 1 -0.7 1 3.2 1 3 1 2.9 1 -1.3 1 3.1 1 -1 1 -2.6 1 -2.4 1 1.6 1 2.9 1 0.8 1 -1.7 1 -3.3 1 -1.9 1 -1.1 1 3.2 1 -1.7 1 1.8 1 -1 1 0.6 1 -0.2 1 0.3 1 2.6 1 3.3 1 -4.3 1 -1.6 1 -2.8 1 -0.2 1 -1.8 1 0.6 1 -1.6 1 -1.5 1 -3.1 1 -0.1 1 -5.3 1 3.1 1 -3.8 1 2.6 1 0.6 1 0.5 1 -0.9 1 -0.5 1 -6.6 1 -1.8 1 4.7 1 -3.1 1 0.6 1 3.1 1 1.8 1 -2.4 1 -0.6 1 1.4 1 0.3 1 0.3 1 0.7 1 0.7 1 2.2 1 0.6 1 0.9 1 -2.1 1 2.6 1 6.4 1 -1.2 1 2.7 1 6.2 1 -0.7 1 1.6 1 0.5 1 -0.6 1 0.6 1 0.1 1 -6 1 0.3 1 -0.8 1 -1.7 1 -2.7 1 -2.3 1 1.3 1 -1.1 1 0.2 1 -6.8 1 -2.4 1 -1.5 1 -1.6 1 2.6 1 3.1 1 -9.6 1 0.5 1 14 1 1.4 1 1.4 1 3.1 1 -3.2 1 1.4 1 -1.5 1 0.3 1 -2.3 1 -0.4 1 0 1 -1.8 1 -0.6 1 0.6 1 -0.7 1 -2.7 1 -1.3 1 2.5 1 -6.6 1 3 1 6 1 5 1 4.7 1 2.9" fill="none" stroke="#5B9BD5" stroke-width="3.90" stroke-linejoin="round" stroke-linecap="round"/><path d="M88.1 1149.5 l1 3 1 1.6 1 0.8 1 -0.2 1 -2.5 1 -0.2 1 -2.8 1 2.3 1 -3.4 1 -5.1 1 0 1 -6.6 1 -2.1 1 -5.4 1 3.3 1 -3 1 -2.2 1 3.2 1 2.1 1 -3.4 1 3.8 1 0.2 1 0.7 1 3.9 1 3.3 1 2.4 1 2.5 1 4 1 -1.5 1 1.4 1 -7.7 1 -2.8 1 1.1 1 4.5 1 -0.7 1 -1.6 1 -2.5 1 -1.7 1 0.2 1 -2.7 1 -3.4 1 -7 1 -6.2 1 -7.3 1 -6.1 1 -5.3 1 -2.1 1 -10.8 1 -1.4 1 -2.6 1 -2.3 1 2.3 1 0.7 1 1 1 -0.5 1 2.7 1 -6.7 1 9.3 1 2.8 1 0.7 1 -3.7 1 0 1 -0.6 1 -2.4 1 -0.5 1 -6.1 1 -1.3 1 0.7 1 0.6 1 -0.8 1 0.1 1 -2.2 1 -2.8 1 3.5 1 5.7 1 -5 1 1.8 1 0.9 1 5.3 1 -1.4 1 1.8 1 -2.3 1 0 1 -1.5 1 -1 1 -2.2 1 -2.5 1 -4.2 1 -0.1 1 2.6 1 4.1 1 -0.8 1 -1.3 1 -2.7 1 -3 1 -2.4 1 -0.1 1 -4.5 1 -2.7 1 -1.4 1 0.5 1 -3.8 1 -2.4 1 0.1 1 3.1 1 0.9 1 0.9 1 -7.3 1 -2.3 1 -1.7 1 4.9 1 -0.2 1 0.3 1 -0.6 1 2.8 1 -1.4 1 3.4 1 -1.6 1 5.8 1 4.5 1 9.4 1 5.8 1 1.8 1 2.3 1 2.2 1 1.5 1 11.2 1 3.1 1 -0.4 1 8.2 1 -3.6 1 -7.2 1 -4.1 1 -2.2 1 -2.8 1 0.4 1 1.4 1 -1.8 1 -2.1 1 -1.5 1 -0.8 1 0.1 1 3.2 1 -1.9 1 -1.8 1 -2 1 1 1 -1.1 1 -2 1 0.5 1 -1.7 1 0.1 1 -0.6 1 2.5 1 -1.6 1 -2.3 1 4.1 1 0 1 -0.2 1 2 1 4.6 1 3.3 1 5.8 1 2.6 1 0.7 1 2.2 1 2.6 1 0.2 1 5.1 1 2 1 1.1 1 3.9 1 7.6 1 -0.3 1 1.8 1 6.6 1 1.1 1 -2.5 1 1.1 1 -0.9 1 -3.3 1 -5.6 1 -6.6 1 -2.7 1 -5.8 1 -2.4 1 -1.8 1 -0.3 1 -1.5 1 -4.2 1 0.9 1 3.9 1 1.2 1 -6.1 1 -0.6 1 2.2 1 0.3 1 5.9 1 5.6 1 1.4 1 2 1 -0.1 1 2.5 1 -4.5 1 0.8 1 1.7 1 1.8 1 -3.8 1 -4.3 1 -1.8 1 -5.1 1 0.7 1 -2.2 1 -1.2 1 -0.7 1 -4.9 1 -7 1 -10 1 -3.5 1 -5.1 1 -0.6 1 -2.7 1 -6.3 1 -0.6 1 -3 1 0.7 1 1.6 1 1.2 1 -0.3 1 0.5 1 -3 1 2.8 1 2.5 1 4.1 1 2.3 1 1.6 1 1.1 1 -0.6 1 0.2 1 -4.9 1 -2.1 1 -1.5 1 0 1 0.2 1 3.9 1 3 1 3.2 1 0.6 1 -4.5 1 4.2 1 4.1 1 6.4 1 3 1 1 1 -3.8 1 0.9 1 1.2 1 0.5 1 1.5 1 2.8 1 0.6 1 -2 1 2.8 1 -1.2 1 2.9 1 1.1 1 2.2 1 -1.1 1 0.3 1 2.6 1 1.4 1 1.3 1 -2.3 1 -1.6 1 -6 1 -1 1 -2.6 1 -3.9 1 -4.4 1 1.1 1 3.7 1 1.2 1 0.2 1 -0.6 1 1.3 1 -1.3 1 1.3 1 2.7 1 -0.1 1 7.8 1 6.1 1 7.9 1 5 1 2.5 1 1.4 1 0.9 1 -4.3 1 2.1 1 6 1 -3.8 1 2.4 1 1.7 1 1.2 1 0.9 1 -0.3 1 -0.6 1 2.6 1 2 1 4.5 1 0.9 1 -0.9 1 1.6 1 -2.3 1 7.3 1 0.8 1 4 1 2.2 1 -3.1 1 3 1 5.6 1 3.4 1 -5.8 1 -0.6 1 -9 1 -4.1 1 0.1 1 0 1 2.4 1 6.5 1 0.2 1 2.8 1 2.4 1 0.3 1 1 1 0.4 1 -2.2 1 2.3 1 -0.9 1 -1.1 1 -1.9 1 -4.7 1 -6.1 1 -3.8 1 -8.7 1 -1.6 1 -1 1 0.2 1 1.6 1 -1.1 1 0 1 0.1 1 2.2 1 -1.3 1 -0.3 1 -2.9 1 3.1 1 0.8 1 0.1 1 0 1 -3.9 1 -3.2 1 0.2 1 -1.6 1 -5.6 1 -1.6 1 -0.5 1 -1.4 1 -1.5 1 -0.8 1 -2 1 -3.5 1 -0.3 1 -1.9 1 7 1 -1.7 1 -7.5 1 5.2 1 2.2 1 0.2 1 -1.6 1 -0.1 1 0.1 1 -8 1 -0.2 1 -4.8 1 4.4 1 -5.1 1 4.9 1 0.7 1 -1.4 1 -0.3 1 0.8 1 3.1 1 -0.2 1 1.3 1 4.5 1 1.6 1 3.1 1 0.5 1 -4.3 1 -2.1 1 1.1 1 -3.8 1 -0.6 1 -0.1 1 -2.9 1 0.3 1 3.3 1 -4.2 1 -2.2 1 -5 1 -3 1 -1.1 1 -1.8 1 0.8 1 -2.7 1 -2.5 1 2.5 1 -2.7 1 -0.5 1 0.3 1 -1 1 -0.8 1 -2.2 1 -1.5 1 8.6 1 3.6 1 2 1 3.7 1 -4.2 1 -3.2 1 -3 1 -2.4 1 2.8 1 -3.2 1 1.6 1 -0.7 1 0.6 1 2 1 -0.9 1 1.5 1 0.3 1 -1 1 -0.3 1 -3.3 1 -0.3 1 2.3 1 -2.4 1 -0.2 1 0.5 1 -2.7 1 1.1 1 -1.8 1 -1.4 1 -0.2 1 0.3 1 -2 1 -1.2 1 1.6 1 -3.7 1 -2.5 1 -2.2 1 0.5 1 -1.6 1 -2.7 1 7.6 1 3.6 1 4.5 1 6.8 1 4.6 1 4 1 1.9 1 -1.3 1 -2.8 1 -6.7 1 -4.6 1 -3 1 -3.5 1 -4.8 1 -2.7 1 -0.6 1 6.4 1 -11.3 1 -4 1 -1.1 1 0.2 1 3.3 1 5 1 6.1 1 4.7 1 9.1" fill="none" stroke="#70AD47" stroke-width="3.90" stroke-linejoin="round" stroke-linecap="round"/><path d="M88.1 1152.5 l1 1.5 1 3.2 1 2.8 1 -0.1 1 0 1 1.5 1 0.7 1 -1 1 -2.3 1 -1.6 1 -1.6 1 -2.8 1 -3.2 1 -0.6 1 -1.9 1 0.4 1 -3.9 1 -0.4 1 0.8 1 -2 1 -1.3 1 5.2 1 1.7 1 0.2 1 -2.1 1 7.6 1 2.6 1 1.6 1 4 1 -3 1 -3.7 1 -7.1 1 -2.4 1 2.6 1 -0.2 1 0.3 1 0.8 1 -2.6 1 -4.1 1 -2.2 1 -3.3 1 -6.1 1 -5 1 -2.3 1 -4.9 1 -4.1 1 -5.6 1 -7 1 -3.5 1 -0.9 1 -4 1 -2.4 1 0.2 1 0 1 3 1 3.5 1 -0.5 1 0.4 1 5.6 1 -1.1 1 -2.5 1 -3.5 1 -2.5 1 -1.3 1 -0.7 1 -0.4 1 -0.8 1 -3.6 1 -0.8 1 -0.8 1 0.4 1 2.6 1 -0.5 1 0.8 1 0 1 0.5 1 0.7 1 2.7 1 -2.2 1 3 1 1.6 1 0.6 1 -3.4 1 -5 1 -1.8 1 -1.7 1 -3.2 1 2.5 1 0.8 1 -0.3 1 1.2 1 -1.1 1 -0.4 1 1.9 1 -1.5 1 -5.6 1 -2.3 1 0 1 5.6 1 -3.1 1 -1.7 1 -11.1 1 -0.3 1 -2.2 1 2.8 1 -0.7 1 -0.6 1 -1.6 1 -1 1 -1.7 1 -3.9 1 -0.4 1 0.2 1 -1.1 1 -1.5 1 4.3 1 4.7 1 3 1 7.9 1 11 1 9.2 1 10.3 1 2.9 1 2.9 1 1.8 1 3.2 1 4.3 1 3.4 1 3.6 1 0.5 1 -3.7 1 -3.6 1 -3.3 1 -3.4 1 -3.7 1 1.3 1 -1.7 1 -2.8 1 -2.9 1 0.5 1 1.3 1 2.5 1 -0.6 1 0.7 1 -0.5 1 -0.3 1 1.1 1 -1.9 1 -1.9 1 -2.2 1 -2.2 1 5.3 1 -4.5 1 -2.1 1 1.3 1 1 1 2.9 1 1.8 1 2.4 1 3.3 1 6.3 1 3.1 1 5.3 1 3.4 1 2.1 1 1.2 1 0.8 1 0.5 1 6.4 1 2.2 1 1.1 1 2 1 3.9 1 3 1 4.9 1 2.9 1 -0.6 1 0.7 1 0.2 1 4.2 1 -5.2 1 -6.3 1 -3.1 1 -10.5 1 -6.1 1 -7.2 1 5.6 1 -2.5 1 0.6 1 -0.7 1 -2.2 1 0.6 1 0.7 1 4.4 1 2.1 1 0.2 1 -2.4 1 4.1 1 -2.4 1 3.7 1 6.2 1 1.7 1 -3.3 1 -1.6 1 0.2 1 -1 1 -1.1 1 -0.6 1 0.5 1 -3.3 1 -1.7 1 -2.1 1 -3.7 1 -1.3 1 -2.5 1 1.6 1 -8.2 1 -8.5 1 -3 1 -7.3 1 -2.6 1 6.6 1 -7.5 1 -2.1 1 -1.7 1 -0.6 1 2.9 1 0.3 1 -1 1 -1.2 1 3.4 1 4.6 1 1.5 1 -0.3 1 3.3 1 -0.6 1 -1.3 1 2 1 -1.4 1 -7.2 1 -5.2 1 -4.4 1 5.8 1 1 1 2.9 1 3.1 1 0.8 1 1.4 1 -3.6 1 4.6 1 -1 1 -1.1 1 -1.2 1 4.7 1 4 1 5.5 1 0.1 1 0.4 1 4.8 1 5.1 1 1.9 1 5.6 1 1.9 1 1.9 1 8.5 1 -4.2 1 4.7 1 1.6 1 8.7 1 -0.6 1 -1.9 1 -1.3 1 -3.4 1 -2.2 1 -2.4 1 -4.7 1 -3.9 1 -6 1 -1.5 1 -0.1 1 -0.1 1 1.1 1 -0.1 1 -0.7 1 -2.4 1 1.2 1 1.4 1 4.7 1 2 1 3.9 1 3.1 1 2.4 1 2.2 1 1.3 1 5.7 1 4.7 1 2.1 1 1.9 1 3.7 1 -0.5 1 -0.8 1 -0.8 1 1.2 1 -0.8 1 1.4 1 -1.5 1 2.7 1 1.8 1 0.7 1 -1.1 1 4.2 1 2.1 1 -3.7 1 -1.5 1 5.3 1 2.1 1 10.2 1 9 1 1.1 1 -5.1 1 -2.2 1 -0.7 1 -4 1 -0.5 1 -2.9 1 -2.1 1 -4.2 1 -5.3 1 2.2 1 5.3 1 1 1 1.1 1 -1.8 1 -2.2 1 -2.4 1 -1.6 1 6.2 1 1.3 1 -8.7 1 -19.1 1 -3.4 1 -0.4 1 1.8 1 1.3 1 1.8 1 -2.5 1 -3 1 -2.4 1 -4.8 1 -5.5 1 0.2 1 6 1 0.7 1 4.9 1 0.7 1 0.6 1 2.6 1 -1.2 1 -4.2 1 -5.4 1 -3.6 1 9.5 1 6.6 1 6.6 1 -1.1 1 -3.5 1 -5.1 1 -9.6 1 4 1 -0.9 1 -5.2 1 0.1 1 1.9 1 2.5 1 -4.1 1 -4.8 1 5.5 1 11.5 1 13.5 1 -2.6 1 -4.2 1 2.1 1 -1 1 3 1 0.8 1 2.2 1 6.7 1 9.4 1 8.7 1 -5.2 1 -3.7 1 -0.7 1 -1 1 -1.9 1 -2.6 1 0 1 -2.3 1 1.7 1 -0.5 1 -0.2 1 -3.2 1 -4.1 1 -2.1 1 -0.7 1 -0.4 1 -1.3 1 -10.9 1 9.7 1 0.3 1 -5.3 1 3.3 1 -5.5 1 -5.2 1 -1.1 1 -0.6 1 -4.4 1 -3.9 1 1.8 1 -3 1 -0.3 1 -1.6 1 -1.4 1 -2.2 1 4.2 1 4.1 1 0 1 1.6 1 1.6 1 0.7 1 0.9 1 -0.2 1 0.2 1 -0.2 1 2.4 1 0.2 1 1.5 1 1.6 1 1.4 1 2.1 1 -1.5 1 -6.6 1 -2.9 1 -4.8 1 -1.6 1 -0.9 1 0.5 1 1 1 0.9 1 -0.6 1 5.3 1 2.8 1 -5.3 1 5.6 1 2 1 -1.2 1 -4.7 1 -3.6 1 -2 1 -0.5 1 -1.9 1 -3.9 1 -2.5 1 1.4 1 -3.3 1 -4.4 1 -1.2 1 4 1 1.7 1 5.7 1 -3.6 1 -5.3 1 -6.9 1 -5.8 1 -4.4 1 -0.3 1 -1.4 1 -1.3 1 -1.1 1 0.9 1 1.9 1 0.5 1 1.6 1 -3.6 1 -4.1 1 -2.3 1 7.3 1 8.2 1 5.1 1 4 1 4 1 6.3" fill="none" stroke="#264478" stroke-width="3.90" stroke-linejoin="round" stroke-linecap="round"/><line x1="117.8" y1="1271.3" x2="150.3" y2="1271.3" stroke="#4472C4" stroke-width="3.3" stroke-linecap="round"/><text x="153.6" y="1274.9" font-size="11.4" textLength="47.7" lengthAdjust="spacingAndGlyphs">BTC-SSE</text><line x1="211.7" y1="1271.3" x2="244.2" y2="1271.3" stroke="#ED7D31" stroke-width="3.3" stroke-linecap="round"/><text x="247.5" y="1274.9" font-size="11.4" textLength="47.7" lengthAdjust="spacingAndGlyphs">ETH-SSE</text><line x1="305.6" y1="1271.3" x2="338.1" y2="1271.3" stroke="#A5A5A5" stroke-width="3.3" stroke-linecap="round"/><text x="341.4" y="1274.9" font-size="11.4" textLength="48.3" lengthAdjust="spacingAndGlyphs">BNB-SSE</text><line x1="399.5" y1="1271.3" x2="432.0" y2="1271.3" stroke="#FFC000" stroke-width="3.3" stroke-linecap="round"/><text x="435.3" y="1274.9" font-size="11.4" textLength="48.3" lengthAdjust="spacingAndGlyphs">XRP-SSE</text><line x1="117.8" y1="1295.7" x2="150.3" y2="1295.7" stroke="#5B9BD5" stroke-width="3.3" stroke-linecap="round"/><text x="153.6" y="1299.3" font-size="11.4" textLength="48.3" lengthAdjust="spacingAndGlyphs">ADA-SSE</text><line x1="211.7" y1="1295.7" x2="244.2" y2="1295.7" stroke="#70AD47" stroke-width="3.3" stroke-linecap="round"/><text x="247.5" y="1299.3" font-size="11.4" textLength="45.6" lengthAdjust="spacingAndGlyphs">LTC-SSE</text><line x1="305.6" y1="1295.7" x2="338.1" y2="1295.7" stroke="#264478" stroke-width="3.3" stroke-linecap="round"/><text x="341.4" y="1299.3" font-size="11.4" textLength="50.1" lengthAdjust="spacingAndGlyphs">XMR-SSE</text></g>
<g><rect x="602.0" y="990.7" width="596.6" height="323.6" fill="#fff" stroke="#e3e3e3" stroke-width="1.2"/><text x="749.8" y="1017.0" font-size="17.0" textLength="298.9" lengthAdjust="spacingAndGlyphs">Asset-backed cryptocurrencies vs SSE</text><line x1="687.9" y1="1041.4" x2="1179.7" y2="1041.4" stroke="#d9d9d9" stroke-width="1"/><text x="673.1" y="1046.0" font-size="12.8" text-anchor="end" textLength="56.8" lengthAdjust="spacingAndGlyphs">0.250000</text><line x1="687.9" y1="1063.6" x2="1179.7" y2="1063.6" stroke="#d9d9d9" stroke-width="1"/><text x="673.1" y="1068.2" font-size="12.8" text-anchor="end" textLength="56.8" lengthAdjust="spacingAndGlyphs">0.200000</text><line x1="687.9" y1="1085.8" x2="1179.7" y2="1085.8" stroke="#d9d9d9" stroke-width="1"/><text x="673.1" y="1090.5" font-size="12.8" text-anchor="end" textLength="56.8" lengthAdjust="spacingAndGlyphs">0.150000</text><line x1="687.9" y1="1108.1" x2="1179.7" y2="1108.1" stroke="#d9d9d9" stroke-width="1"/><text x="673.1" y="1112.7" font-size="12.8" text-anchor="end" textLength="56.8" lengthAdjust="spacingAndGlyphs">0.100000</text><line x1="687.9" y1="1130.3" x2="1179.7" y2="1130.3" stroke="#d9d9d9" stroke-width="1"/><text x="673.1" y="1134.9" font-size="12.8" text-anchor="end" textLength="56.8" lengthAdjust="spacingAndGlyphs">0.050000</text><line x1="687.9" y1="1152.5" x2="1179.7" y2="1152.5" stroke="#d9d9d9" stroke-width="1"/><text x="673.1" y="1157.1" font-size="12.8" text-anchor="end" textLength="56.8" lengthAdjust="spacingAndGlyphs">0.000000</text><line x1="687.9" y1="1174.7" x2="1179.7" y2="1174.7" stroke="#d9d9d9" stroke-width="1"/><text x="673.1" y="1179.3" font-size="12.8" text-anchor="end" textLength="61.3" lengthAdjust="spacingAndGlyphs">-0.050000</text><line x1="687.9" y1="1197.0" x2="1179.7" y2="1197.0" stroke="#d9d9d9" stroke-width="1"/><text x="673.1" y="1201.6" font-size="12.8" text-anchor="end" textLength="61.3" lengthAdjust="spacingAndGlyphs">-0.100000</text><line x1="687.9" y1="1219.2" x2="1179.7" y2="1219.2" stroke="#d9d9d9" stroke-width="1"/><text x="673.1" y="1223.8" font-size="12.8" text-anchor="end" textLength="61.3" lengthAdjust="spacingAndGlyphs">-0.150000</text><line x1="687.9" y1="1241.4" x2="1179.7" y2="1241.4" stroke="#d9d9d9" stroke-width="1"/><text x="673.1" y="1246.0" font-size="12.8" text-anchor="end" textLength="61.3" lengthAdjust="spacingAndGlyphs">-0.200000</text><line x1="687.9" y1="1152.5" x2="687.9" y2="1156.5" stroke="#d9d9d9" stroke-width="1"/><line x1="784.2" y1="1152.5" x2="784.2" y2="1156.5" stroke="#d9d9d9" stroke-width="1"/><line x1="880.4" y1="1152.5" x2="880.4" y2="1156.5" stroke="#d9d9d9" stroke-width="1"/><line x1="976.7" y1="1152.5" x2="976.7" y2="1156.5" stroke="#d9d9d9" stroke-width="1"/><line x1="1072.9" y1="1152.5" x2="1072.9" y2="1156.5" stroke="#d9d9d9" stroke-width="1"/><line x1="1169.2" y1="1152.5" x2="1169.2" y2="1156.5" stroke="#d9d9d9" stroke-width="1"/><text x="687.9" y="1173.8" font-size="12.8" text-anchor="middle" textLength="52.5" lengthAdjust="spacingAndGlyphs">6-Apr-18</text><text x="784.2" y="1173.8" font-size="12.8" text-anchor="middle" textLength="52.5" lengthAdjust="spacingAndGlyphs">6-Apr-19</text><text x="880.4" y="1173.8" font-size="12.8" text-anchor="middle" textLength="52.5" lengthAdjust="spacingAndGlyphs">6-Apr-20</text><text x="976.7" y="1173.8" font-size="12.8" text-anchor="middle" textLength="52.5" lengthAdjust="spacingAndGlyphs">6-Apr-21</text><text x="1072.9" y="1173.8" font-size="12.8" text-anchor="middle" textLength="52.5" lengthAdjust="spacingAndGlyphs">6-Apr-22</text><text x="1169.2" y="1173.8" font-size="12.8" text-anchor="middle" textLength="52.5" lengthAdjust="spacingAndGlyphs">6-Apr-23</text><path d="M689.2 1147.5 l1 -0.3 1 -4.4 1 -0.1 1 -0.7 1 0.9 1 0.2 1 -3.2 1 -2.2 1 -0.8 1 -6.3 1 -1.7 1 -2 1 5.5 1 -2.6 1 -1.2 1 1.6 1 -2.1 1 -2.5 1 -4.4 1 -2.7 1 -1.5 1 0.2 1 0.3 1 3.3 1 3.4 1 -0.2 1 -0.1 1 0.3 1 3.3 1 1 1 -2.3 1 -1 1 -1.9 1 2.4 1 -0.9 1 -1.8 1 2.6 1 -1.6 1 -1.2 1 0.3 1 -1.9 1 6.3 1 -0.2 1 -0.1 1 1.6 1 2.7 1 3.6 1 3.8 1 1.3 1 3.3 1 3.4 1 2.8 1 1.8 1 -0.6 1 -1 1 2.2 1 -3 1 -4.7 1 -0.3 1 -0.5 1 -2.3 1 -5.4 1 -3.2 1 1.6 1 1.6 1 2.8 1 0.2 1 3.2 1 -1.4 1 4.4 1 -3.3 1 -4.2 1 2.2 1 -4.3 1 -3.3 1 -4.7 1 -4.6 1 -3.9 1 -1.4 1 -7.5 1 -10.6 1 -5.6 1 -6.6 1 -1.4 1 0.7 1 2.5 1 -1.2 1 1.4 1 7 1 2.6 1 7.3 1 0.1 1 6.1 1 4.3 1 3.5 1 2.1 1 -4.3 1 -3.7 1 -5.7 1 -5.8 1 -2.3 1 0.4 1 3.2 1 0.4 1 0.7 1 -0.2 1 1.6 1 -0.2 1 0.2 1 1 1 1.2 1 -2.7 1 3.7 1 1.2 1 1 1 1.7 1 3 1 -0.2 1 2 1 -1.5 1 8.1 1 -3.2 1 6.4 1 1.8 1 1.2 1 -0.3 1 -1.9 1 -1.2 1 2.3 1 -1.1 1 -0.9 1 0.7 1 -1.7 1 -0.6 1 0.5 1 1.2 1 0.4 1 2.6 1 -1.1 1 0.4 1 3.6 1 -1.9 1 3.6 1 0.5 1 0.7 1 -1.3 1 3.7 1 2.9 1 -1 1 -1 1 0.5 1 1.1 1 0.2 1 -1.5 1 3.2 1 1 1 1.5 1 -0.2 1 -1.8 1 -0.8 1 5 1 -0.7 1 -0.4 1 -0.5 1 0.2 1 -1 1 -3.8 1 -2.6 1 1.2 1 -1.3 1 -0.5 1 -0.1 1 -0.1 1 0.7 1 0.6 1 0.9 1 0.2 1 -0.9 1 0.7 1 -1.8 1 0.7 1 0.6 1 2.6 1 -1.2 1 -0.4 1 0.2 1 1.1 1 -1.2 1 -3.5 1 1.9 1 1.5 1 5 1 0.5 1 1.3 1 0.3 1 1.8 1 -0.6 1 1.5 1 -0.8 1 3.3 1 -1.2 1 -1 1 0.1 1 -0.7 1 2.1 1 1.1 1 3.7 1 2.9 1 2.4 1 1.5 1 3.3 1 3.2 1 -1.5 1 -3.3 1 -0.4 1 -3 1 2.1 1 -1.4 1 1.2 1 -2.5 1 -0.6 1 2.9 1 -1.1 1 -1 1 -1.5 1 -1.3 1 -0.3 1 2.2 1 0.1 1 2.3 1 -1 1 2.5 1 1.4 1 0.2 1 2.7 1 -1.7 1 0.4 1 0.9 1 -0.6 1 2.5 1 -0.6 1 3.4 1 -2.6 1 -0.7 1 1.3 1 3.5 1 0.1 1 -4.8 1 0.7 1 -2.6 1 0.6 1 -2.7 1 1.4 1 1.1 1 1.1 1 2 1 -0.5 1 -0.7 1 1.4 1 1.6 1 -1.9 1 1.8 1 2.6 1 -3.2 1 2.4 1 -4.1 1 -0.2 1 2.8 1 -0.2 1 -0.3 1 -2 1 -3.6 1 -1.6 1 0.4 1 -0.9 1 2.7 1 -1.7 1 -0.5 1 -9.6 1 7.5 1 0.7 1 -1.4 1 -0.8 1 -0.5 1 -1.1 1 2.6 1 -0.7 1 0.8 1 4 1 -3.1 1 -3.3 1 0.5 1 2.8 1 1.2 1 -3.1 1 2.1 1 3.4 1 0.4 1 2.9 1 1.9 1 0.1 1 3.4 1 3.4 1 2.7 1 1.7 1 -3.6 1 1 1 -1.9 1 -2.2 1 -4.2 1 -1.3 1 -2.3 1 -1 1 -4.1 1 -2.1 1 -0.9 1 -2.6 1 1.5 1 -3.1 1 1.9 1 0.6 1 -0.7 1 -6.7 1 -2.1 1 -0.1 1 2.6 1 -0.9 1 2.4 1 -0.4 1 1.3 1 2.7 1 -1.5 1 -1.6 1 1.3 1 2.3 1 -1.1 1 0.4 1 -0.6 1 4.1 1 0.6 1 3.5 1 0.5 1 -1.9 1 4.6 1 3.4 1 0.7 1 -1.1 1 1.2 1 1.1 1 1.9 1 5.1 1 -1.5 1 -0.2 1 -5.9 1 -0.9 1 -4.9 1 -4.4 1 -2.3 1 -1.2 1 0.8 1 -0.9 1 -1.5 1 -2.8 1 -1.2 1 0.7 1 2 1 -0.1 1 -1.6 1 -2.5 1 4.2 1 -1 1 -1.2 1 -3.1 1 -0.5 1 6.8 1 -1.3 1 1.9 1 2.5 1 3.2 1 2.7 1 -1.8 1 -0.8 1 8.4 1 1.1 1 0.1 1 -5.3 1 1.9 1 -0.4 1 1.3 1 -1.9 1 -2.9 1 2.2 1 -2.1 1 3.1 1 1.5 1 -1.6 1 -2.6 1 -0.4 1 4.4 1 -0.7 1 -1.8 1 -0.5 1 -2 1 -3.5 1 0.1 1 -1.3 1 -4.1 1 3.9 1 -2.2 1 3.3 1 -5.2 1 0.2 1 -1.6 1 -5.1 1 -0.6 1 0.6 1 -0.6 1 -1.5 1 -3.5 1 0.5 1 -2.5 1 -1.3 1 -2 1 -1 1 -2.7 1 -3.2 1 -0.7 1 -0.4 1 -3.5 1 0.2 1 -1.9 1 -2.8 1 -1.7 1 1.4 1 -2.4 1 0.7 1 0.2 1 0.9 1 -0.3 1 2.3 1 -1.2 1 -1.3 1 -1.4 1 0.6 1 -1 1 -2.3 1 0.3 1 -1.2 1 1.2 1 0.5 1 1.1 1 -3.5 1 3 1 -2.6 1 -0.6 1 -0.7 1 -1.8 1 -1.7 1 0.1 1 0.4 1 0.7 1 -1.2 1 -7.2 1 2.2 1 1.2 1 1.1 1 2.5 1 0.9 1 0.7 1 -0.3 1 3.2 1 3.8 1 -0.4 1 -0.5 1 -0.7 1 -3.4 1 2.4 1 -2.2 1 1 1 1.4 1 1.3 1 1 1 -0.9 1 1.1 1 2.4 1 -2.8 1 -2 1 0.4 1 1.9 1 0.2" fill="none" stroke="#4472C4" stroke-width="3.90" stroke-linejoin="round" stroke-linecap="round"/><path d="M689.2 1157.9 l1 -1.6 1 1.1 1 2.6 1 0.6 1 -0.1 1 -0.6 1 0.4 1 3.6 1 -4.8 1 -4.7 1 -2.5 1 -6.6 1 -3.2 1 1.3 1 -1.7 1 -1.6 1 -3.6 1 -3.6 1 1.3 1 -4.8 1 -1.3 1 -5.2 1 -6.6 1 0.4 1 -1.1 1 1.1 1 -1.1 1 1.1 1 1.3 1 -2.3 1 -6.5 1 -7.8 1 -5 1 7.4 1 -0.5 1 0.4 1 -10.3 1 -1 1 -1 1 -5.4 1 -2.2 1 -0.1 1 -2.3 1 -1.4 1 0.3 1 -1.2 1 1.8 1 1.5 1 5.1 1 -4.7 1 1.8 1 8.3 1 4.3 1 2.7 1 0.6 1 7.2 1 -0.1 1 -1.4 1 3.2 1 -0.5 1 2.9 1 2 1 4.5 1 5.2 1 3.1 1 -6.3 1 1 1 0 1 0.9 1 0.5 1 4 1 -3.1 1 -1.6 1 -1.4 1 -3.6 1 1.2 1 -2.8 1 -3.4 1 -4.7 1 4.3 1 4.2 1 0.6 1 -0.2 1 3.6 1 -0.1 1 -0.2 1 2.6 1 4.2 1 -1.5 1 2.3 1 8.1 1 1 1 2.2 1 -4.7 1 0.5 1 -1.6 1 1.8 1 -0.5 1 -1 1 1.8 1 -1 1 -0.1 1 0.2 1 0.8 1 -3.9 1 0.6 1 1.5 1 0 1 0.1 1 0 1 -0.7 1 0.9 1 3.8 1 1.4 1 0.4 1 8.2 1 0.1 1 5.5 1 -8.1 1 1.4 1 -1 1 -2.5 1 3.5 1 -0.2 1 1.6 1 0.1 1 0 1 -1.1 1 -3.4 1 0.1 1 0.8 1 -0.6 1 -0.7 1 -1 1 4.5 1 -0.3 1 -0.6 1 1.3 1 -0.1 1 1.5 1 -0.5 1 0.6 1 -5.9 1 -1.2 1 2.8 1 3.8 1 0.7 1 4.8 1 2.7 1 2 1 0.9 1 -4.8 1 1.9 1 4.3 1 -3.6 1 2 1 1.6 1 4.3 1 1.3 1 0.1 1 -2.9 1 -2.9 1 -2.5 1 -7.8 1 -3.4 1 -9.7 1 -4.5 1 0.1 1 -4.4 1 -2.7 1 -1.3 1 -0.7 1 1.2 1 3.7 1 -2.2 1 4.1 1 4.8 1 1.3 1 3.6 1 1.9 1 2.3 1 2.4 1 1.3 1 4 1 0 1 -3.1 1 0.6 1 0.6 1 -2 1 0.2 1 -1.2 1 -1.7 1 -4.4 1 1.6 1 3.5 1 2.2 1 1.3 1 -1.9 1 2 1 3.9 1 3.6 1 0.2 1 0.6 1 0.4 1 -0.7 1 -2.1 1 -1.2 1 0.3 1 -0.4 1 2.1 1 -0.7 1 -0.8 1 2.6 1 1.2 1 -2 1 -6.1 1 0.8 1 3.5 1 0.1 1 -2.1 1 0.1 1 -1.1 1 0.3 1 4.2 1 0 1 -3.4 1 3.2 1 1.2 1 1.9 1 0.2 1 1.6 1 1.3 1 2.7 1 2.8 1 5.7 1 4.2 1 3 1 2.5 1 1 1 -1 1 2.1 1 -0.5 1 0.9 1 -0.3 1 0.6 1 -5 1 -3.7 1 -1.2 1 -3.4 1 -5.2 1 -3.4 1 -2.6 1 8 1 4.9 1 1 1 1.9 1 3.3 1 1 1 0.2 1 -0.4 1 -1.7 1 -2.8 1 3.7 1 -0.3 1 0.8 1 -3 1 -2.4 1 -2.5 1 1.6 1 0.4 1 0.4 1 5.4 1 3.1 1 -2.6 1 -2.3 1 -5.4 1 -2.3 1 -6.1 1 -3 1 -5.6 1 -2.3 1 0.1 1 1.7 1 5.1 1 1.4 1 2.6 1 0.6 1 3.8 1 4.6 1 2.7 1 5.1 1 -0.3 1 1.6 1 1.2 1 -0.5 1 -1.5 1 -2.5 1 -0.3 1 0.7 1 -3.7 1 -0.5 1 -2.1 1 -0.6 1 -0.5 1 -1.4 1 -2.9 1 -1.1 1 -0.9 1 3.4 1 -3.2 1 -3.3 1 -3 1 -3.2 1 1.8 1 -0.7 1 -2.8 1 -1.4 1 -6.9 1 1.5 1 -7.4 1 -3.9 1 0.9 1 -0.7 1 -2.3 1 -4.5 1 -2.3 1 1.1 1 2.4 1 1.7 1 4 1 3.8 1 4.7 1 2 1 2.9 1 1 1 1.9 1 0.2 1 0.9 1 3.2 1 2.7 1 -0.2 1 0.8 1 -2.1 1 1.1 1 -1.2 1 2.2 1 3.8 1 0.2 1 -0.8 1 -3.6 1 3.5 1 -0.6 1 1 1 -1.5 1 -0.4 1 1.1 1 -1.9 1 2.8 1 -1.6 1 0.8 1 -1.1 1 -0.3 1 0.3 1 1.3 1 1.4 1 -0.3 1 -3.2 1 1.7 1 -1.3 1 -1.6 1 0.9 1 -0.1 1 1.5 1 0.9 1 -2.6 1 2.2 1 -0.4 1 9.8 1 -5 1 -8.5 1 1 1 -2.2 1 1 1 1.4 1 3.7 1 2.8 1 0.3 1 1.4 1 0.9 1 -0.9 1 1.8 1 -0.2 1 -0.7 1 2.4 1 3.4 1 -2.2 1 3.4 1 -4.7 1 3.5 1 0.1 1 6.4 1 -0.4 1 2.2 1 1.1 1 1.4 1 -1.4 1 0.2 1 1.3 1 -3.2 1 -4.6 1 -1.7 1 -5.8 1 -8 1 -2.9 1 -3.5 1 -2 1 0.5 1 2.5 1 0.8 1 0 1 -2.5 1 1 1 -6.5 1 2.6 1 -3.6 1 -1.2 1 -0.8 1 -2 1 1.3 1 1.6 1 3.2 1 0.3 1 -0.5 1 -0.9 1 -3.7 1 1.8 1 -0.1 1 6.8 1 2.5 1 -8.9 1 -1.2 1 1.3 1 3.2 1 -4.7 1 3.9 1 -0.7 1 2.9 1 0.2 1 0.3 1 3.1 1 1.5 1 0.7 1 2.8 1 -0.1 1 2.7 1 -2.3 1 -1.3 1 -2.9 1 3.9 1 2.7 1 2.9 1 1.6 1 2.7 1 2.3 1 -0.9 1 -2.3 1 -0.7 1 0.2 1 1.6 1 -1.6 1 -0.2 1 1 1 -3.1 1 1.2 1 1.4 1 0.2 1 1.5 1 3.1 1 2.8 1 -0.3 1 -0.3 1 1.5 1 3.5 1 -6.4 1 -1.5 1 1.1 1 -0.3 1 -2.9 1 0 1 -3.2" fill="none" stroke="#ED7D31" stroke-width="3.90" stroke-linejoin="round" stroke-linecap="round"/><path d="M705.8 1145.3 l1 -4.1 1 1.3 1 -3.7 1 1.2 1 1.6 1 -5.8 1 1.5 1 -1.8 1 -2.5 1 -3 1 -4.9 1 -3.3 1 -0.8 1 0.6 1 -0.1 1 1.4 1 -1.2 1 1.6 1 0.4 1 1.3 1 -1.3 1 1 1 1.3 1 -1.1 1 0.4 1 4.2 1 -2.2 1 3.3 1 8.1 1 4.7 1 2.1 1 0.2 1 -3.4 1 -5.3 1 -2.3 1 0.4 1 -1.6 1 3.3 1 2.6 1 2.2 1 0.8 1 1.2 1 2.3 1 -6.3 1 -3.3 1 -0.3 1 -2.6 1 -2 1 -4.4 1 -2.6 1 -4 1 -0.3 1 -4.5 1 -4.1 1 -3.1 1 -3.7 1 -1.8 1 4.3 1 0.6 1 -5 1 -1.7 1 3 1 6.5 1 -14.7 1 6.2 1 17.8 1 4.4 1 2 1 1.2 1 0 1 -1.2 1 0.9 1 0.1 1 1.5 1 1 1 0.9 1 -2.1 1 3.2 1 -0.6 1 -0.7 1 -0.9 1 -1.8 1 -1.1 1 0.1 1 -1.7 1 0.5 1 -1.3 1 1.2 1 0.8 1 1.5 1 -0.2 1 2.6 1 -1.4 1 0.9 1 0.3 1 -0.2 1 0.6 1 2.7 1 -0.2 1 3 1 2.2 1 2 1 1 1 0.3 1 -3.4 1 -1.2 1 -0.1 1 4.2 1 -1.7 1 -1.3 1 -0.4 1 0.7 1 -0.4 1 -1.6 1 3.9 1 -3.7 1 2.4 1 0.2 1 -2.2 1 -2.6 1 -0.7 1 -2.5 1 0.2 1 -4.2 1 2.3 1 1.5 1 -4.6 1 -0.2 1 -3 1 -0.8 1 1.5 1 0.7 1 -1 1 3 1 2.8 1 2.2 1 -0.3 1 -9.6 1 -2.7 1 -1 1 5.6 1 0.9 1 0.4 1 0.6 1 -1.7 1 -2.6 1 -0.4 1 -4.4 1 -1.1 1 -2 1 -1.4 1 -0.9 1 1.9 1 4.8 1 4.2 1 0.7 1 1.9 1 1 1 3 1 -2.1 1 -2.7 1 -3.7 1 -5.1 1 -1.4 1 -3.4 1 -3.7 1 0.2 1 -2.7 1 6.2 1 -1.8 1 -9.3 1 0.4 1 5.4 1 3.3 1 -1.2 1 0.8 1 0.2 1 0.2 1 0.9 1 -2.8 1 -0.5 1 -1 1 -1.8 1 0 1 -4.2 1 2.3 1 4.1 1 1.4 1 2.2 1 3.1 1 -0.5 1 2.2 1 3.8 1 5.7 1 3.5 1 3.4 1 2.2 1 3.7 1 -2.2 1 -3.2 1 1.3 1 2.3 1 -1.9 1 -3.4 1 0.9 1 1.8 1 -0.9 1 -0.1 1 0.7 1 -3.9 1 -0.5 1 4.2 1 9.9 1 -8.3 1 -0.2 1 -2.4 1 2.6 1 -1 1 0.3 1 1.5 1 -1.4 1 -2.1 1 -0.4 1 -2.3 1 0.1 1 -1 1 -0.4 1 -2.1 1 1.4 1 0.2 1 0.8 1 3.5 1 -6.3 1 1.4 1 2 1 -0.6 1 2.5 1 -0.7 1 -3.1 1 -2.7 1 3.1 1 -2.9 1 1.3 1 -3.4 1 -1.2 1 4.2 1 0.4 1 -4.1 1 1.4 1 0.4 1 -0.3 1 1.5 1 0.5 1 -0.2 1 -1.3 1 -1.8 1 5.8 1 7.3 1 5.6 1 3.6 1 5.7 1 0.2 1 -0.4 1 -0.7 1 -2.7 1 -0.1 1 3.9 1 10.3 1 1 1 3.5 1 1.9 1 2.6 1 0.7 1 2.1 1 1.9 1 0.9 1 1.1 1 -4.1 1 -2.3 1 1.5 1 -9.7 1 0.1 1 6.9 1 -2.7 1 1.4 1 0.5 1 1.9 1 -0.4 1 0.8 1 -2.1 1 0.5 1 0.3 1 2.9 1 -1.3 1 -2.7 1 4.6 1 1.3 1 0.6 1 1.4 1 0.8 1 0.5 1 4.2 1 2.7 1 3.3 1 1.5 1 8.4 1 5 1 4 1 -0.7 1 2.2 1 1.3 1 -3.8 1 0.8 1 -1.9 1 4.8 1 -4.8 1 -2.4 1 0.5 1 -2.2 1 -4.9 1 -2.4 1 -0.6 1 -1.3 1 -1.2 1 -1.5 1 6.5 1 1.1 1 2.8 1 5.5 1 -5.5 1 4.1 1 3.2 1 1.1 1 1.1 1 1.4 1 2.1 1 0.7 1 3.8 1 1.3 1 3.5 1 -1.9 1 -1.3 1 -3.5 1 -2.5 1 -0.9 1 -6.7 1 -3.5 1 -3.2 1 -1 1 -3.1 1 -2.8 1 -7.6 1 -5.2 1 -3.5 1 -2.7 1 0.1 1 -4.6 1 0 1 -2.6 1 -5.1 1 -4.9 1 -2.3 1 -3.7 1 -7.3 1 1.5 1 -3.8 1 -4.1 1 -3 1 -2.8 1 -5.9 1 -5.6 1 -5.9 1 -7.1 1 -1.1 1 3.1 1 3 1 0.5 1 1 1 1.9 1 2.9 1 0.8 1 -0.9 1 -3 1 0.7 1 -0.3 1 0 1 -1.4 1 -2.4 1 -4.5 1 -3.1 1 0.2 1 -3.4 1 0.3 1 -4.7 1 -1.1 1 -2 1 2.1 1 -0.6 1 1.7 1 -2.9 1 -0.4 1 2.1 1 0.2 1 1.5 1 1.9 1 -0.1 1 4.1 1 3.4 1 1.6 1 1.8 1 1.8 1 0.1 1 2.8 1 -3.8 1 10.1 1 2.5 1 1.6 1 0.4 1 2.8 1 1.9 1 3.9 1 2.3 1 -0.5 1 3.2 1 -2.3 1 1.5 1 -0.9 1 2.9 1 1.4 1 -1.4 1 2 1 2.3 1 2.5 1 0.8 1 0.6 1 1.5 1 2.3 1 1.2 1 1.7 1 1.3 1 3 1 -2.2 1 -4.1 1 -2.8 1 -1.4 1 -4.6 1 -2.8 1 -5.2 1 -1 1 -1.3 1 -4.3 1 -3.6 1 -1.7 1 -4.1 1 0.6 1 -4 1 -5.4 1 -1.6 1 -4.1 1 -3.1 1 -3.4 1 -3.4 1 -0.9 1 2.8 1 1.6 1 -1.4 1 0.4 1 -3 1 0.6 1 -7.4 1 4.9 1 0.8 1 0.8" fill="none" stroke="#A5A5A5" stroke-width="3.90" stroke-linejoin="round" stroke-linecap="round"/><path d="M689.2 1147.9 l1 -0.5 1 -0.2 1 -0.5 1 -1.1 1 -2 1 1.3 1 0.9 1 -0.7 1 -0.2 1 -8.2 1 2.1 1 -3.3 1 0.6 1 -2.5 1 -1.4 1 -1.3 1 2 1 4 1 7 1 1.8 1 6.5 1 -3.4 1 1.1 1 -2.1 1 -1 1 -4 1 -3.5 1 -0.6 1 0.5 1 0.9 1 -2.8 1 1.3 1 -1.5 1 -8.5 1 -1.5 1 8.5 1 -0.2 1 -0.8 1 -1.2 1 0.5 1 -2.2 1 -2.9 1 2.6 1 -4.1 1 0.2 1 0.9 1 -2.1 1 -1 1 -0.3 1 -1.9 1 -0.5 1 -7.4 1 -1 1 3.5 1 -0.5 1 0.5 1 -0.5 1 1 1 5.8 1 -1.7 1 1.9 1 4 1 2.4 1 -1.4 1 -1.8 1 -2.3 1 -3.3 1 -1.4 1 0.9 1 -3.7 1 0.6 1 -0.8 1 -2 1 -1.8 1 -0.5 1 -4.1 1 -3.7 1 -0.9 1 1.3 1 -3.9 1 -1.2 1 -1.9 1 -1.7 1 -0.8 1 -0.1 1 -0.9 1 0 1 -0.5 1 2.6 1 -3.7 1 1.7 1 0.4 1 -2.3 1 -4.3 1 -1.7 1 0.7 1 -2.3 1 1.8 1 1.7 1 0.7 1 0.5 1 4.8 1 0.2 1 2.9 1 0.2 1 1.5 1 -2.3 1 2.3 1 -2.9 1 -0.1 1 0.4 1 -2.1 1 0.8 1 4 1 5.6 1 2.9 1 4.9 1 3.2 1 3.2 1 2.6 1 6 1 -2.5 1 1.7 1 2.3 1 2.4 1 1.2 1 0 1 -1.1 1 0.3 1 -1.6 1 -1.4 1 -2.9 1 0.2 1 -0.4 1 -10 1 -0.4 1 -1.1 1 6.7 1 1.6 1 -3 1 0.9 1 0.3 1 2.5 1 -2.2 1 1.3 1 3.2 1 -1.8 1 -0.7 1 -0.7 1 2.6 1 -0.2 1 -0.2 1 -0.9 1 -1 1 -2.1 1 0 1 -1.6 1 -3.8 1 -3 1 -4.5 1 -2.6 1 -6.3 1 -0.8 1 1 1 -2.3 1 2 1 4.1 1 0.9 1 -3.4 1 3.4 1 4 1 0.8 1 -0.2 1 -1.4 1 1.7 1 -1.9 1 0.7 1 -0.1 1 -2 1 6.2 1 2.6 1 2.9 1 1.2 1 2.9 1 6.2 1 1.8 1 -4.2 1 0.1 1 -2.8 1 1.4 1 0.4 1 0.1 1 -1.8 1 0.1 1 -3.9 1 -1.5 1 -1.2 1 -2.8 1 1.8 1 1.2 1 -2.3 1 1.3 1 2.5 1 2.4 1 0.5 1 2.2 1 0 1 3.2 1 0 1 1.6 1 0.9 1 -0.6 1 -0.9 1 3.1 1 -0.6 1 0.7 1 0.7 1 -0.6 1 -2.3 1 0.1 1 -1.8 1 0.1 1 0.4 1 0.8 1 4.3 1 2.4 1 1.7 1 1.1 1 3.2 1 -4.9 1 -1.6 1 -1.2 1 -6.2 1 -2.8 1 -3 1 -4.8 1 -1.9 1 -7.4 1 -5.3 1 -4.1 1 -0.6 1 1 1 0.2 1 2.1 1 -1.1 1 -0.9 1 0.3 1 -4.2 1 -3.7 1 -1.9 1 -3.8 1 -4 1 3.3 1 7.7 1 5.8 1 3.3 1 -2.3 1 2.5 1 2.2 1 -1.9 1 1 1 -1.3 1 2.1 1 -0.4 1 -2.2 1 -0.3 1 4.8 1 6.4 1 6.1 1 4.8 1 5.7 1 3.8 1 -0.5 1 3.1 1 -1.1 1 -6.3 1 -3.7 1 -3.1 1 -4.3 1 -6.6 1 5.8 1 -2 1 2.3 1 5.3 1 1.3 1 4.8 1 1.3 1 0.2 1 0.8 1 0.2 1 -1.2 1 3.9 1 1.3 1 -1.3 1 -1 1 -2 1 -0.9 1 -1.1 1 -0.3 1 1.1 1 -0.3 1 1.4 1 -0.1 1 -0.9 1 -2.3 1 -0.6 1 -1.2 1 -0.1 1 -0.9 1 5.9 1 8.7 1 7 1 9.5 1 -6.8 1 0.8 1 -2 1 -3 1 -3.5 1 -2.5 1 3 1 2.5 1 -1.2 1 3.1 1 0.2 1 -9.5 1 6.7 1 1.3 1 0.1 1 0.2 1 3.8 1 4.3 1 -0.8 1 -1.8 1 -2.1 1 0.1 1 -2.8 1 -1.2 1 -1.5 1 -2.2 1 -2.3 1 -0.9 1 -0.1 1 1.6 1 -0.1 1 1.6 1 -1.1 1 0.6 1 -4.6 1 3.2 1 3.8 1 4 1 -3.5 1 2.2 1 -1.3 1 -0.2 1 -0.8 1 2.1 1 2.4 1 -0.2 1 -0.4 1 -0.7 1 1.1 1 -0.5 1 3.5 1 6.6 1 4.1 1 6.3 1 4.7 1 2.8 1 9.6 1 1 1 9 1 4.5 1 -0.7 1 -6.2 1 -0.2 1 0.2 1 0.4 1 -0.9 1 -2 1 -1.1 1 -2.4 1 0.9 1 -0.5 1 -3 1 -2.2 1 0 1 0.3 1 -1.1 1 0.2 1 0.2 1 -1 1 2.2 1 -1.3 1 -0.9 1 -0.3 1 -0.9 1 -1.6 1 0.8 1 -0.4 1 -2.9 1 -3.5 1 -3.7 1 -0.4 1 -1.7 1 1 1 -1 1 -4.4 1 -1.5 1 -2 1 -1.1 1 -1 1 -1.5 1 1.4 1 0.6 1 -6.3 1 -0.2 1 -1.2 1 -2.5 1 -3.6 1 -1.6 1 -1.4 1 -4.3 1 1.6 1 -3.2 1 -1.3 1 -1.3 1 -1.2 1 -0.2 1 -6.5 1 -1.8 1 5.3 1 -1.8 1 -0.3 1 1.2 1 -0.1 1 -1.3 1 0.3 1 0.7 1 -3.6 1 -1.2 1 3 1 0 1 -1.1 1 3 1 -2.1 1 -1.4 1 1 1 -0.9 1 1.3 1 -2 1 -1.7 1 -2.5 1 2.6 1 -2.9 1 -1 1 -6.7 1 3.5 1 -4.3 1 -3.3 1 8.9 1 -9.8 1 1.2 1 -0.7 1 3.4 1 0 1 1 1 2.9 1 2 1 4.7 1 -7.1 1 -0.4 1 -7.4 1 -2.4 1 0.3 1 -3.1 1 -1.1 1 -3.1 1 -2.2 1 -2.2 1 -3.5 1 -4.2 1 5.5 1 -7.2 1 -0.8 1 3.4 1 -0.3 1 7.6 1 4.5 1 7.3" fill="none" stroke="#FFC000" stroke-width="3.90" stroke-linejoin="round" stroke-linecap="round"/><path d="M689.2 1135.8 l1 0.4 1 -0.1 1 5.4 1 5.5 1 2.6 1 5.3 1 2.4 1 5.4 1 -1.8 1 -1.3 1 5.9 1 -0.3 1 0 1 3.2 1 0.2 1 -0.6 1 2.6 1 -0.5 1 3.1 1 3.2 1 -1.4 1 -2.5 1 1.2 1 1.4 1 2.9 1 3.1 1 2 1 0 1 0.7 1 1 1 3.7 1 -1.1 1 -0.2 1 -4 1 -1.6 1 -1.6 1 -1.8 1 -1.7 1 2.4 1 1.6 1 0.1 1 -1.3 1 -2.4 1 -1.9 1 -1.1 1 3.3 1 -1.8 1 0 1 -1.2 1 4.3 1 3.8 1 -1.9 1 -1.6 1 -1 1 -2 1 -0.3 1 -2.6 1 -2.6 1 0.5 1 -3 1 -2.2 1 -0.9 1 1 1 -4.5 1 -2.1 1 1.5 1 0.1 1 -1.3 1 -1.7 1 -1 1 -0.4 1 -3.5 1 -0.8 1 -1 1 -4.4 1 1.2 1 -0.6 1 6.3 1 0.5 1 -1.5 1 2.3 1 -1.5 1 -0.8 1 4.7 1 -1.9 1 -0.6 1 1.7 1 -0.8 1 1 1 -3.2 1 0.6 1 -3.4 1 -2.4 1 -2.9 1 -4.6 1 -0.3 1 -2 1 -5.1 1 1.9 1 -2 1 3.9 1 4.8 1 2.7 1 4.7 1 2.5 1 1.1 1 2.3 1 -2.1 1 9.1 1 -0.8 1 -5.6 1 -1.3 1 -2.2 1 2 1 0.9 1 1.3 1 2.3 1 -0.6 1 8.4 1 0.7 1 0.1 1 -8.5 1 -3.8 1 0.1 1 -4.4 1 1.7 1 4.9 1 0.3 1 -2.5 1 -1.8 1 -2.7 1 0.4 1 -0.1 1 -1.3 1 -0.8 1 -0.3 1 0.7 1 -4.8 1 -0.8 1 -2.1 1 -1.6 1 -2.6 1 -3.6 1 -2.6 1 -0.4 1 -6.3 1 -1.3 1 -1.9 1 -2.1 1 0 1 4.3 1 8.2 1 4 1 1.1 1 1.6 1 -0.6 1 2.6 1 -1.6 1 2.6 1 -0.6 1 0.9 1 5.3 1 3.3 1 3.3 1 1.8 1 2.6 1 -0.4 1 0.9 1 -1.7 1 -2 1 0.1 1 -3.1 1 -0.1 1 2.4 1 -4.1 1 -5.5 1 -3.5 1 -0.2 1 -3.2 1 -0.3 1 -2.6 1 -4.2 1 -4.7 1 -0.6 1 -3.8 1 1.6 1 2.4 1 0.4 1 0.5 1 -3.2 1 1.6 1 -1.4 1 -2.6 1 -2.1 1 -3.5 1 -3.4 1 -0.5 1 -1.4 1 -0.1 1 -5.2 1 3 1 -0.7 1 1 1 -2.2 1 5.6 1 -0.4 1 -0.2 1 0.6 1 7.5 1 15.1 1 6.2 1 -0.4 1 4 1 -0.1 1 -0.5 1 1.5 1 2 1 -1.6 1 -2.8 1 1.2 1 0.8 1 -1.9 1 -3.2 1 -0.7 1 -0.6 1 0.1 1 -0.5 1 4.1 1 -0.4 1 -1 1 4.7 1 -1 1 2.8 1 -2.3 1 0.4 1 3.1 1 3.2 1 -0.1 1 -0.2 1 -1.8 1 1.1 1 2 1 3.6 1 -1.9 1 -0.5 1 2.1 1 3.6 1 2.7 1 -0.1 1 4.4 1 0.7 1 -0.6 1 -1 1 0.9 1 1.8 1 -0.5 1 -3 1 0 1 2.9 1 0.5 1 4.7 1 2.1 1 0.4 1 2.1 1 1.1 1 1.8 1 -0.1 1 -2.1 1 -2.4 1 -1.6 1 0.4 1 -2.1 1 -0.5 1 -1 1 -2.7 1 0.4 1 0.9 1 -0.6 1 2 1 -0.2 1 -2.6 1 -1.7 1 -0.7 1 2.7 1 -2.6 1 0.5 1 2.3 1 0.8 1 -0.5 1 -0.5 1 -1.4 1 -0.1 1 -0.2 1 2.1 1 1.4 1 -1.4 1 1.2 1 2 1 -3.3 1 1.8 1 1.2 1 -1.9 1 -1.9 1 -2.6 1 2.3 1 -6.9 1 -0.1 1 1.5 1 -3.5 1 2 1 -3.7 1 -3.4 1 1.9 1 -1.4 1 -1.9 1 0.5 1 -1.5 1 0.6 1 -1.9 1 0 1 -0.2 1 1.4 1 -1.4 1 4.2 1 -3.3 1 0.9 1 0.6 1 2 1 0.7 1 2.8 1 0.8 1 0.3 1 1.6 1 1.8 1 -4.9 1 -3 1 -3.7 1 -3.4 1 -0.6 1 -3.8 1 -2.4 1 -2.8 1 -0.1 1 -0.4 1 -0.9 1 -2.5 1 -0.8 1 1.1 1 0.9 1 -2.2 1 2.7 1 1.9 1 3.9 1 -0.4 1 -2.5 1 -3.4 1 3.5 1 -7.2 1 1.8 1 -2.1 1 -1.3 1 -1.5 1 -7 1 3.4 1 -0.5 1 -3.3 1 3.1 1 -1.1 1 -2.1 1 2.7 1 -2.3 1 -1 1 1.3 1 -0.5 1 0.9 1 1.1 1 -0.3 1 -0.6 1 -1.6 1 -3.4 1 3 1 -2 1 0.4 1 -1.6 1 -0.2 1 0.8 1 -1.2 1 0.6 1 6.6 1 8 1 5.1 1 7.5 1 3.9 1 4.2 1 0.6 1 -0.1 1 1.4 1 0.2 1 -1 1 0.9 1 1.9 1 2.2 1 -1.9 1 -2.9 1 0.5 1 1.8 1 -0.4 1 -3.8 1 -0.5 1 -2.8 1 -0.8 1 0.9 1 -3.4 1 -0.9 1 -3.1 1 -1.3 1 0.7 1 -0.4 1 -2 1 -0.6 1 -1.3 1 -1.5 1 -0.6 1 -3.9 1 0.8 1 0.8 1 -3 1 3.8 1 -1.3 1 0.4 1 -1 1 0.9 1 -1.4 1 -0.5 1 -1 1 2 1 -2.2 1 -5.1 1 0.7 1 -1.6 1 2.6 1 -3.7 1 -2.9 1 0.3 1 0.8 1 -0.6 1 -1.4 1 -1.5 1 -4 1 5.7 1 1 1 -0.5 1 -4.4 1 1.1 1 -0.4 1 0.3 1 -0.8 1 -0.8 1 -2.5 1 0.1 1 -4.5 1 -2 1 -2.8 1 0.3 1 0.9 1 3.1 1 3 1 5.1 1 0.2 1 0 1 8 1 -0.6 1 1.1 1 2.4 1 1.3 1 -2 1 0.4 1 0 1 0.8 1 0.7 1 0.3 1 -1.7 1 -1 1 -6 1 1.5 1 -1.4 1 -0.3 1 1.4 1 2.6 1 -0.4" fill="none" stroke="#5B9BD5" stroke-width="3.90" stroke-linejoin="round" stroke-linecap="round"/><path d="M689.2 1150.0 l1 0.3 1 -0.8 1 5 1 0.1 1 -2 1 -1 1 1.3 1 -0.1 1 -1 1 -0.8 1 1.2 1 3.9 1 1.1 1 -1.6 1 -0.9 1 1.3 1 -2.3 1 -0.5 1 -1.8 1 2.8 1 0.1 1 1.9 1 1.3 1 1.7 1 -0.4 1 1 1 1.1 1 -4.3 1 -7 1 -0.9 1 3.8 1 -10.1 1 -5.2 1 -1.5 1 -2.5 1 -3.6 1 -1.3 1 4.9 1 -5.2 1 -1.3 1 -4.5 1 -1.8 1 -2.6 1 -4.5 1 -4.8 1 -2.6 1 -7.6 1 -1.6 1 0.6 1 5.5 1 -8.4 1 -1.4 1 0.3 1 0.2 1 -1.3 1 -3.2 1 -1.1 1 -3.2 1 -2.7 1 1 1 9 1 5.2 1 2.1 1 -5.1 1 -4.8 1 -0.3 1 -6.4 1 -5.8 1 -2.9 1 -2.5 1 2 1 4.2 1 2.4 1 8.7 1 6.3 1 3.5 1 0.8 1 3.5 1 -0.3 1 3 1 7 1 6.3 1 1.4 1 4.3 1 4.2 1 6 1 7.1 1 5.4 1 5.1 1 4 1 7 1 4.2 1 2.2 1 1.7 1 0.6 1 -0.9 1 -0.5 1 -5.3 1 -3.3 1 -4.9 1 -3.6 1 -6.3 1 -5 1 -2.5 1 -0.7 1 -3.4 1 0.1 1 0.2 1 -5.6 1 3.7 1 -1.1 1 -0.3 1 -2.8 1 -1.6 1 -1.2 1 3.1 1 2.4 1 -2.1 1 -3.5 1 5.2 1 3.7 1 -1.3 1 -0.9 1 0.8 1 2.9 1 1.8 1 0.8 1 2.4 1 0.9 1 -0.6 1 -1.5 1 0.1 1 -1.1 1 1.3 1 3.2 1 -0.9 1 1.3 1 3.4 1 -0.7 1 -1.5 1 -0.1 1 0.4 1 2.2 1 0.2 1 -3 1 3 1 1.2 1 0 1 3 1 0.7 1 -4.3 1 -4.4 1 -5.5 1 -2.9 1 -2.9 1 -7.8 1 -0.5 1 1.8 1 0 1 0.9 1 0.4 1 -0.1 1 4.1 1 2.7 1 0.4 1 6.3 1 -1.3 1 1.6 1 4.5 1 0.3 1 0.8 1 0.4 1 1.5 1 0.8 1 -1.7 1 2.4 1 0.3 1 0 1 9.4 1 -2 1 -2.9 1 -6.5 1 -3.9 1 -3.6 1 -1.6 1 -1.4 1 -0.6 1 -2.6 1 -2.4 1 -1.2 1 -0.8 1 2.2 1 2.5 1 -1.1 1 2.6 1 2.2 1 2.5 1 2.8 1 -2 1 -0.6 1 2.7 1 1.6 1 -1.5 1 -1.7 1 4.2 1 -2.7 1 3.1 1 0.7 1 0.8 1 -5.8 1 -1.6 1 -2 1 2.8 1 -2 1 -3.3 1 -2.1 1 0.3 1 -0.3 1 -4.2 1 3.6 1 -0.9 1 3.8 1 4.4 1 -0.2 1 0.8 1 2.8 1 3.3 1 4 1 2.4 1 4.5 1 2.4 1 -6.1 1 -3.4 1 1.9 1 -1.9 1 -5.2 1 0 1 -2.7 1 2.8 1 1 1 -1.1 1 1.5 1 8.8 1 -5.2 1 4.4 1 2.2 1 0.9 1 2.4 1 -0.2 1 5 1 2.4 1 1.7 1 -1.2 1 2.3 1 1.3 1 0.7 1 0.8 1 2.1 1 3.8 1 2.6 1 -2 1 0.2 1 2.1 1 -1 1 0.4 1 2.9 1 2.4 1 2 1 -0.4 1 4.9 1 -7.8 1 2.5 1 9.3 1 2.9 1 1.2 1 2.8 1 1.1 1 -1.4 1 -2.9 1 -4.7 1 -2.1 1 -1.4 1 -3.1 1 -1 1 2.6 1 2.5 1 0.9 1 6.8 1 5.8 1 0.5 1 -1.4 1 -1.4 1 -1 1 -0.1 1 2.5 1 0.4 1 -0.6 1 -6.6 1 -7.3 1 -1.2 1 1.1 1 -2.4 1 -0.3 1 -8.1 1 -1.4 1 -1 1 -5.6 1 -5.2 1 -6.5 1 -6.6 1 0.6 1 1.6 1 0.3 1 -3.5 1 0.4 1 -0.5 1 0.6 1 -2.7 1 5.5 1 -2.9 1 -7.7 1 -3 1 -2.9 1 0.2 1 3.4 1 -2.9 1 -0.3 1 -0.5 1 -1.4 1 0.8 1 2.2 1 0.5 1 0.3 1 -2.6 1 -2.8 1 0.6 1 -3.9 1 -7.2 1 -5.3 1 -1.9 1 -5.3 1 -1.1 1 -0.4 1 -1.1 1 0.8 1 2.3 1 -2.1 1 0.8 1 0.4 1 0.3 1 0.3 1 5 1 2 1 -0.3 1 -2.2 1 2.4 1 -0.8 1 1.7 1 -0.7 1 -0.1 1 0.3 1 -1 1 -1.1 1 -3.4 1 -1 1 -1.5 1 -2.1 1 -2.7 1 2.6 1 -5.5 1 -0.6 1 -1.5 1 -3 1 -0.7 1 0.3 1 10.7 1 8.8 1 8.1 1 10.5 1 -3.5 1 -8.5 1 -1.3 1 0.2 1 4.6 1 -3.6 1 0.7 1 1 1 2.9 1 2.7 1 4.2 1 -2 1 -2.8 1 -1.8 1 -0.1 1 4 1 -0.1 1 3.7 1 0.9 1 -3.4 1 -2 1 -3 1 -4.6 1 -2.9 1 -3.3 1 -5 1 3.3 1 0.2 1 0 1 -3.8 1 -3.1 1 -4.8 1 0.9 1 2.2 1 4.2 1 0.9 1 -1.4 1 -1.9 1 3.3 1 -1.4 1 2.1 1 -2 1 -1 1 -0.9 1 1.9 1 5 1 5 1 4.9 1 7.4 1 2.4 1 1.6 1 -1.6 1 2 1 -0.1 1 5.4 1 1.7 1 -1.6 1 -2.9 1 0.7 1 3.3 1 -1.1 1 1.6 1 -0.8 1 -1.7 1 2.1 1 2.3 1 -4 1 2.6 1 -1 1 -1.5 1 0.1 1 -2 1 3 1 1.3 1 2.2 1 -2 1 -4.2 1 1.7 1 0.7 1 -1.8 1 -0.4 1 -2.6 1 1.9 1 -6.2 1 -2.2 1 0.1 1 7.3 1 3.1 1 5.1 1 1.8 1 0.8 1 1.3 1 -1.1 1 0.6 1 -0.9 1 -1.5 1 0.3 1 2.6 1 0.3 1 0.9 1 1.7 1 1.9 1 -8.9 1 5.3 1 1.8 1 -2.1 1 0.5 1 1.1 1 4.3 1 11.4 1 5.3" fill="none" stroke="#70AD47" stroke-width="3.90" stroke-linejoin="round" stroke-linecap="round"/><path d="M689.2 1153.5 l1 -9.4 1 -8.6 1 -6.4 1 0.9 1 3.6 1 10.7 1 2.7 1 -3.4 1 2.5 1 -4.7 1 -8.6 1 -5.9 1 1 1 -2.9 1 -4.2 1 -1.4 1 -1.4 1 1.6 1 0.8 1 3 1 -1.5 1 3.8 1 4.5 1 4.2 1 1 1 0.7 1 6.1 1 6.2 1 2.4 1 4.5 1 3.6 1 5 1 1.9 1 -1.3 1 -4.1 1 -3.1 1 -4.8 1 -2.5 1 -5.6 1 -2.6 1 -4.5 1 -0.5 1 -2.1 1 -3.6 1 -2.9 1 -2 1 -9.7 1 -5.4 1 -1.1 1 7.6 1 0.8 1 3.1 1 -0.5 1 3.5 1 4 1 3.8 1 -3.5 1 -9.3 1 0.7 1 3.6 1 4.1 1 0.4 1 3.5 1 1.7 1 -1.1 1 -5.3 1 -7.7 1 -2 1 1.4 1 -3.1 1 -3.5 1 3.3 1 -0.9 1 1.5 1 -1.1 1 8.9 1 6.8 1 3.1 1 8.9 1 -1.8 1 0.9 1 2.4 1 3.1 1 4.7 1 -2.4 1 1.8 1 2.2 1 -2.6 1 -1 1 -3 1 -5.3 1 -1.5 1 3.1 1 3.2 1 4.9 1 0.7 1 -4.2 1 -1.7 1 -5.3 1 -3.1 1 4.2 1 1 1 5.4 1 5.9 1 -2.8 1 -1.6 1 -3.9 1 -2.8 1 -1.7 1 -1.5 1 0.1 1 0.1 1 -3.4 1 1.4 1 0.5 1 -0.2 1 6.2 1 3.9 1 4.7 1 6.7 1 8.3 1 2.3 1 2.1 1 0.7 1 1.8 1 5.2 1 7 1 3.7 1 5.8 1 -5.3 1 -0.1 1 -6.1 1 -0.4 1 -1 1 0.3 1 2.6 1 1.2 1 3.5 1 6.7 1 3.4 1 4.5 1 -0.2 1 -2.9 1 -1.1 1 -2.5 1 -0.8 1 1.1 1 -0.5 1 -2 1 -2.7 1 1 1 -0.1 1 1 1 -0.6 1 -5.3 1 2.4 1 0.1 1 -3.5 1 -2.8 1 -0.2 1 -0.3 1 -1.6 1 -3.7 1 2.7 1 -2.7 1 0.6 1 -1.6 1 -1 1 0.4 1 2.7 1 1.1 1 9.8 1 2.9 1 0.8 1 2.1 1 0.8 1 2.5 1 -0.2 1 -1.8 1 -4.9 1 -4.4 1 -8.2 1 -2.9 1 -2.6 1 3.2 1 -0.2 1 -0.3 1 1.3 1 -0.5 1 1.4 1 -0.5 1 -0.1 1 -7.1 1 -3.6 1 -4.6 1 -2.7 1 -2.5 1 0 1 -1.9 1 -0.4 1 0.7 1 -2 1 2.1 1 2.3 1 3.2 1 6.7 1 -1.9 1 -11.7 1 -2.7 1 -1.3 1 -9.9 1 -4.4 1 0.3 1 8.6 1 4.5 1 5.4 1 1.5 1 2.4 1 1.7 1 0.9 1 1 1 -1.4 1 -3.7 1 -1.7 1 -3.8 1 -0.3 1 0.8 1 -2.1 1 -2.2 1 1.3 1 0.3 1 2.8 1 1.8 1 0.9 1 3 1 5.6 1 1.4 1 0.5 1 0.1 1 8.7 1 -1.9 1 -14.1 1 -4.4 1 -2.6 1 -3.3 1 1.7 1 -1 1 1.6 1 -2.9 1 -2.6 1 0.8 1 1.4 1 1 1 0.8 1 -0.3 1 2 1 0.9 1 2.5 1 1.6 1 -5.4 1 5.3 1 -1.7 1 1 1 -4.2 1 -1.4 1 -2.1 1 -2.1 1 -0.4 1 -0.6 1 -0.6 1 2.4 1 -3.6 1 -0.3 1 -2.2 1 -1.4 1 -4.2 1 -6.4 1 -6.8 1 -3.6 1 1 1 -3 1 3.7 1 1.4 1 -2.7 1 -1.3 1 0.4 1 -3.6 1 -0.4 1 -0.2 1 -0.2 1 4.2 1 6.8 1 3 1 -3.1 1 -0.2 1 7.3 1 3.9 1 3.2 1 4.7 1 2.1 1 4.8 1 3.7 1 2.9 1 -1.2 1 -1.2 1 4.2 1 -0.3 1 -3.4 1 -0.9 1 0.7 1 -0.8 1 2.9 1 5.2 1 2.9 1 4.4 1 1.6 1 3.9 1 -1.4 1 -0.2 1 -3.3 1 -1.9 1 1.3 1 0.6 1 3.2 1 4.5 1 -3.3 1 1.8 1 -1.9 1 2.3 1 5 1 -2.6 1 -5.4 1 -3.9 1 -2.6 1 -3.7 1 -7.8 1 -6.1 1 -1.4 1 -5.3 1 1.6 1 0.4 1 4.9 1 0.6 1 -0.4 1 5.4 1 -1 1 1.6 1 4.2 1 3.4 1 1.8 1 -1.2 1 -5.1 1 -8.2 1 -5.9 1 -0.3 1 -2.4 1 3 1 -0.8 1 1.8 1 0.4 1 -1.7 1 -2.7 1 -1.4 1 0.5 1 2.1 1 2.3 1 3.8 1 6.4 1 0 1 0.9 1 1.2 1 1.2 1 1.3 1 4.5 1 -2.9 1 -1.9 1 -0.1 1 -1.8 1 -3.5 1 -4.2 1 2.7 1 1.9 1 -5.3 1 -3.1 1 -0.5 1 -2.8 1 -1.7 1 3.2 1 3.7 1 4.9 1 0.1 1 7.2 1 -0.6 1 2.2 1 2.3 1 -0.9 1 1.4 1 -1.8 1 2 1 -2.4 1 -4 1 -1.5 1 -2.9 1 -3 1 -4.7 1 -3 1 -6.5 1 -3.8 1 -1.4 1 -2.4 1 1.7 1 -1.7 1 -0.3 1 -2.5 1 -3.4 1 2.6 1 6 1 3 1 0.3 1 -3.9 1 -1.9 1 -5.2 1 -2.1 1 0 1 2.7 1 5.4 1 -3.6 1 1.4 1 3.3 1 -1.5 1 -4.9 1 -1.7 1 4.7 1 2.8 1 1 1 3.9 1 2.5 1 4.4 1 2.2 1 -3.2 1 -0.1 1 -0.3 1 -0.9 1 -2.4 1 -1 1 0.2 1 3 1 1.2 1 0 1 -1.8 1 1.4 1 -4.7 1 -2 1 -1.4 1 -1.7 1 -5.7 1 -5.4 1 -4.9 1 0.3 1 -1.8 1 -3.6 1 0.1 1 3.2 1 -2.5 1 11 1 8.4 1 9.4 1 9.2 1 3.2 1 -2.3 1 -5.8 1 -5.9 1 -5.8 1 0.2 1 -0.7 1 -7.3 1 2.2 1 1 1 -1.2 1 -0.3 1 1.3 1 1.1 1 0.8 1 0.6 1 0 1 -1.1 1 0.1 1 2.7 1 3.5 1 5.1" fill="none" stroke="#264478" stroke-width="3.90" stroke-linejoin="round" stroke-linecap="round"/><line x1="699.5" y1="1270.7" x2="732.0" y2="1270.7" stroke="#4472C4" stroke-width="3.3" stroke-linecap="round"/><text x="735.3" y="1274.3" font-size="11.4" textLength="57.5" lengthAdjust="spacingAndGlyphs">USDT-SSE</text><line x1="802.4" y1="1270.7" x2="834.9" y2="1270.7" stroke="#ED7D31" stroke-width="3.3" stroke-linecap="round"/><text x="838.2" y="1274.3" font-size="11.4" textLength="46.0" lengthAdjust="spacingAndGlyphs">DAI-SSE</text><line x1="905.3" y1="1270.7" x2="937.8" y2="1270.7" stroke="#A5A5A5" stroke-width="3.3" stroke-linecap="round"/><text x="941.1" y="1274.3" font-size="11.4" textLength="50.5" lengthAdjust="spacingAndGlyphs">GLC-SSE</text><line x1="1008.1" y1="1270.7" x2="1040.6" y2="1270.7" stroke="#FFC000" stroke-width="3.3" stroke-linecap="round"/><text x="1043.9" y="1274.3" font-size="11.4" textLength="50.5" lengthAdjust="spacingAndGlyphs">HGT-SSE</text><line x1="699.5" y1="1295.0" x2="732.0" y2="1295.0" stroke="#5B9BD5" stroke-width="3.3" stroke-linecap="round"/><text x="735.3" y="1298.6" font-size="11.4" textLength="59.4" lengthAdjust="spacingAndGlyphs">MNTP-SSE</text><line x1="802.4" y1="1295.0" x2="834.9" y2="1295.0" stroke="#70AD47" stroke-width="3.3" stroke-linecap="round"/><text x="838.2" y="1298.6" font-size="11.4" textLength="48.6" lengthAdjust="spacingAndGlyphs">X8X-SSE</text><line x1="905.3" y1="1295.0" x2="937.8" y2="1295.0" stroke="#264478" stroke-width="3.3" stroke-linecap="round"/><text x="941.1" y="1298.6" font-size="11.4" textLength="58.8" lengthAdjust="spacingAndGlyphs">XAUR-SSE</text></g>
<g><rect x="2.4" y="1319.2" width="595.6" height="328.8" fill="#fff" stroke="#e3e3e3" stroke-width="1.2"/><text x="144.2" y="1348.0" font-size="17.0" textLength="311.0" lengthAdjust="spacingAndGlyphs">Conventional cryptocurrrencies vs JSE</text><line x1="87.9" y1="1373.3" x2="579.7" y2="1373.3" stroke="#d9d9d9" stroke-width="1"/><text x="73.1" y="1377.9" font-size="12.8" text-anchor="end" textLength="56.8" lengthAdjust="spacingAndGlyphs">0.200000</text><line x1="87.9" y1="1402.0" x2="579.7" y2="1402.0" stroke="#d9d9d9" stroke-width="1"/><text x="73.1" y="1406.6" font-size="12.8" text-anchor="end" textLength="56.8" lengthAdjust="spacingAndGlyphs">0.150000</text><line x1="87.9" y1="1430.7" x2="579.7" y2="1430.7" stroke="#d9d9d9" stroke-width="1"/><text x="73.1" y="1435.3" font-size="12.8" text-anchor="end" textLength="56.8" lengthAdjust="spacingAndGlyphs">0.100000</text><line x1="87.9" y1="1459.4" x2="579.7" y2="1459.4" stroke="#d9d9d9" stroke-width="1"/><text x="73.1" y="1464.1" font-size="12.8" text-anchor="end" textLength="56.8" lengthAdjust="spacingAndGlyphs">0.050000</text><line x1="87.9" y1="1488.2" x2="579.7" y2="1488.2" stroke="#d9d9d9" stroke-width="1"/><text x="73.1" y="1492.8" font-size="12.8" text-anchor="end" textLength="56.8" lengthAdjust="spacingAndGlyphs">0.000000</text><line x1="87.9" y1="1516.9" x2="579.7" y2="1516.9" stroke="#d9d9d9" stroke-width="1"/><text x="73.1" y="1521.5" font-size="12.8" text-anchor="end" textLength="61.3" lengthAdjust="spacingAndGlyphs">-0.050000</text><line x1="87.9" y1="1545.6" x2="579.7" y2="1545.6" stroke="#d9d9d9" stroke-width="1"/><text x="73.1" y="1550.2" font-size="12.8" text-anchor="end" textLength="61.3" lengthAdjust="spacingAndGlyphs">-0.100000</text><line x1="87.9" y1="1574.3" x2="579.7" y2="1574.3" stroke="#d9d9d9" stroke-width="1"/><text x="73.1" y="1578.9" font-size="12.8" text-anchor="end" textLength="61.3" lengthAdjust="spacingAndGlyphs">-0.150000</text><line x1="88.0" y1="1488.2" x2="88.0" y2="1492.2" stroke="#d9d9d9" stroke-width="1"/><line x1="184.2" y1="1488.2" x2="184.2" y2="1492.2" stroke="#d9d9d9" stroke-width="1"/><line x1="280.4" y1="1488.2" x2="280.4" y2="1492.2" stroke="#d9d9d9" stroke-width="1"/><line x1="376.6" y1="1488.2" x2="376.6" y2="1492.2" stroke="#d9d9d9" stroke-width="1"/><line x1="472.8" y1="1488.2" x2="472.8" y2="1492.2" stroke="#d9d9d9" stroke-width="1"/><line x1="569.0" y1="1488.2" x2="569.0" y2="1492.2" stroke="#d9d9d9" stroke-width="1"/><text x="88.0" y="1508.9" font-size="12.8" text-anchor="middle" textLength="52.5" lengthAdjust="spacingAndGlyphs">6-Apr-18</text><text x="184.2" y="1508.9" font-size="12.8" text-anchor="middle" textLength="52.5" lengthAdjust="spacingAndGlyphs">6-Apr-19</text><text x="280.4" y="1508.9" font-size="12.8" text-anchor="middle" textLength="52.5" lengthAdjust="spacingAndGlyphs">6-Apr-20</text><text x="376.6" y="1508.9" font-size="12.8" text-anchor="middle" textLength="52.5" lengthAdjust="spacingAndGlyphs">6-Apr-21</text><text x="472.8" y="1508.9" font-size="12.8" text-anchor="middle" textLength="52.5" lengthAdjust="spacingAndGlyphs">6-Apr-22</text><text x="569.0" y="1508.9" font-size="12.8" text-anchor="middle" textLength="52.5" lengthAdjust="spacingAndGlyphs">6-Apr-23</text><path d="M89.2 1482.1 l1 -3.8 1 -1.2 1 -3.9 1 1.6 1 -0.4 1 -5.2 1 3.3 1 2.1 1 1.8 1 -4.5 1 2.2 1 3.2 1 1.2 1 -2.2 1 -3.2 1 -3.3 1 -4.1 1 -3.7 1 1.9 1 7.4 1 7.4 1 0.5 1 -5.3 1 -5.1 1 -2 1 -1.4 1 -0.6 1 3 1 1.6 1 -5.1 1 -1.4 1 0.6 1 0.3 1 -5.1 1 -5.4 1 -7.3 1 -7.3 1 2.3 1 0 1 3 1 0.6 1 -1.6 1 -0.3 1 0.2 1 -4.3 1 -1 1 9.8 1 2.4 1 -0.3 1 1.8 1 0.6 1 0.7 1 -1.9 1 2.7 1 0.9 1 -1.6 1 -1.6 1 0.8 1 1.1 1 1.9 1 -1.7 1 0.6 1 4.5 1 9.2 1 2.7 1 -0.6 1 2.3 1 4.2 1 7 1 4 1 3.5 1 0.6 1 2.5 1 -0.2 1 0.2 1 1.7 1 0.6 1 4.2 1 0.4 1 -8 1 -4.4 1 -4.6 1 -4.5 1 -5 1 0.4 1 4 1 0.8 1 2 1 4.7 1 0.2 1 4.2 1 -4.5 1 -10.6 1 -8.1 1 1.3 1 -1.8 1 -2.3 1 -0.3 1 1 1 -4.1 1 0.3 1 -3.7 1 -1.6 1 -0.1 1 3 1 0.4 1 -2.9 1 -1.3 1 -0.1 1 1.4 1 1.9 1 4.1 1 1.4 1 -4.1 1 7.3 1 21 1 13.8 1 4.1 1 -0.1 1 -2 1 3.5 1 3.3 1 2.1 1 0.4 1 -1.4 1 -0.7 1 0.3 1 3.9 1 -1 1 5.9 1 9 1 3.7 1 4.4 1 5.1 1 0.3 1 0 1 3 1 -3.4 1 -0.3 1 -0.6 1 -2.4 1 -3 1 1.5 1 -1.4 1 0.3 1 -3.6 1 4.4 1 2.7 1 3.9 1 5.2 1 -7.6 1 -5.3 1 -3.5 1 -5.1 1 -4.4 1 -7.4 1 -2.4 1 -3.6 1 -3.2 1 -2.6 1 0.1 1 -5.8 1 1.2 1 4 1 12.3 1 2.1 1 -2.6 1 2.8 1 2.2 1 -1.4 1 -0.8 1 1.2 1 3.3 1 2.4 1 4.8 1 1.3 1 3 1 2.6 1 1.7 1 -0.9 1 -2.1 1 -5.3 1 -2.5 1 -12.4 1 -14.3 1 -2.3 1 -3.4 1 -5.7 1 -0.6 1 -2.5 1 -3.3 1 -5.3 1 -5.8 1 -1.7 1 0.1 1 -2.6 1 -2.2 1 1.2 1 -0.8 1 -1.4 1 -4 1 0 1 3.1 1 7.2 1 3.5 1 3.1 1 2.1 1 3.7 1 13.6 1 2.1 1 1.5 1 -8.3 1 -1.1 1 -1.6 1 -1.9 1 3.5 1 -1.8 1 -5.5 1 -2.1 1 -6.4 1 -0.7 1 0.3 1 -2.2 1 1.1 1 -1.2 1 -7.5 1 -1.3 1 -0.2 1 -0.8 1 0.2 1 0.5 1 -1.1 1 -1.5 1 -0.9 1 -0.4 1 3.1 1 -5.4 1 0.9 1 1.2 1 4.2 1 4.1 1 1.3 1 -1.9 1 -3.8 1 -1 1 0.2 1 4.9 1 -4.4 1 1.6 1 0.2 1 1.8 1 -8.1 1 0.9 1 12.9 1 3.8 1 -0.7 1 0.6 1 2.3 1 3.8 1 2.4 1 -1.9 1 -0.4 1 -3.1 1 0.5 1 -0.8 1 -2.1 1 0 1 -0.4 1 -3.1 1 -0.1 1 0.3 1 0.5 1 1.9 1 -0.1 1 -1.4 1 0.1 1 5.3 1 -1 1 -1.3 1 3.2 1 -3.8 1 -1.1 1 -1.6 1 1.3 1 -1 1 -1.6 1 -5.1 1 -4.2 1 -1.6 1 -5.1 1 0.8 1 -3.2 1 -0.6 1 -3.9 1 0.8 1 -2.4 1 1.8 1 -4.5 1 -2.1 1 -1.6 1 -6.6 1 0.7 1 -0.5 1 -2.6 1 -3.5 1 -2.2 1 -0.2 1 -9.4 1 -5 1 4.1 1 3.8 1 7.5 1 5.4 1 -2.3 1 1.8 1 -2.1 1 -0.1 1 3.6 1 0.9 1 3.8 1 0.1 1 6.1 1 -0.3 1 4.8 1 6.1 1 8.8 1 2 1 -0.5 1 1.4 1 -1.6 1 -0.1 1 5.6 1 2.1 1 0.6 1 -3.4 1 1.9 1 0.6 1 -1.2 1 -3.1 1 2.2 1 -1.8 1 -1.7 1 -0.3 1 -3.1 1 -4.6 1 -0.9 1 -2.2 1 -2.2 1 -1.8 1 -1.2 1 -1.2 1 0.6 1 2.2 1 0.1 1 4.8 1 -2.4 1 3.3 1 0.7 1 1.1 1 2.6 1 3.2 1 -2.1 1 -3.5 1 -1.3 1 0.5 1 1.5 1 1.4 1 -3.3 1 1 1 -4.4 1 -1.4 1 -3.6 1 -3.5 1 -1.9 1 5.2 1 -4.3 1 -4.8 1 0.2 1 1.8 1 6.3 1 2.4 1 -3.8 1 -0.3 1 3.6 1 3.3 1 0.4 1 6 1 -0.1 1 3.9 1 3.1 1 3.1 1 2.2 1 2.1 1 0.5 1 -0.9 1 -1 1 -0.5 1 -0.1 1 -5.6 1 -4.4 1 -1.7 1 -2.5 1 -4.1 1 -5.3 1 -2 1 -5 1 -7.5 1 -6.2 1 -4.4 1 -4.6 1 -5.1 1 0 1 1.4 1 1.5 1 0.5 1 2 1 -2.9 1 4.1 1 2.3 1 -5.4 1 8.7 1 -9.2 1 3.3 1 3.2 1 -2.6 1 2.2 1 -1.3 1 -4.1 1 -0.9 1 0.7 1 0.8 1 -0.9 1 1.2 1 0 1 -1.7 1 2 1 4.4 1 0.1 1 0.4 1 4.8 1 3 1 3.8 1 4.8 1 4.1 1 1.9 1 -1 1 -4.2 1 4 1 1.9 1 -3.8 1 0.8 1 1.1 1 -1 1 1.4 1 -1.8 1 -0.5 1 1.1 1 1.6 1 3.4 1 2.6 1 -1.1 1 3.9 1 1.8 1 1.2 1 0.4 1 1.3 1 1.1 1 0.9 1 4 1 -0.6 1 0 1 4.4 1 -1.3 1 -0.2 1 5.6 1 -0.2 1 2.2 1 4.7 1 0.7 1 -0.9 1 1.1 1 1.8 1 0.5 1 1.7 1 5.6 1 -1.1 1 -1 1 -3.2 1 9 1 -2" fill="none" stroke="#4472C4" stroke-width="3.90" stroke-linejoin="round" stroke-linecap="round"/><path d="M89.2 1486.9 l1 -4.7 1 -8.8 1 -2.2 1 -1.7 1 0.2 1 -5.1 1 1.8 1 -0.8 1 1.8 1 -1.9 1 -0.1 1 1.4 1 3.3 1 0.4 1 2.2 1 -1.9 1 -3.1 1 -0.9 1 3 1 0.1 1 2.8 1 3.9 1 -4.4 1 -6.1 1 -7.3 1 -2.1 1 8.4 1 2.1 1 3.3 1 -4.7 1 -2.6 1 -1.4 1 -3.6 1 -3.4 1 -5.3 1 -9.3 1 -4.2 1 -3.4 1 2.6 1 0.4 1 0.8 1 0.8 1 0.2 1 1.8 1 0.1 1 -0.7 1 1.7 1 1.3 1 -3.4 1 3.4 1 2.8 1 4.1 1 2.5 1 1.8 1 -3 1 0.5 1 0 1 -0.8 1 4 1 -0.8 1 3.7 1 1 1 2.4 1 3.3 1 3.6 1 2.2 1 2.2 1 4.3 1 5 1 2.9 1 2.5 1 3.4 1 0.4 1 0.8 1 1.1 1 1.4 1 3.7 1 -1.9 1 -0.6 1 -4.8 1 -3.4 1 -2.6 1 -7.3 1 -0.9 1 2 1 1.3 1 -0.1 1 1.2 1 3.4 1 4.7 1 3.1 1 1.4 1 -11.8 1 -6 1 -3.1 1 0.9 1 -1.4 1 -2.3 1 0.1 1 -0.9 1 -1.2 1 -2.9 1 -1.7 1 4.3 1 0.3 1 -4 1 -2.6 1 -0.7 1 -1.1 1 1.6 1 2.8 1 1.9 1 1.2 1 -0.8 1 6.5 1 18.5 1 17.8 1 2.2 1 1.2 1 1.4 1 -0.1 1 1.7 1 -0.4 1 2.1 1 1 1 -5.4 1 2.3 1 -3.5 1 -2.9 1 12 1 5.4 1 4.2 1 4.6 1 1.7 1 1.1 1 5.2 1 -3 1 -2.5 1 0 1 -6.1 1 -0.1 1 -1.6 1 -1.8 1 -1.5 1 -0.4 1 1.6 1 4.2 1 5 1 5.5 1 4.8 1 -4.3 1 -8.6 1 -6.6 1 -6.2 1 -4.3 1 -5.3 1 -3.7 1 -5.8 1 -2 1 -1.3 1 0.8 1 -1.5 1 3.4 1 2.9 1 4.8 1 4.7 1 4.1 1 4 1 -2.8 1 0.4 1 1.3 1 2.2 1 -1 1 -2.1 1 1.8 1 3.2 1 2.3 1 4.4 1 4.8 1 -4.1 1 -4.8 1 -3.9 1 -3.9 1 -15.1 1 -15.2 1 -8.9 1 -3.7 1 -5.8 1 -0.3 1 -0.3 1 -0.2 1 -2.9 1 2.8 1 -0.6 1 -0.2 1 -8.6 1 -4.4 1 1.7 1 0.8 1 1.6 1 -1.3 1 -3.7 1 1.3 1 3.1 1 2.2 1 3.4 1 4.1 1 -0.3 1 8.7 1 3.7 1 2.4 1 -3.5 1 3.5 1 -2.4 1 0.9 1 1.2 1 -3.9 1 -3 1 -7.6 1 -2.6 1 -5.3 1 -1.2 1 -0.4 1 0.8 1 -0.8 1 -3.5 1 -2.4 1 -5.4 1 6 1 -2.9 1 -4.6 1 0.7 1 -1.2 1 -2.8 1 -1.7 1 -1.4 1 -0.7 1 4.7 1 4.2 1 -1.1 1 2.1 1 -4.1 1 -2.6 1 -4.7 1 -6.3 1 -5.1 1 -2.3 1 -3.7 1 1.5 1 1 1 -0.3 1 8.2 1 9.6 1 10.1 1 2.3 1 4.7 1 -3.4 1 -0.3 1 -4.3 1 -2.4 1 -2.8 1 -0.4 1 -2.4 1 -1.3 1 -4.3 1 -1.9 1 -1.4 1 -3.4 1 -2.8 1 -2.4 1 -0.8 1 -1.1 1 1.1 1 4.2 1 3.2 1 -1.8 1 4.9 1 9.3 1 0.3 1 1.4 1 -0.2 1 0.6 1 -1.8 1 -4.2 1 -0.6 1 -5.4 1 -1.1 1 1.6 1 3.8 1 1.1 1 5.4 1 -0.3 1 -1.2 1 2.3 1 -1 1 -0.7 1 -0.3 1 -2.8 1 1.2 1 2.8 1 -3.7 1 -0.4 1 -0.1 1 -2.5 1 3 1 -0.7 1 -2.2 1 1.1 1 -0.3 1 0.8 1 4.2 1 1.1 1 -1.6 1 -0.2 1 1.5 1 -0.4 1 0.8 1 3.7 1 2.2 1 -1.3 1 6.1 1 -0.1 1 3.9 1 4.4 1 7 1 3.9 1 0.4 1 2.8 1 3.8 1 3.4 1 -5.6 1 -3.4 1 -5.8 1 -4.3 1 -0.4 1 -3.5 1 -1.3 1 0 1 -1.5 1 -3 1 -1.3 1 -6.5 1 3.1 1 1.2 1 -1.6 1 -2.5 1 -1.5 1 -4.7 1 -2.1 1 -2.4 1 -4 1 -2.9 1 1.5 1 -0.1 1 4.6 1 -0.7 1 3.9 1 0.7 1 3.3 1 2.8 1 4.9 1 1.9 1 -1.4 1 1.1 1 0.1 1 -1.1 1 1.5 1 -1.4 1 -4.1 1 -1.6 1 -3.8 1 -6.2 1 -4.7 1 -5 1 -3 1 3.8 1 0.7 1 1.2 1 3.6 1 -1.1 1 0.3 1 3.3 1 2.1 1 4.6 1 3.2 1 5.6 1 1.3 1 1.5 1 1.7 1 0.4 1 2.2 1 1.1 1 3.5 1 1.2 1 -1 1 -0.8 1 -3.4 1 1.1 1 -0.4 1 -5 1 -2.7 1 -5.3 1 -3.3 1 -3.2 1 1.3 1 -4.2 1 -2.5 1 -0.5 1 1.1 1 -3 1 -4 1 1 1 -2.3 1 0.6 1 1.7 1 0 1 -4.5 1 2 1 0.6 1 -1.1 1 2 1 1.7 1 -1.9 1 0.4 1 4.1 1 1.3 1 -0.8 1 -1.1 1 -0.3 1 1.5 1 1.4 1 -1.5 1 -2.3 1 -3.6 1 5.3 1 3.1 1 4.3 1 6.6 1 2.6 1 2.9 1 4.2 1 2.9 1 -3.2 1 -0.4 1 -2.6 1 0.9 1 -6.3 1 3.8 1 6 1 2.2 1 -3 1 -1.8 1 3.6 1 0 1 -0.4 1 -0.9 1 2.7 1 1.9 1 3.4 1 -0.8 1 4.3 1 -0.5 1 3.3 1 3.6 1 4.4 1 0.1 1 -0.4 1 3.3 1 5.2 1 -2.7 1 -1.6 1 -2.9 1 3.6 1 3.6 1 -0.8 1 -0.8 1 3 1 0.6 1 0.3 1 -3.2 1 1.5 1 0.5 1 0.3 1 1 1 1.8 1 1 1 1.7 1 -1.5 1 -0.5 1 -0.4" fill="none" stroke="#ED7D31" stroke-width="3.90" stroke-linejoin="round" stroke-linecap="round"/><path d="M89.2 1494.1 l1 -2.2 1 -0.3 1 -0.2 1 -3.2 1 -5.9 1 -4.4 1 -4 1 2.8 1 -0.6 1 3.3 1 0 1 1 1 -3.1 1 2 1 -1.5 1 -2.3 1 -2.7 1 -1.7 1 2.5 1 4.6 1 9.4 1 2.5 1 -7.3 1 -5.3 1 -3.6 1 0.6 1 -0.2 1 -0.5 1 0.2 1 -1.1 1 -3.7 1 -3.4 1 -3 1 -4.4 1 -6.4 1 -1.4 1 -7.5 1 -3.5 1 1.7 1 2.1 1 1.4 1 2.8 1 -0.1 1 -0.9 1 -0.8 1 -0.3 1 2.9 1 1.7 1 -0.8 1 -0.3 1 1.5 1 2.8 1 0.8 1 2.2 1 -5 1 2.8 1 2.7 1 0 1 -2 1 6.6 1 -0.7 1 4.6 1 3.7 1 0.9 1 6.5 1 4 1 1.5 1 2.3 1 5.1 1 0.9 1 5.9 1 -1.5 1 0.8 1 3.8 1 2 1 -2.9 1 0.4 1 3.1 1 -0.5 1 -4 1 -1.8 1 -5.5 1 -7.7 1 -6.2 1 2 1 -2.6 1 3.5 1 0.1 1 12.3 1 3 1 -2.1 1 -2.3 1 -8.3 1 -8.4 1 -7.1 1 -1.9 1 -2.1 1 6.9 1 -1.9 1 -3.6 1 -3.3 1 -0.7 1 0.8 1 1.2 1 1.5 1 -2.7 1 1.7 1 -1.9 1 -2 1 -2.4 1 -0.2 1 0.5 1 2.6 1 0.5 1 -1.2 1 -2.8 1 -3.4 1 1.6 1 5 1 -0.2 1 -0.5 1 5 1 3.1 1 2.4 1 3.5 1 1 1 1.4 1 2.5 1 1.9 1 6.2 1 5.3 1 2.3 1 5 1 2.2 1 1.4 1 3.9 1 2 1 1.8 1 0.5 1 2.2 1 -2.4 1 4.4 1 -0.8 1 2.1 1 -0.9 1 1.8 1 -1.9 1 3 1 -2.7 1 1.1 1 0.1 1 -3 1 -1.1 1 -1.9 1 -14.3 1 -5.6 1 -8.1 1 -7.7 1 -7 1 -1.1 1 -1.7 1 -5 1 3.6 1 2.9 1 5.9 1 5.8 1 3.6 1 3.3 1 -1.1 1 9 1 2.1 1 3.2 1 -0.3 1 5.6 1 5 1 4.8 1 4.5 1 5.6 1 7 1 -0.5 1 -0.2 1 -1.3 1 -2.2 1 -12.4 1 -14.5 1 -4 1 -1.8 1 1.1 1 0.5 1 -3.7 1 -5.6 1 -3.1 1 0.3 1 4.3 1 -0.1 1 -3.1 1 -2 1 -2.7 1 -3.6 1 -3.9 1 -0.3 1 0.6 1 -0.3 1 0.4 1 0.7 1 2.3 1 5.6 1 2.2 1 3.1 1 2.4 1 3.6 1 -1.8 1 2.9 1 2.2 1 -0.9 1 2.6 1 -1.2 1 -4.5 1 -4.3 1 -2.3 1 -2.2 1 -3.7 1 -3.1 1 0.7 1 3.9 1 -4.8 1 1.6 1 -2 1 -1.9 1 -1.4 1 -3.5 1 -0.4 1 1.1 1 -1.7 1 -1 1 -1.2 1 -3.8 1 1.5 1 0.3 1 0.5 1 4 1 -0.8 1 -0.3 1 -0.1 1 -4.2 1 3 1 3.2 1 -1.5 1 2.2 1 1.3 1 -2 1 3.6 1 3 1 5.3 1 4.1 1 2.3 1 3.5 1 8 1 -0.3 1 2.9 1 0.5 1 1 1 -1.1 1 -1.3 1 -4.3 1 -4.1 1 -3.5 1 0.9 1 -0.2 1 -2.1 1 1.6 1 -2.8 1 -1.5 1 -2.9 1 -2 1 -3.3 1 -0.5 1 -4.7 1 -0.4 1 1.8 1 1.6 1 -2.3 1 -2.4 1 -3.3 1 -3.4 1 3.9 1 -4.2 1 0.6 1 0.3 1 -1.6 1 -0.4 1 -2.2 1 -1.9 1 0.7 1 -3.3 1 -3.1 1 0.8 1 0.3 1 -3 1 1.3 1 -1.8 1 1.7 1 0.2 1 -3.6 1 0.8 1 0.9 1 0.7 1 -5.6 1 3.6 1 -4.2 1 1.6 1 2 1 3 1 -5.9 1 1.1 1 1.5 1 1.6 1 1.3 1 -1.7 1 4.5 1 3.1 1 5.8 1 0.9 1 1.8 1 7.4 1 1.4 1 5.2 1 0.4 1 3.8 1 4 1 2.5 1 0.5 1 -3 1 -0.4 1 -1.6 1 3.2 1 -1.8 1 -10.7 1 0.5 1 -2.6 1 -1.9 1 0.9 1 -1.4 1 -3.6 1 0.5 1 0 1 0.5 1 -3.4 1 -2.9 1 4 1 0.4 1 0.5 1 1.4 1 3.7 1 1.4 1 -0.3 1 -0.3 1 1.1 1 1.8 1 0.9 1 -2.1 1 3.2 1 0.9 1 4.8 1 4 1 2.3 1 3.7 1 -0.3 1 -1.3 1 -5.6 1 -3.8 1 -7.1 1 -6.2 1 -3.3 1 -6.6 1 -1.1 1 -3.7 1 1.3 1 -3.1 1 -1.5 1 0.7 1 1.5 1 -2.7 1 1 1 4.1 1 2.5 1 1.3 1 2.8 1 2.3 1 0.9 1 1.2 1 1.5 1 5.3 1 4.7 1 2.9 1 2 1 2.7 1 1.6 1 -3.7 1 -6.4 1 -0.3 1 -3 1 -3.5 1 -3.6 1 -2.1 1 -4.4 1 -2.4 1 -2.5 1 -1.4 1 -0.2 1 -6.4 1 -3.2 1 -4.9 1 1.1 1 -3 1 -1.7 1 -1.4 1 0.1 1 2.6 1 0.3 1 -3.3 1 0 1 -1.7 1 -1.7 1 -3.5 1 -0.4 1 -0.9 1 -3.6 1 -4.3 1 -5.7 1 -3 1 -7.2 1 2.7 1 4 1 -2 1 -0.3 1 4.2 1 4.9 1 5.7 1 5.7 1 10.1 1 8.6 1 0.4 1 6.6 1 0.7 1 12.4 1 1.4 1 0.2 1 -6.8 1 -0.1 1 -1.8 1 -0.3 1 -0.4 1 1.5 1 0.7 1 4.4 1 2.2 1 -2.4 1 4.4 1 -2 1 1.7 1 3.6 1 6.9 1 -2.4 1 -2.1 1 3.4 1 3.3 1 4.2 1 1.3 1 3 1 3.1 1 -3.4 1 0 1 3.2 1 0.2 1 3.6 1 3.5 1 3.3 1 0.6 1 4.8 1 1.2 1 1.6 1 1 1 0.7 1 -0.1 1 1.5 1 0.4 1 -0.7 1 2.1" fill="none" stroke="#A5A5A5" stroke-width="3.90" stroke-linejoin="round" stroke-linecap="round"/><path d="M89.2 1495.0 l1 -4.8 1 -5.1 1 -4.6 1 -3.4 1 -3.9 1 -0.5 1 -1.1 1 -3 1 1.5 1 -0.6 1 1.5 1 -0.9 1 8.3 1 0.6 1 -4.7 1 -2.8 1 -5.1 1 -2.6 1 3.4 1 1.2 1 4.6 1 2.5 1 -4.9 1 -3.1 1 -2.4 1 -0.7 1 1.3 1 -2.9 1 -2.4 1 -0.7 1 -1.5 1 1.6 1 0.4 1 -5.4 1 -7.7 1 -12.3 1 -4.3 1 -6.2 1 3.9 1 2 1 0.7 1 1.8 1 -2.3 1 2.4 1 0 1 3.8 1 -0.2 1 3.2 1 4.8 1 -4.2 1 5.3 1 2 1 3.1 1 1.8 1 -2.6 1 1.6 1 1.4 1 -2.4 1 1.2 1 -0.4 1 4.8 1 2.9 1 3.4 1 0.8 1 4.9 1 3.1 1 4.7 1 3.9 1 3.7 1 3.1 1 1.9 1 2.3 1 1.2 1 0.7 1 -1.6 1 -1.4 1 5.3 1 3.4 1 1.4 1 -4.4 1 -5.4 1 -4.6 1 -2.4 1 -4.3 1 1.9 1 1 1 1.8 1 4.3 1 3.9 1 5.2 1 3.8 1 -1.4 1 -7.9 1 -6.8 1 -3.1 1 -2.7 1 -0.6 1 -0.4 1 -1.1 1 0.1 1 2.5 1 -4.2 1 -1.9 1 8.6 1 0.6 1 -6.8 1 -3.6 1 3.4 1 -1.2 1 -2.1 1 0.9 1 0.4 1 0.5 1 4.7 1 11.6 1 12.5 1 14.2 1 3.2 1 -0.1 1 0 1 2.2 1 6.4 1 -6.5 1 3.1 1 3.6 1 -1 1 -2.5 1 3.6 1 -3.8 1 3 1 5.7 1 7.7 1 6.9 1 -1 1 4.6 1 0.6 1 4.1 1 -2 1 -5 1 -2.1 1 -3.5 1 -1.5 1 2.7 1 -1.7 1 -1.7 1 -0.8 1 4.6 1 5.2 1 -0.7 1 6.4 1 -6.5 1 -1.5 1 -3.4 1 -7.3 1 -9.6 1 -6 1 -8.2 1 -6 1 -0.2 1 0.7 1 1.4 1 -1.3 1 0 1 6.5 1 2.2 1 5.5 1 4 1 -5.6 1 1.6 1 1.8 1 0.7 1 0.5 1 2.2 1 0 1 4.9 1 1.4 1 4.5 1 5.1 1 3.1 1 -3.4 1 -1.6 1 -1.7 1 -0.4 1 -15 1 -15.6 1 -4.3 1 -0.3 1 -0.2 1 -3.8 1 -0.8 1 1.2 1 -1.5 1 0.5 1 2.2 1 -1.8 1 -3.9 1 -4.9 1 4.3 1 -3.2 1 0 1 0.1 1 -1 1 0.5 1 5.8 1 1.6 1 4 1 1.7 1 5.5 1 3.5 1 5.8 1 -1.2 1 -1.7 1 5.5 1 -4.1 1 -2.3 1 0.4 1 -1.5 1 -3.3 1 -5.4 1 -0.7 1 0 1 -6.1 1 -3.2 1 -3.8 1 -4.1 1 -1.5 1 4.2 1 -4.8 1 -0.3 1 -2.1 1 2.7 1 -3 1 -3.9 1 0 1 -3 1 -2.6 1 0.4 1 2.6 1 1.3 1 6.8 1 0.9 1 0.2 1 2.8 1 -2.4 1 1.8 1 -2.2 1 -0.1 1 0.7 1 -3.7 1 -2.8 1 -1.8 1 -2.8 1 -3.5 1 0.6 1 -1.3 1 2 1 -3.6 1 1.5 1 -1.4 1 2.8 1 1.9 1 2 1 -1.8 1 2.2 1 -0.4 1 -0.7 1 -1.6 1 1.8 1 -4.1 1 8.9 1 -10.4 1 4.5 1 -0.8 1 -0.8 1 -5.2 1 -1.7 1 -2.8 1 -1.9 1 6.5 1 -8.3 1 0.7 1 -1 1 -2.6 1 -0.2 1 -4.3 1 -2.9 1 -3.7 1 1.3 1 0.2 1 -4.4 1 -0.9 1 -0.4 1 -0.1 1 -2.9 1 -3.1 1 -2.6 1 -0.1 1 -1.2 1 -2.1 1 1.2 1 -1.2 1 -1.8 1 1.4 1 4.2 1 2.6 1 -1.3 1 3 1 0.2 1 -1.6 1 1.1 1 -0.7 1 2.6 1 1.9 1 3.3 1 0.6 1 0.2 1 -3.2 1 3.7 1 1.9 1 1.3 1 0.5 1 2.7 1 3.4 1 5.3 1 3.1 1 -0.1 1 5.4 1 3.5 1 0.2 1 -0.8 1 -6.1 1 -3.6 1 -2.3 1 1.3 1 -3 1 -6.9 1 -2.9 1 -3.3 1 1.3 1 -4.4 1 -2 1 -1.1 1 -1.9 1 -0.2 1 -1.7 1 0.1 1 -3.7 1 -6.1 1 -5.9 1 -3.3 1 0.1 1 2.4 1 -3.1 1 8.7 1 3 1 1.9 1 0.7 1 5.8 1 -2 1 2.8 1 6 1 0.8 1 4.4 1 1.8 1 -0.5 1 -1.3 1 0.2 1 -2.7 1 2.8 1 -0.2 1 -3 1 -2.3 1 1.8 1 3 1 -0.2 1 3.2 1 0 1 4.2 1 -1.1 1 -9.6 1 8.6 1 -1.5 1 0.4 1 4.1 1 -2.7 1 4 1 2.6 1 2.6 1 5.6 1 -0.8 1 2.3 1 4.5 1 2.2 1 0.6 1 -1.6 1 -2.2 1 -2.4 1 -5.3 1 0.5 1 -7.9 1 0.1 1 -3 1 -1.3 1 -0.2 1 0.1 1 1.1 1 3.4 1 0.3 1 -6.2 1 -3.1 1 -0.1 1 -0.8 1 0.1 1 0.1 1 -1 1 -1.6 1 -2.5 1 1.5 1 0.4 1 -1.1 1 -0.2 1 1.9 1 3.5 1 0.3 1 2.5 1 4.2 1 6.6 1 5.9 1 3.1 1 3.3 1 6.2 1 9.1 1 0.8 1 1.6 1 -7.7 1 -0.5 1 6.6 1 1.6 1 0.5 1 1 1 3.6 1 -0.3 1 1.4 1 1.4 1 3.6 1 -7 1 -2.6 1 2.7 1 5.3 1 1.2 1 -1.1 1 -2.7 1 0.1 1 -2.7 1 2 1 -0.9 1 -1.2 1 -2.5 1 -1.4 1 -0.9 1 3.5 1 0.6 1 -1.7 1 0.3 1 0.4 1 3.4 1 0.9 1 -2.5 1 0.3 1 2 1 -1.1 1 1.2 1 1.9 1 5 1 1.6 1 3.6 1 2.7 1 -4.5 1 -0.3 1 3.9 1 -2.3 1 0.3 1 1.8 1 -1.3 1 -0.1 1 0.9 1 -8.1 1 9.4 1 -1.5 1 -1.4" fill="none" stroke="#FFC000" stroke-width="3.90" stroke-linejoin="round" stroke-linecap="round"/><path d="M89.2 1493.8 l1 -4 1 -1.6 1 -2.7 1 -2.6 1 -6.6 1 -3.1 1 -0.3 1 2.2 1 1.8 1 1 1 -1.4 1 2.5 1 0.4 1 2.8 1 -1.5 1 -4 1 -0.2 1 -2.5 1 2.1 1 4.4 1 4.3 1 4.1 1 -6.4 1 -2.2 1 -4.9 1 2.1 1 1.7 1 0.1 1 -0.3 1 -2.7 1 -1 1 -0.9 1 -1.2 1 -4.6 1 -4.9 1 -6.2 1 -8.5 1 1.6 1 2.7 1 2.8 1 0.5 1 3.1 1 4.9 1 -2.2 1 3.1 1 3.6 1 0.3 1 -3.3 1 1.1 1 3.6 1 2.1 1 4.6 1 2.8 1 3.9 1 -2 1 0.1 1 -1.3 1 0.8 1 -1.5 1 0.6 1 0.9 1 0.9 1 1.9 1 1.5 1 2.1 1 -0.3 1 4.3 1 0.6 1 5.5 1 1.6 1 3.5 1 0.5 1 1.2 1 2.7 1 1.9 1 -0.3 1 2.1 1 2.7 1 -0.4 1 -4.3 1 -5.7 1 -9.7 1 -3.7 1 4.8 1 -4.4 1 10.2 1 2.6 1 7.7 1 1.6 1 6.3 1 3.3 1 2.6 1 -8.1 1 -5.6 1 0.7 1 0.5 1 0 1 1.3 1 -0.1 1 0.8 1 -0.8 1 0.5 1 -3.5 1 1.4 1 2.5 1 -5 1 -2.1 1 3.1 1 -1.9 1 1.2 1 0.1 1 5.5 1 -0.4 1 -1.9 1 2.9 1 17.9 1 11.8 1 0.2 1 0.5 1 1.4 1 0.5 1 -2 1 0 1 -1.8 1 1.7 1 0.1 1 -2.7 1 -0.6 1 -2.1 1 -0.3 1 6.4 1 5.6 1 3.3 1 0.9 1 3.8 1 2.5 1 0.3 1 -2 1 0 1 0.9 1 -0.6 1 -6.3 1 -3 1 6.7 1 -10.2 1 -0.2 1 0.1 1 5.6 1 2.9 1 5.3 1 -6.7 1 -6.3 1 -6.6 1 -5.8 1 -3.8 1 -3.3 1 -8.3 1 -5.9 1 -1.4 1 -0.8 1 -0.4 1 -1.5 1 1.3 1 5.2 1 2.3 1 4.1 1 3.1 1 1.3 1 -3.5 1 0.4 1 2.6 1 3.7 1 -0.7 1 1.6 1 3.4 1 3.2 1 2.2 1 0.7 1 2.4 1 -0.5 1 -5.8 1 -1 1 -6 1 -11.8 1 -10.1 1 -7.3 1 -2.4 1 -5.4 1 -1 1 1.3 1 -2.9 1 -0.7 1 -0.9 1 -3 1 -1.3 1 0 1 0.5 1 -5.7 1 -4.5 1 0.7 1 -6.3 1 -1.7 1 2.5 1 0.7 1 0.1 1 2.5 1 5.2 1 2.1 1 3.9 1 7.6 1 5 1 2.7 1 2.7 1 1.4 1 4.4 1 2.4 1 1.9 1 -3.4 1 1.3 1 1.5 1 -6.6 1 1 1 0.1 1 2.6 1 -0.3 1 0.5 1 -0.2 1 -1.4 1 1.3 1 -6 1 -2.4 1 -2.7 1 -3.9 1 -3.1 1 -0.8 1 0.6 1 -3.9 1 -3.2 1 -7.4 1 -7.8 1 -8 1 -4.1 1 -1.8 1 -1.8 1 -0.2 1 -1.8 1 -0.2 1 -2 1 0.2 1 0.9 1 3.5 1 4.4 1 -0.3 1 1.6 1 0.9 1 4.8 1 0.6 1 0.9 1 0 1 -2.3 1 -2.3 1 -3.3 1 -0.1 1 1.1 1 -1 1 -0.2 1 1.2 1 -2.9 1 1.7 1 3.7 1 -0.9 1 0.5 1 0.4 1 -1.3 1 2.9 1 -0.6 1 -1 1 -1.1 1 -4.5 1 0.6 1 -2.4 1 0.7 1 -1.7 1 3.4 1 -3.1 1 1.1 1 2.5 1 4.7 1 -1.5 1 10.9 1 -11.1 1 -2.6 1 -0.6 1 -0.9 1 5.5 1 -2.5 1 -1.1 1 -0.4 1 1.1 1 2.8 1 -1.2 1 -2.1 1 0.3 1 -3.1 1 -1.1 1 -0.1 1 2.6 1 2.3 1 0.9 1 3.5 1 -2.7 1 3.1 1 0.1 1 -1.5 1 5.8 1 -2.4 1 -2.6 1 2.3 1 -1.4 1 8.8 1 14.7 1 10.1 1 7.2 1 -9.5 1 -5.1 1 -6.7 1 -9.6 1 4.5 1 4.7 1 -2 1 -2.4 1 -1.1 1 0.6 1 -2.2 1 -1.8 1 -1 1 1.4 1 -1.1 1 -0.9 1 -3.2 1 -0.1 1 -1 1 -2.1 1 -2.8 1 -3.3 1 -1 1 0.5 1 -1.8 1 -2.8 1 -0.6 1 5.6 1 2.8 1 2.5 1 -4.2 1 2.6 1 -1.6 1 -9.5 1 0.5 1 -3.2 1 -3.8 1 2.3 1 -4.4 1 2.6 1 -1.7 1 0.5 1 0.1 1 -1.8 1 1.5 1 -0.6 1 -7 1 -0.2 1 -0.6 1 7.2 1 -0.4 1 -0.5 1 0.8 1 0.8 1 -2.2 1 1.8 1 1.7 1 -3.4 1 0.6 1 7.3 1 1.8 1 3.6 1 -0.3 1 1.2 1 1.7 1 7.4 1 10.4 1 4.8 1 0.8 1 -2.9 1 3.9 1 4.5 1 1.2 1 -5.1 1 -3.2 1 -3.2 1 -2.2 1 -0.3 1 -2.6 1 -3.3 1 0.8 1 -4.5 1 -0.4 1 -3.5 1 -6.1 1 0.2 1 -1.8 1 -4.8 1 -2.9 1 3.9 1 0.1 1 -5 1 -2.8 1 1.4 1 0.1 1 -0.6 1 2.5 1 2.5 1 -0.2 1 -0.8 1 0.1 1 -2.4 1 -0.1 1 0.8 1 -0.1 1 -1.7 1 -4.3 1 8.8 1 -6.9 1 -2.7 1 -0.2 1 0.2 1 1.3 1 4.1 1 1.8 1 2.5 1 0.5 1 1.1 1 -3 1 3.7 1 -5.4 1 -2.8 1 4.5 1 3.6 1 2.1 1 2.4 1 2.6 1 0.8 1 7.2 1 1.3 1 1.3 1 1 1 -0.6 1 -0.7 1 3.4 1 1.8 1 3.2 1 -1.7 1 -1.5 1 0.8 1 2.2 1 0.3 1 1.3 1 3.3 1 -3.4 1 3.2 1 -1.1 1 -1 1 -2.5 1 3.6 1 -0.5 1 1.9 1 -0.6 1 2.8 1 -1.4 1 -4 1 2.6 1 2.5 1 -2.3 1 1.7 1 3.9 1 0.5 1 -2.3 1 -3 1 -7.4 1 -3.7 1 7.7" fill="none" stroke="#5B9BD5" stroke-width="3.90" stroke-linejoin="round" stroke-linecap="round"/><path d="M89.2 1482.5 l1 -2.3 1 -5 1 -5.1 1 -3.6 1 -3.4 1 -5.7 1 -2.3 1 3.5 1 0.6 1 4.1 1 0.5 1 1.9 1 -1.9 1 3.9 1 -1.6 1 -6.7 1 2.7 1 -2.1 1 -2.4 1 7.1 1 3 1 3.9 1 -1.7 1 -7.4 1 -3.7 1 -2.2 1 0.8 1 0.2 1 -0.5 1 -1.2 1 -2.2 1 -2.6 1 -4.2 1 -7.7 1 -5.6 1 -5.6 1 -7.4 1 -3.2 1 -2.2 1 0.2 1 0 1 1.4 1 -1.9 1 1 1 -1.1 1 2 1 -0.5 1 -0.2 1 2.4 1 2.6 1 0.9 1 1.4 1 0 1 4.9 1 1.4 1 -2.7 1 5.3 1 -1 1 0.6 1 0.3 1 1.7 1 1.4 1 1.1 1 1.5 1 5.5 1 -0.6 1 1.6 1 0.6 1 4.3 1 7.4 1 4.8 1 3.9 1 -8.9 1 2.3 1 4.8 1 4.9 1 1.7 1 2.2 1 5.7 1 -4 1 -0.9 1 -4.9 1 -3 1 1.4 1 3.5 1 4.7 1 3.9 1 4.4 1 3.6 1 4 1 2.8 1 2.3 1 -6.7 1 -9.2 1 4.1 1 2.7 1 -0.4 1 1.7 1 0.3 1 0.3 1 0.6 1 0.9 1 -1.8 1 -2.1 1 -6.6 1 -2.8 1 -3.6 1 -6.8 1 -3.6 1 -0.3 1 -2.8 1 0.5 1 -3.4 1 -2.1 1 4.2 1 17 1 11.4 1 1.7 1 -1.7 1 -6.3 1 -1.2 1 1.1 1 2.6 1 -2.8 1 1.2 1 -2.9 1 -3.9 1 -2.5 1 -1.3 1 4.6 1 5.5 1 6.2 1 8.5 1 5.2 1 0 1 -0.8 1 -0.3 1 1 1 0.1 1 -2 1 -0.7 1 -3 1 0 1 -1.4 1 -2 1 -0.9 1 2.7 1 4.7 1 2.9 1 1.9 1 -1.4 1 -1.7 1 -6.2 1 -6.5 1 -0.6 1 -3.7 1 -5.8 1 -4.1 1 -4.4 1 2.3 1 0.2 1 -4.4 1 3.5 1 6.5 1 3.9 1 2.7 1 2.1 1 -0.6 1 1.4 1 -1.1 1 -0.1 1 2.6 1 -1.2 1 8.3 1 3.7 1 6.3 1 3.1 1 4.8 1 2.8 1 -1 1 -0.8 1 1.3 1 -0.8 1 -10 1 -9.2 1 -5.6 1 -2.2 1 1.6 1 -3.8 1 -1 1 0.1 1 -1.5 1 2.1 1 -5.1 1 0 1 -3.3 1 -0.8 1 -0.6 1 -5.2 1 -1.3 1 -6.4 1 -2.8 1 2.7 1 -4.6 1 1.6 1 0.3 1 0.6 1 3 1 4.3 1 7.3 1 -0.1 1 1.4 1 1.5 1 -3.6 1 -5.2 1 -0.7 1 -6 1 -3.4 1 -1.7 1 2.1 1 -2.3 1 0.3 1 -3.1 1 1.8 1 -5 1 3.4 1 0.7 1 5.8 1 1.4 1 -3.4 1 -1.5 1 -0.5 1 1.5 1 -0.3 1 -0.7 1 -2.8 1 2.1 1 -1.9 1 2.2 1 -0.1 1 3.1 1 -1.2 1 -0.7 1 -0.5 1 3 1 -3.1 1 2.1 1 2.2 1 -3 1 4.2 1 -1 1 2.1 1 4.2 1 1.6 1 3.4 1 0.5 1 -4.9 1 -2 1 -0.7 1 -4.2 1 -1.8 1 -4.7 1 -1.2 1 -1.3 1 -3 1 -1.6 1 1.2 1 -1.6 1 0.8 1 0.8 1 -1.5 1 0.7 1 6.3 1 4.9 1 1.2 1 2.6 1 4.1 1 -1.3 1 -4.7 1 -4.7 1 -2.3 1 -2 1 -3.5 1 0.2 1 0.6 1 -0.8 1 -0.8 1 -1.4 1 -1.9 1 -1.9 1 -0.7 1 -3.4 1 -1 1 -1.7 1 -1.9 1 -0.2 1 4.6 1 1.3 1 -5.3 1 1.8 1 -1.2 1 2.3 1 -0.8 1 5.8 1 -0.4 1 -0.5 1 -1.6 1 1.8 1 -0.2 1 -4.4 1 0.7 1 0.2 1 -4.7 1 0.6 1 -0.1 1 3.1 1 0.5 1 3.5 1 1.6 1 2.6 1 7.3 1 2.5 1 3.4 1 5.5 1 4 1 5.4 1 4.9 1 6.5 1 2.2 1 12 1 -3.3 1 -4.4 1 -3.8 1 -3.3 1 -0.1 1 -3.5 1 -3.2 1 -3 1 -1 1 -3.9 1 -7.1 1 3.3 1 0.8 1 -0.6 1 3.8 1 0 1 1.1 1 0.8 1 -1.1 1 3.1 1 2.7 1 2.1 1 -0.9 1 1.4 1 -0.9 1 0.9 1 1 1 2.9 1 1 1 -1 1 3 1 4.9 1 1.5 1 0.5 1 2.2 1 -2.4 1 -4.6 1 -0.3 1 -7.2 1 -3.7 1 -6.8 1 -2.1 1 -3.6 1 -3.8 1 -8.1 1 -4.9 1 -6.1 1 2.4 1 -1.3 1 -1.5 1 -2.4 1 -0.5 1 -0.8 1 3.1 1 4.6 1 4.1 1 2.1 1 3.1 1 3.1 1 1.8 1 5.1 1 2.5 1 2.4 1 3.7 1 0.1 1 3.6 1 1.2 1 1 1 0.5 1 0.7 1 -2.5 1 0.1 1 0.6 1 -3.8 1 -0.7 1 -2.6 1 -2.8 1 -0.8 1 -3.3 1 3.7 1 -3 1 0.3 1 -1.5 1 2.8 1 -1.2 1 2.6 1 -2.6 1 2.3 1 1.1 1 5 1 0.3 1 9.2 1 4 1 5.1 1 2.7 1 -2.7 1 -1.6 1 -4.5 1 -1.6 1 0.4 1 0.4 1 1.2 1 2.4 1 0.4 1 -1.5 1 1.1 1 3.7 1 1 1 7.1 1 5.9 1 1.5 1 2 1 0.8 1 2.6 1 4.3 1 -2.6 1 -1.1 1 -2.2 1 0.1 1 -3 1 -1.7 1 0.8 1 -3.8 1 1.7 1 -0.1 1 0.8 1 0.3 1 -1.2 1 -4.9 1 1.3 1 0.1 1 1.6 1 2.7 1 2.9 1 2.6 1 -0.8 1 1.8 1 1.5 1 -2.6 1 0.6 1 8.9 1 0.6 1 1 1 -6.1 1 2.7 1 -3.8 1 -1.2 1 -0.3 1 -1.9 1 2.2 1 8 1 -0.7 1 1.2 1 -2.7 1 3.1 1 1 1 5 1 3.7 1 -2 1 1.4" fill="none" stroke="#70AD47" stroke-width="3.90" stroke-linejoin="round" stroke-linecap="round"/><path d="M89.2 1489.8 l1 -5.3 1 -3 1 -3.1 1 -4.1 1 -3.3 1 1.7 1 -2.8 1 2.6 1 -1.6 1 -0.5 1 0.3 1 1.1 1 1.8 1 0.7 1 -1.1 1 0.5 1 -2.5 1 -1.6 1 -1.3 1 4.4 1 6.8 1 4.4 1 -7.1 1 -2.7 1 -4.7 1 -0.9 1 0 1 2.6 1 0.8 1 -4.1 1 -1.8 1 -8.1 1 -3.6 1 -3.6 1 1.2 1 -4.9 1 -4.3 1 -3.1 1 0.5 1 2.9 1 1.6 1 0.1 1 -0.2 1 2.2 1 1 1 0 1 -1.4 1 2.8 1 2.6 1 1.2 1 3 1 1.6 1 2.1 1 1.7 1 -4 1 0.9 1 -0.4 1 -3 1 3.8 1 0.4 1 0.4 1 3.2 1 1.9 1 3.1 1 7.8 1 1.2 1 5.1 1 0.8 1 2 1 4.7 1 4 1 0.5 1 2.8 1 1.8 1 -1.3 1 1.5 1 2.5 1 0.5 1 -1 1 -4 1 -7.2 1 -4.4 1 -3.8 1 -3.9 1 0.5 1 1.5 1 3 1 1.2 1 1.6 1 6.4 1 0.7 1 0.2 1 -8.3 1 -7.1 1 -8.3 1 0.1 1 3.5 1 -2.1 1 -1.3 1 -1.9 1 -1.6 1 1.1 1 -2 1 -0.4 1 0.1 1 1 1 -2.1 1 0.7 1 -2.4 1 0.2 1 1.5 1 1.3 1 1.6 1 3.9 1 7.6 1 19.5 1 11.9 1 0.7 1 0.2 1 1.4 1 -0.8 1 0.5 1 3 1 0.6 1 3.1 1 1.7 1 -1.5 1 3 1 -3.8 1 0.4 1 5.3 1 12 1 4.5 1 2.3 1 1 1 3.7 1 1.9 1 1.1 1 -2.6 1 -1.8 1 -5.5 1 0 1 -0.3 1 1 1 -0.2 1 0.6 1 3.4 1 1.5 1 2.4 1 9.6 1 -4.9 1 -7.5 1 -6.5 1 -6 1 -6.1 1 -5.9 1 -5 1 -6.5 1 -3.6 1 -2.2 1 1 1 -1.5 1 2 1 3.5 1 4.4 1 6.5 1 3.5 1 -2.1 1 0.7 1 0.5 1 -2.4 1 1.5 1 3.2 1 0.2 1 3.9 1 2.9 1 3.5 1 2.5 1 4.1 1 0 1 -5.2 1 -4.2 1 -1 1 -11.9 1 -13.4 1 -3.7 1 -2.9 1 -5.1 1 -0.8 1 -3.2 1 2.4 1 -1.8 1 -1.5 1 3 1 -1.4 1 -1.6 1 -4.1 1 -2 1 0 1 -3.5 1 -2.2 1 -1.7 1 4.1 1 2.3 1 -3.5 1 3 1 1.8 1 3.9 1 3.1 1 3.5 1 0.2 1 8.3 1 2.3 1 -3.2 1 -2.3 1 1.8 1 -3.6 1 -3.9 1 -2.6 1 -4.6 1 -3.5 1 0 1 -2 1 0.1 1 -0.5 1 -4.3 1 1.9 1 3.4 1 -3.3 1 -1.8 1 2.7 1 -4.7 1 -3 1 -0.2 1 -2.2 1 -1.8 1 0.2 1 3.6 1 -2.7 1 3.9 1 4.6 1 -2.9 1 -0.8 1 -0.9 1 1.8 1 -3.2 1 0.1 1 -1.6 1 1.3 1 -2.8 1 3.7 1 8 1 5.2 1 4.7 1 3.3 1 1.3 1 3 1 3.3 1 -2.1 1 -4.4 1 -2.5 1 -1.1 1 0.4 1 -6.3 1 2.5 1 9 1 -2.1 1 -1.8 1 -3.7 1 -2.6 1 -2.7 1 -4.9 1 -0.1 1 7.5 1 5.9 1 5.6 1 6.7 1 0 1 -2.5 1 -1.7 1 2.1 1 -1.5 1 -11.8 1 1.9 1 8.8 1 -1.9 1 -9.5 1 -3.1 1 -3.8 1 -0.8 1 -10 1 -3.3 1 -6.2 1 -7.2 1 -2.8 1 -1.9 1 1.4 1 0 1 -0.6 1 -0.1 1 1.6 1 -1.4 1 0.1 1 -3.2 1 -1.9 1 -1.5 1 -2.4 1 -2.9 1 -1.9 1 2.1 1 4.2 1 1.9 1 5.4 1 0 1 0 1 0.4 1 2.3 1 2.5 1 0.7 1 1.2 1 -1.4 1 1.7 1 5.5 1 5.2 1 4.8 1 3.5 1 2.2 1 0.5 1 5.7 1 2.1 1 1.8 1 -1.9 1 -3.5 1 1 1 -3.4 1 0.1 1 -1.2 1 -5.5 1 -2 1 4.4 1 2.2 1 1.4 1 2.3 1 -0.9 1 -1 1 -3.9 1 -2 1 -4.4 1 -5 1 -5 1 -0.3 1 4.3 1 3.5 1 1.8 1 1.2 1 2.8 1 0.8 1 -2.1 1 -0.7 1 -0.4 1 5.3 1 4.4 1 3.1 1 6.1 1 -8.9 1 -4.1 1 -4.5 1 -2.6 1 -1.6 1 0.4 1 2.5 1 -1.3 1 0.7 1 -7.9 1 -6 1 -6 1 0.5 1 1.2 1 3.9 1 -0.1 1 2.7 1 1.3 1 2.9 1 -0.4 1 1.1 1 -1 1 4.2 1 4.8 1 2 1 11.7 1 3.6 1 6.1 1 2.3 1 2.3 1 -0.6 1 1.5 1 -1.7 1 -0.5 1 -0.4 1 1.7 1 -6.9 1 -8.5 1 -4.3 1 -5.7 1 -3.6 1 -0.6 1 -1.6 1 -2 1 0.6 1 -0.6 1 -2.2 1 -3.2 1 -0.6 1 1.9 1 -0.7 1 -2.9 1 -1.2 1 -4.4 1 0.1 1 -2.2 1 1.4 1 -2.1 1 5 1 6 1 3.5 1 1.5 1 1.5 1 0.5 1 -2.3 1 0 1 3.2 1 0.6 1 0.6 1 -4.3 1 0 1 -2.5 1 -2.5 1 -2.6 1 -6 1 3 1 3.8 1 9.4 1 1.4 1 3.5 1 3.1 1 6.6 1 3.5 1 0.1 1 6 1 -4.8 1 -3.4 1 1.9 1 -2.3 1 -2.8 1 -2.7 1 -6.8 1 -4.3 1 -6 1 -3 1 -5.8 1 2.4 1 3.7 1 1.1 1 2 1 0.5 1 1.5 1 1.1 1 3.3 1 1.6 1 4.5 1 2.4 1 -2.3 1 2.8 1 1 1 4.6 1 6.7 1 -1.4 1 3.4 1 -0.3 1 0.2 1 2 1 5.2 1 -0.3 1 1.3 1 1.3 1 -0.6 1 0.7 1 -1 1 -1.1" fill="none" stroke="#264478" stroke-width="3.90" stroke-linejoin="round" stroke-linecap="round"/><line x1="121.8" y1="1602.7" x2="154.3" y2="1602.7" stroke="#4472C4" stroke-width="3.3" stroke-linecap="round"/><text x="157.6" y="1606.3" font-size="11.4" textLength="44.9" lengthAdjust="spacingAndGlyphs">BTC-JSE</text><line x1="213.9" y1="1602.7" x2="246.4" y2="1602.7" stroke="#ED7D31" stroke-width="3.3" stroke-linecap="round"/><text x="249.7" y="1606.3" font-size="11.4" textLength="44.9" lengthAdjust="spacingAndGlyphs">ETH-JSE</text><line x1="306.0" y1="1602.7" x2="338.5" y2="1602.7" stroke="#A5A5A5" stroke-width="3.3" stroke-linecap="round"/><text x="341.8" y="1606.3" font-size="11.4" textLength="45.5" lengthAdjust="spacingAndGlyphs">BNB-JSE</text><line x1="398.1" y1="1602.7" x2="430.6" y2="1602.7" stroke="#FFC000" stroke-width="3.3" stroke-linecap="round"/><text x="433.9" y="1606.3" font-size="11.4" textLength="45.5" lengthAdjust="spacingAndGlyphs">XRP-JSE</text><line x1="121.8" y1="1627.7" x2="154.3" y2="1627.7" stroke="#5B9BD5" stroke-width="3.3" stroke-linecap="round"/><text x="157.6" y="1631.3" font-size="11.4" textLength="45.5" lengthAdjust="spacingAndGlyphs">ADA-JSE</text><line x1="213.9" y1="1627.7" x2="246.4" y2="1627.7" stroke="#70AD47" stroke-width="3.3" stroke-linecap="round"/><text x="249.7" y="1631.3" font-size="11.4" textLength="42.9" lengthAdjust="spacingAndGlyphs">LTC-JSE</text><line x1="306.0" y1="1627.7" x2="338.5" y2="1627.7" stroke="#264478" stroke-width="3.3" stroke-linecap="round"/><text x="341.8" y="1631.3" font-size="11.4" textLength="47.3" lengthAdjust="spacingAndGlyphs">XMR-JSE</text></g>
<g><rect x="602.4" y="1320.7" width="596.2" height="324.9" fill="#fff" stroke="#e3e3e3" stroke-width="1.2"/><text x="751.9" y="1347.0" font-size="17.0" textLength="296.4" lengthAdjust="spacingAndGlyphs">Asset-backed cryptocurrencies vs JSE</text><line x1="688.3" y1="1371.9" x2="1180.1" y2="1371.9" stroke="#d9d9d9" stroke-width="1"/><text x="673.5" y="1376.5" font-size="12.8" text-anchor="end" textLength="56.8" lengthAdjust="spacingAndGlyphs">0.200000</text><line x1="688.3" y1="1400.5" x2="1180.1" y2="1400.5" stroke="#d9d9d9" stroke-width="1"/><text x="673.5" y="1405.1" font-size="12.8" text-anchor="end" textLength="56.8" lengthAdjust="spacingAndGlyphs">0.150000</text><line x1="688.3" y1="1429.0" x2="1180.1" y2="1429.0" stroke="#d9d9d9" stroke-width="1"/><text x="673.5" y="1433.7" font-size="12.8" text-anchor="end" textLength="56.8" lengthAdjust="spacingAndGlyphs">0.100000</text><line x1="688.3" y1="1457.6" x2="1180.1" y2="1457.6" stroke="#d9d9d9" stroke-width="1"/><text x="673.5" y="1462.2" font-size="12.8" text-anchor="end" textLength="56.8" lengthAdjust="spacingAndGlyphs">0.050000</text><line x1="688.3" y1="1486.2" x2="1180.1" y2="1486.2" stroke="#d9d9d9" stroke-width="1"/><text x="673.5" y="1490.8" font-size="12.8" text-anchor="end" textLength="56.8" lengthAdjust="spacingAndGlyphs">0.000000</text><line x1="688.3" y1="1514.8" x2="1180.1" y2="1514.8" stroke="#d9d9d9" stroke-width="1"/><text x="673.5" y="1519.4" font-size="12.8" text-anchor="end" textLength="61.3" lengthAdjust="spacingAndGlyphs">-0.050000</text><line x1="688.3" y1="1543.3" x2="1180.1" y2="1543.3" stroke="#d9d9d9" stroke-width="1"/><text x="673.5" y="1547.9" font-size="12.8" text-anchor="end" textLength="61.3" lengthAdjust="spacingAndGlyphs">-0.100000</text><line x1="688.3" y1="1571.9" x2="1180.1" y2="1571.9" stroke="#d9d9d9" stroke-width="1"/><text x="673.5" y="1576.5" font-size="12.8" text-anchor="end" textLength="61.3" lengthAdjust="spacingAndGlyphs">-0.150000</text><line x1="688.3" y1="1486.2" x2="688.3" y2="1490.2" stroke="#d9d9d9" stroke-width="1"/><line x1="784.5" y1="1486.2" x2="784.5" y2="1490.2" stroke="#d9d9d9" stroke-width="1"/><line x1="880.7" y1="1486.2" x2="880.7" y2="1490.2" stroke="#d9d9d9" stroke-width="1"/><line x1="976.9" y1="1486.2" x2="976.9" y2="1490.2" stroke="#d9d9d9" stroke-width="1"/><line x1="1073.1" y1="1486.2" x2="1073.1" y2="1490.2" stroke="#d9d9d9" stroke-width="1"/><line x1="1169.3" y1="1486.2" x2="1169.3" y2="1490.2" stroke="#d9d9d9" stroke-width="1"/><text x="688.3" y="1506.9" font-size="12.8" text-anchor="middle" textLength="52.5" lengthAdjust="spacingAndGlyphs">6-Apr-18</text><text x="784.5" y="1506.9" font-size="12.8" text-anchor="middle" textLength="52.5" lengthAdjust="spacingAndGlyphs">6-Apr-19</text><text x="880.7" y="1506.9" font-size="12.8" text-anchor="middle" textLength="52.5" lengthAdjust="spacingAndGlyphs">6-Apr-20</text><text x="976.9" y="1506.9" font-size="12.8" text-anchor="middle" textLength="52.5" lengthAdjust="spacingAndGlyphs">6-Apr-21</text><text x="1073.1" y="1506.9" font-size="12.8" text-anchor="middle" textLength="52.5" lengthAdjust="spacingAndGlyphs">6-Apr-22</text><text x="1169.3" y="1506.9" font-size="12.8" text-anchor="middle" textLength="52.5" lengthAdjust="spacingAndGlyphs">6-Apr-23</text><path d="M689.2 1483.0 l1 -4.4 1 -9.7 1 -3 1 3.4 1 -5 1 -2.8 1 -4.3 1 -6 1 1.3 1 -1 1 1.3 1 2.2 1 1.2 1 -1.1 1 0 1 -0.2 1 -0.2 1 -0.6 1 -0.6 1 4.9 1 -4.9 1 -0.1 1 -2.1 1 -1 1 0.9 1 -2.3 1 -0.2 1 -1 1 1.5 1 -1.8 1 -1.3 1 -5.2 1 -0.5 1 6 1 8.9 1 9.7 1 6.3 1 2.5 1 -2.3 1 -3.1 1 -1.4 1 -0.8 1 -7 1 -5.5 1 1 1 -1.3 1 -0.7 1 0.4 1 -1.4 1 -3.3 1 -5.1 1 -0.1 1 -2.6 1 2.2 1 -4.4 1 -1.4 1 -2.3 1 -1.9 1 -5.8 1 -4.7 1 -2.4 1 -2 1 -0.9 1 1.1 1 2.6 1 -0.2 1 0.5 1 1.1 1 0.1 1 -0.8 1 -1.1 1 2.3 1 -2.6 1 2 1 -2 1 0 1 -3.7 1 -2.3 1 0.6 1 -4.3 1 -1.5 1 3.1 1 -0.4 1 -0.8 1 -1.3 1 0.3 1 0.3 1 -1.1 1 3.4 1 6.6 1 7.5 1 1.1 1 -12.6 1 4.8 1 -5.2 1 -9.5 1 -0.4 1 4.1 1 -0.5 1 -3.1 1 3.7 1 3.6 1 6.1 1 5.9 1 -0.2 1 -1.7 1 -3.2 1 0 1 2.7 1 -3.5 1 2.5 1 1.9 1 4.3 1 2.3 1 4.2 1 1.5 1 4.7 1 1.5 1 3.6 1 3.1 1 1.9 1 4.4 1 2.1 1 3.6 1 5.1 1 0.6 1 1.2 1 0.5 1 1.6 1 1.3 1 3.5 1 -0.6 1 0.5 1 4.2 1 4 1 -0.1 1 -2 1 -1.8 1 -2.6 1 0.4 1 -2.8 1 2.3 1 3.2 1 -2.1 1 4.2 1 2.5 1 2.7 1 -0.2 1 1.4 1 3.6 1 -1.7 1 0.3 1 0.3 1 -1.2 1 0.2 1 -8.6 1 2.4 1 3 1 10 1 2.2 1 1.3 1 5.4 1 -2.7 1 3.8 1 0.7 1 5.2 1 0.3 1 1.3 1 4.3 1 2.3 1 3.1 1 6.8 1 1 1 6.2 1 3.5 1 1.7 1 2.3 1 -5.6 1 -2.4 1 -6.3 1 -1.4 1 -4.8 1 -7.3 1 0 1 -8.2 1 -3.5 1 1.1 1 0.8 1 -0.3 1 -1.3 1 -1.1 1 -0.2 1 0.2 1 0.3 1 -1.4 1 0.6 1 0.1 1 1.5 1 -3.4 1 -0.5 1 -2.1 1 -4 1 -2.9 1 -1.9 1 -0.5 1 0.8 1 0.6 1 -0.1 1 -1.2 1 1 1 0.8 1 0.9 1 -2.1 1 0 1 -0.6 1 -1.6 1 0.3 1 -1.1 1 -2.2 1 -0.9 1 1.3 1 -0.8 1 0.2 1 0.6 1 -2.2 1 -0.7 1 -0.9 1 -0.5 1 1.5 1 -1.5 1 -4.3 1 1.5 1 -2.6 1 0.3 1 0.6 1 -1 1 0 1 1.8 1 2 1 -2.6 1 -1.4 1 0.3 1 1.6 1 -0.7 1 2.9 1 -0.4 1 -2.7 1 1 1 -0.3 1 0.2 1 -5 1 -1.2 1 -7.2 1 -3.1 1 0.2 1 -5.1 1 0.7 1 -5.1 1 -14.3 1 -6.4 1 -8 1 0.6 1 1.8 1 7.4 1 -3.3 1 0.9 1 2.9 1 3.6 1 2.6 1 0.9 1 5.5 1 6 1 7.9 1 2.9 1 3 1 3.2 1 4 1 -3.1 1 2 1 1.9 1 0.4 1 2.2 1 -2.5 1 0.9 1 -2 1 -0.8 1 -1.8 1 2.5 1 -1.3 1 -1.3 1 1.3 1 -1.1 1 3.6 1 7.7 1 1.9 1 0.8 1 6.4 1 5.4 1 -0.7 1 5.9 1 7.2 1 3.9 1 -4.5 1 -5.4 1 -2.2 1 -3 1 -0.6 1 -2.2 1 -2.8 1 2 1 1.1 1 -0.3 1 -4.2 1 0.1 1 -0.3 1 -2.7 1 -1.1 1 -1.7 1 -0.3 1 0.2 1 0.5 1 -1 1 -8.5 1 -4.5 1 -8.7 1 -4.8 1 4.3 1 -1.7 1 2.2 1 -0.6 1 -5.1 1 1.3 1 0.9 1 0.4 1 -2.9 1 -1.1 1 1.4 1 4 1 5.8 1 -0.3 1 0.5 1 1.1 1 2 1 0.2 1 2.4 1 2 1 1.1 1 0.8 1 1.3 1 0.1 1 -0.3 1 0.8 1 -3.1 1 0.3 1 -3.4 1 -0.3 1 3.5 1 -1.6 1 -0.1 1 1.8 1 -0.6 1 0 1 -1.5 1 -6.5 1 0.1 1 -1.7 1 -1 1 -1.3 1 -0.7 1 -4.2 1 -6.7 1 -2.5 1 -1.5 1 3.9 1 1 1 -0.8 1 0.4 1 -0.1 1 4.1 1 1 1 -0.3 1 1.6 1 1.9 1 -4.3 1 5.6 1 -0.8 1 -1.7 1 -2 1 -0.3 1 3.4 1 -3.1 1 -5 1 1.8 1 3.8 1 0.8 1 5.3 1 2.6 1 3.9 1 0.9 1 2.1 1 1.7 1 -0.8 1 3 1 3.6 1 -0.2 1 -2.5 1 -1.9 1 -1.8 1 -0.5 1 0.1 1 -0.3 1 0.3 1 -1.7 1 0.3 1 -0.3 1 -0.9 1 0.3 1 0.6 1 -1.4 1 -0.7 1 -4.1 1 -2.8 1 -2.9 1 0 1 -1.9 1 -0.8 1 0.1 1 -2.2 1 -3.3 1 -1.6 1 -2.1 1 -5.2 1 -3.2 1 -3.8 1 -0.5 1 -7.4 1 -3.2 1 -7.4 1 -1.5 1 3.5 1 2.9 1 2.4 1 1.3 1 1.8 1 4.8 1 0.1 1 2.4 1 -0.2 1 -1.6 1 -1.1 1 1.1 1 -1.7 1 0.3 1 2.8 1 2.7 1 4.6 1 -2.9 1 1.3 1 4.8 1 -0.6 1 4.1 1 2.2 1 -0.3 1 0.8 1 1.2 1 -1.7 1 -0.3 1 2 1 1.2 1 -2.4 1 2.5 1 2.4 1 2.4 1 2.8 1 1.9 1 4.8 1 4.2 1 5.3 1 0.5 1 2.2 1 0.3 1 3 1 3.4 1 0.9 1 0.3 1 2.8 1 4.1 1 -1.8 1 -4.1 1 -4.2" fill="none" stroke="#4472C4" stroke-width="3.90" stroke-linejoin="round" stroke-linecap="round"/><path d="M689.2 1496.8 l1 4.7 1 3.7 1 2.5 1 3.1 1 -1.8 1 -7 1 -6.9 1 -3.5 1 -1 1 -0.6 1 -0.7 1 -2 1 1.8 1 5.8 1 -0.8 1 2.7 1 4.6 1 9.3 1 5.4 1 3.6 1 0.8 1 -11.2 1 -6.9 1 -10.6 1 -8.1 1 -8.1 1 2.1 1 -1 1 -3.2 1 -0.5 1 -0.2 1 1.2 1 1 1 -3.2 1 -4.8 1 -3.1 1 -4.3 1 -1.4 1 -4.1 1 -4.3 1 0.3 1 2.5 1 -3.3 1 -2.4 1 -2.7 1 -2.9 1 -5 1 -2 1 2.3 1 5.8 1 4.2 1 2.1 1 -0.9 1 -2.2 1 2.7 1 2 1 -2.5 1 1.1 1 -0.6 1 -0.4 1 1.3 1 -1 1 0.9 1 3.9 1 2.6 1 -0.5 1 -3.1 1 -0.4 1 0.8 1 2.1 1 -2.5 1 -1.8 1 -2 1 -0.2 1 -3.1 1 -2.5 1 -2.1 1 -1.2 1 -0.5 1 -2.1 1 -3.7 1 0.5 1 -2.9 1 1.5 1 -9.2 1 -1.2 1 10.3 1 -1.8 1 -2.8 1 -1.5 1 -6.8 1 -3.4 1 -2.8 1 -2 1 -6.2 1 -3.2 1 -1.2 1 3.9 1 -1.5 1 0.3 1 -5.2 1 -1.2 1 1.7 1 0.4 1 1.4 1 1.3 1 1.1 1 -0.4 1 -0.7 1 2.4 1 -3.6 1 -2.5 1 -4 1 -1.3 1 3.3 1 11 1 4.5 1 -0.9 1 1.5 1 -1.1 1 1.1 1 3 1 0.5 1 9.8 1 3.9 1 5.4 1 2.5 1 1.5 1 2 1 0 1 -0.7 1 -2.6 1 -3.4 1 2 1 -5.1 1 -1.5 1 -3.2 1 -2.4 1 1.7 1 2.5 1 1.3 1 4.9 1 4.1 1 5 1 2.5 1 4.5 1 3.8 1 7.2 1 3.6 1 4.8 1 2.8 1 3.7 1 4.7 1 1 1 -0.4 1 -1.6 1 -0.1 1 -1.2 1 -0.5 1 -6.3 1 -5.5 1 -5.2 1 1.5 1 0.8 1 -0.9 1 -2.6 1 -0.8 1 -1.1 1 0.7 1 -5 1 -7.5 1 -4.5 1 6.4 1 5.8 1 9.1 1 4 1 -0.4 1 0.6 1 -6.2 1 3.3 1 4.6 1 3.6 1 1.4 1 7.4 1 8.2 1 10.3 1 5.8 1 3.6 1 -2 1 1.8 1 -1.7 1 -1.2 1 -0.5 1 -1.5 1 0.9 1 -0.4 1 -0.2 1 1.6 1 -0.3 1 0.8 1 1.5 1 -0.3 1 -1.6 1 1.2 1 5.2 1 -5 1 1.7 1 0.5 1 0.7 1 -1.5 1 1.8 1 -0.6 1 -0.1 1 3.5 1 -2.3 1 1.6 1 -3.2 1 -2.4 1 -6.6 1 -6.2 1 -9 1 5.4 1 -5.7 1 -2.4 1 0.3 1 2.5 1 -2.8 1 -0.8 1 -2.7 1 -0.4 1 -0.3 1 -2.4 1 -1.5 1 -0.6 1 -0.3 1 -0.1 1 1 1 0.9 1 -5.5 1 -4.5 1 -0.3 1 -0.9 1 -2.8 1 0.7 1 -3.2 1 -4.9 1 2.3 1 -1.1 1 -3.9 1 -1.2 1 -2.9 1 6.2 1 0.1 1 -1.9 1 2.2 1 0.5 1 -2.9 1 1.8 1 4.5 1 -1 1 3.7 1 -0.1 1 -1.4 1 -1.8 1 -5.6 1 -4.2 1 1.5 1 -4 1 -2 1 -0.6 1 -2 1 0.2 1 -1.3 1 3.8 1 -4.3 1 -0.9 1 -3.2 1 -3.4 1 0 1 -2 1 -0.4 1 1.1 1 1.4 1 -1.3 1 -0.7 1 0.3 1 -1.2 1 0.1 1 1.6 1 -0.2 1 -1.4 1 -0.6 1 -4.1 1 -0.4 1 3.5 1 -1.9 1 -6.1 1 -0.4 1 2.7 1 2 1 -0.3 1 0.7 1 1.9 1 1.3 1 0.8 1 0.9 1 2.8 1 -1.4 1 5.4 1 -0.9 1 2.7 1 3.3 1 4.5 1 -0.1 1 1.3 1 -0.3 1 4.2 1 5.3 1 3.5 1 3.3 1 8.2 1 2.4 1 -0.3 1 6.6 1 1.4 1 0.1 1 1.2 1 -0.4 1 5 1 -2.2 1 2.4 1 2.9 1 -0.1 1 -1.2 1 -4.3 1 6.5 1 -0.4 1 -0.2 1 1.3 1 -2.7 1 0.2 1 -0.2 1 -0.4 1 -0.1 1 -0.4 1 1.7 1 4.6 1 8.2 1 5 1 0.2 1 6.1 1 7.3 1 2.2 1 3.4 1 7.7 1 1.3 1 -0.8 1 0.2 1 -0.5 1 -1.3 1 0.5 1 -1.6 1 -3.2 1 -4.9 1 0.8 1 -3.2 1 -5.4 1 -6.4 1 -1.5 1 0.4 1 -4.8 1 -1.5 1 1 1 -1.2 1 -3.1 1 0.8 1 0 1 -0.5 1 -3.6 1 -1.2 1 -0.6 1 0.2 1 -2.8 1 1.4 1 1.1 1 0 1 2.8 1 1.2 1 3.8 1 2 1 1.4 1 3.1 1 1.6 1 1.1 1 1.9 1 -5.7 1 -1 1 1.1 1 6.1 1 -0.1 1 1 1 -4.2 1 -3.9 1 -3.7 1 0.3 1 2.6 1 -1.8 1 -2.1 1 3 1 -3.5 1 -0.5 1 2.5 1 -2.2 1 0.3 1 2 1 0.3 1 -2.4 1 1.8 1 -4.5 1 -1.4 1 -0.1 1 0 1 -2.4 1 -1.9 1 8.2 1 2.5 1 6.3 1 4.5 1 4.1 1 3.9 1 9.1 1 5.5 1 0.4 1 2.7 1 -2.1 1 2.6 1 -1 1 -0.1 1 3.5 1 2.2 1 5.3 1 2.2 1 4.9 1 -3.3 1 -1.4 1 3.8 1 -1.8 1 -4.1 1 3 1 1.9 1 -4.4 1 -1.5 1 -4.7 1 -0.7 1 -0.5 1 -2.7 1 -2.4 1 -2.9 1 -4.7 1 -3.2 1 0.6 1 -3.6 1 0.8 1 -0.8 1 -1.8 1 -5.4 1 2.9 1 2.5 1 1.6 1 3.1 1 1.6 1 -3 1 0.7 1 1.9 1 -0.8 1 1.3 1 -2.8 1 -2.1 1 0.2 1 -0.4 1 2 1 0.6 1 -0.7 1 0.8 1 1.1 1 0.9 1 1.5 1 -0.6 1 0.2" fill="none" stroke="#ED7D31" stroke-width="3.90" stroke-linejoin="round" stroke-linecap="round"/><path d="M689.2 1474.2 l1 -1.2 1 -6.3 1 -10.7 1 -9.7 1 2.6 1 4.2 1 1.3 1 3.2 1 0.9 1 -5.7 1 -4.3 1 -5.5 1 -4.2 1 -7.6 1 -6.7 1 -4.5 1 -5 1 4 1 -1.3 1 -0.7 1 -2.9 1 0 1 -2.5 1 -4.2 1 2.1 1 3 1 -5.9 1 0.8 1 3.3 1 4.4 1 -2.4 1 3.5 1 7.7 1 1.6 1 4.5 1 2.1 1 0.7 1 0 1 3 1 -1.5 1 1.8 1 4.5 1 -1.7 1 2.2 1 -0.3 1 -0.2 1 7.6 1 3.3 1 4 1 2.5 1 4.9 1 0.3 1 1.6 1 4.1 1 2.5 1 0.3 1 9.2 1 2.4 1 -0.5 1 2 1 -7.5 1 -5.1 1 -0.9 1 -3.3 1 -3.6 1 -2.1 1 -0.2 1 -1.4 1 -4.6 1 -1.4 1 -4.8 1 1.4 1 3.9 1 0.3 1 0.9 1 -0.6 1 0 1 -0.2 1 0.6 1 -0.9 1 1.2 1 6.7 1 -1.8 1 -4.6 1 -3.4 1 -3.3 1 -4.1 1 5.3 1 3.7 1 -2.1 1 -0.9 1 -0.2 1 -1.1 1 1 1 4.6 1 1.4 1 -0.1 1 -0.8 1 2.6 1 1.2 1 -3 1 2 1 -1.2 1 1.6 1 0.6 1 -1.8 1 -2.3 1 2.4 1 0.4 1 -1.9 1 0.5 1 -1 1 -1.7 1 -0.9 1 0.1 1 4.2 1 -0.6 1 3.7 1 5.5 1 0.4 1 -0.1 1 5.3 1 -1.4 1 3.1 1 0.2 1 4.2 1 0.2 1 1 1 2.1 1 -3.5 1 -1.2 1 1.9 1 4.7 1 2.1 1 0 1 2.4 1 2.6 1 -1.3 1 1 1 0.8 1 -2 1 1.7 1 -1.3 1 1.6 1 2.8 1 0.6 1 1.8 1 0.6 1 -0.8 1 1.7 1 -2.4 1 2.1 1 3 1 -2 1 -0.5 1 1.6 1 1 1 6.6 1 2.2 1 1.8 1 -10.3 1 -0.5 1 3.5 1 -2.7 1 1.4 1 3 1 -2.5 1 -1.7 1 1.6 1 2.8 1 3.7 1 -3.5 1 0.9 1 0.4 1 2.8 1 -1 1 1.5 1 -0.4 1 2.1 1 -1.4 1 -1.5 1 -4.6 1 -4.2 1 -0.1 1 -4 1 -0.8 1 -2.3 1 -3.3 1 -3.1 1 -4.1 1 -3 1 -2.2 1 -0.2 1 0.4 1 -1.5 1 -6.7 1 3.4 1 0 1 -2.5 1 0.4 1 -0.7 1 -1.2 1 2.4 1 -1.4 1 1.3 1 1.8 1 1.3 1 -0.6 1 3.8 1 -1.4 1 -0.5 1 -0.6 1 0.5 1 0.4 1 -2.4 1 2.9 1 3 1 1.5 1 1 1 0.1 1 0 1 2.7 1 -1.9 1 -1.9 1 0.3 1 1.9 1 -1.5 1 -1.5 1 -1.8 1 3 1 -2.2 1 2.2 1 -2.4 1 -1 1 -1.1 1 -4.4 1 -7.8 1 -6 1 -8.3 1 -10.5 1 -2 1 8.1 1 13.6 1 2.6 1 4.8 1 -5 1 6.4 1 1.4 1 4.6 1 4.7 1 1 1 7.5 1 3.6 1 0.4 1 0.9 1 0.8 1 5.5 1 -6.1 1 3.3 1 -0.3 1 2.6 1 -1.2 1 6.4 1 0.9 1 0.4 1 3 1 -10.8 1 2.8 1 2 1 6.3 1 1 1 0.4 1 -1 1 -0.2 1 0.4 1 0.4 1 -0.7 1 -1.9 1 -2 1 0.2 1 -0.3 1 -0.2 1 2.7 1 -3.5 1 -1.6 1 2.5 1 -1.6 1 -0.8 1 -4.5 1 -3.2 1 1.4 1 -1 1 0.6 1 -0.1 1 -3.4 1 0.3 1 -0.4 1 -0.6 1 -2 1 -0.5 1 0.3 1 2.4 1 -3 1 1.2 1 -2.1 1 -2.5 1 0.2 1 -1.7 1 -3.4 1 0.9 1 2.4 1 -0.9 1 3 1 -5 1 -12.7 1 -7.7 1 -4.5 1 -4.7 1 -4.5 1 -3.5 1 -5.8 1 -6.4 1 -5.5 1 -5.7 1 1.7 1 4.5 1 -0.2 1 2.2 1 2.1 1 0.7 1 4.4 1 -0.1 1 0.1 1 1.9 1 3 1 3.9 1 2.1 1 0 1 -1.3 1 2.2 1 0.6 1 0.9 1 1.4 1 2 1 -0.7 1 -2.5 1 -1.6 1 -4 1 -8.1 1 -2.6 1 -4.6 1 -3.8 1 -4.2 1 -7 1 -6.5 1 -1 1 1.3 1 0.9 1 4.8 1 1.9 1 -1.3 1 2.2 1 2.6 1 -1.2 1 1.1 1 4.6 1 -2.1 1 -0.5 1 -0.6 1 -2.5 1 -4.8 1 -6 1 -3.5 1 -2.8 1 -1.2 1 4.7 1 2.1 1 -0.9 1 -1.5 1 1.4 1 3.2 1 -0.6 1 4.4 1 1 1 0.3 1 1.3 1 3.3 1 4.7 1 5.3 1 0.6 1 8.8 1 5 1 2.9 1 2.7 1 -3 1 2.8 1 1.9 1 1.5 1 -2.8 1 0.7 1 -2.4 1 -0.3 1 -0.6 1 -1.7 1 -4 1 0.4 1 -3 1 -3.9 1 -4.4 1 -5.4 1 -2.1 1 -1.1 1 2.6 1 2.4 1 8 1 2.5 1 0.4 1 -3 1 -0.1 1 -3.9 1 0 1 1.3 1 0.9 1 -2.8 1 -2.7 1 1.9 1 -5.7 1 -6 1 -6.2 1 2 1 3.3 1 3.3 1 4.6 1 4.6 1 7.3 1 0.9 1 1.3 1 3.3 1 4.1 1 7.2 1 6.5 1 -0.4 1 0.4 1 -0.3 1 0.2 1 3.3 1 1.9 1 0.5 1 0.7 1 0.9 1 -0.6 1 0.1 1 0.5 1 -4.1 1 -3.2 1 0.3 1 -3.9 1 -0.8 1 -2.5 1 1.4 1 -1.5 1 0.7 1 1.8 1 -1.7 1 -0.7 1 1 1 0.3 1 -2.4 1 5.8 1 6.6 1 6.4 1 6.6 1 1.6 1 -11.8 1 -5.4 1 -10.1 1 -3.5 1 4.5 1 0.1 1 -1.4 1 -0.8 1 0 1 -0.1 1 -3.3 1 0.6 1 1.3 1 1.1 1 -0.8 1 1.5 1 -0.4" fill="none" stroke="#A5A5A5" stroke-width="3.90" stroke-linejoin="round" stroke-linecap="round"/><path d="M689.2 1500.2 l1 -0.7 1 2.6 1 -2.8 1 -2.1 1 -2.2 1 1.1 1 0.1 1 -1.8 1 0.1 1 0.7 1 -1.5 1 -0.6 1 -4.3 1 1.5 1 -0.5 1 -1.1 1 -3 1 -4.1 1 -6.4 1 2.5 1 -6.7 1 0.3 1 -5.3 1 4.2 1 -2.3 1 -1.1 1 2.7 1 0.6 1 -2.6 1 2.5 1 -1.2 1 0.6 1 -0.5 1 2.7 1 -1.8 1 -0.1 1 -1 1 -2.2 1 -0.5 1 -1.2 1 -0.2 1 -0.2 1 0.7 1 2.1 1 -2 1 -4.4 1 2.3 1 -0.1 1 0.4 1 -0.1 1 1.8 1 0.6 1 -0.5 1 1.6 1 1 1 -0.2 1 0 1 -1 1 -0.3 1 2.5 1 0 1 1.3 1 3.4 1 0.4 1 -0.8 1 0.2 1 1.2 1 5.7 1 1.8 1 2.2 1 2.3 1 5.1 1 1.3 1 2 1 -0.5 1 3.9 1 2.3 1 -2.4 1 -1.8 1 0 1 -0.6 1 -0.8 1 -1.3 1 0.2 1 -1 1 2.8 1 0.6 1 0.5 1 -1.5 1 -1.1 1 3.2 1 -1.8 1 -3.2 1 1.3 1 -2.6 1 -5.1 1 -2.3 1 -0.4 1 -0.6 1 -0.8 1 -0.8 1 0.4 1 -0.8 1 -0.4 1 -0.9 1 -4.1 1 -2.5 1 -0.4 1 0.6 1 -4 1 -2.4 1 0.9 1 1.5 1 6.1 1 -0.1 1 3.6 1 5.1 1 5.1 1 2.4 1 4.5 1 5.9 1 5.7 1 6.4 1 2.9 1 0.1 1 -2.4 1 5.4 1 -3.7 1 -0.5 1 1.1 1 -2 1 -1 1 -0.3 1 -3.7 1 -1.6 1 0.8 1 -3.2 1 0.3 1 -1.1 1 1.7 1 -2.7 1 1.4 1 -0.6 1 -0.2 1 -0.2 1 1 1 1.5 1 -1 1 -2.7 1 -1.8 1 -1.6 1 0.5 1 -2.8 1 -3.3 1 -0.3 1 -2.7 1 1.4 1 5.9 1 3.2 1 2.3 1 -0.8 1 2.5 1 -2.3 1 -0.8 1 -4.5 1 -4.1 1 -0.3 1 -3.9 1 -4.7 1 -2.2 1 1.1 1 -3.2 1 -3.8 1 -3.1 1 -0.1 1 3.9 1 3.9 1 -2.4 1 1 1 6.7 1 4.8 1 9.9 1 9.9 1 -3.3 1 1.1 1 -1.6 1 0.6 1 -0.4 1 -0.1 1 2 1 -0.2 1 -4.4 1 -3.7 1 -0.4 1 -2.4 1 -2 1 -1.2 1 2.5 1 -3.3 1 0.3 1 -1.5 1 -1 1 -3.1 1 0.8 1 0.1 1 0.2 1 -0.7 1 -1.2 1 -2.4 1 2.1 1 -0.5 1 -0.9 1 0 1 -0.4 1 -3.7 1 -1.2 1 1.8 1 -0.9 1 -1.7 1 0.1 1 -0.9 1 1.1 1 -0.7 1 0.1 1 -2.8 1 -4.9 1 0.9 1 -2.9 1 0.4 1 -2.2 1 -0.5 1 -0.7 1 -3.2 1 -5.8 1 -1.9 1 1.6 1 1.3 1 0.7 1 1.9 1 1.2 1 -3.3 1 2.2 1 2.5 1 5 1 2.5 1 3 1 3.6 1 4.1 1 -2.3 1 -0.1 1 -3.1 1 0.5 1 1.1 1 -2.8 1 -1.6 1 -1.1 1 0.5 1 -1.9 1 -2.9 1 -1.9 1 -2.9 1 -0.5 1 1 1 -0.3 1 1.8 1 0 1 1.7 1 1.8 1 1.4 1 -1.3 1 1.4 1 2.4 1 -0.1 1 -0.4 1 0.9 1 2.8 1 3 1 3.3 1 -0.1 1 2.8 1 3.9 1 3.9 1 2.4 1 4.4 1 2.3 1 1.7 1 1.3 1 -0.7 1 4.8 1 -0.7 1 -2.3 1 -0.8 1 -0.7 1 -3.4 1 -0.1 1 -3.3 1 -4.9 1 -7.8 1 -7.6 1 -0.9 1 -3.3 1 -7.7 1 -3.1 1 -2.2 1 -0.9 1 -1.9 1 0.2 1 5 1 8.5 1 -6.9 1 6.2 1 2 1 1.3 1 -1.4 1 -3.9 1 -2.9 1 -1 1 0.4 1 -4.5 1 0 1 -4.8 1 5.2 1 -1.4 1 1.3 1 -2.4 1 -2.9 1 -3.7 1 -4.7 1 -2.9 1 -2.9 1 -3.8 1 -5.4 1 -0.3 1 2.8 1 -1.7 1 7.2 1 2.8 1 2 1 -8.6 1 1.7 1 4.7 1 1.2 1 0.6 1 -3.1 1 1.2 1 -3.5 1 0.1 1 -1.1 1 -2.1 1 -5.8 1 -0.1 1 -0.5 1 -2.9 1 8 1 -0.8 1 3.5 1 2.9 1 1.3 1 9.6 1 10.5 1 9.3 1 9 1 -0.6 1 0.3 1 3.3 1 3 1 3 1 9 1 -6.3 1 3.5 1 3.7 1 2.5 1 2.1 1 4.6 1 3.4 1 -2.1 1 -0.2 1 -3.1 1 -4.8 1 0 1 -0.7 1 1.8 1 -1.2 1 0.8 1 2.1 1 -0.9 1 -0.3 1 1.1 1 1.4 1 0.5 1 1.6 1 -2.9 1 1.9 1 3.1 1 -1.4 1 0.8 1 -4.1 1 -2.5 1 -2.6 1 2.1 1 -3.7 1 -7.7 1 0.9 1 -0.9 1 -0.3 1 -1.7 1 -5 1 -4.9 1 -6.2 1 -1.1 1 -6.3 1 -1.2 1 -1.9 1 1 1 -0.7 1 -3 1 -3.3 1 -2.9 1 -4.9 1 -7.4 1 7 1 -1.6 1 -1 1 -2.3 1 -4 1 1.2 1 0.5 1 4.3 1 -5.3 1 1.8 1 -2.3 1 1.2 1 -1.5 1 -1.7 1 -2 1 1.9 1 1.4 1 -4.5 1 -1.2 1 1.3 1 7.1 1 3.5 1 1.1 1 4.5 1 3 1 6.3 1 3.6 1 -2.9 1 4.1 1 0.3 1 1.6 1 0.4 1 -0.7 1 1.8 1 1.3 1 -0.2 1 5.2 1 1.9 1 0.5 1 2.6 1 -0.9 1 2.2 1 3.3 1 -0.9 1 1.9 1 1.4 1 -1.3 1 1.5 1 1.6 1 -0.4 1 2.7 1 1.8 1 0 1 1.2 1 1.4 1 -0.6 1 -3.7 1 0.5 1 0.8 1 1.1 1 1.9 1 1.4 1 -2.4 1 -0.7 1 3.6 1 -0.9 1 -1.1 1 -3.2 1 2.4 1 -6.2" fill="none" stroke="#FFC000" stroke-width="3.90" stroke-linejoin="round" stroke-linecap="round"/><path d="M689.2 1485.2 l1 -3.5 1 5 1 -13.5 1 0.4 1 0.5 1 11.8 1 0.7 1 -4.7 1 -0.8 1 -0.3 1 2.9 1 -9.2 1 -1.7 1 2.4 1 1.3 1 -7.6 1 -4.4 1 -0.9 1 5.4 1 0.5 1 -0.1 1 -2.9 1 -0.9 1 -2.6 1 -0.9 1 -0.3 1 2.6 1 -0.9 1 -2.8 1 -1.1 1 0.4 1 -3.2 1 -6.1 1 0.7 1 -0.7 1 -1.5 1 -4.2 1 -5.1 1 1.1 1 -0.9 1 0.8 1 5 1 -2.3 1 3.3 1 2.5 1 1.6 1 0.5 1 -1.9 1 2.4 1 6.6 1 2.1 1 1.3 1 -3.9 1 3.1 1 1.4 1 -1.3 1 1.7 1 4.8 1 2 1 2.9 1 -1.2 1 -1.9 1 1.3 1 3.1 1 0.7 1 2.1 1 -2.9 1 2.8 1 1.8 1 2.7 1 -0.9 1 2.8 1 3 1 -0.4 1 -0.3 1 1.7 1 -1 1 1.4 1 1.3 1 0.5 1 2.6 1 -0.1 1 -0.5 1 3.7 1 2.5 1 -0.4 1 -0.6 1 0.1 1 -2.7 1 5.8 1 0.1 1 -6.9 1 0.5 1 2.9 1 1.7 1 -2 1 4.9 1 -2.4 1 -2.7 1 0.2 1 -4.8 1 2.2 1 -3.8 1 -1.7 1 2.7 1 1.7 1 -2.8 1 -1.2 1 0.8 1 1.1 1 4.2 1 3.2 1 3.4 1 3.2 1 9.4 1 12.9 1 5.4 1 -0.5 1 -0.7 1 1.6 1 -0.7 1 -3.8 1 0.8 1 -3.4 1 -0.2 1 2.8 1 3.4 1 -0.3 1 -1.3 1 0.1 1 -0.5 1 -2.7 1 -0.6 1 1.2 1 -3.7 1 -2.5 1 -3.5 1 1.7 1 -0.5 1 2.6 1 0.4 1 -1.2 1 -1.8 1 -3.2 1 -1 1 1.3 1 -0.2 1 -2.1 1 -3 1 -4.3 1 1.9 1 0.7 1 -1.7 1 -1.7 1 -0.6 1 1 1 0.4 1 -3.3 1 0.3 1 -1.2 1 0 1 -2.2 1 0.9 1 -3.1 1 0.4 1 0.8 1 -0.6 1 -4 1 -0.4 1 1.9 1 0.7 1 0.3 1 -0.8 1 1.1 1 0.9 1 0.7 1 2 1 1.8 1 2.1 1 1.5 1 -0.8 1 -2 1 -5.3 1 -7.8 1 -5.7 1 -4.4 1 -4.6 1 -6.9 1 -4 1 -3.2 1 -6.3 1 0.2 1 -1.6 1 4.7 1 -1.8 1 -0.5 1 -0.7 1 -0.2 1 -1 1 0.2 1 0.1 1 1.2 1 -2.4 1 -1.1 1 0.7 1 1.7 1 1.7 1 -3.9 1 0.9 1 0.5 1 1.4 1 5.7 1 11.1 1 6.4 1 9.6 1 9.2 1 9.9 1 11.2 1 4.1 1 -9.5 1 -4.2 1 -5.2 1 -6.2 1 -2.3 1 0.3 1 0.3 1 -4.1 1 -4.5 1 -1.8 1 -2 1 -3.9 1 -1.2 1 -2.5 1 -1.5 1 -4.1 1 -1.5 1 -3 1 -5 1 -2.8 1 -3.4 1 0.5 1 -4.3 1 -2.7 1 1.7 1 -0.3 1 -8.3 1 -3.2 1 -1.8 1 1.9 1 -2.9 1 -0.6 1 2.4 1 6.5 1 1.1 1 -1.9 1 0.8 1 -0.2 1 -2.4 1 0.5 1 -2.7 1 -0.4 1 2.9 1 -2 1 -4 1 -2.7 1 -6 1 -3.5 1 -1.9 1 -5.3 1 -7.2 1 -2.4 1 -1.9 1 -1.9 1 1.3 1 6.6 1 6.8 1 7.1 1 3.8 1 2.7 1 2.3 1 -1 1 4.7 1 5.6 1 3.8 1 1 1 0.9 1 -0.6 1 0.4 1 2.2 1 -1 1 2.2 1 1.3 1 -0.8 1 0.4 1 -3.1 1 -2.3 1 -1.9 1 -0.8 1 -3.5 1 0 1 -4.5 1 2.6 1 -5.4 1 -1.7 1 -1.2 1 1.4 1 0.1 1 -0.6 1 1.3 1 -0.5 1 -1.6 1 0.5 1 -1.9 1 3.8 1 0.2 1 1.8 1 2.3 1 1.3 1 3.7 1 1.5 1 2 1 -1 1 2.6 1 2.8 1 3.5 1 -1.2 1 -0.1 1 0.7 1 0.2 1 -0.7 1 1.4 1 -2.6 1 -1.9 1 -1.6 1 -4.4 1 -3.2 1 -6.6 1 -4.2 1 -6 1 -5.6 1 -3.3 1 -1.1 1 -1.1 1 -1.4 1 -0.5 1 4.5 1 5.5 1 6.2 1 5 1 5 1 4.9 1 3.4 1 3.8 1 2.6 1 4.4 1 2.2 1 0.2 1 -1.4 1 0.7 1 1.5 1 2.2 1 0.2 1 0.2 1 3.1 1 2.3 1 0.7 1 5.3 1 2 1 0.2 1 -2.8 1 0.6 1 -0.5 1 -2.4 1 -0.1 1 1.1 1 -0.2 1 0.3 1 -3.2 1 -1 1 -3.6 1 -2 1 -2.6 1 0.6 1 2.9 1 1.9 1 -2.9 1 -0.2 1 1.7 1 -2.2 1 0.4 1 -2.9 1 1.6 1 -3.5 1 1 1 2 1 -1.8 1 5 1 -3.3 1 -7.2 1 -2.1 1 1.6 1 0.1 1 -1 1 -2.6 1 -0.2 1 -1.8 1 2.5 1 -0.9 1 1 1 -0.1 1 0.5 1 0.7 1 3.3 1 -1.2 1 -0.2 1 -0.7 1 3 1 4.1 1 2.2 1 4.2 1 1.8 1 0.5 1 -0.3 1 0.2 1 0.6 1 -0.3 1 0.3 1 2.1 1 6 1 1.2 1 5.7 1 3 1 1.5 1 2.5 1 6.3 1 7.6 1 6.6 1 7.4 1 2.8 1 1 1 3 1 1 1 0.6 1 0 1 -4.5 1 2.4 1 -0.4 1 2.7 1 -0.7 1 2.6 1 -0.5 1 -3.3 1 -1.6 1 -3.6 1 -4.4 1 -1.3 1 -4 1 2.5 1 0.3 1 0.2 1 5.4 1 -0.7 1 0.4 1 3.2 1 0.8 1 2.2 1 2.1 1 -2.1 1 2.2 1 0.4 1 3.7 1 0.8 1 0.3 1 -1.8 1 3.8 1 -3.7 1 -4.3 1 -1.3 1 -1.6 1 -2.2 1 -2.9 1 -3.4 1 -2.4 1 1.8 1 2.4 1 2.4 1 1.4 1 5.6 1 3.7 1 6.7" fill="none" stroke="#5B9BD5" stroke-width="3.90" stroke-linejoin="round" stroke-linecap="round"/><path d="M689.2 1479.4 l1 -1.9 1 0.4 1 2.5 1 -4.3 1 0.9 1 -3 1 -1.1 1 0 1 0.7 1 -1.3 1 3.2 1 -0.7 1 -1.2 1 0.4 1 -2.6 1 -0.1 1 -0.5 1 -7.2 1 -5.3 1 -0.2 1 -2.4 1 -1 1 -3.4 1 -0.9 1 -4.8 1 -2.9 1 2.6 1 0.8 1 -3.5 1 0.7 1 -4.3 1 0.1 1 -2.6 1 -1.3 1 -2.6 1 -0.7 1 -5.2 1 -0.1 1 -3.7 1 -4.6 1 -5.7 1 -2.3 1 -0.3 1 -1.1 1 -0.2 1 0.5 1 -0.5 1 2.5 1 2.3 1 -0.6 1 0.7 1 -0.2 1 2.9 1 1 1 4 1 1.2 1 1.9 1 1.8 1 -0.6 1 0.4 1 4.7 1 2 1 -0.4 1 -2 1 1.1 1 2.5 1 3.5 1 -0.1 1 1.1 1 2.8 1 3.1 1 2.4 1 0.1 1 0 1 -0.1 1 1.1 1 1.6 1 -0.5 1 2.6 1 -4.6 1 -2 1 -0.2 1 1.4 1 2.2 1 2.4 1 -0.8 1 -2.2 1 4 1 8.5 1 4.3 1 3 1 0.3 1 3.3 1 0.8 1 0.1 1 2.3 1 1.5 1 7.3 1 -5.8 1 -1.6 1 2.3 1 -0.5 1 1.6 1 10.2 1 -0.6 1 1.1 1 -12.8 1 -1.7 1 -1.3 1 -1.6 1 -4.6 1 -4.3 1 -0.9 1 5.8 1 -1.2 1 -4.1 1 -1.8 1 0.2 1 -0.8 1 0 1 3.7 1 3.1 1 0.6 1 -0.2 1 0.3 1 0 1 -1.4 1 -0.1 1 -1.3 1 3.8 1 2.3 1 0.9 1 2.6 1 0.1 1 1.6 1 2.5 1 1.4 1 0 1 1.4 1 1.1 1 1.3 1 -0.1 1 -3 1 1.6 1 -0.9 1 -0.1 1 -1.1 1 -1.2 1 -5.1 1 -1.5 1 -5.9 1 -3.6 1 -3 1 -8.5 1 -3.1 1 -5.6 1 -2.4 1 0 1 3.5 1 7.8 1 3.6 1 2.5 1 3.8 1 1.4 1 0.7 1 3.2 1 1.2 1 1.2 1 2.2 1 -1.3 1 1.5 1 1.2 1 1.8 1 1.2 1 3.8 1 4.3 1 2.3 1 6 1 6.7 1 7.4 1 8.6 1 4.2 1 5 1 7.5 1 -1.6 1 -3.3 1 -9 1 -5.5 1 -8.6 1 -3.5 1 -4.2 1 -10.4 1 -3.3 1 -4.1 1 0 1 1.9 1 -1.1 1 -0.9 1 -3.4 1 -4.1 1 3.3 1 2 1 5.4 1 -2.6 1 -0.3 1 1.1 1 2.1 1 0.3 1 6.8 1 5 1 2.6 1 5.3 1 3.7 1 -2.7 1 1.2 1 -0.2 1 1.3 1 2.4 1 2 1 -5.1 1 -4.5 1 -5.3 1 -4.5 1 -6.9 1 -2 1 -5.9 1 -4.6 1 -4.5 1 -4.6 1 -4.2 1 -4.7 1 -0.6 1 -3.2 1 0 1 -0.8 1 -1.4 1 -2.9 1 4.3 1 16.1 1 7.7 1 6.6 1 -10.3 1 -1.4 1 -0.3 1 -7.2 1 -3.5 1 -1.4 1 1.5 1 -1.6 1 -1.9 1 1.9 1 -2.4 1 0.2 1 -1.2 1 -0.9 1 0.1 1 -0.5 1 -0.4 1 -1.7 1 -2.6 1 -2.4 1 -6.9 1 -5 1 -1.1 1 2.4 1 -1.6 1 -1.2 1 -0.8 1 0.2 1 -1.9 1 1 1 0.1 1 -3.2 1 -4.2 1 5.8 1 5.7 1 5.5 1 8.1 1 7.5 1 2.4 1 1.7 1 1.3 1 3.6 1 10 1 1.4 1 -1.4 1 0.9 1 2.3 1 1.3 1 -0.7 1 2.5 1 2.9 1 0.7 1 -3 1 2.9 1 -0.7 1 -1 1 1.5 1 -3.5 1 -3.3 1 0.5 1 -2.6 1 -2.5 1 -1.8 1 1.7 1 6.8 1 10.3 1 3.1 1 4.2 1 2.1 1 8.4 1 3 1 -1.3 1 3.6 1 1.4 1 3.4 1 -3.8 1 2.7 1 4.4 1 1.7 1 3.2 1 -1.1 1 -5.3 1 -5.4 1 -4.9 1 -7 1 2.6 1 -1.5 1 -0.6 1 0.2 1 6.7 1 0.5 1 3 1 2.3 1 3.4 1 1.5 1 -0.7 1 -3.5 1 2.1 1 4.5 1 2.4 1 2.4 1 3.2 1 1.5 1 12.1 1 -3.9 1 1 1 2.7 1 0.1 1 -2.6 1 -1.9 1 -4 1 -3.2 1 -4.9 1 -5.9 1 -3.2 1 -5.8 1 -6.4 1 -1.8 1 -6.4 1 -2.6 1 -3.1 1 -3.9 1 -5.4 1 -1.1 1 -0.8 1 -2.3 1 -3.9 1 -3.1 1 -0.2 1 0.4 1 -2.8 1 -0.1 1 -3.4 1 -3.2 1 -1.2 1 -0.4 1 1.6 1 -0.3 1 -0.5 1 -1 1 2.5 1 3.8 1 3.9 1 1.2 1 4.7 1 1.8 1 3 1 -0.1 1 3.8 1 2.6 1 2.4 1 3.3 1 3.3 1 -1.3 1 2.2 1 -0.4 1 3.7 1 -7.4 1 -0.2 1 -2.3 1 3.2 1 8.5 1 -0.2 1 -7.1 1 -0.4 1 -1.1 1 1.2 1 1.7 1 -1.5 1 1.6 1 0.5 1 -3.1 1 -1.1 1 -3.1 1 -1.7 1 -2.3 1 -2.4 1 -3 1 -2.6 1 1.3 1 0 1 -1.1 1 1.8 1 -4.9 1 1.3 1 1.5 1 0.7 1 -2.3 1 -1.5 1 1.8 1 2.9 1 0.8 1 -2.7 1 4.9 1 0.9 1 -0.3 1 3.3 1 3.8 1 -3.9 1 1.8 1 1.8 1 7 1 3.3 1 5.5 1 3.3 1 5 1 3 1 3 1 -2.7 1 0.4 1 -0.6 1 0.1 1 -1.7 1 -1.4 1 -4.4 1 -1.5 1 -5.4 1 -2.5 1 -6.2 1 -4.3 1 -6.9 1 -0.8 1 -2.8 1 3 1 4 1 3.4 1 1.8 1 1.1 1 3.2 1 2.8 1 3.3 1 3.3 1 -0.8 1 0.5 1 0 1 1.7 1 2.8 1 8.5 1 -8.2 1 -3.5 1 5 1 2.3 1 0 1 3.7 1 -0.8 1 2.3 1 -5.1 1 -0.4 1 3.1" fill="none" stroke="#70AD47" stroke-width="3.90" stroke-linejoin="round" stroke-linecap="round"/><path d="M689.2 1492.9 l1 0.7 1 0.9 1 0.8 1 -4.2 1 -10.5 1 -3.7 1 -0.9 1 -4.6 1 -3.1 1 0 1 2.3 1 -3.6 1 -4.3 1 2.7 1 -11.4 1 -1.9 1 -2.6 1 -0.8 1 -1.5 1 1.1 1 -4.9 1 -0.5 1 0.3 1 -3.7 1 -5.3 1 -3.4 1 -1.6 1 3.3 1 4 1 -4.4 1 1.4 1 1.2 1 -1.2 1 -3.2 1 2.2 1 -2.7 1 -3.3 1 -4 1 -0.8 1 -0.3 1 0.8 1 5.9 1 -0.9 1 2.4 1 -4 1 -1.9 1 0.6 1 -2.6 1 -1.2 1 -5.2 1 -6.5 1 -4.7 1 2.9 1 4.7 1 3 1 3 1 5.4 1 6.8 1 3.3 1 0.5 1 1.1 1 1.9 1 3.3 1 4 1 4.2 1 5.3 1 1.1 1 2.2 1 -2.8 1 2.7 1 0.3 1 2.3 1 0.3 1 0.3 1 -0.8 1 0.5 1 -0.4 1 5.2 1 5.8 1 5.8 1 9.3 1 1.2 1 -5.3 1 -2.5 1 1 1 3.1 1 3.5 1 -1.7 1 5.6 1 1.1 1 -2.6 1 -3.2 1 -2.7 1 2.6 1 6.4 1 5 1 12.5 1 6.8 1 -1.6 1 -3.9 1 -0.6 1 -2.5 1 -2.5 1 -9.4 1 -12.1 1 -7.1 1 -2.6 1 -3.6 1 -5.4 1 -6.7 1 -10.1 1 -4.1 1 -5.2 1 1.1 1 0.6 1 0.8 1 -0.9 1 2.4 1 0.6 1 0.3 1 3.6 1 1.1 1 2.3 1 5.3 1 3 1 5.3 1 4.3 1 1 1 2.8 1 -0.6 1 1.3 1 3.1 1 -0.6 1 4.5 1 1.2 1 5.5 1 4.4 1 -0.7 1 2.8 1 -0.8 1 -0.5 1 1 1 -8.9 1 -1.2 1 -2.9 1 1.5 1 2.4 1 1.7 1 5.7 1 -2.6 1 -1.8 1 -7.1 1 3 1 3.4 1 -0.8 1 1.9 1 2.1 1 3.7 1 3.4 1 1.9 1 -1.6 1 4.4 1 0.7 1 -5.7 1 4.8 1 1.5 1 0 1 2.9 1 5.7 1 13.6 1 2.6 1 4.4 1 -5.9 1 -3 1 3.9 1 -6 1 -3.9 1 -4.7 1 -3.3 1 -1.7 1 -0.6 1 -3.8 1 -2.3 1 -4.5 1 -2.8 1 -0.3 1 -0.6 1 1.8 1 0 1 3 1 -1.9 1 -3.7 1 2 1 -0.7 1 -2.7 1 -0.2 1 1.3 1 -0.3 1 1.5 1 3.1 1 -0.5 1 3.1 1 1.9 1 1.6 1 4.6 1 1.6 1 0.4 1 -1.9 1 4.5 1 2.9 1 -1.5 1 -4.5 1 3.7 1 -1.5 1 -4 1 -12.7 1 -8.3 1 -7 1 -5.5 1 0.3 1 -0.5 1 -5.4 1 -1.5 1 6.4 1 4.7 1 2.4 1 7.3 1 0.8 1 1.5 1 1.3 1 -2 1 8.2 1 1 1 2.4 1 4 1 3.9 1 0.3 1 1.7 1 2.3 1 -3.1 1 2.2 1 -3.2 1 -4.8 1 -2.9 1 -2.4 1 0.4 1 -0.3 1 -4 1 -0.9 1 -0.9 1 -0.7 1 -1 1 -1 1 -2.2 1 1.8 1 0.3 1 -0.6 1 -1.9 1 -8.4 1 -7.2 1 -6.6 1 5.4 1 7.2 1 3.7 1 3.1 1 4 1 3.6 1 1 1 4.5 1 -7.4 1 7.3 1 0.5 1 0.1 1 2.4 1 1.2 1 0.5 1 0.9 1 -5.3 1 -0.4 1 0.2 1 -1.1 1 0.4 1 -3.5 1 -2.3 1 1.3 1 -1.7 1 -2 1 0.4 1 -2.5 1 -2.5 1 0.4 1 0 1 -1.3 1 -7.1 1 0.2 1 -3.5 1 -2.1 1 -2.5 1 -2.1 1 -2.1 1 -4.3 1 0.1 1 -3 1 -3.4 1 -1.5 1 -2.3 1 -2.6 1 -1.5 1 5.4 1 5.9 1 3.5 1 -0.9 1 -2.1 1 0.6 1 -0.7 1 0.8 1 4.2 1 0.9 1 -4.5 1 3.1 1 5.5 1 2.6 1 3 1 1.6 1 -0.6 1 1.7 1 -0.4 1 1.7 1 -0.3 1 3.1 1 0.1 1 0.4 1 2.1 1 -2.5 1 2.3 1 2 1 0.7 1 2.9 1 -0.1 1 6.2 1 4.2 1 5.4 1 4.2 1 2.6 1 4.4 1 3.1 1 7.2 1 4.2 1 5.6 1 6.7 1 -1.8 1 -3.1 1 -2.8 1 -4.6 1 -4.3 1 -2.8 1 -4.4 1 -3.7 1 -0.5 1 -0.4 1 2.9 1 0.5 1 1.4 1 1.5 1 0.6 1 3.9 1 -6.5 1 0.3 1 -4.8 1 -7.2 1 -10.2 1 -1 1 0.6 1 2.9 1 -2.7 1 -1.1 1 -3.4 1 -1.6 1 -3.6 1 -2.7 1 -3.2 1 1.3 1 5.1 1 -1.5 1 2.8 1 1.8 1 6.4 1 4.4 1 -2.3 1 -4.9 1 2.2 1 0.1 1 -1.4 1 -0.4 1 1.6 1 -2 1 -1.6 1 -1.3 1 -1.2 1 -2.2 1 -6.7 1 -1.7 1 -2.6 1 -5.4 1 0.9 1 1.7 1 4.1 1 5.9 1 1.1 1 1.3 1 1.7 1 0.3 1 -4 1 -3.6 1 -3.4 1 -1.7 1 -2.5 1 -0.6 1 0.7 1 -3.6 1 1.4 1 -1.8 1 -3.5 1 -3.5 1 0.1 1 -0.6 1 -0.9 1 0.2 1 -1.4 1 -4 1 -2.6 1 -0.5 1 2 1 1.5 1 2.9 1 3 1 1.9 1 2.9 1 -0.3 1 1.6 1 -1 1 1.6 1 4.5 1 4 1 -0.3 1 0.7 1 -1.1 1 1.7 1 0.5 1 2.3 1 -2.9 1 -4.2 1 -2.5 1 4.2 1 4.4 1 3.4 1 9.2 1 2.8 1 1.1 1 2 1 2.3 1 2 1 2.5 1 0 1 2.6 1 0.3 1 4.4 1 -4.1 1 2.2 1 1.9 1 3.9 1 -0.5 1 1.2 1 -1.8 1 -1.3 1 -2.3 1 -0.9 1 -1.7 1 2.3 1 1.5 1 -1.5 1 0.6 1 0.9 1 0 1 -1.3 1 1.2 1 -1.4 1 1.4 1 2.8 1 4.7 1 7.2" fill="none" stroke="#264478" stroke-width="3.90" stroke-linejoin="round" stroke-linecap="round"/><line x1="704.1" y1="1600.3" x2="736.6" y2="1600.3" stroke="#4472C4" stroke-width="3.3" stroke-linecap="round"/><text x="739.9" y="1603.9" font-size="11.4" textLength="55.6" lengthAdjust="spacingAndGlyphs">USDT-JSE</text><line x1="805.0" y1="1600.3" x2="837.5" y2="1600.3" stroke="#ED7D31" stroke-width="3.3" stroke-linecap="round"/><text x="840.8" y="1603.9" font-size="11.4" textLength="44.1" lengthAdjust="spacingAndGlyphs">DAI-JSE</text><line x1="905.9" y1="1600.3" x2="938.4" y2="1600.3" stroke="#A5A5A5" stroke-width="3.3" stroke-linecap="round"/><text x="941.7" y="1603.9" font-size="11.4" textLength="48.5" lengthAdjust="spacingAndGlyphs">GLC-JSE</text><line x1="1006.7" y1="1600.3" x2="1039.2" y2="1600.3" stroke="#FFC000" stroke-width="3.3" stroke-linecap="round"/><text x="1042.5" y="1603.9" font-size="11.4" textLength="48.5" lengthAdjust="spacingAndGlyphs">HGT-JSE</text><line x1="704.1" y1="1625.0" x2="736.6" y2="1625.0" stroke="#5B9BD5" stroke-width="3.3" stroke-linecap="round"/><text x="739.9" y="1628.6" font-size="11.4" textLength="57.5" lengthAdjust="spacingAndGlyphs">MNTP-JSE</text><line x1="805.0" y1="1625.0" x2="837.5" y2="1625.0" stroke="#70AD47" stroke-width="3.3" stroke-linecap="round"/><text x="840.8" y="1628.6" font-size="11.4" textLength="46.6" lengthAdjust="spacingAndGlyphs">X8X-JSE</text><line x1="905.9" y1="1625.0" x2="938.4" y2="1625.0" stroke="#264478" stroke-width="3.3" stroke-linecap="round"/><text x="941.7" y="1628.6" font-size="11.4" textLength="56.8" lengthAdjust="spacingAndGlyphs">XAUR-JSE</text></g>
</svg></body></html>
